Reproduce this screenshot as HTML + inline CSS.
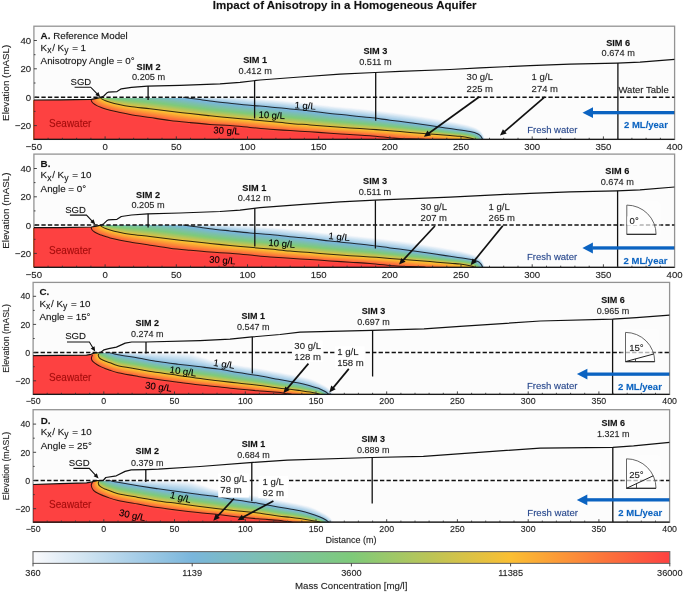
<!DOCTYPE html>
<html><head><meta charset="utf-8"><style>
html,body{margin:0;padding:0;background:#fff;}
svg{display:block;font-family:"Liberation Sans", sans-serif;will-change:transform;} text{stroke-opacity:0.4;stroke-width:0.3px;}
</style></head><body>
<svg width="685" height="592" viewBox="0 0 685 592">
<rect width="685" height="592" fill="#fff"/>
<text x="344.7" y="8.8" font-size="11.5" font-weight="bold" text-anchor="middle" fill="#111" stroke="#111">Impact of Anisotropy in a Homogeneous Aquifer</text>
<clipPath id="axA"><rect x="33.9" y="26.2" width="640.7" height="113.2"/></clipPath>
<clipPath id="satA"><polygon points="28.9,100.5 33.9,100.5 60.0,100.4 91.4,99.8 96.5,98.9 100.9,98.0 102.4,97.9 679.6,97.9 679.6,144.4 28.9,144.4"/></clipPath>
<rect x="33.9" y="26.2" width="640.7" height="113.2" fill="#fcfcfc"/>
<g clip-path="url(#axA)"><g clip-path="url(#satA)">
<polygon points="28.9,100.0 100.0,96.0 103.6,96.0 107.3,96.0 110.9,96.0 114.6,96.0 118.2,96.0 121.8,96.0 125.5,96.0 129.1,96.0 132.7,96.0 136.4,96.0 140.0,96.0 143.7,96.0 147.3,96.0 150.9,96.0 154.6,96.0 158.2,96.0 161.9,96.0 165.5,96.0 169.1,96.0 172.8,96.0 176.4,96.0 180.0,96.0 183.7,96.0 187.3,96.0 191.0,96.0 194.6,96.0 198.2,96.1 201.9,96.1 205.5,96.1 209.2,96.1 212.8,96.2 216.4,96.2 220.1,96.3 223.7,96.3 227.3,96.4 231.0,96.5 234.6,96.7 238.2,96.9 241.9,97.1 245.5,97.3 249.1,97.6 252.8,97.9 256.4,98.2 260.0,98.5 263.6,98.8 267.3,99.0 270.9,99.3 274.5,99.6 278.2,99.9 281.8,100.2 285.4,100.6 289.0,100.9 292.6,101.3 296.3,101.7 299.9,102.1 303.5,102.5 307.1,102.9 310.7,103.3 314.3,103.7 317.9,104.2 321.6,104.6 325.2,105.0 328.8,105.4 332.4,105.7 336.0,106.1 339.7,106.5 343.3,106.8 346.9,107.2 350.5,107.5 354.1,107.9 357.8,108.2 361.4,108.6 365.0,109.0 368.6,109.3 372.2,109.8 375.8,110.2 379.5,110.6 383.1,111.0 386.7,111.4 390.3,111.9 393.9,112.3 397.5,112.8 401.1,113.3 404.7,113.8 408.3,114.3 411.9,114.8 415.5,115.3 419.1,115.9 422.7,116.4 426.3,117.0 429.9,117.6 433.5,118.2 437.1,118.7 440.7,119.4 444.3,120.0 447.8,120.6 451.4,121.3 455.0,121.9 458.6,122.6 462.1,123.4 465.7,124.2 469.2,125.2 472.6,126.4 476.0,127.7 479.2,129.4 481.8,132.0 483.5,135.2 484.8,138.6 486.0,142.0 486.0,149.4 28.9,149.4" fill="#fafafc"/>
<polygon points="28.9,100.0 100.1,96.1 103.7,96.0 107.3,95.9 110.9,95.8 114.5,95.8 118.2,95.7 121.8,95.7 125.4,95.7 129.1,95.7 132.7,95.7 136.3,95.7 140.0,95.7 143.6,95.7 147.2,95.7 150.9,95.8 154.5,95.8 158.1,95.8 161.8,95.8 165.4,95.9 169.0,95.9 172.7,96.0 176.3,96.0 179.9,96.1 183.6,96.1 187.2,96.2 190.8,96.2 194.5,96.3 198.1,96.3 201.7,96.4 205.3,96.4 209.0,96.5 212.6,96.6 216.2,96.6 219.9,96.7 223.5,96.8 227.1,96.9 230.8,97.1 234.4,97.2 238.0,97.4 241.6,97.7 245.3,97.9 248.9,98.2 252.5,98.5 256.1,98.8 259.8,99.1 263.4,99.4 267.0,99.7 270.6,99.9 274.3,100.2 277.9,100.5 281.5,100.8 285.1,101.2 288.7,101.5 292.3,101.9 296.0,102.3 299.6,102.7 303.2,103.1 306.8,103.5 310.4,103.9 314.0,104.3 317.6,104.8 321.2,105.2 324.8,105.6 328.5,106.0 332.1,106.4 335.7,106.7 339.3,107.1 342.9,107.5 346.5,107.8 350.1,108.1 353.8,108.5 357.4,108.8 361.0,109.2 364.6,109.6 368.2,110.0 371.8,110.4 375.4,110.8 379.1,111.2 382.7,111.6 386.3,112.1 389.9,112.5 393.5,113.0 397.1,113.4 400.7,113.9 404.3,114.4 407.9,114.9 411.5,115.4 415.1,115.9 418.7,116.5 422.3,117.0 425.9,117.6 429.4,118.2 433.0,118.7 436.6,119.3 440.2,119.9 443.8,120.5 447.4,121.2 450.9,121.8 454.5,122.5 458.1,123.2 461.6,123.9 465.2,124.7 468.7,125.7 472.1,126.8 475.6,128.0 478.7,129.7 481.4,132.1 483.2,135.2 484.6,138.6 485.8,142.0 485.8,149.4 28.9,149.4" fill="#f1f5fa"/>
<polygon points="28.9,100.0 100.1,96.2 103.7,96.0 107.3,95.7 110.9,95.6 114.5,95.5 118.1,95.5 121.8,95.5 125.4,95.5 129.0,95.5 132.7,95.5 136.3,95.5 139.9,95.5 143.5,95.5 147.2,95.5 150.8,95.6 154.4,95.6 158.1,95.7 161.7,95.7 165.3,95.8 168.9,95.9 172.6,95.9 176.2,96.0 179.8,96.1 183.4,96.2 187.1,96.3 190.7,96.4 194.3,96.5 197.9,96.6 201.6,96.7 205.2,96.8 208.8,96.9 212.4,97.0 216.0,97.1 219.7,97.2 223.3,97.3 226.9,97.5 230.5,97.6 234.2,97.8 237.8,98.0 241.4,98.3 245.0,98.5 248.7,98.8 252.3,99.1 255.9,99.4 259.5,99.7 263.1,100.0 266.7,100.3 270.4,100.5 274.0,100.8 277.6,101.2 281.2,101.5 284.8,101.8 288.4,102.2 292.0,102.5 295.7,102.9 299.3,103.3 302.9,103.7 306.5,104.1 310.1,104.5 313.7,104.9 317.3,105.4 320.9,105.8 324.5,106.2 328.1,106.6 331.7,107.0 335.3,107.4 338.9,107.7 342.5,108.1 346.2,108.4 349.8,108.8 353.4,109.1 357.0,109.5 360.6,109.8 364.2,110.2 367.8,110.6 371.4,111.0 375.0,111.4 378.6,111.8 382.2,112.3 385.9,112.7 389.5,113.2 393.1,113.6 396.7,114.1 400.3,114.5 403.9,115.0 407.4,115.5 411.0,116.0 414.6,116.5 418.2,117.1 421.8,117.6 425.4,118.2 429.0,118.8 432.6,119.3 436.1,119.9 439.7,120.5 443.3,121.1 446.9,121.7 450.5,122.4 454.0,123.0 457.6,123.7 461.1,124.4 464.7,125.2 468.2,126.1 471.7,127.2 475.1,128.3 478.3,129.9 481.0,132.2 483.0,135.2 484.4,138.6 485.5,142.0 485.5,149.4 28.9,149.4" fill="#e7f0f7"/>
<polygon points="28.9,100.0 100.2,96.3 103.7,95.9 107.3,95.6 110.9,95.4 114.5,95.3 118.1,95.3 121.7,95.2 125.4,95.2 129.0,95.2 132.6,95.2 136.2,95.2 139.9,95.2 143.5,95.3 147.1,95.3 150.7,95.4 154.4,95.4 158.0,95.5 161.6,95.6 165.2,95.7 168.8,95.8 172.5,95.9 176.1,96.0 179.7,96.2 183.3,96.3 186.9,96.4 190.5,96.6 194.2,96.7 197.8,96.8 201.4,97.0 205.0,97.1 208.6,97.2 212.2,97.4 215.9,97.5 219.5,97.7 223.1,97.8 226.7,98.0 230.3,98.2 234.0,98.4 237.6,98.6 241.2,98.9 244.8,99.1 248.4,99.4 252.0,99.8 255.6,100.1 259.2,100.3 262.9,100.6 266.5,100.9 270.1,101.2 273.7,101.5 277.3,101.8 280.9,102.1 284.5,102.5 288.1,102.8 291.7,103.2 295.3,103.6 299.0,103.9 302.6,104.3 306.2,104.7 309.8,105.1 313.4,105.5 317.0,106.0 320.6,106.4 324.2,106.8 327.8,107.2 331.4,107.6 335.0,108.0 338.6,108.3 342.2,108.7 345.8,109.0 349.4,109.4 353.0,109.7 356.6,110.1 360.2,110.5 363.8,110.8 367.4,111.2 371.0,111.6 374.6,112.1 378.2,112.5 381.8,112.9 385.4,113.4 389.0,113.8 392.6,114.3 396.2,114.7 399.8,115.2 403.4,115.7 407.0,116.2 410.6,116.7 414.2,117.2 417.8,117.7 421.4,118.2 424.9,118.8 428.5,119.3 432.1,119.9 435.7,120.5 439.2,121.1 442.8,121.7 446.4,122.3 450.0,122.9 453.5,123.6 457.1,124.2 460.7,124.9 464.2,125.7 467.7,126.6 471.2,127.5 474.6,128.7 477.9,130.2 480.7,132.4 482.7,135.3 484.1,138.6 485.2,142.0 485.2,149.4 28.9,149.4" fill="#deebf5"/>
<polygon points="28.9,100.0 100.2,96.4 103.7,95.9 107.3,95.5 110.9,95.2 114.5,95.1 118.1,95.0 121.7,95.0 125.3,94.9 129.0,94.9 132.6,94.9 136.2,95.0 139.8,95.0 143.4,95.0 147.1,95.1 150.7,95.2 154.3,95.3 157.9,95.4 161.5,95.5 165.1,95.6 168.7,95.8 172.4,95.9 176.0,96.1 179.6,96.2 183.2,96.4 186.8,96.6 190.4,96.7 194.0,96.9 197.6,97.1 201.2,97.2 204.8,97.4 208.4,97.6 212.1,97.8 215.7,98.0 219.3,98.1 222.9,98.3 226.5,98.5 230.1,98.7 233.7,98.9 237.3,99.2 241.0,99.5 244.6,99.7 248.2,100.1 251.8,100.4 255.4,100.7 259.0,101.0 262.6,101.2 266.2,101.5 269.8,101.8 273.4,102.1 277.0,102.4 280.6,102.7 284.2,103.1 287.8,103.4 291.4,103.8 295.0,104.2 298.6,104.6 302.2,105.0 305.8,105.3 309.4,105.7 313.0,106.1 316.6,106.6 320.2,107.0 323.8,107.4 327.4,107.8 331.0,108.2 334.6,108.6 338.2,109.0 341.8,109.3 345.4,109.7 349.0,110.0 352.6,110.4 356.2,110.7 359.8,111.1 363.4,111.5 367.0,111.9 370.6,112.3 374.2,112.7 377.8,113.1 381.4,113.5 385.0,114.0 388.6,114.4 392.2,114.9 395.8,115.4 399.4,115.8 403.0,116.3 406.6,116.8 410.1,117.3 413.7,117.8 417.3,118.3 420.9,118.8 424.5,119.4 428.0,119.9 431.6,120.5 435.2,121.1 438.8,121.7 442.3,122.3 445.9,122.9 449.5,123.5 453.0,124.1 456.6,124.8 460.2,125.4 463.7,126.2 467.2,127.0 470.7,127.9 474.1,129.0 477.4,130.4 480.3,132.5 482.4,135.3 483.9,138.6 485.0,142.0 485.0,149.4 28.9,149.4" fill="#d4e6f3"/>
<polygon points="28.9,100.0 100.3,96.5 103.8,95.9 107.3,95.4 110.9,95.0 114.5,94.9 118.1,94.8 121.7,94.7 125.3,94.7 128.9,94.7 132.5,94.7 136.1,94.7 139.8,94.7 143.4,94.8 147.0,94.9 150.6,95.0 154.2,95.1 157.8,95.2 161.4,95.4 165.0,95.5 168.6,95.7 172.3,95.9 175.9,96.1 179.5,96.3 183.1,96.5 186.7,96.7 190.3,96.9 193.9,97.1 197.5,97.3 201.1,97.5 204.7,97.8 208.3,98.0 211.9,98.2 215.5,98.4 219.1,98.6 222.7,98.8 226.3,99.0 229.9,99.2 233.5,99.5 237.1,99.8 240.7,100.0 244.3,100.3 247.9,100.7 251.5,101.0 255.1,101.3 258.7,101.6 262.3,101.8 265.9,102.1 269.6,102.4 273.2,102.7 276.8,103.0 280.4,103.4 284.0,103.7 287.5,104.1 291.1,104.5 294.7,104.8 298.3,105.2 301.9,105.6 305.5,105.9 309.1,106.3 312.7,106.7 316.3,107.2 319.9,107.6 323.5,108.0 327.1,108.4 330.7,108.9 334.3,109.2 337.9,109.6 341.5,109.9 345.1,110.3 348.7,110.6 352.3,111.0 355.9,111.4 359.5,111.7 363.1,112.1 366.6,112.5 370.2,112.9 373.8,113.3 377.4,113.7 381.0,114.2 384.6,114.6 388.2,115.1 391.8,115.5 395.4,116.0 398.9,116.5 402.5,116.9 406.1,117.4 409.7,117.9 413.3,118.4 416.9,118.9 420.4,119.4 424.0,120.0 427.6,120.5 431.2,121.1 434.7,121.7 438.3,122.2 441.9,122.8 445.4,123.4 449.0,124.0 452.6,124.7 456.1,125.3 459.7,125.9 463.2,126.6 466.7,127.4 470.2,128.3 473.7,129.3 477.0,130.7 479.9,132.6 482.1,135.3 483.7,138.5 484.8,142.0 484.8,149.4 28.9,149.4" fill="#cbe1f0"/>
<polygon points="28.9,100.0 100.3,96.7 103.8,95.9 107.3,95.2 110.8,94.8 114.4,94.6 118.0,94.5 121.7,94.5 125.3,94.4 128.9,94.4 132.5,94.4 136.1,94.4 139.7,94.5 143.3,94.5 146.9,94.6 150.5,94.8 154.1,94.9 157.7,95.1 161.3,95.3 165.0,95.5 168.6,95.6 172.2,95.9 175.7,96.1 179.3,96.3 182.9,96.6 186.5,96.8 190.1,97.1 193.7,97.3 197.3,97.6 200.9,97.8 204.5,98.1 208.1,98.4 211.7,98.6 215.3,98.8 218.9,99.1 222.5,99.3 226.1,99.5 229.7,99.8 233.3,100.0 236.9,100.3 240.5,100.6 244.1,101.0 247.7,101.3 251.3,101.6 254.9,101.9 258.5,102.2 262.1,102.5 265.7,102.7 269.3,103.0 272.9,103.3 276.5,103.6 280.1,104.0 283.7,104.3 287.3,104.7 290.8,105.1 294.4,105.5 298.0,105.8 301.6,106.2 305.2,106.6 308.8,106.9 312.4,107.3 316.0,107.8 319.6,108.2 323.2,108.6 326.7,109.1 330.3,109.5 333.9,109.9 337.5,110.2 341.1,110.6 344.7,110.9 348.3,111.3 351.9,111.6 355.5,112.0 359.1,112.3 362.7,112.7 366.3,113.1 369.8,113.5 373.4,113.9 377.0,114.4 380.6,114.8 384.2,115.3 387.8,115.7 391.3,116.2 394.9,116.6 398.5,117.1 402.1,117.6 405.7,118.0 409.3,118.5 412.8,119.0 416.4,119.5 420.0,120.0 423.5,120.6 427.1,121.1 430.7,121.7 434.3,122.2 437.8,122.8 441.4,123.4 444.9,124.0 448.5,124.6 452.1,125.2 455.6,125.8 459.2,126.4 462.7,127.1 466.2,127.9 469.7,128.7 473.2,129.7 476.5,130.9 479.5,132.8 481.9,135.4 483.5,138.5 484.5,142.0 484.5,149.4 28.9,149.4" fill="#c2dcee"/>
<polygon points="28.9,100.0 100.4,96.8 103.8,95.9 107.3,95.1 110.8,94.6 114.4,94.4 118.0,94.3 121.6,94.2 125.2,94.2 128.8,94.2 132.4,94.2 136.1,94.2 139.7,94.2 143.3,94.3 146.9,94.4 150.5,94.6 154.1,94.7 157.7,94.9 161.3,95.2 164.9,95.4 168.5,95.6 172.0,95.8 175.6,96.1 179.2,96.4 182.8,96.7 186.4,97.0 190.0,97.3 193.6,97.5 197.2,97.8 200.8,98.1 204.3,98.4 207.9,98.7 211.5,99.0 215.1,99.3 218.7,99.5 222.3,99.8 225.9,100.1 229.5,100.3 233.1,100.6 236.7,100.9 240.3,101.2 243.8,101.6 247.4,101.9 251.0,102.2 254.6,102.5 258.2,102.8 261.8,103.1 265.4,103.3 269.0,103.6 272.6,103.9 276.2,104.3 279.8,104.6 283.4,105.0 287.0,105.4 290.5,105.7 294.1,106.1 297.7,106.4 301.3,106.8 304.9,107.2 308.5,107.5 312.1,107.9 315.7,108.4 319.2,108.8 322.8,109.2 326.4,109.7 330.0,110.1 333.6,110.5 337.2,110.8 340.7,111.2 344.3,111.5 347.9,111.9 351.5,112.2 355.1,112.6 358.7,113.0 362.3,113.4 365.9,113.7 369.4,114.2 373.0,114.6 376.6,115.0 380.2,115.5 383.8,115.9 387.3,116.4 390.9,116.8 394.5,117.3 398.1,117.7 401.7,118.2 405.2,118.7 408.8,119.1 412.4,119.6 415.9,120.1 419.5,120.7 423.1,121.2 426.7,121.7 430.2,122.3 433.8,122.8 437.3,123.4 440.9,124.0 444.5,124.5 448.0,125.1 451.6,125.7 455.1,126.3 458.7,127.0 462.2,127.6 465.8,128.3 469.3,129.1 472.7,130.0 476.1,131.2 479.2,132.9 481.6,135.4 483.3,138.5 484.2,142.0 484.2,149.4 28.9,149.4" fill="#b8d7ec"/>
<polygon points="28.9,100.0 100.5,96.9 103.8,95.8 107.3,95.0 110.8,94.5 114.4,94.2 118.0,94.1 121.6,94.0 125.2,93.9 128.8,93.9 132.4,93.9 136.0,93.9 139.6,94.0 143.2,94.1 146.8,94.2 150.4,94.4 154.0,94.6 157.6,94.8 161.2,95.0 164.8,95.3 168.4,95.5 171.9,95.8 175.5,96.1 179.1,96.5 182.7,96.8 186.3,97.1 189.9,97.4 193.4,97.7 197.0,98.1 200.6,98.4 204.2,98.8 207.7,99.1 211.3,99.4 214.9,99.7 218.5,100.0 222.1,100.3 225.7,100.6 229.3,100.9 232.9,101.2 236.4,101.5 240.0,101.8 243.6,102.2 247.2,102.5 250.8,102.8 254.4,103.1 258.0,103.4 261.6,103.7 265.2,104.0 268.7,104.2 272.3,104.5 275.9,104.9 279.5,105.2 283.1,105.6 286.7,106.0 290.3,106.4 293.8,106.7 297.4,107.1 301.0,107.4 304.6,107.8 308.2,108.2 311.8,108.5 315.3,109.0 318.9,109.4 322.5,109.9 326.1,110.3 329.6,110.7 333.2,111.1 336.8,111.5 340.4,111.8 344.0,112.2 347.6,112.5 351.1,112.9 354.7,113.2 358.3,113.6 361.9,114.0 365.5,114.4 369.0,114.8 372.6,115.2 376.2,115.6 379.8,116.1 383.3,116.6 386.9,117.0 390.5,117.5 394.1,117.9 397.6,118.4 401.2,118.8 404.8,119.3 408.4,119.8 411.9,120.2 415.5,120.7 419.1,121.3 422.6,121.8 426.2,122.3 429.7,122.8 433.3,123.4 436.9,124.0 440.4,124.5 444.0,125.1 447.5,125.7 451.1,126.3 454.6,126.9 458.2,127.5 461.7,128.1 465.3,128.8 468.8,129.5 472.3,130.3 475.7,131.4 478.8,133.1 481.3,135.4 483.1,138.5 484.0,142.0 484.0,149.4 28.9,149.4" fill="#afd2e9"/>
<polygon points="28.9,100.0 100.5,97.0 103.9,95.8 107.3,94.8 110.8,94.3 114.4,94.0 118.0,93.8 121.6,93.7 125.2,93.7 128.8,93.6 132.4,93.6 136.0,93.7 139.6,93.7 143.2,93.8 146.7,94.0 150.3,94.2 153.9,94.4 157.5,94.7 161.1,94.9 164.7,95.2 168.3,95.5 171.8,95.8 175.4,96.2 179.0,96.5 182.6,96.9 186.1,97.2 189.7,97.6 193.3,98.0 196.9,98.3 200.4,98.7 204.0,99.1 207.6,99.5 211.1,99.8 214.7,100.2 218.3,100.5 221.9,100.8 225.5,101.1 229.1,101.4 232.6,101.7 236.2,102.1 239.8,102.4 243.4,102.8 247.0,103.1 250.5,103.4 254.1,103.7 257.7,104.0 261.3,104.3 264.9,104.6 268.5,104.9 272.1,105.2 275.6,105.5 279.2,105.9 282.8,106.2 286.4,106.6 290.0,107.0 293.5,107.4 297.1,107.7 300.7,108.0 304.3,108.4 307.9,108.8 311.4,109.1 315.0,109.6 318.6,110.0 322.1,110.5 325.7,110.9 329.3,111.3 332.9,111.7 336.4,112.1 340.0,112.4 343.6,112.8 347.2,113.1 350.8,113.5 354.3,113.9 357.9,114.2 361.5,114.6 365.1,115.0 368.6,115.4 372.2,115.8 375.8,116.3 379.4,116.7 382.9,117.2 386.5,117.7 390.1,118.1 393.6,118.6 397.2,119.0 400.8,119.5 404.3,119.9 407.9,120.4 411.5,120.9 415.0,121.4 418.6,121.9 422.2,122.4 425.7,122.9 429.3,123.4 432.8,124.0 436.4,124.5 439.9,125.1 443.5,125.7 447.0,126.3 450.6,126.8 454.1,127.4 457.7,128.0 461.2,128.6 464.8,129.2 468.3,129.9 471.8,130.7 475.2,131.7 478.4,133.2 481.1,135.4 482.8,138.5 483.8,142.0 483.8,149.4 28.9,149.4" fill="#a6cde7"/>
<polygon points="28.9,100.0 100.6,97.1 103.9,95.8 107.3,94.7 110.8,94.1 114.4,93.7 118.0,93.6 121.5,93.5 125.1,93.4 128.7,93.4 132.3,93.4 135.9,93.4 139.5,93.5 143.1,93.6 146.7,93.8 150.3,94.0 153.9,94.2 157.4,94.5 161.0,94.8 164.6,95.1 168.2,95.4 171.7,95.8 175.3,96.2 178.9,96.6 182.4,97.0 186.0,97.4 189.6,97.8 193.1,98.2 196.7,98.6 200.3,99.0 203.8,99.4 207.4,99.9 211.0,100.3 214.5,100.6 218.1,100.9 221.7,101.3 225.3,101.6 228.8,101.9 232.4,102.3 236.0,102.6 239.6,103.0 243.1,103.4 246.7,103.7 250.3,104.1 253.9,104.4 257.5,104.6 261.0,104.9 264.6,105.2 268.2,105.5 271.8,105.8 275.4,106.1 278.9,106.5 282.5,106.9 286.1,107.3 289.7,107.6 293.2,108.0 296.8,108.3 300.4,108.7 304.0,109.0 307.5,109.4 311.1,109.8 314.7,110.2 318.2,110.6 321.8,111.1 325.4,111.5 328.9,112.0 332.5,112.4 336.1,112.7 339.7,113.1 343.2,113.4 346.8,113.8 350.4,114.1 354.0,114.5 357.5,114.9 361.1,115.2 364.7,115.6 368.3,116.0 371.8,116.5 375.4,116.9 378.9,117.4 382.5,117.8 386.1,118.3 389.6,118.8 393.2,119.2 396.8,119.7 400.3,120.1 403.9,120.6 407.5,121.0 411.0,121.5 414.6,122.0 418.1,122.5 421.7,123.0 425.3,123.5 428.8,124.0 432.4,124.6 435.9,125.1 439.5,125.7 443.0,126.2 446.6,126.8 450.1,127.4 453.7,127.9 457.2,128.5 460.8,129.0 464.3,129.6 467.8,130.3 471.3,131.0 474.8,131.9 478.0,133.3 480.8,135.5 482.6,138.5 483.5,142.0 483.5,149.4 28.9,149.4" fill="#9cc8e5"/>
<polygon points="28.9,100.0 100.6,97.2 103.9,95.8 107.3,94.6 110.8,93.9 114.3,93.5 117.9,93.3 121.5,93.2 125.1,93.1 128.7,93.1 132.3,93.1 135.9,93.2 139.5,93.2 143.0,93.4 146.6,93.5 150.2,93.8 153.8,94.1 157.4,94.4 160.9,94.7 164.5,95.0 168.1,95.4 171.6,95.8 175.2,96.2 178.8,96.6 182.3,97.1 185.9,97.5 189.4,98.0 193.0,98.4 196.6,98.8 200.1,99.3 203.7,99.8 207.2,100.2 210.8,100.7 214.3,101.0 217.9,101.4 221.5,101.8 225.1,102.1 228.6,102.5 232.2,102.9 235.8,103.2 239.3,103.6 242.9,104.0 246.5,104.3 250.0,104.7 253.6,105.0 257.2,105.3 260.8,105.5 264.4,105.8 267.9,106.1 271.5,106.4 275.1,106.8 278.6,107.1 282.2,107.5 285.8,107.9 289.4,108.3 292.9,108.6 296.5,109.0 300.1,109.3 303.6,109.6 307.2,110.0 310.8,110.4 314.3,110.8 317.9,111.2 321.5,111.7 325.0,112.1 328.6,112.6 332.2,113.0 335.7,113.3 339.3,113.7 342.9,114.0 346.4,114.4 350.0,114.7 353.6,115.1 357.2,115.5 360.7,115.9 364.3,116.3 367.9,116.7 371.4,117.1 375.0,117.5 378.5,118.0 382.1,118.5 385.7,118.9 389.2,119.4 392.8,119.9 396.3,120.3 399.9,120.7 403.5,121.2 407.0,121.6 410.6,122.1 414.1,122.6 417.7,123.1 421.2,123.6 424.8,124.1 428.3,124.6 431.9,125.1 435.4,125.7 439.0,126.2 442.5,126.8 446.1,127.4 449.6,127.9 453.2,128.5 456.7,129.0 460.3,129.5 463.8,130.1 467.3,130.7 470.9,131.3 474.3,132.2 477.7,133.5 480.5,135.5 482.4,138.5 483.2,142.0 483.2,149.4 28.9,149.4" fill="#93c3e2"/>
<polygon points="28.9,100.0 100.7,97.3 103.9,95.7 107.3,94.5 110.8,93.7 114.3,93.3 117.9,93.1 121.5,93.0 125.1,92.9 128.7,92.9 132.2,92.9 135.8,92.9 139.4,93.0 143.0,93.1 146.6,93.3 150.1,93.6 153.7,93.9 157.3,94.2 160.8,94.6 164.4,94.9 168.0,95.3 171.5,95.7 175.1,96.2 178.6,96.7 182.2,97.2 185.7,97.7 189.3,98.1 192.8,98.6 196.4,99.1 200.0,99.6 203.5,100.1 207.0,100.6 210.6,101.1 214.2,101.5 217.7,101.9 221.3,102.3 224.8,102.6 228.4,103.0 232.0,103.4 235.5,103.8 239.1,104.2 242.7,104.6 246.2,104.9 249.8,105.3 253.4,105.6 256.9,105.9 260.5,106.1 264.1,106.4 267.7,106.7 271.2,107.0 274.8,107.4 278.4,107.8 281.9,108.1 285.5,108.5 289.1,108.9 292.6,109.3 296.2,109.6 299.8,109.9 303.3,110.2 306.9,110.6 310.5,111.0 314.0,111.4 317.6,111.8 321.1,112.3 324.7,112.8 328.2,113.2 331.8,113.6 335.4,114.0 338.9,114.3 342.5,114.7 346.1,115.0 349.6,115.4 353.2,115.7 356.8,116.1 360.3,116.5 363.9,116.9 367.5,117.3 371.0,117.7 374.6,118.2 378.1,118.6 381.7,119.1 385.2,119.6 388.8,120.0 392.3,120.5 395.9,120.9 399.5,121.4 403.0,121.8 406.6,122.3 410.1,122.7 413.7,123.2 417.2,123.7 420.8,124.2 424.3,124.7 427.9,125.2 431.4,125.7 435.0,126.3 438.5,126.8 442.0,127.4 445.6,127.9 449.1,128.5 452.7,129.0 456.2,129.5 459.8,130.0 463.3,130.5 466.9,131.1 470.4,131.7 473.9,132.4 477.3,133.6 480.2,135.5 482.2,138.5 483.0,142.0 483.0,149.4 28.9,149.4" fill="#89bee0"/>
<polygon points="28.9,100.0 100.7,97.3 103.9,95.9 107.3,94.7 110.7,94.0 114.3,93.7 117.9,93.5 121.4,93.4 125.0,93.4 128.6,93.4 132.2,93.4 135.8,93.5 139.3,93.5 142.9,93.7 146.5,93.9 150.1,94.2 153.6,94.5 157.2,94.8 160.8,95.2 164.3,95.5 167.9,95.9 171.4,96.3 175.0,96.8 178.5,97.3 182.1,97.8 185.6,98.2 189.2,98.7 192.7,99.2 196.3,99.7 199.8,100.1 203.4,100.7 206.9,101.2 210.5,101.6 214.0,102.0 217.6,102.4 221.1,102.8 224.7,103.2 228.3,103.6 231.8,104.0 235.4,104.3 239.0,104.7 242.5,105.1 246.1,105.5 249.6,105.8 253.2,106.1 256.8,106.4 260.3,106.7 263.9,106.9 267.5,107.2 271.1,107.6 274.6,107.9 278.2,108.3 281.7,108.7 285.3,109.1 288.9,109.4 292.4,109.8 296.0,110.1 299.6,110.4 303.1,110.8 306.7,111.1 310.2,111.5 313.8,111.9 317.4,112.3 320.9,112.8 324.5,113.2 328.0,113.7 331.6,114.1 335.1,114.4 338.7,114.8 342.3,115.1 345.8,115.5 349.4,115.8 353.0,116.2 356.5,116.6 360.1,117.0 363.6,117.3 367.2,117.7 370.7,118.2 374.3,118.6 377.9,119.0 381.4,119.5 385.0,120.0 388.5,120.4 392.1,120.9 395.6,121.3 399.2,121.7 402.7,122.2 406.3,122.6 409.8,123.1 413.4,123.5 416.9,124.0 420.5,124.5 424.0,125.0 427.6,125.5 431.1,126.0 434.7,126.5 438.2,127.1 441.7,127.6 445.3,128.2 448.8,128.7 452.3,129.2 455.9,129.7 459.4,130.2 463.0,130.7 466.5,131.3 470.1,131.9 473.6,132.6 476.9,133.7 479.9,135.7 481.9,138.6 482.8,142.0 482.8,149.4 28.9,149.4" fill="#80b9dd"/>
<polygon points="28.9,100.0 100.7,97.4 103.9,96.1 107.2,95.0 110.7,94.4 114.3,94.1 117.8,93.9 121.4,93.9 125.0,93.9 128.6,93.9 132.1,93.9 135.7,94.0 139.3,94.1 142.9,94.2 146.4,94.5 150.0,94.7 153.6,95.0 157.1,95.4 160.7,95.8 164.2,96.1 167.8,96.5 171.3,96.9 174.9,97.4 178.4,97.9 182.0,98.4 185.5,98.8 189.1,99.3 192.6,99.8 196.2,100.2 199.7,100.7 203.3,101.2 206.8,101.7 210.3,102.2 213.9,102.6 217.5,103.0 221.0,103.4 224.6,103.7 228.1,104.1 231.7,104.5 235.2,104.9 238.8,105.3 242.4,105.6 245.9,106.0 249.5,106.4 253.0,106.7 256.6,106.9 260.2,107.2 263.7,107.5 267.3,107.8 270.9,108.1 274.4,108.5 278.0,108.8 281.5,109.2 285.1,109.6 288.7,110.0 292.2,110.3 295.8,110.7 299.3,111.0 302.9,111.3 306.5,111.6 310.0,112.0 313.6,112.4 317.1,112.8 320.7,113.3 324.2,113.7 327.8,114.2 331.3,114.6 334.9,114.9 338.5,115.3 342.0,115.6 345.6,115.9 349.1,116.3 352.7,116.7 356.3,117.0 359.8,117.4 363.4,117.8 366.9,118.2 370.5,118.6 374.0,119.0 377.6,119.5 381.1,119.9 384.7,120.4 388.2,120.8 391.8,121.2 395.3,121.7 398.9,122.1 402.4,122.5 406.0,123.0 409.5,123.4 413.1,123.9 416.6,124.3 420.2,124.8 423.7,125.3 427.3,125.8 430.8,126.3 434.3,126.8 437.9,127.4 441.4,127.9 444.9,128.4 448.5,129.0 452.0,129.5 455.6,130.0 459.1,130.4 462.7,130.9 466.2,131.5 469.7,132.1 473.2,132.8 476.6,133.9 479.6,135.8 481.7,138.6 482.6,142.0 482.6,149.4 28.9,149.4" fill="#7ab7d9"/>
<polygon points="28.9,100.0 100.7,97.4 103.9,96.2 107.2,95.3 110.7,94.7 114.3,94.5 117.8,94.4 121.4,94.3 124.9,94.3 128.5,94.4 132.1,94.5 135.7,94.5 139.2,94.7 142.8,94.8 146.4,95.0 149.9,95.3 153.5,95.6 157.0,96.0 160.6,96.3 164.2,96.7 167.7,97.1 171.3,97.5 174.8,98.0 178.3,98.5 181.9,98.9 185.4,99.4 189.0,99.9 192.5,100.3 196.1,100.8 199.6,101.3 203.1,101.8 206.7,102.3 210.2,102.7 213.8,103.1 217.3,103.5 220.9,103.9 224.4,104.3 228.0,104.7 231.5,105.0 235.1,105.4 238.6,105.8 242.2,106.2 245.8,106.5 249.3,106.9 252.9,107.2 256.4,107.5 260.0,107.8 263.6,108.0 267.1,108.3 270.7,108.6 274.2,109.0 277.8,109.4 281.4,109.8 284.9,110.1 288.5,110.5 292.0,110.9 295.6,111.2 299.1,111.5 302.7,111.8 306.3,112.2 309.8,112.5 313.4,112.9 316.9,113.4 320.5,113.8 324.0,114.2 327.6,114.7 331.1,115.0 334.7,115.4 338.2,115.7 341.8,116.1 345.3,116.4 348.9,116.8 352.4,117.1 356.0,117.5 359.6,117.9 363.1,118.2 366.7,118.6 370.2,119.0 373.8,119.4 377.3,119.9 380.9,120.3 384.4,120.8 387.9,121.2 391.5,121.6 395.0,122.0 398.6,122.5 402.1,122.9 405.7,123.3 409.2,123.8 412.8,124.2 416.3,124.7 419.9,125.1 423.4,125.6 427.0,126.1 430.5,126.6 434.0,127.1 437.6,127.6 441.1,128.2 444.6,128.7 448.2,129.2 451.7,129.7 455.2,130.2 458.8,130.7 462.3,131.1 465.9,131.6 469.4,132.2 472.9,133.0 476.3,134.1 479.3,135.9 481.4,138.7 482.4,142.0 482.4,149.4 28.9,149.4" fill="#7ab8d1"/>
<polygon points="28.9,100.0 100.7,97.5 103.9,96.4 107.2,95.5 110.7,95.0 114.2,94.8 117.8,94.8 121.3,94.8 124.9,94.8 128.5,94.9 132.0,95.0 135.6,95.1 139.2,95.2 142.7,95.4 146.3,95.6 149.9,95.9 153.4,96.2 157.0,96.6 160.5,96.9 164.1,97.3 167.6,97.7 171.2,98.1 174.7,98.6 178.2,99.1 181.8,99.5 185.3,100.0 188.9,100.4 192.4,100.9 195.9,101.4 199.5,101.9 203.0,102.4 206.5,102.9 210.1,103.3 213.6,103.7 217.2,104.1 220.7,104.5 224.3,104.8 227.8,105.2 231.4,105.6 234.9,106.0 238.5,106.3 242.0,106.7 245.6,107.1 249.2,107.4 252.7,107.7 256.3,108.0 259.8,108.3 263.4,108.6 266.9,108.9 270.5,109.2 274.1,109.5 277.6,109.9 281.2,110.3 284.7,110.7 288.3,111.0 291.8,111.4 295.4,111.7 298.9,112.0 302.5,112.4 306.0,112.7 309.6,113.0 313.1,113.4 316.7,113.9 320.2,114.3 323.8,114.7 327.3,115.1 330.9,115.5 334.4,115.9 338.0,116.2 341.5,116.6 345.1,116.9 348.6,117.2 352.2,117.6 355.7,117.9 359.3,118.3 362.9,118.7 366.4,119.0 369.9,119.4 373.5,119.8 377.0,120.3 380.6,120.7 384.1,121.1 387.7,121.6 391.2,122.0 394.8,122.4 398.3,122.8 401.9,123.2 405.4,123.7 408.9,124.1 412.5,124.6 416.0,125.0 419.6,125.5 423.1,125.9 426.6,126.4 430.2,126.9 433.7,127.4 437.2,127.9 440.8,128.4 444.3,128.9 447.8,129.4 451.4,129.9 454.9,130.4 458.5,130.9 462.0,131.3 465.5,131.8 469.1,132.4 472.5,133.2 475.9,134.2 479.0,136.0 481.1,138.7 482.2,142.0 482.2,149.4 28.9,149.4" fill="#7bbaca"/>
<polygon points="28.9,100.0 100.7,97.5 103.9,96.6 107.2,95.8 110.7,95.4 114.2,95.2 117.8,95.2 121.3,95.2 124.9,95.3 128.4,95.4 132.0,95.5 135.5,95.6 139.1,95.8 142.7,95.9 146.2,96.2 149.8,96.5 153.3,96.8 156.9,97.1 160.4,97.5 164.0,97.9 167.5,98.3 171.1,98.7 174.6,99.2 178.1,99.6 181.7,100.1 185.2,100.6 188.8,101.0 192.3,101.5 195.8,101.9 199.4,102.4 202.9,102.9 206.4,103.4 210.0,103.8 213.5,104.3 217.1,104.6 220.6,105.0 224.2,105.4 227.7,105.8 231.2,106.1 234.8,106.5 238.3,106.9 241.9,107.3 245.4,107.6 249.0,108.0 252.5,108.3 256.1,108.6 259.7,108.8 263.2,109.1 266.8,109.4 270.3,109.7 273.9,110.1 277.4,110.4 281.0,110.8 284.5,111.2 288.1,111.6 291.6,111.9 295.2,112.3 298.7,112.6 302.3,112.9 305.8,113.2 309.4,113.6 312.9,114.0 316.5,114.4 320.0,114.8 323.5,115.2 327.1,115.6 330.6,116.0 334.2,116.4 337.7,116.7 341.3,117.0 344.8,117.4 348.4,117.7 351.9,118.1 355.5,118.4 359.0,118.8 362.6,119.1 366.1,119.5 369.7,119.9 373.2,120.3 376.8,120.7 380.3,121.1 383.9,121.5 387.4,122.0 390.9,122.4 394.5,122.8 398.0,123.2 401.6,123.6 405.1,124.0 408.6,124.5 412.2,124.9 415.7,125.3 419.3,125.8 422.8,126.3 426.3,126.7 429.9,127.2 433.4,127.7 436.9,128.2 440.5,128.7 444.0,129.2 447.5,129.7 451.1,130.2 454.6,130.6 458.1,131.1 461.7,131.6 465.2,132.0 468.7,132.6 472.2,133.3 475.6,134.4 478.7,136.1 480.8,138.8 482.0,142.0 482.0,149.4 28.9,149.4" fill="#7bbbc2"/>
<polygon points="28.9,100.0 100.7,97.6 103.9,96.7 107.2,96.1 110.7,95.7 114.2,95.6 117.7,95.6 121.3,95.7 124.8,95.8 128.4,95.9 131.9,96.0 135.5,96.2 139.0,96.3 142.6,96.5 146.2,96.8 149.7,97.0 153.3,97.4 156.8,97.7 160.3,98.1 163.9,98.5 167.4,98.9 171.0,99.3 174.5,99.8 178.0,100.2 181.6,100.7 185.1,101.2 188.6,101.6 192.2,102.1 195.7,102.5 199.2,103.0 202.8,103.5 206.3,104.0 209.8,104.4 213.4,104.8 216.9,105.2 220.5,105.6 224.0,105.9 227.6,106.3 231.1,106.7 234.6,107.0 238.2,107.4 241.7,107.8 245.3,108.1 248.8,108.5 252.4,108.8 255.9,109.1 259.5,109.4 263.0,109.6 266.6,109.9 270.1,110.3 273.7,110.6 277.2,111.0 280.8,111.4 284.3,111.7 287.9,112.1 291.4,112.5 295.0,112.8 298.5,113.1 302.1,113.4 305.6,113.7 309.2,114.1 312.7,114.5 316.2,114.9 319.8,115.3 323.3,115.7 326.9,116.1 330.4,116.5 333.9,116.8 337.5,117.2 341.0,117.5 344.6,117.8 348.1,118.2 351.7,118.5 355.2,118.9 358.8,119.2 362.3,119.6 365.9,119.9 369.4,120.3 373.0,120.7 376.5,121.1 380.0,121.5 383.6,121.9 387.1,122.3 390.7,122.8 394.2,123.2 397.7,123.6 401.3,124.0 404.8,124.4 408.4,124.8 411.9,125.2 415.4,125.7 419.0,126.1 422.5,126.6 426.0,127.0 429.6,127.5 433.1,128.0 436.6,128.4 440.1,128.9 443.7,129.4 447.2,129.9 450.7,130.4 454.3,130.9 457.8,131.3 461.3,131.8 464.9,132.2 468.4,132.8 471.9,133.5 475.3,134.5 478.3,136.2 480.6,138.9 481.8,142.0 481.8,149.4 28.9,149.4" fill="#7bbdbb"/>
<polygon points="28.9,100.0 100.7,97.6 103.9,96.9 107.2,96.3 110.7,96.0 114.2,96.0 117.7,96.1 121.2,96.2 124.8,96.3 128.3,96.4 131.9,96.6 135.4,96.7 139.0,96.9 142.5,97.1 146.1,97.3 149.6,97.6 153.2,98.0 156.7,98.3 160.3,98.7 163.8,99.1 167.3,99.5 170.9,99.9 174.4,100.4 177.9,100.8 181.5,101.3 185.0,101.7 188.5,102.2 192.1,102.6 195.6,103.1 199.1,103.6 202.7,104.1 206.2,104.5 209.7,105.0 213.3,105.4 216.8,105.7 220.3,106.1 223.9,106.5 227.4,106.8 231.0,107.2 234.5,107.6 238.0,108.0 241.6,108.3 245.1,108.7 248.7,109.0 252.2,109.3 255.8,109.6 259.3,109.9 262.9,110.2 266.4,110.5 270.0,110.8 273.5,111.1 277.0,111.5 280.6,111.9 284.1,112.3 287.7,112.6 291.2,113.0 294.8,113.3 298.3,113.6 301.9,113.9 305.4,114.3 308.9,114.6 312.5,115.0 316.0,115.4 319.6,115.8 323.1,116.2 326.6,116.6 330.2,117.0 333.7,117.3 337.3,117.7 340.8,118.0 344.3,118.3 347.9,118.6 351.4,119.0 355.0,119.3 358.5,119.7 362.1,120.0 365.6,120.4 369.2,120.7 372.7,121.1 376.2,121.5 379.8,121.9 383.3,122.3 386.8,122.7 390.4,123.1 393.9,123.5 397.4,123.9 401.0,124.3 404.5,124.7 408.1,125.2 411.6,125.6 415.1,126.0 418.7,126.4 422.2,126.9 425.7,127.3 429.3,127.8 432.8,128.2 436.3,128.7 439.8,129.2 443.4,129.7 446.9,130.2 450.4,130.6 453.9,131.1 457.5,131.5 461.0,132.0 464.5,132.4 468.1,133.0 471.5,133.7 474.9,134.7 478.0,136.3 480.3,138.9 481.7,142.0 481.7,149.4 28.9,149.4" fill="#7cbeb3"/>
<polygon points="28.9,100.0 100.7,97.6 103.9,97.0 107.2,96.6 110.6,96.4 114.1,96.4 117.7,96.5 121.2,96.6 124.7,96.8 128.3,96.9 131.8,97.1 135.4,97.3 138.9,97.4 142.5,97.6 146.0,97.9 149.6,98.2 153.1,98.5 156.6,98.9 160.2,99.3 163.7,99.7 167.3,100.1 170.8,100.5 174.3,100.9 177.8,101.4 181.4,101.9 184.9,102.3 188.4,102.8 192.0,103.2 195.5,103.7 199.0,104.1 202.5,104.6 206.1,105.1 209.6,105.5 213.1,105.9 216.7,106.3 220.2,106.7 223.7,107.0 227.3,107.4 230.8,107.8 234.4,108.1 237.9,108.5 241.4,108.9 245.0,109.2 248.5,109.6 252.1,109.9 255.6,110.2 259.1,110.4 262.7,110.7 266.2,111.0 269.8,111.3 273.3,111.7 276.9,112.1 280.4,112.4 283.9,112.8 287.5,113.2 291.0,113.5 294.6,113.9 298.1,114.2 301.6,114.5 305.2,114.8 308.7,115.1 312.3,115.5 315.8,115.9 319.3,116.3 322.9,116.7 326.4,117.1 329.9,117.5 333.5,117.8 337.0,118.1 340.6,118.4 344.1,118.8 347.6,119.1 351.2,119.4 354.7,119.8 358.3,120.1 361.8,120.4 365.3,120.8 368.9,121.1 372.4,121.5 376.0,121.9 379.5,122.3 383.0,122.7 386.6,123.1 390.1,123.5 393.6,123.9 397.2,124.3 400.7,124.7 404.2,125.1 407.8,125.5 411.3,125.9 414.8,126.3 418.4,126.8 421.9,127.2 425.4,127.6 428.9,128.1 432.5,128.5 436.0,129.0 439.5,129.5 443.0,129.9 446.6,130.4 450.1,130.9 453.6,131.3 457.1,131.8 460.7,132.2 464.2,132.6 467.7,133.2 471.2,133.9 474.6,134.9 477.7,136.4 480.0,139.0 481.5,142.0 481.5,149.4 28.9,149.4" fill="#7cc0ab"/>
<polygon points="28.9,100.0 100.7,97.7 103.9,97.2 107.2,96.8 110.6,96.7 114.1,96.8 117.6,96.9 121.2,97.1 124.7,97.3 128.2,97.4 131.8,97.6 135.3,97.8 138.9,98.0 142.4,98.2 146.0,98.5 149.5,98.8 153.0,99.1 156.6,99.5 160.1,99.9 163.6,100.3 167.2,100.7 170.7,101.1 174.2,101.5 177.7,102.0 181.3,102.5 184.8,102.9 188.3,103.3 191.8,103.8 195.4,104.2 198.9,104.7 202.4,105.2 205.9,105.6 209.5,106.1 213.0,106.5 216.5,106.8 220.1,107.2 223.6,107.6 227.1,107.9 230.7,108.3 234.2,108.7 237.7,109.0 241.3,109.4 244.8,109.8 248.3,110.1 251.9,110.4 255.4,110.7 259.0,111.0 262.5,111.3 266.1,111.6 269.6,111.9 273.1,112.2 276.7,112.6 280.2,113.0 283.7,113.4 287.3,113.7 290.8,114.1 294.3,114.4 297.9,114.7 301.4,115.0 305.0,115.3 308.5,115.6 312.0,116.0 315.6,116.4 319.1,116.8 322.6,117.2 326.2,117.6 329.7,117.9 333.2,118.3 336.8,118.6 340.3,118.9 343.9,119.2 347.4,119.6 350.9,119.9 354.5,120.2 358.0,120.6 361.5,120.9 365.1,121.2 368.6,121.6 372.2,121.9 375.7,122.3 379.2,122.7 382.7,123.1 386.3,123.5 389.8,123.9 393.3,124.3 396.9,124.7 400.4,125.0 403.9,125.4 407.5,125.8 411.0,126.3 414.5,126.7 418.1,127.1 421.6,127.5 425.1,127.9 428.6,128.4 432.2,128.8 435.7,129.3 439.2,129.7 442.7,130.2 446.2,130.7 449.8,131.1 453.3,131.6 456.8,132.0 460.3,132.4 463.9,132.8 467.4,133.4 470.9,134.0 474.3,135.0 477.4,136.6 479.8,139.0 481.3,142.0 481.3,149.4 28.9,149.4" fill="#7cc1a4"/>
<polygon points="28.9,100.0 100.7,97.7 103.9,97.4 107.2,97.1 110.6,97.0 114.1,97.1 117.6,97.3 121.1,97.5 124.7,97.7 128.2,98.0 131.7,98.2 135.3,98.4 138.8,98.5 142.3,98.8 145.9,99.0 149.4,99.4 153.0,99.7 156.5,100.1 160.0,100.5 163.5,100.9 167.1,101.3 170.6,101.7 174.1,102.1 177.6,102.6 181.2,103.0 184.7,103.5 188.2,103.9 191.7,104.4 195.3,104.8 198.8,105.3 202.3,105.7 205.8,106.2 209.3,106.6 212.9,107.0 216.4,107.4 219.9,107.8 223.5,108.1 227.0,108.5 230.5,108.8 234.1,109.2 237.6,109.6 241.1,109.9 244.7,110.3 248.2,110.6 251.7,110.9 255.3,111.2 258.8,111.5 262.3,111.8 265.9,112.1 269.4,112.4 272.9,112.8 276.5,113.1 280.0,113.5 283.5,113.9 287.1,114.3 290.6,114.6 294.1,114.9 297.7,115.2 301.2,115.5 304.8,115.8 308.3,116.2 311.8,116.5 315.3,116.9 318.9,117.3 322.4,117.7 325.9,118.1 329.5,118.4 333.0,118.8 336.5,119.1 340.1,119.4 343.6,119.7 347.1,120.0 350.7,120.4 354.2,120.7 357.8,121.0 361.3,121.3 364.8,121.7 368.4,122.0 371.9,122.4 375.4,122.7 378.9,123.1 382.5,123.5 386.0,123.9 389.5,124.3 393.1,124.6 396.6,125.0 400.1,125.4 403.6,125.8 407.2,126.2 410.7,126.6 414.2,127.0 417.7,127.4 421.3,127.8 424.8,128.2 428.3,128.7 431.8,129.1 435.4,129.5 438.9,130.0 442.4,130.5 445.9,130.9 449.4,131.4 453.0,131.8 456.5,132.2 460.0,132.6 463.5,133.0 467.0,133.5 470.5,134.2 473.9,135.2 477.1,136.7 479.5,139.1 481.1,142.0 481.1,149.4 28.9,149.4" fill="#7dc39c"/>
<polygon points="28.9,100.0 100.7,97.8 103.9,97.5 107.2,97.4 110.6,97.4 114.1,97.5 117.6,97.8 121.1,98.0 124.6,98.2 128.1,98.5 131.7,98.7 135.2,98.9 138.7,99.1 142.3,99.3 145.8,99.6 149.4,99.9 152.9,100.3 156.4,100.7 159.9,101.1 163.5,101.4 167.0,101.9 170.5,102.3 174.0,102.7 177.5,103.2 181.1,103.6 184.6,104.1 188.1,104.5 191.6,104.9 195.1,105.4 198.7,105.8 202.2,106.3 205.7,106.8 209.2,107.2 212.7,107.6 216.3,107.9 219.8,108.3 223.3,108.7 226.8,109.0 230.4,109.4 233.9,109.8 237.4,110.1 241.0,110.5 244.5,110.8 248.0,111.2 251.6,111.5 255.1,111.8 258.6,112.1 262.2,112.3 265.7,112.6 269.2,113.0 272.8,113.3 276.3,113.7 279.8,114.0 283.3,114.4 286.9,114.8 290.4,115.1 293.9,115.5 297.5,115.8 301.0,116.1 304.5,116.4 308.1,116.7 311.6,117.0 315.1,117.4 318.7,117.8 322.2,118.2 325.7,118.6 329.2,118.9 332.8,119.2 336.3,119.6 339.8,119.9 343.4,120.2 346.9,120.5 350.4,120.8 354.0,121.1 357.5,121.5 361.0,121.8 364.6,122.1 368.1,122.4 371.6,122.8 375.1,123.1 378.7,123.5 382.2,123.9 385.7,124.3 389.2,124.6 392.8,125.0 396.3,125.4 399.8,125.8 403.4,126.1 406.9,126.5 410.4,126.9 413.9,127.3 417.4,127.7 421.0,128.1 424.5,128.6 428.0,129.0 431.5,129.4 435.1,129.8 438.6,130.3 442.1,130.7 445.6,131.2 449.1,131.6 452.6,132.0 456.2,132.4 459.7,132.8 463.2,133.2 466.7,133.7 470.2,134.4 473.6,135.3 476.8,136.8 479.2,139.1 480.9,142.0 480.9,149.4 28.9,149.4" fill="#7dc595"/>
<polygon points="28.9,100.0 100.7,97.8 103.9,97.7 107.2,97.6 110.6,97.7 114.1,97.9 117.6,98.2 121.1,98.4 124.6,98.7 128.1,99.0 131.6,99.2 135.2,99.4 138.7,99.7 142.2,99.9 145.8,100.2 149.3,100.5 152.8,100.9 156.3,101.2 159.8,101.6 163.4,102.0 166.9,102.4 170.4,102.9 173.9,103.3 177.4,103.8 181.0,104.2 184.5,104.7 188.0,105.1 191.5,105.5 195.0,106.0 198.5,106.4 202.0,106.9 205.6,107.3 209.1,107.7 212.6,108.1 216.1,108.5 219.7,108.9 223.2,109.2 226.7,109.6 230.2,109.9 233.8,110.3 237.3,110.7 240.8,111.0 244.3,111.4 247.9,111.7 251.4,112.0 254.9,112.3 258.5,112.6 262.0,112.9 265.5,113.2 269.0,113.5 272.6,113.8 276.1,114.2 279.6,114.6 283.2,115.0 286.7,115.3 290.2,115.7 293.7,116.0 297.3,116.3 300.8,116.6 304.3,116.9 307.9,117.2 311.4,117.6 314.9,117.9 318.4,118.3 321.9,118.7 325.5,119.1 329.0,119.4 332.5,119.7 336.1,120.0 339.6,120.3 343.1,120.7 346.6,121.0 350.2,121.3 353.7,121.6 357.2,121.9 360.8,122.2 364.3,122.5 367.8,122.9 371.3,123.2 374.9,123.5 378.4,123.9 381.9,124.3 385.4,124.7 389.0,125.0 392.5,125.4 396.0,125.8 399.5,126.1 403.1,126.5 406.6,126.9 410.1,127.3 413.6,127.7 417.1,128.1 420.7,128.5 424.2,128.9 427.7,129.3 431.2,129.7 434.7,130.1 438.3,130.5 441.8,131.0 445.3,131.4 448.8,131.8 452.3,132.2 455.8,132.6 459.4,133.0 462.9,133.4 466.4,133.9 469.9,134.6 473.3,135.5 476.4,136.9 478.9,139.2 480.7,142.0 480.7,149.4 28.9,149.4" fill="#7dc68d"/>
<polygon points="28.9,100.0 100.7,97.8 103.9,97.9 107.1,97.9 110.6,98.0 114.0,98.3 117.5,98.6 121.0,98.9 124.5,99.2 128.0,99.5 131.6,99.7 135.1,100.0 138.6,100.2 142.2,100.5 145.7,100.8 149.2,101.1 152.7,101.4 156.2,101.8 159.8,102.2 163.3,102.6 166.8,103.0 170.3,103.5 173.8,103.9 177.3,104.4 180.9,104.8 184.4,105.2 187.9,105.7 191.4,106.1 194.9,106.5 198.4,107.0 201.9,107.4 205.4,107.9 209.0,108.3 212.5,108.7 216.0,109.1 219.5,109.4 223.0,109.8 226.6,110.1 230.1,110.5 233.6,110.8 237.1,111.2 240.7,111.5 244.2,111.9 247.7,112.2 251.2,112.6 254.8,112.9 258.3,113.1 261.8,113.4 265.3,113.7 268.9,114.0 272.4,114.4 275.9,114.7 279.4,115.1 283.0,115.5 286.5,115.9 290.0,116.2 293.5,116.5 297.1,116.8 300.6,117.1 304.1,117.4 307.6,117.7 311.2,118.1 314.7,118.4 318.2,118.8 321.7,119.2 325.2,119.5 328.8,119.9 332.3,120.2 335.8,120.5 339.3,120.8 342.9,121.1 346.4,121.4 349.9,121.8 353.5,122.1 357.0,122.4 360.5,122.7 364.0,123.0 367.6,123.3 371.1,123.6 374.6,124.0 378.1,124.3 381.6,124.7 385.2,125.0 388.7,125.4 392.2,125.8 395.7,126.1 399.2,126.5 402.8,126.9 406.3,127.2 409.8,127.6 413.3,128.0 416.8,128.4 420.4,128.8 423.9,129.2 427.4,129.6 430.9,130.0 434.4,130.4 437.9,130.8 441.4,131.2 445.0,131.6 448.5,132.1 452.0,132.5 455.5,132.9 459.0,133.2 462.5,133.6 466.0,134.1 469.5,134.8 472.9,135.6 476.1,137.0 478.7,139.3 480.5,142.0 480.5,149.4 28.9,149.4" fill="#7ec886"/>
<polygon points="28.9,100.0 100.7,97.9 103.9,98.0 107.1,98.2 110.5,98.4 114.0,98.7 117.5,99.0 121.0,99.4 124.5,99.7 128.0,100.0 131.5,100.3 135.0,100.5 138.6,100.8 142.1,101.0 145.6,101.3 149.1,101.7 152.7,102.0 156.2,102.4 159.7,102.8 163.2,103.2 166.7,103.6 170.2,104.1 173.7,104.5 177.2,104.9 180.7,105.4 184.3,105.8 187.8,106.2 191.3,106.7 194.8,107.1 198.3,107.5 201.8,108.0 205.3,108.4 208.8,108.9 212.3,109.2 215.9,109.6 219.4,110.0 222.9,110.3 226.4,110.7 229.9,111.0 233.5,111.4 237.0,111.7 240.5,112.1 244.0,112.4 247.5,112.8 251.1,113.1 254.6,113.4 258.1,113.7 261.6,114.0 265.2,114.3 268.7,114.6 272.2,114.9 275.7,115.3 279.2,115.7 282.8,116.0 286.3,116.4 289.8,116.7 293.3,117.1 296.8,117.4 300.4,117.7 303.9,117.9 307.4,118.3 310.9,118.6 314.5,118.9 318.0,119.3 321.5,119.7 325.0,120.0 328.5,120.4 332.1,120.7 335.6,121.0 339.1,121.3 342.6,121.6 346.1,121.9 349.7,122.2 353.2,122.5 356.7,122.8 360.2,123.1 363.8,123.4 367.3,123.7 370.8,124.0 374.3,124.4 377.8,124.7 381.4,125.1 384.9,125.4 388.4,125.8 391.9,126.1 395.4,126.5 399.0,126.8 402.5,127.2 406.0,127.6 409.5,128.0 413.0,128.3 416.5,128.7 420.1,129.1 423.6,129.5 427.1,129.8 430.6,130.2 434.1,130.6 437.6,131.1 441.1,131.5 444.6,131.9 448.2,132.3 451.7,132.7 455.2,133.1 458.7,133.4 462.2,133.8 465.7,134.3 469.2,134.9 472.6,135.8 475.8,137.1 478.4,139.3 480.3,142.0 480.3,149.4 28.9,149.4" fill="#7ec97e"/>
<polygon points="28.9,100.0 100.7,97.9 103.9,98.2 107.1,98.4 110.5,98.7 114.0,99.1 117.5,99.4 121.0,99.8 124.5,100.2 128.0,100.5 131.5,100.8 135.0,101.1 138.5,101.3 142.0,101.6 145.5,101.9 149.1,102.2 152.6,102.6 156.1,103.0 159.6,103.4 163.1,103.8 166.6,104.2 170.1,104.7 173.6,105.1 177.1,105.5 180.6,106.0 184.2,106.4 187.7,106.8 191.2,107.3 194.7,107.7 198.2,108.1 201.7,108.6 205.2,109.0 208.7,109.4 212.2,109.8 215.7,110.2 219.2,110.5 222.8,110.9 226.3,111.2 229.8,111.6 233.3,111.9 236.8,112.3 240.3,112.6 243.9,113.0 247.4,113.3 250.9,113.6 254.4,113.9 257.9,114.2 261.5,114.5 265.0,114.8 268.5,115.1 272.0,115.5 275.5,115.8 279.1,116.2 282.6,116.6 286.1,116.9 289.6,117.3 293.1,117.6 296.6,117.9 300.2,118.2 303.7,118.5 307.2,118.8 310.7,119.1 314.2,119.4 317.8,119.8 321.3,120.2 324.8,120.5 328.3,120.8 331.8,121.2 335.3,121.5 338.9,121.8 342.4,122.1 345.9,122.4 349.4,122.7 352.9,123.0 356.5,123.3 360.0,123.6 363.5,123.8 367.0,124.1 370.5,124.4 374.1,124.8 377.6,125.1 381.1,125.5 384.6,125.8 388.1,126.2 391.6,126.5 395.2,126.8 398.7,127.2 402.2,127.6 405.7,127.9 409.2,128.3 412.7,128.7 416.2,129.0 419.7,129.4 423.3,129.8 426.8,130.1 430.3,130.5 433.8,130.9 437.3,131.3 440.8,131.7 444.3,132.1 447.8,132.5 451.3,132.9 454.9,133.3 458.4,133.6 461.9,134.0 465.4,134.5 468.8,135.1 472.3,136.0 475.5,137.2 478.1,139.4 480.1,142.0 480.1,149.4 28.9,149.4" fill="#82ca78"/>
<polygon points="28.9,100.0 100.7,98.0 103.9,98.3 107.1,98.7 110.5,99.1 114.0,99.5 117.4,99.9 120.9,100.3 124.4,100.7 127.9,101.0 131.4,101.3 134.9,101.6 138.4,101.9 142.0,102.2 145.5,102.5 149.0,102.8 152.5,103.2 156.0,103.6 159.5,104.0 163.0,104.4 166.5,104.8 170.0,105.2 173.5,105.7 177.0,106.1 180.5,106.6 184.0,107.0 187.6,107.4 191.1,107.8 194.6,108.3 198.1,108.7 201.6,109.1 205.1,109.6 208.6,110.0 212.1,110.3 215.6,110.7 219.1,111.1 222.6,111.4 226.1,111.8 229.7,112.1 233.2,112.5 236.7,112.8 240.2,113.2 243.7,113.5 247.2,113.8 250.7,114.2 254.3,114.5 257.8,114.8 261.3,115.1 264.8,115.4 268.3,115.7 271.8,116.0 275.3,116.4 278.9,116.7 282.4,117.1 285.9,117.5 289.4,117.8 292.9,118.1 296.4,118.4 299.9,118.7 303.5,119.0 307.0,119.3 310.5,119.6 314.0,120.0 317.5,120.3 321.0,120.7 324.5,121.0 328.1,121.3 331.6,121.6 335.1,121.9 338.6,122.2 342.1,122.5 345.7,122.8 349.2,123.1 352.7,123.4 356.2,123.7 359.7,124.0 363.2,124.3 366.8,124.6 370.3,124.9 373.8,125.2 377.3,125.5 380.8,125.9 384.3,126.2 387.8,126.5 391.4,126.9 394.9,127.2 398.4,127.6 401.9,127.9 405.4,128.3 408.9,128.7 412.4,129.0 415.9,129.4 419.4,129.7 423.0,130.1 426.5,130.4 430.0,130.8 433.5,131.2 437.0,131.6 440.5,132.0 444.0,132.4 447.5,132.8 451.0,133.1 454.5,133.5 458.0,133.8 461.5,134.2 465.0,134.7 468.5,135.3 471.9,136.1 475.2,137.3 477.9,139.4 479.9,142.0 479.9,149.4 28.9,149.4" fill="#8cc972"/>
<polygon points="28.9,100.0 100.7,98.0 103.9,98.5 107.1,99.0 110.5,99.4 113.9,99.8 117.4,100.3 120.9,100.7 124.4,101.1 127.9,101.5 131.4,101.9 134.9,102.2 138.4,102.4 141.9,102.7 145.4,103.1 148.9,103.4 152.4,103.8 155.9,104.2 159.4,104.6 162.9,105.0 166.4,105.4 169.9,105.8 173.4,106.3 176.9,106.7 180.4,107.1 183.9,107.6 187.4,108.0 190.9,108.4 194.4,108.8 197.9,109.3 201.4,109.7 204.9,110.1 208.5,110.5 212.0,110.9 215.5,111.3 219.0,111.6 222.5,112.0 226.0,112.3 229.5,112.6 233.0,113.0 236.5,113.3 240.0,113.7 243.5,114.0 247.1,114.4 250.6,114.7 254.1,115.0 257.6,115.3 261.1,115.6 264.6,115.9 268.1,116.2 271.7,116.5 275.2,116.9 278.7,117.3 282.2,117.6 285.7,118.0 289.2,118.3 292.7,118.7 296.2,119.0 299.7,119.2 303.3,119.5 306.8,119.8 310.3,120.1 313.8,120.5 317.3,120.8 320.8,121.2 324.3,121.5 327.8,121.8 331.3,122.1 334.9,122.4 338.4,122.7 341.9,123.0 345.4,123.3 348.9,123.6 352.4,123.9 355.9,124.2 359.5,124.4 363.0,124.7 366.5,125.0 370.0,125.3 373.5,125.6 377.0,125.9 380.5,126.2 384.0,126.6 387.6,126.9 391.1,127.2 394.6,127.6 398.1,127.9 401.6,128.3 405.1,128.6 408.6,129.0 412.1,129.3 415.6,129.7 419.1,130.0 422.6,130.4 426.2,130.7 429.7,131.1 433.2,131.5 436.7,131.8 440.2,132.2 443.7,132.6 447.2,133.0 450.7,133.4 454.2,133.7 457.7,134.0 461.2,134.4 464.7,134.8 468.2,135.5 471.6,136.3 474.9,137.5 477.6,139.5 479.7,142.0 479.7,149.4 28.9,149.4" fill="#95c86d"/>
<polygon points="28.9,100.0 100.7,98.1 103.9,98.7 107.1,99.2 110.5,99.7 113.9,100.2 117.4,100.7 120.8,101.2 124.3,101.6 127.8,102.0 131.3,102.4 134.8,102.7 138.3,103.0 141.8,103.3 145.3,103.6 148.8,104.0 152.4,104.4 155.9,104.8 159.4,105.2 162.8,105.6 166.3,106.0 169.8,106.4 173.3,106.9 176.8,107.3 180.3,107.7 183.8,108.1 187.3,108.6 190.8,109.0 194.3,109.4 197.8,109.8 201.3,110.3 204.8,110.7 208.3,111.1 211.8,111.5 215.3,111.8 218.8,112.2 222.3,112.5 225.9,112.8 229.4,113.2 232.9,113.5 236.4,113.9 239.9,114.2 243.4,114.6 246.9,114.9 250.4,115.2 253.9,115.5 257.4,115.8 260.9,116.1 264.4,116.4 268.0,116.8 271.5,117.1 275.0,117.4 278.5,117.8 282.0,118.2 285.5,118.5 289.0,118.9 292.5,119.2 296.0,119.5 299.5,119.8 303.0,120.1 306.5,120.3 310.1,120.6 313.6,121.0 317.1,121.3 320.6,121.6 324.1,122.0 327.6,122.3 331.1,122.6 334.6,122.9 338.1,123.2 341.6,123.5 345.2,123.8 348.7,124.1 352.2,124.3 355.7,124.6 359.2,124.9 362.7,125.1 366.2,125.4 369.7,125.7 373.2,126.0 376.8,126.3 380.3,126.6 383.8,127.0 387.3,127.3 390.8,127.6 394.3,127.9 397.8,128.3 401.3,128.6 404.8,129.0 408.3,129.3 411.8,129.7 415.3,130.0 418.8,130.4 422.3,130.7 425.8,131.0 429.3,131.4 432.9,131.7 436.4,132.1 439.9,132.5 443.4,132.9 446.9,133.2 450.4,133.6 453.9,133.9 457.4,134.2 460.9,134.6 464.4,135.0 467.8,135.7 471.3,136.4 474.5,137.6 477.3,139.5 479.5,142.0 479.5,149.4 28.9,149.4" fill="#9fc767"/>
<polygon points="28.9,100.0 100.7,98.1 103.9,98.8 107.1,99.5 110.5,100.1 113.9,100.6 117.3,101.1 120.8,101.6 124.3,102.1 127.8,102.5 131.3,102.9 134.8,103.2 138.3,103.6 141.8,103.9 145.3,104.2 148.8,104.6 152.3,104.9 155.8,105.3 159.3,105.8 162.8,106.2 166.3,106.6 169.8,107.0 173.2,107.5 176.7,107.9 180.2,108.3 183.7,108.7 187.2,109.1 190.7,109.6 194.2,110.0 197.7,110.4 201.2,110.8 204.7,111.2 208.2,111.6 211.7,112.0 215.2,112.4 218.7,112.7 222.2,113.1 225.7,113.4 229.2,113.7 232.7,114.1 236.2,114.4 239.7,114.8 243.2,115.1 246.7,115.4 250.2,115.8 253.7,116.1 257.3,116.4 260.8,116.7 264.3,117.0 267.8,117.3 271.3,117.6 274.8,118.0 278.3,118.3 281.8,118.7 285.3,119.1 288.8,119.4 292.3,119.7 295.8,120.0 299.3,120.3 302.8,120.6 306.3,120.9 309.8,121.2 313.3,121.5 316.8,121.8 320.4,122.1 323.9,122.5 327.4,122.8 330.9,123.1 334.4,123.4 337.9,123.7 341.4,124.0 344.9,124.2 348.4,124.5 351.9,124.8 355.4,125.1 358.9,125.3 362.5,125.6 366.0,125.8 369.5,126.1 373.0,126.4 376.5,126.7 380.0,127.0 383.5,127.3 387.0,127.7 390.5,128.0 394.0,128.3 397.5,128.6 401.0,129.0 404.5,129.3 408.0,129.7 411.5,130.0 415.0,130.4 418.5,130.7 422.0,131.0 425.5,131.3 429.0,131.7 432.5,132.0 436.0,132.4 439.5,132.7 443.0,133.1 446.5,133.5 450.0,133.8 453.5,134.2 457.0,134.5 460.6,134.8 464.0,135.2 467.5,135.8 470.9,136.6 474.2,137.7 477.0,139.6 479.3,142.0 479.3,149.4 28.9,149.4" fill="#a9c662"/>
<polygon points="28.9,100.0 100.7,98.1 103.8,99.0 107.1,99.8 110.5,100.4 113.9,101.0 117.3,101.6 120.8,102.1 124.2,102.6 127.7,103.1 131.2,103.4 134.7,103.8 138.2,104.1 141.7,104.4 145.2,104.8 148.7,105.1 152.2,105.5 155.7,105.9 159.2,106.4 162.7,106.8 166.2,107.2 169.7,107.6 173.1,108.1 176.6,108.5 180.1,108.9 183.6,109.3 187.1,109.7 190.6,110.1 194.1,110.5 197.6,111.0 201.1,111.4 204.6,111.8 208.1,112.2 211.6,112.6 215.1,112.9 218.6,113.3 222.1,113.6 225.6,113.9 229.1,114.3 232.6,114.6 236.1,115.0 239.6,115.3 243.1,115.6 246.6,116.0 250.1,116.3 253.6,116.6 257.1,116.9 260.6,117.2 264.1,117.5 267.6,117.8 271.1,118.2 274.6,118.5 278.1,118.9 281.6,119.2 285.1,119.6 288.6,120.0 292.1,120.3 295.6,120.6 299.1,120.8 302.6,121.1 306.1,121.4 309.6,121.7 313.1,122.0 316.6,122.3 320.1,122.6 323.6,123.0 327.1,123.3 330.6,123.6 334.1,123.8 337.6,124.1 341.1,124.4 344.7,124.7 348.2,125.0 351.7,125.3 355.2,125.5 358.7,125.8 362.2,126.0 365.7,126.3 369.2,126.5 372.7,126.8 376.2,127.1 379.7,127.4 383.2,127.7 386.7,128.0 390.2,128.4 393.7,128.7 397.2,129.0 400.7,129.3 404.2,129.7 407.7,130.0 411.2,130.4 414.7,130.7 418.2,131.0 421.7,131.3 425.2,131.6 428.7,131.9 432.2,132.3 435.7,132.6 439.2,133.0 442.7,133.3 446.2,133.7 449.7,134.1 453.2,134.4 456.7,134.7 460.2,135.0 463.7,135.4 467.2,136.0 470.6,136.8 473.9,137.8 476.8,139.6 479.2,142.0 479.2,149.4 28.9,149.4" fill="#b2c55c"/>
<polygon points="28.9,100.0 100.7,98.2 103.8,99.2 107.1,100.0 110.4,100.7 113.9,101.4 117.3,102.0 120.7,102.6 124.2,103.1 127.7,103.6 131.2,104.0 134.7,104.3 138.1,104.7 141.6,105.0 145.1,105.3 148.6,105.7 152.1,106.1 155.6,106.5 159.1,106.9 162.6,107.4 166.1,107.8 169.6,108.2 173.1,108.6 176.5,109.1 180.0,109.5 183.5,109.9 187.0,110.3 190.5,110.7 194.0,111.1 197.5,111.5 201.0,111.9 204.5,112.4 207.9,112.7 211.4,113.1 214.9,113.5 218.4,113.8 221.9,114.1 225.4,114.5 228.9,114.8 232.4,115.2 235.9,115.5 239.4,115.8 242.9,116.2 246.4,116.5 249.9,116.8 253.4,117.1 256.9,117.5 260.4,117.8 263.9,118.1 267.4,118.4 270.9,118.7 274.4,119.1 277.9,119.4 281.4,119.8 284.9,120.1 288.4,120.5 291.9,120.8 295.4,121.1 298.9,121.4 302.4,121.6 305.9,121.9 309.4,122.2 312.9,122.5 316.4,122.8 319.9,123.1 323.4,123.4 326.9,123.7 330.4,124.0 333.9,124.3 337.4,124.6 340.9,124.9 344.4,125.2 347.9,125.5 351.4,125.7 354.9,126.0 358.4,126.2 361.9,126.5 365.4,126.7 368.9,127.0 372.4,127.2 375.9,127.5 379.4,127.8 382.9,128.1 386.4,128.4 389.9,128.7 393.4,129.0 396.9,129.4 400.4,129.7 403.9,130.0 407.4,130.4 410.9,130.7 414.4,131.0 417.9,131.3 421.4,131.6 424.9,131.9 428.4,132.2 431.9,132.6 435.4,132.9 438.9,133.2 442.4,133.6 445.9,133.9 449.4,134.3 452.9,134.6 456.4,134.9 459.9,135.1 463.4,135.6 466.8,136.2 470.3,136.9 473.6,137.9 476.5,139.7 479.0,142.0 479.0,149.4 28.9,149.4" fill="#bcc557"/>
<polygon points="28.9,100.0 100.7,98.2 103.8,99.3 107.1,100.3 110.4,101.1 113.8,101.8 117.3,102.4 120.7,103.0 124.2,103.6 127.6,104.1 131.1,104.5 134.6,104.9 138.1,105.2 141.6,105.6 145.1,105.9 148.6,106.3 152.0,106.7 155.5,107.1 159.0,107.5 162.5,108.0 166.0,108.4 169.5,108.8 173.0,109.2 176.4,109.7 179.9,110.1 183.4,110.5 186.9,110.9 190.4,111.3 193.9,111.7 197.4,112.1 200.8,112.5 204.3,112.9 207.8,113.3 211.3,113.7 214.8,114.0 218.3,114.4 221.8,114.7 225.3,115.0 228.8,115.4 232.3,115.7 235.8,116.0 239.3,116.4 242.8,116.7 246.3,117.0 249.7,117.4 253.2,117.7 256.7,118.0 260.2,118.3 263.7,118.6 267.2,118.9 270.7,119.2 274.2,119.6 277.7,120.0 281.2,120.3 284.7,120.7 288.2,121.0 291.7,121.3 295.2,121.6 298.7,121.9 302.2,122.2 305.7,122.4 309.2,122.7 312.7,123.0 316.2,123.3 319.7,123.6 323.2,123.9 326.7,124.2 330.2,124.5 333.7,124.8 337.2,125.1 340.7,125.4 344.2,125.6 347.7,125.9 351.2,126.2 354.7,126.4 358.2,126.7 361.7,126.9 365.2,127.1 368.7,127.4 372.2,127.6 375.7,127.9 379.2,128.2 382.7,128.5 386.2,128.8 389.6,129.1 393.1,129.4 396.6,129.7 400.1,130.0 403.6,130.4 407.1,130.7 410.6,131.0 414.1,131.3 417.6,131.6 421.1,131.9 424.6,132.2 428.1,132.5 431.6,132.8 435.1,133.2 438.6,133.5 442.1,133.8 445.6,134.2 449.1,134.5 452.6,134.8 456.1,135.1 459.6,135.3 463.0,135.8 466.5,136.4 469.9,137.1 473.3,138.0 476.2,139.8 478.8,142.0 478.8,149.4 28.9,149.4" fill="#c6c451"/>
<polygon points="28.9,100.0 100.7,98.3 103.8,99.5 107.1,100.6 110.4,101.4 113.8,102.2 117.2,102.8 120.7,103.5 124.1,104.1 127.6,104.6 131.1,105.0 134.5,105.4 138.0,105.8 141.5,106.1 145.0,106.5 148.5,106.9 152.0,107.3 155.5,107.7 158.9,108.1 162.4,108.5 165.9,109.0 169.4,109.4 172.9,109.8 176.3,110.2 179.8,110.7 183.3,111.1 186.8,111.5 190.3,111.9 193.8,112.3 197.2,112.7 200.7,113.1 204.2,113.5 207.7,113.9 211.2,114.2 214.7,114.6 218.2,114.9 221.7,115.2 225.1,115.6 228.6,115.9 232.1,116.2 235.6,116.6 239.1,116.9 242.6,117.3 246.1,117.6 249.6,117.9 253.1,118.2 256.6,118.5 260.1,118.8 263.6,119.1 267.0,119.5 270.5,119.8 274.0,120.1 277.5,120.5 281.0,120.9 284.5,121.2 288.0,121.6 291.5,121.9 295.0,122.2 298.5,122.4 302.0,122.7 305.5,123.0 309.0,123.2 312.5,123.5 315.9,123.8 319.4,124.1 322.9,124.4 326.4,124.7 329.9,125.0 333.4,125.3 336.9,125.6 340.4,125.8 343.9,126.1 347.4,126.4 350.9,126.6 354.4,126.9 357.9,127.1 361.4,127.3 364.9,127.6 368.4,127.8 371.9,128.0 375.4,128.3 378.9,128.6 382.4,128.9 385.9,129.2 389.4,129.5 392.9,129.8 396.4,130.1 399.8,130.4 403.3,130.7 406.8,131.0 410.3,131.4 413.8,131.7 417.3,131.9 420.8,132.2 424.3,132.5 427.8,132.8 431.3,133.1 434.8,133.4 438.3,133.8 441.8,134.1 445.2,134.4 448.7,134.7 452.2,135.0 455.7,135.3 459.2,135.5 462.7,136.0 466.2,136.5 469.6,137.2 473.0,138.1 476.0,139.8 478.6,142.0 478.6,149.4 28.9,149.4" fill="#cfc34c"/>
<polygon points="28.9,100.0 100.7,98.3 103.8,99.7 107.0,100.8 110.4,101.7 113.8,102.5 117.2,103.3 120.6,103.9 124.1,104.5 127.5,105.1 131.0,105.6 134.5,106.0 138.0,106.3 141.5,106.7 144.9,107.1 148.4,107.4 151.9,107.8 155.4,108.3 158.9,108.7 162.3,109.1 165.8,109.6 169.3,110.0 172.8,110.4 176.2,110.8 179.7,111.2 183.2,111.6 186.7,112.0 190.2,112.4 193.6,112.8 197.1,113.2 200.6,113.6 204.1,114.0 207.6,114.4 211.1,114.8 214.5,115.1 218.0,115.5 221.5,115.8 225.0,116.1 228.5,116.4 232.0,116.8 235.5,117.1 239.0,117.5 242.4,117.8 245.9,118.1 249.4,118.4 252.9,118.8 256.4,119.1 259.9,119.4 263.4,119.7 266.9,120.0 270.4,120.3 273.8,120.7 277.3,121.0 280.8,121.4 284.3,121.7 287.8,122.1 291.3,122.4 294.8,122.7 298.3,123.0 301.8,123.2 305.2,123.5 308.7,123.7 312.2,124.0 315.7,124.3 319.2,124.6 322.7,124.9 326.2,125.2 329.7,125.5 333.2,125.8 336.7,126.0 340.2,126.3 343.7,126.6 347.2,126.8 350.6,127.1 354.1,127.3 357.6,127.5 361.1,127.8 364.6,128.0 368.1,128.2 371.6,128.5 375.1,128.7 378.6,129.0 382.1,129.3 385.6,129.6 389.1,129.8 392.6,130.1 396.1,130.4 399.6,130.8 403.0,131.1 406.5,131.4 410.0,131.7 413.5,132.0 417.0,132.3 420.5,132.5 424.0,132.8 427.5,133.1 431.0,133.4 434.5,133.7 437.9,134.0 441.4,134.3 444.9,134.6 448.4,135.0 451.9,135.3 455.4,135.5 458.9,135.7 462.4,136.2 465.8,136.7 469.3,137.4 472.6,138.2 475.7,139.9 478.4,142.0 478.4,149.4 28.9,149.4" fill="#d9c246"/>
<polygon points="28.9,100.0 100.7,98.4 103.8,99.8 107.0,101.1 110.4,102.1 113.8,102.9 117.2,103.7 120.6,104.4 124.0,105.0 127.5,105.6 131.0,106.1 134.4,106.5 137.9,106.9 141.4,107.3 144.9,107.6 148.3,108.0 151.8,108.4 155.3,108.9 158.8,109.3 162.2,109.7 165.7,110.2 169.2,110.6 172.7,111.0 176.1,111.4 179.6,111.8 183.1,112.2 186.6,112.6 190.1,113.0 193.5,113.4 197.0,113.8 200.5,114.2 204.0,114.6 207.4,115.0 210.9,115.3 214.4,115.7 217.9,116.0 221.4,116.3 224.9,116.7 228.3,117.0 231.8,117.3 235.3,117.7 238.8,118.0 242.3,118.3 245.8,118.7 249.3,119.0 252.7,119.3 256.2,119.6 259.7,119.9 263.2,120.2 266.7,120.5 270.2,120.9 273.7,121.2 277.1,121.6 280.6,121.9 284.1,122.3 287.6,122.6 291.1,122.9 294.6,123.2 298.0,123.5 301.5,123.7 305.0,124.0 308.5,124.3 312.0,124.5 315.5,124.8 319.0,125.1 322.5,125.4 326.0,125.7 329.4,126.0 332.9,126.2 336.4,126.5 339.9,126.8 343.4,127.0 346.9,127.3 350.4,127.6 353.9,127.8 357.4,128.0 360.9,128.2 364.4,128.4 367.9,128.6 371.3,128.9 374.8,129.1 378.3,129.4 381.8,129.7 385.3,129.9 388.8,130.2 392.3,130.5 395.8,130.8 399.3,131.1 402.7,131.4 406.2,131.7 409.7,132.0 413.2,132.3 416.7,132.6 420.2,132.8 423.7,133.1 427.2,133.4 430.7,133.7 434.1,134.0 437.6,134.3 441.1,134.6 444.6,134.9 448.1,135.2 451.6,135.5 455.1,135.7 458.6,135.9 462.0,136.3 465.5,136.9 468.9,137.6 472.3,138.4 475.4,139.9 478.2,142.0 478.2,149.4 28.9,149.4" fill="#e2c141"/>
<polygon points="28.9,100.0 100.7,98.4 103.8,100.0 107.0,101.4 110.4,102.4 113.7,103.3 117.1,104.1 120.6,104.8 124.0,105.5 127.4,106.1 130.9,106.6 134.4,107.1 137.8,107.4 141.3,107.8 144.8,108.2 148.3,108.6 151.7,109.0 155.2,109.4 158.7,109.9 162.2,110.3 165.6,110.8 169.1,111.2 172.6,111.6 176.0,112.0 179.5,112.4 183.0,112.8 186.5,113.2 189.9,113.6 193.4,114.0 196.9,114.4 200.4,114.8 203.8,115.1 207.3,115.5 210.8,115.9 214.3,116.2 217.8,116.6 221.2,116.9 224.7,117.2 228.2,117.5 231.7,117.9 235.2,118.2 238.6,118.5 242.1,118.9 245.6,119.2 249.1,119.5 252.6,119.8 256.1,120.1 259.5,120.5 263.0,120.8 266.5,121.1 270.0,121.4 273.5,121.7 276.9,122.1 280.4,122.5 283.9,122.8 287.4,123.2 290.9,123.5 294.3,123.8 297.8,124.0 301.3,124.3 304.8,124.5 308.3,124.8 311.8,125.0 315.3,125.3 318.8,125.6 322.2,125.9 325.7,126.2 329.2,126.4 332.7,126.7 336.2,127.0 339.7,127.2 343.2,127.5 346.6,127.8 350.1,128.0 353.6,128.2 357.1,128.4 360.6,128.6 364.1,128.8 367.6,129.0 371.1,129.3 374.6,129.5 378.1,129.8 381.5,130.0 385.0,130.3 388.5,130.6 392.0,130.9 395.5,131.2 399.0,131.5 402.5,131.8 405.9,132.1 409.4,132.4 412.9,132.6 416.4,132.9 419.9,133.1 423.4,133.4 426.9,133.7 430.3,133.9 433.8,134.2 437.3,134.5 440.8,134.8 444.3,135.1 447.8,135.4 451.2,135.7 454.7,135.9 458.2,136.1 461.7,136.5 465.2,137.1 468.6,137.7 472.0,138.5 475.1,140.0 478.0,142.0 478.0,149.4 28.9,149.4" fill="#ecc03c"/>
<polygon points="28.9,100.0 100.1,98.5 103.1,100.1 106.2,101.6 109.5,102.6 112.9,103.5 116.3,104.4 119.7,105.1 123.1,105.8 126.5,106.4 129.9,106.9 133.4,107.4 136.8,107.8 140.3,108.2 143.7,108.6 147.2,109.0 150.6,109.4 154.1,109.8 157.5,110.3 161.0,110.7 164.4,111.1 167.9,111.6 171.3,112.0 174.8,112.4 178.2,112.8 181.7,113.2 185.1,113.6 188.6,114.0 192.0,114.4 195.5,114.8 198.9,115.2 202.4,115.6 205.9,115.9 209.3,116.3 212.8,116.6 216.2,117.0 219.7,117.3 223.1,117.6 226.6,117.9 230.1,118.2 233.5,118.6 237.0,118.9 240.4,119.2 243.9,119.5 247.4,119.9 250.8,120.2 254.3,120.5 257.8,120.8 261.2,121.1 264.7,121.4 268.1,121.7 271.6,122.1 275.1,122.4 278.5,122.8 282.0,123.1 285.4,123.5 288.9,123.8 292.4,124.1 295.8,124.3 299.3,124.6 302.8,124.8 306.2,125.1 309.7,125.3 313.2,125.6 316.6,125.9 320.1,126.2 323.5,126.4 327.0,126.7 330.5,127.0 333.9,127.2 337.4,127.5 340.9,127.8 344.3,128.0 347.8,128.3 351.3,128.5 354.7,128.7 358.2,128.9 361.7,129.1 365.2,129.3 368.6,129.5 372.1,129.8 375.6,130.0 379.0,130.3 382.5,130.5 385.9,130.8 389.4,131.1 392.9,131.4 396.3,131.7 399.8,132.0 403.3,132.3 406.7,132.5 410.2,132.8 413.7,133.1 417.1,133.3 420.6,133.6 424.1,133.9 427.5,134.1 431.0,134.4 434.4,134.7 437.9,135.0 441.4,135.3 444.8,135.6 448.3,135.9 451.8,136.1 455.2,136.3 458.7,136.7 462.1,137.2 465.5,137.8 468.9,138.5 472.1,140.0 474.9,142.0 474.9,149.4 28.9,149.4" fill="#f4c037"/>
<polygon points="28.9,100.0 99.5,98.5 102.4,100.3 105.5,101.7 108.7,102.8 112.1,103.8 115.4,104.6 118.8,105.4 122.1,106.1 125.5,106.7 129.0,107.2 132.4,107.7 135.8,108.1 139.2,108.5 142.7,108.9 146.1,109.3 149.5,109.8 152.9,110.2 156.4,110.6 159.8,111.1 163.2,111.5 166.6,112.0 170.1,112.4 173.5,112.8 176.9,113.2 180.4,113.6 183.8,114.0 187.2,114.4 190.7,114.8 194.1,115.2 197.5,115.6 201.0,116.0 204.4,116.3 207.8,116.7 211.3,117.0 214.7,117.4 218.1,117.7 221.6,118.0 225.0,118.3 228.5,118.6 231.9,119.0 235.3,119.3 238.8,119.6 242.2,119.9 245.7,120.2 249.1,120.5 252.5,120.8 256.0,121.1 259.4,121.4 262.9,121.7 266.3,122.0 269.7,122.4 273.2,122.7 276.6,123.1 280.0,123.4 283.5,123.8 286.9,124.1 290.4,124.4 293.8,124.6 297.3,124.9 300.7,125.1 304.1,125.4 307.6,125.6 311.0,125.9 314.5,126.2 317.9,126.5 321.4,126.7 324.8,127.0 328.2,127.3 331.7,127.5 335.1,127.8 338.6,128.0 342.0,128.3 345.5,128.5 348.9,128.7 352.4,128.9 355.8,129.1 359.3,129.3 362.7,129.6 366.2,129.8 369.6,130.0 373.0,130.3 376.5,130.5 379.9,130.8 383.4,131.1 386.8,131.3 390.3,131.6 393.7,131.9 397.2,132.2 400.6,132.5 404.0,132.7 407.5,133.0 410.9,133.3 414.4,133.5 417.8,133.8 421.3,134.1 424.7,134.3 428.1,134.6 431.6,134.9 435.0,135.2 438.5,135.5 441.9,135.8 445.3,136.1 448.8,136.3 452.2,136.5 455.7,136.8 459.1,137.3 462.5,137.9 465.9,138.6 469.0,139.9 471.8,142.0 471.8,149.4 28.9,149.4" fill="#fbbf33"/>
<polygon points="28.9,100.0 98.9,98.6 101.6,100.4 104.7,101.9 107.9,103.0 111.2,104.0 114.5,104.9 117.9,105.6 121.2,106.4 124.6,107.0 128.0,107.5 131.4,108.0 134.8,108.4 138.2,108.9 141.6,109.3 145.0,109.7 148.4,110.1 151.8,110.6 155.2,111.0 158.6,111.5 162.0,111.9 165.4,112.4 168.8,112.8 172.2,113.2 175.6,113.6 179.0,114.0 182.5,114.4 185.9,114.8 189.3,115.2 192.7,115.6 196.1,116.0 199.5,116.4 202.9,116.7 206.3,117.1 209.8,117.4 213.2,117.8 216.6,118.1 220.0,118.4 223.4,118.7 226.8,119.0 230.3,119.3 233.7,119.7 237.1,120.0 240.5,120.3 243.9,120.6 247.4,120.9 250.8,121.1 254.2,121.4 257.6,121.7 261.0,122.0 264.5,122.4 267.9,122.7 271.3,123.0 274.7,123.4 278.1,123.7 281.5,124.1 285.0,124.4 288.4,124.7 291.8,124.9 295.2,125.2 298.6,125.4 302.1,125.7 305.5,125.9 308.9,126.2 312.3,126.5 315.8,126.7 319.2,127.0 322.6,127.3 326.0,127.5 329.4,127.8 332.9,128.0 336.3,128.3 339.7,128.5 343.1,128.8 346.6,129.0 350.0,129.2 353.4,129.4 356.8,129.6 360.3,129.8 363.7,130.0 367.1,130.3 370.5,130.5 374.0,130.8 377.4,131.0 380.8,131.3 384.2,131.6 387.7,131.8 391.1,132.1 394.5,132.4 397.9,132.7 401.3,132.9 404.8,133.2 408.2,133.5 411.6,133.7 415.0,134.0 418.5,134.3 421.9,134.5 425.3,134.8 428.7,135.1 432.1,135.5 435.6,135.7 439.0,136.0 442.4,136.3 445.8,136.4 449.3,136.6 452.7,137.0 456.1,137.4 459.5,138.0 462.8,138.6 465.9,139.9 468.6,142.0 468.6,149.4 28.9,149.4" fill="#fbb734"/>
<polygon points="28.9,100.0 98.3,98.6 100.9,100.5 103.9,102.1 107.1,103.3 110.4,104.2 113.7,105.1 117.0,105.9 120.3,106.6 123.6,107.3 127.0,107.8 130.4,108.3 133.8,108.8 137.1,109.2 140.5,109.7 143.9,110.1 147.3,110.5 150.7,111.0 154.0,111.4 157.4,111.9 160.8,112.3 164.2,112.7 167.6,113.2 171.0,113.6 174.3,114.0 177.7,114.4 181.1,114.9 184.5,115.3 187.9,115.7 191.3,116.0 194.7,116.4 198.1,116.8 201.5,117.1 204.9,117.5 208.2,117.8 211.6,118.1 215.0,118.5 218.4,118.8 221.8,119.1 225.2,119.4 228.6,119.7 232.0,120.0 235.4,120.3 238.8,120.6 242.2,120.9 245.6,121.2 249.0,121.5 252.4,121.8 255.8,122.1 259.2,122.4 262.6,122.7 266.0,123.0 269.4,123.4 272.8,123.7 276.2,124.0 279.6,124.4 283.0,124.7 286.4,125.0 289.8,125.2 293.2,125.5 296.6,125.7 300.0,126.0 303.4,126.2 306.8,126.5 310.2,126.8 313.6,127.0 317.0,127.3 320.4,127.5 323.8,127.8 327.2,128.0 330.6,128.3 334.0,128.5 337.4,128.8 340.8,129.0 344.2,129.2 347.6,129.4 351.0,129.6 354.4,129.8 357.8,130.1 361.2,130.3 364.6,130.5 368.0,130.8 371.4,131.0 374.8,131.3 378.3,131.5 381.7,131.8 385.1,132.0 388.5,132.3 391.9,132.6 395.3,132.9 398.7,133.1 402.1,133.4 405.5,133.6 408.9,133.9 412.3,134.2 415.7,134.5 419.1,134.7 422.5,135.0 425.9,135.3 429.2,135.7 432.6,136.0 436.0,136.2 439.5,136.4 442.9,136.6 446.3,136.8 449.7,137.1 453.0,137.5 456.4,138.0 459.7,138.7 462.9,139.9 465.5,142.0 465.5,149.4 28.9,149.4" fill="#fbb035"/>
<polygon points="28.9,100.0 97.7,98.7 100.2,100.7 103.1,102.3 106.3,103.5 109.5,104.5 112.8,105.4 116.1,106.2 119.4,106.9 122.7,107.6 126.0,108.1 129.4,108.6 132.7,109.1 136.1,109.6 139.5,110.0 142.8,110.5 146.2,110.9 149.5,111.3 152.9,111.8 156.3,112.2 159.6,112.7 163.0,113.1 166.3,113.6 169.7,114.0 173.1,114.4 176.4,114.9 179.8,115.3 183.1,115.7 186.5,116.1 189.9,116.5 193.3,116.8 196.6,117.2 200.0,117.5 203.4,117.9 206.7,118.2 210.1,118.5 213.5,118.9 216.9,119.2 220.2,119.5 223.6,119.8 227.0,120.1 230.4,120.4 233.7,120.7 237.1,121.0 240.5,121.3 243.9,121.5 247.3,121.8 250.6,122.1 254.0,122.4 257.4,122.7 260.8,123.0 264.1,123.3 267.5,123.7 270.9,124.0 274.3,124.3 277.6,124.7 281.0,125.0 284.4,125.3 287.8,125.5 291.1,125.8 294.5,126.0 297.9,126.3 301.3,126.5 304.7,126.8 308.1,127.0 311.4,127.3 314.8,127.6 318.2,127.8 321.6,128.1 325.0,128.3 328.3,128.5 331.7,128.8 335.1,129.0 338.5,129.3 341.9,129.5 345.2,129.7 348.6,129.9 352.0,130.1 355.4,130.3 358.8,130.5 362.2,130.8 365.5,131.0 368.9,131.3 372.3,131.5 375.7,131.8 379.1,132.0 382.4,132.3 385.8,132.5 389.2,132.8 392.6,133.1 396.0,133.3 399.3,133.6 402.7,133.8 406.1,134.1 409.5,134.4 412.9,134.7 416.2,135.0 419.6,135.3 423.0,135.6 426.4,135.9 429.7,136.2 433.1,136.4 436.5,136.6 439.9,136.8 443.3,137.0 446.6,137.3 450.0,137.7 453.4,138.1 456.7,138.7 459.8,139.9 462.4,142.0 462.4,149.4 28.9,149.4" fill="#fba836"/>
<polygon points="28.9,100.0 97.1,98.7 99.4,100.8 102.3,102.5 105.5,103.7 108.7,104.7 111.9,105.6 115.2,106.4 118.4,107.2 121.7,107.8 125.1,108.4 128.4,108.9 131.7,109.4 135.0,109.9 138.4,110.4 141.7,110.8 145.1,111.3 148.4,111.7 151.7,112.2 155.1,112.6 158.4,113.1 161.7,113.5 165.1,114.0 168.4,114.4 171.8,114.8 175.1,115.3 178.4,115.7 181.8,116.1 185.1,116.5 188.5,116.9 191.8,117.2 195.2,117.6 198.5,118.0 201.9,118.3 205.2,118.6 208.6,118.9 211.9,119.3 215.3,119.6 218.7,119.9 222.0,120.2 225.4,120.5 228.7,120.8 232.1,121.1 235.4,121.3 238.8,121.6 242.1,121.9 245.5,122.1 248.9,122.4 252.2,122.7 255.6,123.0 258.9,123.3 262.3,123.6 265.6,124.0 269.0,124.3 272.3,124.6 275.7,125.0 279.0,125.3 282.4,125.6 285.8,125.8 289.1,126.1 292.5,126.3 295.8,126.6 299.2,126.8 302.6,127.1 305.9,127.3 309.3,127.6 312.6,127.8 316.0,128.1 319.3,128.3 322.7,128.6 326.1,128.8 329.4,129.0 332.8,129.3 336.1,129.5 339.5,129.7 342.9,129.9 346.2,130.1 349.6,130.4 353.0,130.6 356.3,130.8 359.7,131.0 363.0,131.3 366.4,131.5 369.8,131.7 373.1,132.0 376.5,132.2 379.8,132.5 383.2,132.7 386.6,133.0 389.9,133.3 393.3,133.5 396.6,133.8 400.0,134.0 403.3,134.3 406.7,134.6 410.1,134.9 413.4,135.2 416.8,135.5 420.1,135.8 423.5,136.1 426.8,136.4 430.2,136.6 433.6,136.8 436.9,137.0 440.3,137.1 443.6,137.4 447.0,137.8 450.3,138.2 453.6,138.8 456.7,139.9 459.2,142.0 459.2,149.4 28.9,149.4" fill="#fba136"/>
<polygon points="28.9,100.0 96.5,98.8 98.7,101.0 101.6,102.6 104.6,103.9 107.8,104.9 111.0,105.9 114.3,106.7 117.5,107.5 120.8,108.1 124.1,108.7 127.4,109.3 130.7,109.8 134.0,110.3 137.3,110.7 140.6,111.2 143.9,111.7 147.3,112.1 150.6,112.6 153.9,113.0 157.2,113.5 160.5,113.9 163.8,114.4 167.2,114.8 170.5,115.2 173.8,115.7 177.1,116.1 180.4,116.5 183.8,116.9 187.1,117.3 190.4,117.7 193.7,118.0 197.1,118.4 200.4,118.7 203.7,119.0 207.1,119.3 210.4,119.7 213.7,120.0 217.1,120.3 220.4,120.6 223.7,120.9 227.1,121.2 230.4,121.4 233.7,121.7 237.1,122.0 240.4,122.2 243.7,122.5 247.1,122.7 250.4,123.0 253.7,123.3 257.1,123.6 260.4,124.0 263.7,124.3 267.1,124.6 270.4,124.9 273.7,125.3 277.1,125.6 280.4,125.9 283.7,126.1 287.1,126.4 290.4,126.6 293.8,126.9 297.1,127.1 300.4,127.4 303.8,127.6 307.1,127.9 310.4,128.1 313.8,128.4 317.1,128.6 320.5,128.8 323.8,129.1 327.1,129.3 330.5,129.5 333.8,129.8 337.2,130.0 340.5,130.2 343.8,130.4 347.2,130.6 350.5,130.8 353.9,131.0 357.2,131.3 360.5,131.5 363.9,131.7 367.2,132.0 370.6,132.2 373.9,132.5 377.2,132.7 380.6,133.0 383.9,133.2 387.2,133.5 390.6,133.7 393.9,134.0 397.3,134.2 400.6,134.5 403.9,134.8 407.3,135.1 410.6,135.4 413.9,135.7 417.3,136.0 420.6,136.3 423.9,136.6 427.3,136.8 430.6,137.0 433.9,137.2 437.3,137.3 440.6,137.5 443.9,137.9 447.3,138.3 450.6,138.8 453.7,139.9 456.1,142.0 456.1,149.4 28.9,149.4" fill="#fc9937"/>
<polygon points="28.9,100.0 95.9,98.8 98.0,101.1 100.8,102.8 103.8,104.1 107.0,105.2 110.2,106.1 113.4,107.0 116.6,107.8 119.8,108.4 123.1,109.0 126.4,109.6 129.7,110.1 133.0,110.6 136.2,111.1 139.5,111.6 142.8,112.0 146.1,112.5 149.4,112.9 152.7,113.4 156.0,113.9 159.3,114.3 162.6,114.8 165.9,115.2 169.2,115.6 172.5,116.1 175.8,116.5 179.1,116.9 182.4,117.3 185.7,117.7 189.0,118.1 192.3,118.4 195.6,118.8 198.9,119.1 202.2,119.4 205.5,119.7 208.8,120.1 212.2,120.4 215.5,120.7 218.8,121.0 222.1,121.3 225.4,121.5 228.7,121.8 232.0,122.1 235.4,122.3 238.7,122.5 242.0,122.8 245.3,123.1 248.6,123.4 251.9,123.6 255.2,124.0 258.5,124.3 261.9,124.6 265.2,124.9 268.5,125.2 271.8,125.6 275.1,125.9 278.4,126.2 281.7,126.4 285.0,126.7 288.4,126.9 291.7,127.2 295.0,127.4 298.3,127.7 301.6,127.9 304.9,128.2 308.3,128.4 311.6,128.6 314.9,128.9 318.2,129.1 321.5,129.3 324.9,129.5 328.2,129.8 331.5,130.0 334.8,130.2 338.1,130.4 341.4,130.6 344.8,130.9 348.1,131.1 351.4,131.3 354.7,131.5 358.0,131.8 361.4,132.0 364.7,132.2 368.0,132.5 371.3,132.7 374.6,132.9 377.9,133.2 381.3,133.4 384.6,133.7 387.9,133.9 391.2,134.1 394.5,134.4 397.8,134.7 401.1,135.0 404.5,135.3 407.8,135.6 411.1,135.9 414.4,136.2 417.7,136.5 421.0,136.8 424.3,137.0 427.7,137.2 431.0,137.3 434.3,137.5 437.6,137.7 440.9,138.0 444.2,138.4 447.5,138.8 450.6,139.9 453.0,142.0 453.0,149.4 28.9,149.4" fill="#fc9238"/>
<polygon points="28.9,100.0 95.3,98.9 97.3,101.2 100.0,103.0 103.0,104.3 106.1,105.4 109.3,106.4 112.5,107.2 115.7,108.0 118.9,108.7 122.1,109.3 125.4,109.9 128.7,110.4 131.9,111.0 135.2,111.5 138.4,111.9 141.7,112.4 145.0,112.9 148.3,113.3 151.5,113.8 154.8,114.2 158.1,114.7 161.3,115.1 164.6,115.6 167.9,116.1 171.2,116.5 174.4,116.9 177.7,117.3 181.0,117.7 184.3,118.1 187.6,118.5 190.9,118.8 194.1,119.2 197.4,119.5 200.7,119.8 204.0,120.1 207.3,120.4 210.6,120.8 213.9,121.1 217.2,121.4 220.5,121.6 223.8,121.9 227.0,122.2 230.3,122.4 233.6,122.6 236.9,122.9 240.2,123.1 243.5,123.4 246.8,123.7 250.1,124.0 253.4,124.3 256.7,124.6 260.0,124.9 263.3,125.2 266.5,125.6 269.8,125.9 273.1,126.2 276.4,126.5 279.7,126.7 283.0,127.0 286.3,127.2 289.6,127.5 292.9,127.7 296.2,128.0 299.5,128.2 302.8,128.4 306.1,128.7 309.4,128.9 312.7,129.1 316.0,129.4 319.3,129.6 322.6,129.8 325.9,130.0 329.2,130.2 332.5,130.5 335.8,130.7 339.0,130.9 342.3,131.1 345.6,131.3 348.9,131.5 352.2,131.8 355.5,132.0 358.8,132.2 362.1,132.5 365.4,132.7 368.7,132.9 372.0,133.2 375.3,133.4 378.6,133.6 381.9,133.8 385.2,134.1 388.5,134.3 391.8,134.6 395.1,134.9 398.4,135.2 401.7,135.5 405.0,135.8 408.2,136.1 411.5,136.4 414.8,136.7 418.1,137.0 421.4,137.2 424.7,137.4 428.0,137.5 431.3,137.6 434.6,137.8 437.9,138.1 441.2,138.5 444.4,138.9 447.5,139.9 449.9,142.0 449.9,149.4 28.9,149.4" fill="#fc8a39"/>
<polygon points="28.9,100.0 94.7,99.0 96.5,101.4 99.2,103.2 102.2,104.5 105.3,105.6 108.4,106.6 111.6,107.5 114.7,108.3 117.9,109.0 121.2,109.6 124.4,110.2 127.6,110.8 130.9,111.3 134.1,111.8 137.3,112.3 140.6,112.8 143.8,113.2 147.1,113.7 150.3,114.2 153.6,114.6 156.8,115.1 160.1,115.5 163.3,116.0 166.6,116.5 169.9,116.9 173.1,117.3 176.4,117.8 179.6,118.2 182.9,118.5 186.1,118.9 189.4,119.2 192.7,119.6 195.9,119.9 199.2,120.2 202.5,120.5 205.7,120.8 209.0,121.2 212.3,121.5 215.6,121.7 218.8,122.0 222.1,122.3 225.4,122.5 228.6,122.8 231.9,123.0 235.2,123.2 238.5,123.5 241.7,123.7 245.0,124.0 248.3,124.3 251.6,124.6 254.8,124.9 258.1,125.2 261.4,125.5 264.6,125.9 267.9,126.2 271.2,126.5 274.4,126.8 277.7,127.0 281.0,127.3 284.2,127.5 287.5,127.8 290.8,128.0 294.1,128.3 297.3,128.5 300.6,128.7 303.9,129.0 307.2,129.2 310.4,129.4 313.7,129.6 317.0,129.8 320.3,130.1 323.5,130.3 326.8,130.5 330.1,130.7 333.4,130.9 336.7,131.1 339.9,131.4 343.2,131.6 346.5,131.8 349.8,132.0 353.0,132.2 356.3,132.5 359.6,132.7 362.9,132.9 366.1,133.2 369.4,133.4 372.7,133.6 376.0,133.8 379.2,134.0 382.5,134.3 385.8,134.5 389.1,134.8 392.3,135.1 395.6,135.4 398.9,135.7 402.1,136.0 405.4,136.3 408.7,136.6 411.9,136.9 415.2,137.2 418.5,137.4 421.8,137.6 425.0,137.7 428.3,137.8 431.6,138.0 434.9,138.2 438.1,138.5 441.4,138.9 444.5,139.8 446.8,142.0 446.8,149.4 28.9,149.4" fill="#fc833a"/>
<polygon points="28.9,100.0 94.1,99.0 95.8,101.5 98.4,103.4 101.4,104.8 104.4,105.9 107.5,106.9 110.7,107.8 113.8,108.6 117.0,109.3 120.2,109.9 123.4,110.5 126.6,111.1 129.8,111.7 133.0,112.2 136.3,112.7 139.5,113.2 142.7,113.6 145.9,114.1 149.2,114.6 152.4,115.0 155.6,115.5 158.9,115.9 162.1,116.4 165.3,116.9 168.5,117.3 171.8,117.8 175.0,118.2 178.2,118.6 181.5,119.0 184.7,119.3 188.0,119.7 191.2,120.0 194.5,120.3 197.7,120.6 200.9,120.9 204.2,121.2 207.4,121.5 210.7,121.8 213.9,122.1 217.2,122.4 220.4,122.7 223.7,122.9 226.9,123.1 230.2,123.3 233.5,123.6 236.7,123.8 240.0,124.0 243.2,124.3 246.5,124.6 249.7,124.9 253.0,125.2 256.2,125.5 259.4,125.9 262.7,126.2 265.9,126.5 269.2,126.8 272.4,127.1 275.7,127.3 278.9,127.6 282.2,127.8 285.4,128.1 288.7,128.3 292.0,128.6 295.2,128.8 298.5,129.0 301.7,129.2 305.0,129.5 308.2,129.7 311.5,129.9 314.7,130.1 318.0,130.3 321.2,130.5 324.5,130.7 327.7,131.0 331.0,131.2 334.3,131.4 337.5,131.6 340.8,131.8 344.0,132.1 347.3,132.3 350.5,132.5 353.8,132.7 357.0,132.9 360.3,133.2 363.5,133.4 366.8,133.6 370.1,133.8 373.3,134.0 376.6,134.2 379.8,134.5 383.1,134.7 386.3,135.0 389.6,135.3 392.8,135.6 396.1,135.9 399.3,136.2 402.6,136.5 405.8,136.8 409.0,137.2 412.3,137.4 415.6,137.6 418.8,137.8 422.1,137.9 425.3,138.0 428.6,138.1 431.8,138.3 435.1,138.6 438.3,139.0 441.4,139.8 443.6,142.0 443.6,149.4 28.9,149.4" fill="#fc7b3b"/>
<polygon points="28.9,100.0 93.5,99.1 95.1,101.7 97.7,103.6 100.6,105.0 103.6,106.1 106.7,107.1 109.8,108.0 112.9,108.9 116.0,109.6 119.2,110.2 122.4,110.8 125.6,111.4 128.8,112.0 132.0,112.5 135.2,113.0 138.4,113.5 141.6,114.0 144.8,114.5 148.0,114.9 151.2,115.4 154.4,115.9 157.6,116.3 160.8,116.8 164.0,117.3 167.2,117.7 170.4,118.2 173.6,118.6 176.9,119.0 180.1,119.4 183.3,119.7 186.5,120.1 189.7,120.4 193.0,120.7 196.2,121.0 199.4,121.3 202.6,121.6 205.9,121.9 209.1,122.2 212.3,122.5 215.6,122.8 218.8,123.0 222.0,123.3 225.3,123.5 228.5,123.7 231.7,123.9 235.0,124.1 238.2,124.4 241.4,124.6 244.6,124.9 247.9,125.2 251.1,125.5 254.3,125.9 257.5,126.2 260.8,126.5 264.0,126.8 267.2,127.1 270.4,127.4 273.7,127.6 276.9,127.9 280.1,128.1 283.4,128.4 286.6,128.6 289.8,128.9 293.1,129.1 296.3,129.3 299.5,129.5 302.8,129.7 306.0,130.0 309.2,130.2 312.5,130.4 315.7,130.6 318.9,130.8 322.2,131.0 325.4,131.2 328.6,131.4 331.9,131.7 335.1,131.9 338.3,132.1 341.6,132.3 344.8,132.5 348.0,132.7 351.3,133.0 354.5,133.2 357.7,133.4 361.0,133.6 364.2,133.8 367.4,134.0 370.7,134.2 373.9,134.4 377.1,134.7 380.4,134.9 383.6,135.2 386.8,135.5 390.0,135.8 393.3,136.1 396.5,136.4 399.7,136.7 402.9,137.0 406.2,137.4 409.4,137.6 412.6,137.8 415.9,138.0 419.1,138.1 422.3,138.1 425.6,138.3 428.8,138.5 432.0,138.7 435.2,139.0 438.3,139.8 440.5,142.0 440.5,149.4 28.9,149.4" fill="#fc733b"/>
<polygon points="28.9,100.0 92.9,99.1 94.3,101.8 96.9,103.7 99.7,105.2 102.7,106.3 105.8,107.4 108.9,108.3 112.0,109.2 115.1,109.9 118.2,110.5 121.4,111.1 124.6,111.8 127.7,112.3 130.9,112.9 134.1,113.4 137.3,113.9 140.4,114.4 143.6,114.9 146.8,115.3 150.0,115.8 153.2,116.3 156.4,116.7 159.5,117.2 162.7,117.7 165.9,118.1 169.1,118.6 172.3,119.0 175.5,119.4 178.7,119.8 181.9,120.1 185.1,120.5 188.3,120.8 191.5,121.1 194.7,121.4 197.9,121.7 201.1,122.0 204.3,122.3 207.5,122.6 210.7,122.9 213.9,123.2 217.1,123.4 220.3,123.6 223.6,123.8 226.8,124.0 230.0,124.2 233.2,124.5 236.4,124.7 239.6,125.0 242.8,125.3 246.0,125.6 249.2,125.9 252.4,126.2 255.6,126.5 258.8,126.8 262.0,127.1 265.2,127.4 268.5,127.7 271.7,127.9 274.9,128.2 278.1,128.4 281.3,128.7 284.5,128.9 287.7,129.1 290.9,129.4 294.1,129.6 297.3,129.8 300.6,130.0 303.8,130.2 307.0,130.4 310.2,130.6 313.4,130.8 316.6,131.0 319.8,131.2 323.0,131.5 326.3,131.7 329.5,131.9 332.7,132.1 335.9,132.3 339.1,132.6 342.3,132.8 345.5,133.0 348.7,133.2 351.9,133.4 355.2,133.6 358.4,133.8 361.6,134.1 364.8,134.2 368.0,134.4 371.2,134.6 374.4,134.9 377.6,135.1 380.9,135.4 384.1,135.6 387.3,136.0 390.5,136.3 393.7,136.6 396.9,136.9 400.1,137.2 403.3,137.6 406.5,137.8 409.7,138.0 412.9,138.1 416.1,138.2 419.3,138.3 422.6,138.4 425.8,138.6 429.0,138.8 432.2,139.1 435.3,139.8 437.4,142.0 437.4,149.4 28.9,149.4" fill="#fc6c3c"/>
<polygon points="28.9,100.0 92.3,99.2 93.6,102.0 96.1,103.9 98.9,105.4 101.9,106.6 104.9,107.6 108.0,108.6 111.0,109.4 114.1,110.2 117.3,110.8 120.4,111.5 123.5,112.1 126.7,112.7 129.8,113.3 133.0,113.8 136.1,114.3 139.3,114.8 142.5,115.2 145.6,115.7 148.8,116.2 151.9,116.6 155.1,117.1 158.3,117.6 161.4,118.1 164.6,118.5 167.8,119.0 170.9,119.4 174.1,119.8 177.3,120.2 180.5,120.6 183.6,120.9 186.8,121.2 190.0,121.5 193.2,121.8 196.4,122.1 199.5,122.4 202.7,122.7 205.9,123.0 209.1,123.3 212.3,123.6 215.5,123.8 218.7,124.0 221.9,124.2 225.1,124.4 228.2,124.6 231.4,124.8 234.6,125.0 237.8,125.3 241.0,125.6 244.2,125.9 247.4,126.2 250.5,126.5 253.7,126.8 256.9,127.1 260.1,127.4 263.3,127.7 266.5,128.0 269.6,128.2 272.8,128.5 276.0,128.7 279.2,129.0 282.4,129.2 285.6,129.4 288.8,129.7 292.0,129.9 295.2,130.1 298.4,130.3 301.5,130.5 304.7,130.7 307.9,130.9 311.1,131.1 314.3,131.3 317.5,131.5 320.7,131.7 323.9,131.9 327.1,132.2 330.3,132.4 333.5,132.6 336.6,132.8 339.8,133.0 343.0,133.2 346.2,133.5 349.4,133.7 352.6,133.9 355.8,134.1 359.0,134.3 362.2,134.5 365.4,134.6 368.6,134.8 371.7,135.1 374.9,135.3 378.1,135.5 381.3,135.8 384.5,136.1 387.7,136.5 390.8,136.8 394.0,137.1 397.2,137.4 400.4,137.8 403.6,138.1 406.8,138.2 410.0,138.3 413.2,138.4 416.4,138.5 419.5,138.6 422.7,138.7 425.9,138.9 429.1,139.1 432.2,139.8 434.2,142.0 434.2,149.4 28.9,149.4" fill="#fc643d"/>
<polygon points="28.9,100.0 91.7,99.2 92.9,102.1 95.3,104.1 98.1,105.6 101.0,106.8 104.0,107.9 107.1,108.8 110.1,109.7 113.2,110.5 116.3,111.1 119.4,111.8 122.5,112.4 125.6,113.0 128.8,113.6 131.9,114.2 135.0,114.7 138.2,115.2 141.3,115.6 144.4,116.1 147.6,116.6 150.7,117.0 153.9,117.5 157.0,118.0 160.1,118.5 163.3,119.0 166.4,119.4 169.6,119.8 172.7,120.2 175.9,120.6 179.0,121.0 182.2,121.3 185.4,121.6 188.5,121.9 191.7,122.2 194.8,122.5 198.0,122.8 201.2,123.1 204.3,123.4 207.5,123.7 210.7,123.9 213.8,124.2 217.0,124.4 220.2,124.6 223.3,124.7 226.5,124.9 229.7,125.1 232.8,125.4 236.0,125.6 239.2,125.9 242.3,126.2 245.5,126.5 248.7,126.8 251.8,127.1 255.0,127.4 258.1,127.7 261.3,128.0 264.5,128.3 267.6,128.5 270.8,128.8 274.0,129.0 277.1,129.3 280.3,129.5 283.5,129.7 286.6,130.0 289.8,130.2 293.0,130.4 296.1,130.6 299.3,130.8 302.5,130.9 305.7,131.1 308.8,131.3 312.0,131.5 315.2,131.7 318.3,132.0 321.5,132.2 324.7,132.4 327.8,132.6 331.0,132.8 334.2,133.1 337.4,133.3 340.5,133.5 343.7,133.7 346.9,133.9 350.0,134.1 353.2,134.3 356.4,134.5 359.5,134.7 362.7,134.9 365.9,135.0 369.1,135.2 372.2,135.5 375.4,135.7 378.5,136.0 381.7,136.3 384.9,136.7 388.0,137.0 391.2,137.3 394.3,137.6 397.5,138.0 400.7,138.3 403.8,138.4 407.0,138.5 410.2,138.6 413.4,138.6 416.5,138.7 419.7,138.8 422.9,138.9 426.0,139.2 429.1,139.8 431.1,142.0 431.1,149.4 28.9,149.4" fill="#fd5d3e"/>
<polygon points="28.9,100.0 91.1,99.3 92.2,102.2 94.5,104.3 97.3,105.8 100.2,107.0 103.2,108.1 106.2,109.1 109.2,110.0 112.2,110.7 115.3,111.4 118.4,112.1 121.5,112.7 124.6,113.4 127.7,114.0 130.8,114.5 133.9,115.0 137.0,115.5 140.1,116.0 143.3,116.5 146.4,117.0 149.5,117.4 152.6,117.9 155.7,118.4 158.8,118.9 162.0,119.4 165.1,119.8 168.2,120.3 171.3,120.7 174.5,121.0 177.6,121.4 180.7,121.7 183.9,122.0 187.0,122.3 190.2,122.6 193.3,122.9 196.4,123.2 199.6,123.5 202.7,123.8 205.9,124.1 209.0,124.3 212.2,124.6 215.3,124.7 218.5,124.9 221.6,125.1 224.8,125.3 227.9,125.5 231.1,125.7 234.2,125.9 237.3,126.2 240.5,126.5 243.6,126.8 246.8,127.1 249.9,127.4 253.1,127.7 256.2,128.0 259.3,128.3 262.5,128.6 265.6,128.8 268.8,129.1 271.9,129.3 275.1,129.6 278.2,129.8 281.4,130.0 284.5,130.2 287.6,130.4 290.8,130.7 293.9,130.8 297.1,131.0 300.2,131.2 303.4,131.4 306.5,131.6 309.7,131.8 312.8,132.0 316.0,132.2 319.1,132.4 322.3,132.7 325.4,132.9 328.6,133.1 331.7,133.3 334.9,133.5 338.0,133.7 341.2,133.9 344.3,134.1 347.5,134.3 350.6,134.5 353.8,134.7 356.9,134.9 360.1,135.1 363.2,135.2 366.4,135.4 369.5,135.7 372.6,135.9 375.8,136.2 378.9,136.5 382.1,136.9 385.2,137.2 388.3,137.5 391.5,137.9 394.6,138.2 397.8,138.5 400.9,138.6 404.1,138.7 407.2,138.8 410.4,138.8 413.5,138.9 416.7,138.9 419.8,139.0 423.0,139.2 426.1,139.8 428.0,142.0 428.0,149.4 28.9,149.4" fill="#fd553f"/>
<polygon points="28.9,100.0 91.1,100.0 92.2,102.9 94.5,105.0 97.3,106.5 100.2,107.7 103.2,108.8 106.2,109.7 109.2,110.7 112.2,111.4 115.3,112.1 118.4,112.8 121.5,113.4 124.6,114.1 127.7,114.7 130.8,115.2 133.9,115.7 137.0,116.2 140.1,116.7 143.3,117.1 146.4,117.6 149.5,118.1 152.6,118.6 155.7,119.1 158.8,119.5 162.0,120.0 165.1,120.5 168.2,120.9 171.3,121.3 174.5,121.7 177.6,122.0 180.7,122.4 183.9,122.7 187.0,123.0 190.2,123.3 193.3,123.6 196.4,123.9 199.6,124.2 202.7,124.5 205.9,124.7 209.0,125.0 212.2,125.2 215.3,125.4 218.5,125.6 221.6,125.8 224.8,125.9 227.9,126.1 231.1,126.4 234.2,126.6 237.3,126.9 240.5,127.2 243.6,127.5 246.8,127.8 249.9,128.1 253.1,128.3 256.2,128.6 259.3,128.9 262.5,129.2 265.6,129.5 268.8,129.8 271.9,130.0 275.1,130.3 278.2,130.5 281.4,130.7 284.5,130.9 287.6,131.1 290.8,131.3 293.9,131.5 297.1,131.7 300.2,131.9 303.4,132.1 306.5,132.3 309.7,132.4 312.8,132.7 316.0,132.9 319.1,133.1 322.3,133.3 325.4,133.5 328.6,133.8 331.7,134.0 334.9,134.2 338.0,134.4 341.2,134.6 344.3,134.8 347.5,135.0 350.6,135.2 353.8,135.4 356.9,135.6 360.1,135.7 363.2,135.9 366.4,136.1 369.5,136.3 372.6,136.6 375.8,136.9 378.9,137.2 382.1,137.5 385.2,137.9 388.3,138.2 391.5,138.5 394.6,138.9 397.8,139.1 400.9,139.3 404.1,139.4 407.2,139.4 410.4,139.5 413.5,139.5 416.7,139.6 419.8,139.7 423.0,139.9 426.1,140.4 428.0,142.7 428.0,149.4 28.9,149.4" fill="#fd4e40"/>
<polygon points="28.9,100.0 91.1,100.6 92.2,103.6 94.5,105.6 97.3,107.2 100.2,108.4 103.2,109.4 106.2,110.4 109.2,111.3 112.2,112.1 115.3,112.8 118.4,113.4 121.5,114.1 124.6,114.7 127.7,115.3 130.8,115.9 133.9,116.4 137.0,116.9 140.1,117.3 143.3,117.8 146.4,118.3 149.5,118.8 152.6,119.2 155.7,119.7 158.8,120.2 162.0,120.7 165.1,121.2 168.2,121.6 171.3,122.0 174.5,122.4 177.6,122.7 180.7,123.0 183.9,123.3 187.0,123.6 190.2,123.9 193.3,124.3 196.4,124.6 199.6,124.9 202.7,125.1 205.9,125.4 209.0,125.7 212.2,125.9 215.3,126.1 218.5,126.3 221.6,126.4 224.8,126.6 227.9,126.8 231.1,127.0 234.2,127.3 237.3,127.6 240.5,127.8 243.6,128.1 246.8,128.4 249.9,128.7 253.1,129.0 256.2,129.3 259.3,129.6 262.5,129.9 265.6,130.2 268.8,130.4 271.9,130.7 275.1,130.9 278.2,131.1 281.4,131.4 284.5,131.6 287.6,131.8 290.8,132.0 293.9,132.2 297.1,132.4 300.2,132.5 303.4,132.7 306.5,132.9 309.7,133.1 312.8,133.3 316.0,133.5 319.1,133.8 322.3,134.0 325.4,134.2 328.6,134.4 331.7,134.6 334.9,134.9 338.0,135.1 341.2,135.3 344.3,135.5 347.5,135.7 350.6,135.9 353.8,136.1 356.9,136.2 360.1,136.4 363.2,136.6 366.4,136.8 369.5,137.0 372.6,137.3 375.8,137.6 378.9,137.9 382.1,138.2 385.2,138.5 388.3,138.9 391.5,139.2 394.6,139.5 397.8,139.8 400.9,140.0 404.1,140.0 407.2,140.1 410.4,140.1 413.5,140.2 416.7,140.3 419.8,140.4 423.0,140.5 426.1,141.1 428.0,143.3 428.0,149.4 28.9,149.4" fill="#fd4840"/>
<polygon points="28.9,100.0 91.1,101.3 92.2,104.2 94.5,106.3 97.3,107.8 100.2,109.0 103.2,110.1 106.2,111.1 109.2,112.0 112.2,112.7 115.3,113.4 118.4,114.1 121.5,114.7 124.6,115.4 127.7,116.0 130.8,116.5 133.9,117.0 137.0,117.5 140.1,118.0 143.3,118.5 146.4,119.0 149.5,119.4 152.6,119.9 155.7,120.4 158.8,120.9 162.0,121.4 165.1,121.8 168.2,122.3 171.3,122.7 174.5,123.0 177.6,123.4 180.7,123.7 183.9,124.0 187.0,124.3 190.2,124.6 193.3,124.9 196.4,125.2 199.6,125.5 202.7,125.8 205.9,126.1 209.0,126.3 212.2,126.6 215.3,126.7 218.5,126.9 221.6,127.1 224.8,127.3 227.9,127.5 231.1,127.7 234.2,127.9 237.3,128.2 240.5,128.5 243.6,128.8 246.8,129.1 249.9,129.4 253.1,129.7 256.2,130.0 259.3,130.3 262.5,130.6 265.6,130.8 268.8,131.1 271.9,131.3 275.1,131.6 278.2,131.8 281.4,132.0 284.5,132.2 287.6,132.4 290.8,132.7 293.9,132.8 297.1,133.0 300.2,133.2 303.4,133.4 306.5,133.6 309.7,133.8 312.8,134.0 316.0,134.2 319.1,134.4 322.3,134.7 325.4,134.9 328.6,135.1 331.7,135.3 334.9,135.5 338.0,135.7 341.2,135.9 344.3,136.1 347.5,136.3 350.6,136.5 353.8,136.7 356.9,136.9 360.1,137.1 363.2,137.2 366.4,137.4 369.5,137.7 372.6,137.9 375.8,138.2 378.9,138.5 382.1,138.9 385.2,139.2 388.3,139.5 391.5,139.9 394.6,140.2 397.8,140.5 400.9,140.6 404.1,140.7 407.2,140.8 410.4,140.8 413.5,140.9 416.7,140.9 419.8,141.0 423.0,141.2 426.1,141.8 428.0,144.0 428.0,149.4 28.9,149.4" fill="#fd4141"/>
</g>
<path d="M91.10,99.30 C91.20,99.67 91.33,100.82 91.70,101.50 C92.07,102.18 92.45,102.72 93.30,103.40 C94.15,104.08 95.48,104.93 96.80,105.60 C98.12,106.27 99.73,106.85 101.20,107.40 C102.67,107.95 104.13,108.43 105.60,108.90 C107.07,109.37 107.93,109.68 110.00,110.20 C112.07,110.72 114.67,111.30 118.00,112.00 C121.33,112.70 124.67,113.48 130.00,114.40 C135.33,115.32 143.33,116.48 150.00,117.50 C156.67,118.52 163.33,119.65 170.00,120.50 C176.67,121.35 183.33,121.95 190.00,122.60 C196.67,123.25 203.33,123.90 210.00,124.40 C216.67,124.90 223.33,125.10 230.00,125.60 C236.67,126.10 243.33,126.80 250.00,127.40 C256.67,128.00 263.33,128.67 270.00,129.20 C276.67,129.73 283.33,130.17 290.00,130.60 C296.67,131.03 303.33,131.37 310.00,131.80 C316.67,132.23 323.33,132.75 330.00,133.20 C336.67,133.65 343.33,134.08 350.00,134.50 C356.67,134.92 363.33,135.17 370.00,135.70 C376.67,136.23 385.00,137.22 390.00,137.70 C395.00,138.18 394.33,138.33 400.00,138.60 C405.67,138.87 419.33,138.73 424.00,139.30 C428.67,139.87 427.33,141.55 428.00,142.00" fill="none" stroke="#000" stroke-opacity="0.78" stroke-width="1.05"/>
<path d="M100.70,98.40 C101.52,98.80 104.05,100.15 105.60,100.80 C107.15,101.45 107.93,101.72 110.00,102.30 C112.07,102.88 114.67,103.60 118.00,104.30 C121.33,105.00 124.67,105.75 130.00,106.50 C135.33,107.25 143.33,108.00 150.00,108.80 C156.67,109.60 163.33,110.50 170.00,111.30 C176.67,112.10 183.33,112.85 190.00,113.60 C196.67,114.35 203.33,115.12 210.00,115.80 C216.67,116.48 223.33,117.07 230.00,117.70 C236.67,118.33 243.33,118.98 250.00,119.60 C256.67,120.22 263.33,120.77 270.00,121.40 C276.67,122.03 283.33,122.82 290.00,123.40 C296.67,123.98 303.33,124.38 310.00,124.90 C316.67,125.42 323.33,125.98 330.00,126.50 C336.67,127.02 343.33,127.55 350.00,128.00 C356.67,128.45 363.33,128.75 370.00,129.20 C376.67,129.65 383.33,130.17 390.00,130.70 C396.67,131.23 403.33,131.87 410.00,132.40 C416.67,132.93 423.33,133.37 430.00,133.90 C436.67,134.43 445.00,135.20 450.00,135.60 C455.00,136.00 456.67,135.90 460.00,136.30 C463.33,136.70 467.67,137.50 470.00,138.00 C472.33,138.50 472.67,138.63 474.00,139.30 C475.33,139.97 477.33,141.55 478.00,142.00" fill="none" stroke="#000" stroke-opacity="0.78" stroke-width="1.05"/>
<path d="M183.00,97.30 C185.50,97.63 193.50,98.68 198.00,99.30 C202.50,99.92 204.67,100.35 210.00,101.00 C215.33,101.65 223.33,102.48 230.00,103.20 C236.67,103.92 243.33,104.68 250.00,105.30 C256.67,105.92 263.33,106.28 270.00,106.90 C276.67,107.52 283.33,108.33 290.00,109.00 C296.67,109.67 303.33,110.17 310.00,110.90 C316.67,111.63 323.33,112.65 330.00,113.40 C336.67,114.15 343.33,114.70 350.00,115.40 C356.67,116.10 363.33,116.80 370.00,117.60 C376.67,118.40 383.33,119.35 390.00,120.20 C396.67,121.05 403.33,121.82 410.00,122.70 C416.67,123.58 423.33,124.52 430.00,125.50 C436.67,126.48 443.33,127.58 450.00,128.60 C456.67,129.62 465.33,130.72 470.00,131.60 C474.67,132.48 476.17,133.08 478.00,133.90 C479.83,134.72 480.25,135.60 481.00,136.50 C481.75,137.40 482.17,138.38 482.50,139.30 C482.83,140.22 482.92,141.55 483.00,142.00" fill="none" stroke="#000" stroke-opacity="0.78" stroke-width="1.05"/>
<text x="305.0" y="108.9" font-size="9.5" text-anchor="middle" fill="#000" transform="rotate(4.0 305.0 108.9)" stroke="#000">1 g/L</text>
<text x="271.6" y="118.4" font-size="9.5" text-anchor="middle" fill="#000" transform="rotate(3.0 271.6 118.4)" stroke="#000">10 g/L</text>
<text x="226.4" y="133.9" font-size="9.5" text-anchor="middle" fill="#000" transform="rotate(3.0 226.4 133.9)" stroke="#000">30 g/L</text>
<text x="49.1" y="126.7" font-size="10" fill="#a50d0d" stroke="#a50d0d">Seawater</text>
<line x1="33.9" y1="97.2" x2="674.6" y2="97.2" stroke="#111" stroke-width="1.5" stroke-dasharray="4.3 2.2" stroke-dashoffset="-1.0"/>
<polyline points="33.9,100.0 60.0,99.9 91.4,99.3 96.5,98.4 100.9,97.5 103.8,96.0 106.7,93.1 108.2,92.2 117.0,91.6 121.3,88.8 131.5,87.3 147.6,86.1 180.0,85.3 220.0,83.8 240.0,82.4 260.0,80.0 300.0,77.0 340.0,74.2 375.0,72.5 400.0,71.4 450.0,69.5 480.0,67.9 530.0,65.6 570.0,64.1 617.0,63.1 640.0,62.2 674.6,59.3" fill="none" stroke="#111" stroke-width="1.2" stroke-linejoin="round"/>
<line x1="148.1" y1="86.1" x2="148.1" y2="99.9" stroke="#111" stroke-width="1.3"/>
<text x="148.6" y="69.8" font-size="9.2" text-anchor="middle" font-weight="bold" fill="#111"  stroke="#111">SIM 2</text>
<text x="148.6" y="80.4" font-size="9.2" text-anchor="middle" font-weight="normal" fill="#222"  stroke="#222">0.205 m</text>
<line x1="254.6" y1="80.6" x2="254.6" y2="118.5" stroke="#111" stroke-width="1.3"/>
<text x="255.2" y="63.1" font-size="9.2" text-anchor="middle" font-weight="bold" fill="#111"  stroke="#111">SIM 1</text>
<text x="255.2" y="73.7" font-size="9.2" text-anchor="middle" font-weight="normal" fill="#222"  stroke="#222">0.412 m</text>
<line x1="375.7" y1="72.5" x2="375.7" y2="120.8" stroke="#111" stroke-width="1.3"/>
<text x="375.4" y="53.9" font-size="9.2" text-anchor="middle" font-weight="bold" fill="#111"  stroke="#111">SIM 3</text>
<text x="375.4" y="64.5" font-size="9.2" text-anchor="middle" font-weight="normal" fill="#222"  stroke="#222">0.511 m</text>
<line x1="617.9" y1="63.1" x2="617.9" y2="139.4" stroke="#111" stroke-width="1.3"/>
<text x="618.2" y="45.6" font-size="9.2" text-anchor="middle" font-weight="bold" fill="#111"  stroke="#111">SIM 6</text>
<text x="618.2" y="56.2" font-size="9.2" text-anchor="middle" font-weight="normal" fill="#222"  stroke="#222">0.674 m</text>
<text x="466.6" y="80.4" font-size="9.5" text-anchor="start" font-weight="normal" fill="#222"  stroke="#222">30 g/L</text>
<text x="466.6" y="92.1" font-size="9.5" text-anchor="start" font-weight="normal" fill="#222"  stroke="#222">225 m</text>
<polygon points="423.9,136.8 427.5,130.6 430.9,135.4" fill="#111"/>
<line x1="479.4" y1="96.8" x2="428.5" y2="133.5" stroke="#111" stroke-width="1.7"/>
<text x="531.6" y="80.4" font-size="9.5" text-anchor="start" font-weight="normal" fill="#222"  stroke="#222">1 g/L</text>
<text x="531.6" y="92.1" font-size="9.5" text-anchor="start" font-weight="normal" fill="#222"  stroke="#222">274 m</text>
<polygon points="499.9,135.6 502.9,129.2 506.7,133.5" fill="#111"/>
<line x1="544.8" y1="96.8" x2="504.2" y2="131.9" stroke="#111" stroke-width="1.7"/>
<text x="70.6" y="84.6" font-size="9.5" text-anchor="start" font-weight="normal" fill="#111"  stroke="#111">SGD</text>
<polygon points="100.3,97.2 95.3,95.1 98.4,92.1" fill="#111"/>
<polyline points="74.6,87.2 90.7,87.2 97.4,94.2" fill="none" stroke="#111" stroke-width="1.1"/>
<polygon points="582.5,112.7 593.0,107.3 593.0,118.1" fill="#0b63c1"/>
<rect x="592.5" y="111.0" width="82.1" height="3.3" fill="#0b63c1"/>
<text x="624.0" y="128.0" font-size="9.5" text-anchor="start" font-weight="bold" fill="#0b63c1"  stroke="#0b63c1">2 ML/year</text>
<text x="527.2" y="133.2" font-size="9.5" text-anchor="start" font-weight="normal" fill="#26468c"  stroke="#26468c">Fresh water</text>
<text x="618.5" y="92.7" font-size="9.5" text-anchor="start" font-weight="normal" fill="#1a1a1a"  stroke="#1a1a1a">Water Table</text>
</g>
<text x="40.6" y="38.8" font-size="9.8" fill="#111" stroke="#111"><tspan font-weight="bold">A.</tspan> Reference Model</text>
<text x="40.6" y="50.8" font-size="9.8" fill="#111" stroke="#111">K<tspan font-size="8.6" dy="2.2">x</tspan><tspan dy="-2.2" dx="0.7">/ K</tspan><tspan font-size="8.6" dy="2.2">y</tspan><tspan dy="-2.2" dx="1.0"> = 1</tspan></text>
<text x="40.6" y="63.7" font-size="9.8" fill="#111" stroke="#111">Anisotropy Angle = 0°</text>
<rect x="33.9" y="26.2" width="640.7" height="113.2" fill="none" stroke="#000" stroke-opacity="0.42" stroke-width="1.3"/>
<line x1="33.9" y1="139.4" x2="674.6" y2="139.4" stroke="#1a1a1a" stroke-width="1.3"/>
<path d="M33.9,125.6h3.0 M33.9,111.4h1.6 M33.9,97.2h3.0 M33.9,83.0h1.6 M33.9,68.8h3.0 M33.9,54.7h1.6 M33.9,40.5h3.0 M48.1,139.4v-1.6 M62.4,139.4v-1.6 M76.6,139.4v-1.6 M90.9,139.4v-1.6 M105.1,139.4v-3.0 M119.3,139.4v-1.6 M133.6,139.4v-1.6 M147.8,139.4v-1.6 M162.0,139.4v-1.6 M176.3,139.4v-3.0 M190.5,139.4v-1.6 M204.8,139.4v-1.6 M219.0,139.4v-1.6 M233.2,139.4v-1.6 M247.5,139.4v-3.0 M261.7,139.4v-1.6 M275.9,139.4v-1.6 M290.2,139.4v-1.6 M304.4,139.4v-1.6 M318.7,139.4v-3.0 M332.9,139.4v-1.6 M347.1,139.4v-1.6 M361.4,139.4v-1.6 M375.6,139.4v-1.6 M389.8,139.4v-3.0 M404.1,139.4v-1.6 M418.3,139.4v-1.6 M432.6,139.4v-1.6 M446.8,139.4v-1.6 M461.0,139.4v-3.0 M475.3,139.4v-1.6 M489.5,139.4v-1.6 M503.7,139.4v-1.6 M518.0,139.4v-1.6 M532.2,139.4v-3.0 M546.5,139.4v-1.6 M560.7,139.4v-1.6 M574.9,139.4v-1.6 M589.2,139.4v-1.6 M603.4,139.4v-3.0 M617.6,139.4v-1.6 M631.9,139.4v-1.6 M646.1,139.4v-1.6 M660.4,139.4v-1.6" stroke="#333" stroke-width="0.9" fill="none"/>
<text x="31.2" y="43.9" font-size="9.6" text-anchor="end" font-weight="normal" fill="#222"  stroke="#222">40</text>
<text x="31.2" y="72.3" font-size="9.6" text-anchor="end" font-weight="normal" fill="#222"  stroke="#222">20</text>
<text x="31.2" y="100.7" font-size="9.6" text-anchor="end" font-weight="normal" fill="#222"  stroke="#222">0</text>
<text x="31.2" y="129.0" font-size="9.6" text-anchor="end" font-weight="normal" fill="#222"  stroke="#222">−20</text>
<text x="33.9" y="149.7" font-size="9.6" text-anchor="middle" font-weight="normal" fill="#222"  stroke="#222">−50</text>
<text x="105.1" y="149.7" font-size="9.6" text-anchor="middle" font-weight="normal" fill="#222"  stroke="#222">0</text>
<text x="176.3" y="149.7" font-size="9.6" text-anchor="middle" font-weight="normal" fill="#222"  stroke="#222">50</text>
<text x="247.5" y="149.7" font-size="9.6" text-anchor="middle" font-weight="normal" fill="#222"  stroke="#222">100</text>
<text x="318.7" y="149.7" font-size="9.6" text-anchor="middle" font-weight="normal" fill="#222"  stroke="#222">150</text>
<text x="389.8" y="149.7" font-size="9.6" text-anchor="middle" font-weight="normal" fill="#222"  stroke="#222">200</text>
<text x="461.0" y="149.7" font-size="9.6" text-anchor="middle" font-weight="normal" fill="#222"  stroke="#222">250</text>
<text x="532.2" y="149.7" font-size="9.6" text-anchor="middle" font-weight="normal" fill="#222"  stroke="#222">300</text>
<text x="603.4" y="149.7" font-size="9.6" text-anchor="middle" font-weight="normal" fill="#222"  stroke="#222">350</text>
<text x="674.6" y="149.7" font-size="9.6" text-anchor="middle" font-weight="normal" fill="#222"  stroke="#222">400</text>
<text x="9.4" y="82.8" font-size="9.8" text-anchor="middle" fill="#222" transform="rotate(-90 9.4 82.8)" stroke="#222">Elevation (mASL)</text>
<clipPath id="axB"><rect x="33.9" y="154.1" width="640.7" height="113.2"/></clipPath>
<clipPath id="satB"><polygon points="28.9,228.2 33.9,228.2 60.0,228.1 91.4,227.5 96.5,226.6 100.9,225.7 102.4,225.8 679.6,225.8 679.6,272.3 28.9,272.3"/></clipPath>
<rect x="33.9" y="154.1" width="640.7" height="113.2" fill="#fcfcfc"/>
<g clip-path="url(#axB)"><g clip-path="url(#satB)">
<polygon points="28.9,227.7 100.0,223.7 103.6,223.7 107.3,223.7 110.9,223.7 114.6,223.7 118.2,223.7 121.8,223.7 125.5,223.7 129.1,223.7 132.7,223.7 136.4,223.7 140.0,223.7 143.7,223.7 147.3,223.7 150.9,223.7 154.6,223.7 158.2,223.7 161.9,223.7 165.5,223.7 169.1,223.7 172.8,223.7 176.4,223.7 180.0,223.7 183.7,223.7 187.3,223.7 191.0,223.7 194.6,223.7 198.2,223.8 201.9,223.8 205.5,223.8 209.2,223.8 212.8,223.9 216.4,223.9 220.1,224.0 223.7,224.0 227.3,224.1 231.0,224.2 234.6,224.4 238.2,224.6 241.9,224.8 245.5,225.0 249.1,225.3 252.8,225.6 256.4,225.9 260.0,226.2 263.6,226.5 267.3,226.7 270.9,227.0 274.5,227.3 278.2,227.6 281.8,227.9 285.4,228.3 289.0,228.6 292.6,229.0 296.3,229.4 299.9,229.8 303.5,230.2 307.1,230.6 310.7,231.0 314.3,231.4 317.9,231.9 321.6,232.3 325.2,232.7 328.8,233.1 332.4,233.4 336.0,233.8 339.7,234.2 343.3,234.5 346.9,234.9 350.5,235.2 354.1,235.6 357.8,235.9 361.4,236.3 365.0,236.7 368.6,237.0 372.2,237.5 375.8,237.9 379.5,238.3 383.1,238.7 386.7,239.1 390.3,239.6 393.9,240.0 397.5,240.5 401.1,241.0 404.7,241.5 408.3,242.0 411.9,242.5 415.5,243.0 419.1,243.6 422.7,244.1 426.3,244.7 429.9,245.3 433.5,245.9 437.1,246.4 440.7,247.1 444.3,247.7 447.8,248.3 451.4,249.0 455.0,249.6 458.6,250.3 462.1,251.1 465.7,251.9 469.2,252.9 472.6,254.1 476.0,255.4 479.2,257.1 481.8,259.7 483.5,262.9 484.8,266.3 486.0,269.7 486.0,277.3 28.9,277.3" fill="#fafafc"/>
<polygon points="28.9,227.7 100.1,223.8 103.7,223.7 107.3,223.6 110.9,223.5 114.5,223.5 118.2,223.4 121.8,223.4 125.4,223.4 129.1,223.4 132.7,223.4 136.3,223.4 140.0,223.4 143.6,223.4 147.2,223.4 150.9,223.5 154.5,223.5 158.1,223.5 161.8,223.5 165.4,223.6 169.0,223.6 172.7,223.7 176.3,223.7 179.9,223.8 183.6,223.8 187.2,223.9 190.8,223.9 194.5,224.0 198.1,224.0 201.7,224.1 205.3,224.1 209.0,224.2 212.6,224.3 216.2,224.3 219.9,224.4 223.5,224.5 227.1,224.6 230.8,224.8 234.4,224.9 238.0,225.1 241.6,225.4 245.3,225.6 248.9,225.9 252.5,226.2 256.1,226.5 259.8,226.8 263.4,227.1 267.0,227.4 270.6,227.6 274.3,227.9 277.9,228.2 281.5,228.5 285.1,228.9 288.7,229.2 292.3,229.6 296.0,230.0 299.6,230.4 303.2,230.8 306.8,231.2 310.4,231.6 314.0,232.0 317.6,232.5 321.2,232.9 324.8,233.3 328.5,233.7 332.1,234.1 335.7,234.4 339.3,234.8 342.9,235.2 346.5,235.5 350.1,235.8 353.8,236.2 357.4,236.5 361.0,236.9 364.6,237.3 368.2,237.7 371.8,238.1 375.4,238.5 379.1,238.9 382.7,239.3 386.3,239.8 389.9,240.2 393.5,240.7 397.1,241.1 400.7,241.6 404.3,242.1 407.9,242.6 411.5,243.1 415.1,243.6 418.7,244.2 422.3,244.7 425.9,245.3 429.4,245.9 433.0,246.4 436.6,247.0 440.2,247.6 443.8,248.2 447.4,248.9 450.9,249.5 454.5,250.2 458.1,250.9 461.6,251.6 465.2,252.4 468.7,253.4 472.1,254.5 475.6,255.7 478.7,257.4 481.4,259.8 483.2,262.9 484.6,266.3 485.8,269.7 485.8,277.3 28.9,277.3" fill="#f1f5fa"/>
<polygon points="28.9,227.7 100.1,223.9 103.7,223.7 107.3,223.4 110.9,223.3 114.5,223.2 118.1,223.2 121.8,223.2 125.4,223.2 129.0,223.2 132.7,223.2 136.3,223.2 139.9,223.2 143.5,223.2 147.2,223.2 150.8,223.3 154.4,223.3 158.1,223.4 161.7,223.4 165.3,223.5 168.9,223.6 172.6,223.6 176.2,223.7 179.8,223.8 183.4,223.9 187.1,224.0 190.7,224.1 194.3,224.2 197.9,224.3 201.6,224.4 205.2,224.5 208.8,224.6 212.4,224.7 216.0,224.8 219.7,224.9 223.3,225.0 226.9,225.2 230.5,225.3 234.2,225.5 237.8,225.7 241.4,226.0 245.0,226.2 248.7,226.5 252.3,226.8 255.9,227.1 259.5,227.4 263.1,227.7 266.7,228.0 270.4,228.2 274.0,228.5 277.6,228.9 281.2,229.2 284.8,229.5 288.4,229.9 292.0,230.2 295.7,230.6 299.3,231.0 302.9,231.4 306.5,231.8 310.1,232.2 313.7,232.6 317.3,233.1 320.9,233.5 324.5,233.9 328.1,234.3 331.7,234.7 335.3,235.1 338.9,235.4 342.5,235.8 346.2,236.1 349.8,236.5 353.4,236.8 357.0,237.2 360.6,237.5 364.2,237.9 367.8,238.3 371.4,238.7 375.0,239.1 378.6,239.5 382.2,240.0 385.9,240.4 389.5,240.9 393.1,241.3 396.7,241.8 400.3,242.2 403.9,242.7 407.4,243.2 411.0,243.7 414.6,244.2 418.2,244.8 421.8,245.3 425.4,245.9 429.0,246.5 432.6,247.0 436.1,247.6 439.7,248.2 443.3,248.8 446.9,249.4 450.5,250.1 454.0,250.7 457.6,251.4 461.1,252.1 464.7,252.9 468.2,253.8 471.7,254.9 475.1,256.0 478.3,257.6 481.0,259.9 483.0,262.9 484.4,266.3 485.5,269.7 485.5,277.3 28.9,277.3" fill="#e7f0f7"/>
<polygon points="28.9,227.7 100.2,224.0 103.7,223.6 107.3,223.3 110.9,223.1 114.5,223.0 118.1,223.0 121.7,222.9 125.4,222.9 129.0,222.9 132.6,222.9 136.2,222.9 139.9,222.9 143.5,223.0 147.1,223.0 150.7,223.1 154.4,223.1 158.0,223.2 161.6,223.3 165.2,223.4 168.8,223.5 172.5,223.6 176.1,223.7 179.7,223.9 183.3,224.0 186.9,224.1 190.5,224.3 194.2,224.4 197.8,224.5 201.4,224.7 205.0,224.8 208.6,224.9 212.2,225.1 215.9,225.2 219.5,225.4 223.1,225.5 226.7,225.7 230.3,225.9 234.0,226.1 237.6,226.3 241.2,226.6 244.8,226.8 248.4,227.1 252.0,227.5 255.6,227.8 259.2,228.0 262.9,228.3 266.5,228.6 270.1,228.9 273.7,229.2 277.3,229.5 280.9,229.8 284.5,230.2 288.1,230.5 291.7,230.9 295.3,231.3 299.0,231.6 302.6,232.0 306.2,232.4 309.8,232.8 313.4,233.2 317.0,233.7 320.6,234.1 324.2,234.5 327.8,234.9 331.4,235.3 335.0,235.7 338.6,236.0 342.2,236.4 345.8,236.7 349.4,237.1 353.0,237.4 356.6,237.8 360.2,238.2 363.8,238.5 367.4,238.9 371.0,239.3 374.6,239.8 378.2,240.2 381.8,240.6 385.4,241.1 389.0,241.5 392.6,242.0 396.2,242.4 399.8,242.9 403.4,243.4 407.0,243.9 410.6,244.4 414.2,244.9 417.8,245.4 421.4,245.9 424.9,246.5 428.5,247.0 432.1,247.6 435.7,248.2 439.2,248.8 442.8,249.4 446.4,250.0 450.0,250.6 453.5,251.3 457.1,251.9 460.7,252.6 464.2,253.4 467.7,254.3 471.2,255.2 474.6,256.4 477.9,257.9 480.7,260.1 482.7,263.0 484.1,266.3 485.2,269.7 485.2,277.3 28.9,277.3" fill="#deebf5"/>
<polygon points="28.9,227.7 100.2,224.1 103.7,223.6 107.3,223.2 110.9,222.9 114.5,222.8 118.1,222.7 121.7,222.7 125.3,222.6 129.0,222.6 132.6,222.6 136.2,222.7 139.8,222.7 143.4,222.7 147.1,222.8 150.7,222.9 154.3,223.0 157.9,223.1 161.5,223.2 165.1,223.3 168.7,223.5 172.4,223.6 176.0,223.8 179.6,223.9 183.2,224.1 186.8,224.3 190.4,224.4 194.0,224.6 197.6,224.8 201.2,224.9 204.8,225.1 208.4,225.3 212.1,225.5 215.7,225.7 219.3,225.8 222.9,226.0 226.5,226.2 230.1,226.4 233.7,226.6 237.3,226.9 241.0,227.2 244.6,227.4 248.2,227.8 251.8,228.1 255.4,228.4 259.0,228.7 262.6,228.9 266.2,229.2 269.8,229.5 273.4,229.8 277.0,230.1 280.6,230.4 284.2,230.8 287.8,231.1 291.4,231.5 295.0,231.9 298.6,232.3 302.2,232.7 305.8,233.0 309.4,233.4 313.0,233.8 316.6,234.3 320.2,234.7 323.8,235.1 327.4,235.5 331.0,235.9 334.6,236.3 338.2,236.7 341.8,237.0 345.4,237.4 349.0,237.7 352.6,238.1 356.2,238.4 359.8,238.8 363.4,239.2 367.0,239.6 370.6,240.0 374.2,240.4 377.8,240.8 381.4,241.2 385.0,241.7 388.6,242.1 392.2,242.6 395.8,243.1 399.4,243.5 403.0,244.0 406.6,244.5 410.1,245.0 413.7,245.5 417.3,246.0 420.9,246.5 424.5,247.1 428.0,247.6 431.6,248.2 435.2,248.8 438.8,249.4 442.3,250.0 445.9,250.6 449.5,251.2 453.0,251.8 456.6,252.5 460.2,253.1 463.7,253.9 467.2,254.7 470.7,255.6 474.1,256.7 477.4,258.1 480.3,260.2 482.4,263.0 483.9,266.3 485.0,269.7 485.0,277.3 28.9,277.3" fill="#d4e6f3"/>
<polygon points="28.9,227.7 100.3,224.2 103.8,223.6 107.3,223.1 110.9,222.7 114.5,222.6 118.1,222.5 121.7,222.4 125.3,222.4 128.9,222.4 132.5,222.4 136.1,222.4 139.8,222.4 143.4,222.5 147.0,222.6 150.6,222.7 154.2,222.8 157.8,222.9 161.4,223.1 165.0,223.2 168.6,223.4 172.3,223.6 175.9,223.8 179.5,224.0 183.1,224.2 186.7,224.4 190.3,224.6 193.9,224.8 197.5,225.0 201.1,225.2 204.7,225.5 208.3,225.7 211.9,225.9 215.5,226.1 219.1,226.3 222.7,226.5 226.3,226.7 229.9,226.9 233.5,227.2 237.1,227.5 240.7,227.7 244.3,228.0 247.9,228.4 251.5,228.7 255.1,229.0 258.7,229.3 262.3,229.5 265.9,229.8 269.6,230.1 273.2,230.4 276.8,230.7 280.4,231.1 284.0,231.4 287.5,231.8 291.1,232.2 294.7,232.5 298.3,232.9 301.9,233.3 305.5,233.6 309.1,234.0 312.7,234.4 316.3,234.9 319.9,235.3 323.5,235.7 327.1,236.1 330.7,236.6 334.3,236.9 337.9,237.3 341.5,237.6 345.1,238.0 348.7,238.3 352.3,238.7 355.9,239.1 359.5,239.4 363.1,239.8 366.6,240.2 370.2,240.6 373.8,241.0 377.4,241.4 381.0,241.9 384.6,242.3 388.2,242.8 391.8,243.2 395.4,243.7 398.9,244.2 402.5,244.6 406.1,245.1 409.7,245.6 413.3,246.1 416.9,246.6 420.4,247.1 424.0,247.7 427.6,248.2 431.2,248.8 434.7,249.4 438.3,249.9 441.9,250.5 445.4,251.1 449.0,251.7 452.6,252.4 456.1,253.0 459.7,253.6 463.2,254.3 466.7,255.1 470.2,256.0 473.7,257.0 477.0,258.4 479.9,260.3 482.1,263.0 483.7,266.2 484.8,269.7 484.8,277.3 28.9,277.3" fill="#cbe1f0"/>
<polygon points="28.9,227.7 100.3,224.3 103.8,223.6 107.3,222.9 110.8,222.5 114.4,222.3 118.0,222.2 121.7,222.2 125.3,222.1 128.9,222.1 132.5,222.1 136.1,222.1 139.7,222.2 143.3,222.2 146.9,222.3 150.5,222.5 154.1,222.6 157.7,222.8 161.3,223.0 165.0,223.2 168.6,223.3 172.2,223.6 175.7,223.8 179.3,224.0 182.9,224.3 186.5,224.5 190.1,224.8 193.7,225.0 197.3,225.3 200.9,225.5 204.5,225.8 208.1,226.1 211.7,226.3 215.3,226.5 218.9,226.8 222.5,227.0 226.1,227.2 229.7,227.5 233.3,227.7 236.9,228.0 240.5,228.3 244.1,228.7 247.7,229.0 251.3,229.3 254.9,229.6 258.5,229.9 262.1,230.2 265.7,230.4 269.3,230.7 272.9,231.0 276.5,231.3 280.1,231.7 283.7,232.0 287.3,232.4 290.8,232.8 294.4,233.2 298.0,233.5 301.6,233.9 305.2,234.3 308.8,234.6 312.4,235.0 316.0,235.5 319.6,235.9 323.2,236.3 326.7,236.8 330.3,237.2 333.9,237.6 337.5,237.9 341.1,238.3 344.7,238.6 348.3,239.0 351.9,239.3 355.5,239.7 359.1,240.0 362.7,240.4 366.3,240.8 369.8,241.2 373.4,241.6 377.0,242.1 380.6,242.5 384.2,243.0 387.8,243.4 391.3,243.9 394.9,244.3 398.5,244.8 402.1,245.3 405.7,245.7 409.3,246.2 412.8,246.7 416.4,247.2 420.0,247.7 423.5,248.3 427.1,248.8 430.7,249.4 434.3,249.9 437.8,250.5 441.4,251.1 444.9,251.7 448.5,252.3 452.1,252.9 455.6,253.5 459.2,254.1 462.7,254.8 466.2,255.6 469.7,256.4 473.2,257.4 476.5,258.6 479.5,260.5 481.9,263.1 483.5,266.2 484.5,269.7 484.5,277.3 28.9,277.3" fill="#c2dcee"/>
<polygon points="28.9,227.7 100.4,224.5 103.8,223.6 107.3,222.8 110.8,222.3 114.4,222.1 118.0,222.0 121.6,221.9 125.2,221.9 128.8,221.9 132.4,221.9 136.1,221.9 139.7,221.9 143.3,222.0 146.9,222.1 150.5,222.3 154.1,222.4 157.7,222.6 161.3,222.9 164.9,223.1 168.5,223.3 172.0,223.5 175.6,223.8 179.2,224.1 182.8,224.4 186.4,224.7 190.0,225.0 193.6,225.2 197.2,225.5 200.8,225.8 204.3,226.1 207.9,226.4 211.5,226.7 215.1,227.0 218.7,227.2 222.3,227.5 225.9,227.8 229.5,228.0 233.1,228.3 236.7,228.6 240.3,228.9 243.8,229.3 247.4,229.6 251.0,229.9 254.6,230.2 258.2,230.5 261.8,230.8 265.4,231.0 269.0,231.3 272.6,231.6 276.2,232.0 279.8,232.3 283.4,232.7 287.0,233.1 290.5,233.4 294.1,233.8 297.7,234.1 301.3,234.5 304.9,234.9 308.5,235.2 312.1,235.6 315.7,236.1 319.2,236.5 322.8,236.9 326.4,237.4 330.0,237.8 333.6,238.2 337.2,238.5 340.7,238.9 344.3,239.2 347.9,239.6 351.5,239.9 355.1,240.3 358.7,240.7 362.3,241.1 365.9,241.4 369.4,241.9 373.0,242.3 376.6,242.7 380.2,243.2 383.8,243.6 387.3,244.1 390.9,244.5 394.5,245.0 398.1,245.4 401.7,245.9 405.2,246.4 408.8,246.8 412.4,247.3 415.9,247.8 419.5,248.4 423.1,248.9 426.7,249.4 430.2,250.0 433.8,250.5 437.3,251.1 440.9,251.7 444.5,252.2 448.0,252.8 451.6,253.4 455.1,254.0 458.7,254.7 462.2,255.3 465.8,256.0 469.3,256.8 472.7,257.7 476.1,258.9 479.2,260.6 481.6,263.1 483.3,266.2 484.2,269.7 484.2,277.3 28.9,277.3" fill="#b8d7ec"/>
<polygon points="28.9,227.7 100.5,224.6 103.8,223.5 107.3,222.7 110.8,222.2 114.4,221.9 118.0,221.8 121.6,221.7 125.2,221.6 128.8,221.6 132.4,221.6 136.0,221.6 139.6,221.7 143.2,221.8 146.8,221.9 150.4,222.1 154.0,222.3 157.6,222.5 161.2,222.7 164.8,223.0 168.4,223.2 171.9,223.5 175.5,223.8 179.1,224.2 182.7,224.5 186.3,224.8 189.9,225.1 193.4,225.4 197.0,225.8 200.6,226.1 204.2,226.5 207.7,226.8 211.3,227.1 214.9,227.4 218.5,227.7 222.1,228.0 225.7,228.3 229.3,228.6 232.9,228.9 236.4,229.2 240.0,229.5 243.6,229.9 247.2,230.2 250.8,230.5 254.4,230.8 258.0,231.1 261.6,231.4 265.2,231.7 268.7,231.9 272.3,232.2 275.9,232.6 279.5,232.9 283.1,233.3 286.7,233.7 290.3,234.1 293.8,234.4 297.4,234.8 301.0,235.1 304.6,235.5 308.2,235.9 311.8,236.2 315.3,236.7 318.9,237.1 322.5,237.6 326.1,238.0 329.6,238.4 333.2,238.8 336.8,239.2 340.4,239.5 344.0,239.9 347.6,240.2 351.1,240.6 354.7,240.9 358.3,241.3 361.9,241.7 365.5,242.1 369.0,242.5 372.6,242.9 376.2,243.3 379.8,243.8 383.3,244.3 386.9,244.7 390.5,245.2 394.1,245.6 397.6,246.1 401.2,246.5 404.8,247.0 408.4,247.5 411.9,247.9 415.5,248.4 419.1,249.0 422.6,249.5 426.2,250.0 429.7,250.5 433.3,251.1 436.9,251.7 440.4,252.2 444.0,252.8 447.5,253.4 451.1,254.0 454.6,254.6 458.2,255.2 461.7,255.8 465.3,256.5 468.8,257.2 472.3,258.0 475.7,259.1 478.8,260.8 481.3,263.1 483.1,266.2 484.0,269.7 484.0,277.3 28.9,277.3" fill="#afd2e9"/>
<polygon points="28.9,227.7 100.5,224.7 103.9,223.5 107.3,222.5 110.8,222.0 114.4,221.7 118.0,221.5 121.6,221.4 125.2,221.4 128.8,221.3 132.4,221.3 136.0,221.4 139.6,221.4 143.2,221.5 146.7,221.7 150.3,221.9 153.9,222.1 157.5,222.4 161.1,222.6 164.7,222.9 168.3,223.2 171.8,223.5 175.4,223.9 179.0,224.2 182.6,224.6 186.1,224.9 189.7,225.3 193.3,225.7 196.9,226.0 200.4,226.4 204.0,226.8 207.6,227.2 211.1,227.5 214.7,227.9 218.3,228.2 221.9,228.5 225.5,228.8 229.1,229.1 232.6,229.4 236.2,229.8 239.8,230.1 243.4,230.5 247.0,230.8 250.5,231.1 254.1,231.4 257.7,231.7 261.3,232.0 264.9,232.3 268.5,232.6 272.1,232.9 275.6,233.2 279.2,233.6 282.8,233.9 286.4,234.3 290.0,234.7 293.5,235.1 297.1,235.4 300.7,235.7 304.3,236.1 307.9,236.5 311.4,236.8 315.0,237.3 318.6,237.7 322.1,238.2 325.7,238.6 329.3,239.0 332.9,239.4 336.4,239.8 340.0,240.1 343.6,240.5 347.2,240.8 350.8,241.2 354.3,241.6 357.9,241.9 361.5,242.3 365.1,242.7 368.6,243.1 372.2,243.5 375.8,244.0 379.4,244.4 382.9,244.9 386.5,245.4 390.1,245.8 393.6,246.3 397.2,246.7 400.8,247.2 404.3,247.6 407.9,248.1 411.5,248.6 415.0,249.1 418.6,249.6 422.2,250.1 425.7,250.6 429.3,251.1 432.8,251.7 436.4,252.2 439.9,252.8 443.5,253.4 447.0,254.0 450.6,254.5 454.1,255.1 457.7,255.7 461.2,256.3 464.8,256.9 468.3,257.6 471.8,258.4 475.2,259.4 478.4,260.9 481.1,263.1 482.8,266.2 483.8,269.7 483.8,277.3 28.9,277.3" fill="#a6cde7"/>
<polygon points="28.9,227.7 100.6,224.8 103.9,223.5 107.3,222.4 110.8,221.8 114.4,221.4 118.0,221.3 121.5,221.2 125.1,221.1 128.7,221.1 132.3,221.1 135.9,221.1 139.5,221.2 143.1,221.3 146.7,221.5 150.3,221.7 153.9,221.9 157.4,222.2 161.0,222.5 164.6,222.8 168.2,223.1 171.7,223.5 175.3,223.9 178.9,224.3 182.4,224.7 186.0,225.1 189.6,225.5 193.1,225.9 196.7,226.3 200.3,226.7 203.8,227.1 207.4,227.6 211.0,228.0 214.5,228.3 218.1,228.6 221.7,229.0 225.3,229.3 228.8,229.6 232.4,230.0 236.0,230.3 239.6,230.7 243.1,231.1 246.7,231.4 250.3,231.8 253.9,232.1 257.5,232.3 261.0,232.6 264.6,232.9 268.2,233.2 271.8,233.5 275.4,233.8 278.9,234.2 282.5,234.6 286.1,235.0 289.7,235.3 293.2,235.7 296.8,236.0 300.4,236.4 304.0,236.7 307.5,237.1 311.1,237.5 314.7,237.9 318.2,238.3 321.8,238.8 325.4,239.2 328.9,239.7 332.5,240.1 336.1,240.4 339.7,240.8 343.2,241.1 346.8,241.5 350.4,241.8 354.0,242.2 357.5,242.6 361.1,242.9 364.7,243.3 368.3,243.7 371.8,244.2 375.4,244.6 378.9,245.1 382.5,245.5 386.1,246.0 389.6,246.5 393.2,246.9 396.8,247.4 400.3,247.8 403.9,248.3 407.5,248.7 411.0,249.2 414.6,249.7 418.1,250.2 421.7,250.7 425.3,251.2 428.8,251.7 432.4,252.3 435.9,252.8 439.5,253.4 443.0,253.9 446.6,254.5 450.1,255.1 453.7,255.6 457.2,256.2 460.8,256.7 464.3,257.3 467.8,258.0 471.3,258.7 474.8,259.6 478.0,261.0 480.8,263.2 482.6,266.2 483.5,269.7 483.5,277.3 28.9,277.3" fill="#9cc8e5"/>
<polygon points="28.9,227.7 100.6,224.9 103.9,223.5 107.3,222.3 110.8,221.6 114.3,221.2 117.9,221.0 121.5,220.9 125.1,220.8 128.7,220.8 132.3,220.8 135.9,220.9 139.5,220.9 143.0,221.1 146.6,221.2 150.2,221.5 153.8,221.8 157.4,222.1 160.9,222.4 164.5,222.7 168.1,223.1 171.6,223.5 175.2,223.9 178.8,224.3 182.3,224.8 185.9,225.2 189.4,225.7 193.0,226.1 196.6,226.5 200.1,227.0 203.7,227.5 207.2,227.9 210.8,228.4 214.3,228.7 217.9,229.1 221.5,229.5 225.1,229.8 228.6,230.2 232.2,230.6 235.8,230.9 239.3,231.3 242.9,231.7 246.5,232.0 250.0,232.4 253.6,232.7 257.2,233.0 260.8,233.2 264.4,233.5 267.9,233.8 271.5,234.1 275.1,234.5 278.6,234.8 282.2,235.2 285.8,235.6 289.4,236.0 292.9,236.3 296.5,236.7 300.1,237.0 303.6,237.3 307.2,237.7 310.8,238.1 314.3,238.5 317.9,238.9 321.5,239.4 325.0,239.8 328.6,240.3 332.2,240.7 335.7,241.0 339.3,241.4 342.9,241.7 346.4,242.1 350.0,242.4 353.6,242.8 357.2,243.2 360.7,243.6 364.3,244.0 367.9,244.4 371.4,244.8 375.0,245.2 378.5,245.7 382.1,246.2 385.7,246.6 389.2,247.1 392.8,247.6 396.3,248.0 399.9,248.4 403.5,248.9 407.0,249.3 410.6,249.8 414.1,250.3 417.7,250.8 421.2,251.3 424.8,251.8 428.3,252.3 431.9,252.8 435.4,253.4 439.0,253.9 442.5,254.5 446.1,255.1 449.6,255.6 453.2,256.2 456.7,256.7 460.3,257.2 463.8,257.8 467.3,258.4 470.9,259.0 474.3,259.9 477.7,261.2 480.5,263.2 482.4,266.2 483.2,269.7 483.2,277.3 28.9,277.3" fill="#93c3e2"/>
<polygon points="28.9,227.7 100.7,225.0 103.9,223.4 107.3,222.2 110.8,221.4 114.3,221.0 117.9,220.8 121.5,220.7 125.1,220.6 128.7,220.6 132.2,220.6 135.8,220.6 139.4,220.7 143.0,220.8 146.6,221.0 150.1,221.3 153.7,221.6 157.3,221.9 160.8,222.3 164.4,222.6 168.0,223.0 171.5,223.4 175.1,223.9 178.6,224.4 182.2,224.9 185.7,225.4 189.3,225.8 192.8,226.3 196.4,226.8 200.0,227.3 203.5,227.8 207.0,228.3 210.6,228.8 214.2,229.2 217.7,229.6 221.3,230.0 224.8,230.3 228.4,230.7 232.0,231.1 235.5,231.5 239.1,231.9 242.7,232.3 246.2,232.6 249.8,233.0 253.4,233.3 256.9,233.6 260.5,233.8 264.1,234.1 267.7,234.4 271.2,234.7 274.8,235.1 278.4,235.5 281.9,235.8 285.5,236.2 289.1,236.6 292.6,237.0 296.2,237.3 299.8,237.6 303.3,237.9 306.9,238.3 310.5,238.7 314.0,239.1 317.6,239.5 321.1,240.0 324.7,240.5 328.2,240.9 331.8,241.3 335.4,241.7 338.9,242.0 342.5,242.4 346.1,242.7 349.6,243.1 353.2,243.4 356.8,243.8 360.3,244.2 363.9,244.6 367.5,245.0 371.0,245.4 374.6,245.9 378.1,246.3 381.7,246.8 385.2,247.3 388.8,247.7 392.3,248.2 395.9,248.6 399.5,249.1 403.0,249.5 406.6,250.0 410.1,250.4 413.7,250.9 417.2,251.4 420.8,251.9 424.3,252.4 427.9,252.9 431.4,253.4 435.0,254.0 438.5,254.5 442.0,255.1 445.6,255.6 449.1,256.2 452.7,256.7 456.2,257.2 459.8,257.7 463.3,258.2 466.9,258.8 470.4,259.4 473.9,260.1 477.3,261.3 480.2,263.2 482.2,266.2 483.0,269.7 483.0,277.3 28.9,277.3" fill="#89bee0"/>
<polygon points="28.9,227.7 100.7,225.0 103.9,223.6 107.3,222.4 110.7,221.7 114.3,221.4 117.9,221.2 121.4,221.1 125.0,221.1 128.6,221.1 132.2,221.1 135.8,221.2 139.3,221.2 142.9,221.4 146.5,221.6 150.1,221.9 153.6,222.2 157.2,222.5 160.8,222.9 164.3,223.2 167.9,223.6 171.4,224.0 175.0,224.5 178.5,225.0 182.1,225.5 185.6,225.9 189.2,226.4 192.7,226.9 196.3,227.4 199.8,227.8 203.4,228.4 206.9,228.9 210.5,229.3 214.0,229.7 217.6,230.1 221.1,230.5 224.7,230.9 228.3,231.3 231.8,231.7 235.4,232.0 239.0,232.4 242.5,232.8 246.1,233.2 249.6,233.5 253.2,233.8 256.8,234.1 260.3,234.4 263.9,234.6 267.5,234.9 271.1,235.3 274.6,235.6 278.2,236.0 281.7,236.4 285.3,236.8 288.9,237.1 292.4,237.5 296.0,237.8 299.6,238.1 303.1,238.5 306.7,238.8 310.2,239.2 313.8,239.6 317.4,240.0 320.9,240.5 324.5,240.9 328.0,241.4 331.6,241.8 335.1,242.1 338.7,242.5 342.3,242.8 345.8,243.2 349.4,243.5 353.0,243.9 356.5,244.3 360.1,244.7 363.6,245.0 367.2,245.4 370.7,245.9 374.3,246.3 377.9,246.7 381.4,247.2 385.0,247.7 388.5,248.1 392.1,248.6 395.6,249.0 399.2,249.4 402.7,249.9 406.3,250.3 409.8,250.8 413.4,251.2 416.9,251.7 420.5,252.2 424.0,252.7 427.6,253.2 431.1,253.7 434.7,254.2 438.2,254.8 441.7,255.3 445.3,255.9 448.8,256.4 452.3,256.9 455.9,257.4 459.4,257.9 463.0,258.4 466.5,259.0 470.1,259.6 473.6,260.3 476.9,261.4 479.9,263.4 481.9,266.3 482.8,269.7 482.8,277.3 28.9,277.3" fill="#80b9dd"/>
<polygon points="28.9,227.7 100.7,225.1 103.9,223.8 107.2,222.7 110.7,222.1 114.3,221.8 117.8,221.6 121.4,221.6 125.0,221.6 128.6,221.6 132.1,221.6 135.7,221.7 139.3,221.8 142.9,221.9 146.4,222.2 150.0,222.4 153.6,222.7 157.1,223.1 160.7,223.5 164.2,223.8 167.8,224.2 171.3,224.6 174.9,225.1 178.4,225.6 182.0,226.1 185.5,226.5 189.1,227.0 192.6,227.5 196.2,227.9 199.7,228.4 203.3,228.9 206.8,229.4 210.3,229.9 213.9,230.3 217.5,230.7 221.0,231.1 224.6,231.4 228.1,231.8 231.7,232.2 235.2,232.6 238.8,233.0 242.4,233.3 245.9,233.7 249.5,234.1 253.0,234.4 256.6,234.6 260.2,234.9 263.7,235.2 267.3,235.5 270.9,235.8 274.4,236.2 278.0,236.5 281.5,236.9 285.1,237.3 288.7,237.7 292.2,238.0 295.8,238.4 299.3,238.7 302.9,239.0 306.5,239.3 310.0,239.7 313.6,240.1 317.1,240.5 320.7,241.0 324.2,241.4 327.8,241.9 331.3,242.3 334.9,242.6 338.5,243.0 342.0,243.3 345.6,243.6 349.1,244.0 352.7,244.4 356.3,244.7 359.8,245.1 363.4,245.5 366.9,245.9 370.5,246.3 374.0,246.7 377.6,247.2 381.1,247.6 384.7,248.1 388.2,248.5 391.8,248.9 395.3,249.4 398.9,249.8 402.4,250.2 406.0,250.7 409.5,251.1 413.1,251.6 416.6,252.0 420.2,252.5 423.7,253.0 427.3,253.5 430.8,254.0 434.3,254.5 437.9,255.1 441.4,255.6 444.9,256.1 448.5,256.7 452.0,257.2 455.6,257.7 459.1,258.1 462.7,258.6 466.2,259.2 469.7,259.8 473.2,260.5 476.6,261.6 479.6,263.5 481.7,266.3 482.6,269.7 482.6,277.3 28.9,277.3" fill="#7ab7d9"/>
<polygon points="28.9,227.7 100.7,225.1 103.9,223.9 107.2,223.0 110.7,222.4 114.3,222.2 117.8,222.1 121.4,222.0 124.9,222.0 128.5,222.1 132.1,222.2 135.7,222.2 139.2,222.4 142.8,222.5 146.4,222.7 149.9,223.0 153.5,223.3 157.0,223.7 160.6,224.0 164.2,224.4 167.7,224.8 171.3,225.2 174.8,225.7 178.3,226.2 181.9,226.6 185.4,227.1 189.0,227.6 192.5,228.0 196.1,228.5 199.6,229.0 203.1,229.5 206.7,230.0 210.2,230.4 213.8,230.8 217.3,231.2 220.9,231.6 224.4,232.0 228.0,232.4 231.5,232.7 235.1,233.1 238.6,233.5 242.2,233.9 245.8,234.2 249.3,234.6 252.9,234.9 256.4,235.2 260.0,235.5 263.6,235.7 267.1,236.0 270.7,236.3 274.2,236.7 277.8,237.1 281.4,237.5 284.9,237.8 288.5,238.2 292.0,238.6 295.6,238.9 299.1,239.2 302.7,239.5 306.3,239.9 309.8,240.2 313.4,240.6 316.9,241.1 320.5,241.5 324.0,241.9 327.6,242.4 331.1,242.7 334.7,243.1 338.2,243.4 341.8,243.8 345.3,244.1 348.9,244.5 352.4,244.8 356.0,245.2 359.6,245.6 363.1,245.9 366.7,246.3 370.2,246.7 373.8,247.1 377.3,247.6 380.9,248.0 384.4,248.5 387.9,248.9 391.5,249.3 395.0,249.7 398.6,250.2 402.1,250.6 405.7,251.0 409.2,251.5 412.8,251.9 416.3,252.4 419.9,252.8 423.4,253.3 427.0,253.8 430.5,254.3 434.0,254.8 437.6,255.3 441.1,255.9 444.6,256.4 448.2,256.9 451.7,257.4 455.2,257.9 458.8,258.4 462.3,258.8 465.9,259.3 469.4,259.9 472.9,260.7 476.3,261.8 479.3,263.6 481.4,266.4 482.4,269.7 482.4,277.3 28.9,277.3" fill="#7ab8d1"/>
<polygon points="28.9,227.7 100.7,225.2 103.9,224.1 107.2,223.2 110.7,222.7 114.2,222.5 117.8,222.5 121.3,222.5 124.9,222.5 128.5,222.6 132.0,222.7 135.6,222.8 139.2,222.9 142.7,223.1 146.3,223.3 149.9,223.6 153.4,223.9 157.0,224.3 160.5,224.6 164.1,225.0 167.6,225.4 171.2,225.8 174.7,226.3 178.2,226.8 181.8,227.2 185.3,227.7 188.9,228.1 192.4,228.6 195.9,229.1 199.5,229.6 203.0,230.1 206.5,230.6 210.1,231.0 213.6,231.4 217.2,231.8 220.7,232.2 224.3,232.5 227.8,232.9 231.4,233.3 234.9,233.7 238.5,234.0 242.0,234.4 245.6,234.8 249.2,235.1 252.7,235.4 256.3,235.7 259.8,236.0 263.4,236.3 266.9,236.6 270.5,236.9 274.1,237.2 277.6,237.6 281.2,238.0 284.7,238.4 288.3,238.7 291.8,239.1 295.4,239.4 298.9,239.7 302.5,240.1 306.0,240.4 309.6,240.7 313.1,241.1 316.7,241.6 320.2,242.0 323.8,242.4 327.3,242.8 330.9,243.2 334.4,243.6 338.0,243.9 341.5,244.3 345.1,244.6 348.6,244.9 352.2,245.3 355.7,245.6 359.3,246.0 362.9,246.4 366.4,246.7 369.9,247.1 373.5,247.5 377.0,248.0 380.6,248.4 384.1,248.8 387.7,249.3 391.2,249.7 394.8,250.1 398.3,250.5 401.9,250.9 405.4,251.4 408.9,251.8 412.5,252.3 416.0,252.7 419.6,253.2 423.1,253.6 426.6,254.1 430.2,254.6 433.7,255.1 437.2,255.6 440.8,256.1 444.3,256.6 447.8,257.1 451.4,257.6 454.9,258.1 458.5,258.6 462.0,259.0 465.5,259.5 469.1,260.1 472.5,260.9 475.9,261.9 479.0,263.7 481.1,266.4 482.2,269.7 482.2,277.3 28.9,277.3" fill="#7bbaca"/>
<polygon points="28.9,227.7 100.7,225.2 103.9,224.3 107.2,223.5 110.7,223.1 114.2,222.9 117.8,222.9 121.3,222.9 124.9,223.0 128.4,223.1 132.0,223.2 135.5,223.3 139.1,223.5 142.7,223.6 146.2,223.9 149.8,224.2 153.3,224.5 156.9,224.8 160.4,225.2 164.0,225.6 167.5,226.0 171.1,226.4 174.6,226.9 178.1,227.3 181.7,227.8 185.2,228.3 188.8,228.7 192.3,229.2 195.8,229.6 199.4,230.1 202.9,230.6 206.4,231.1 210.0,231.5 213.5,232.0 217.1,232.3 220.6,232.7 224.2,233.1 227.7,233.5 231.2,233.8 234.8,234.2 238.3,234.6 241.9,235.0 245.4,235.3 249.0,235.7 252.5,236.0 256.1,236.3 259.7,236.5 263.2,236.8 266.8,237.1 270.3,237.4 273.9,237.8 277.4,238.1 281.0,238.5 284.5,238.9 288.1,239.3 291.6,239.6 295.2,240.0 298.7,240.3 302.3,240.6 305.8,240.9 309.4,241.3 312.9,241.7 316.5,242.1 320.0,242.5 323.5,242.9 327.1,243.3 330.6,243.7 334.2,244.1 337.7,244.4 341.3,244.7 344.8,245.1 348.4,245.4 351.9,245.8 355.5,246.1 359.0,246.5 362.6,246.8 366.1,247.2 369.7,247.6 373.2,248.0 376.8,248.4 380.3,248.8 383.9,249.2 387.4,249.7 390.9,250.1 394.5,250.5 398.0,250.9 401.6,251.3 405.1,251.7 408.6,252.2 412.2,252.6 415.7,253.0 419.3,253.5 422.8,254.0 426.3,254.4 429.9,254.9 433.4,255.4 436.9,255.9 440.5,256.4 444.0,256.9 447.5,257.4 451.1,257.9 454.6,258.3 458.1,258.8 461.7,259.3 465.2,259.7 468.7,260.3 472.2,261.0 475.6,262.1 478.7,263.8 480.8,266.5 482.0,269.7 482.0,277.3 28.9,277.3" fill="#7bbbc2"/>
<polygon points="28.9,227.7 100.7,225.3 103.9,224.4 107.2,223.8 110.7,223.4 114.2,223.3 117.7,223.3 121.3,223.4 124.8,223.5 128.4,223.6 131.9,223.7 135.5,223.9 139.0,224.0 142.6,224.2 146.2,224.5 149.7,224.7 153.3,225.1 156.8,225.4 160.3,225.8 163.9,226.2 167.4,226.6 171.0,227.0 174.5,227.5 178.0,227.9 181.6,228.4 185.1,228.9 188.6,229.3 192.2,229.8 195.7,230.2 199.2,230.7 202.8,231.2 206.3,231.7 209.8,232.1 213.4,232.5 216.9,232.9 220.5,233.3 224.0,233.6 227.6,234.0 231.1,234.4 234.6,234.7 238.2,235.1 241.7,235.5 245.3,235.8 248.8,236.2 252.4,236.5 255.9,236.8 259.5,237.1 263.0,237.3 266.6,237.6 270.1,238.0 273.7,238.3 277.2,238.7 280.8,239.1 284.3,239.4 287.9,239.8 291.4,240.2 295.0,240.5 298.5,240.8 302.1,241.1 305.6,241.4 309.2,241.8 312.7,242.2 316.2,242.6 319.8,243.0 323.3,243.4 326.9,243.8 330.4,244.2 333.9,244.5 337.5,244.9 341.0,245.2 344.6,245.5 348.1,245.9 351.7,246.2 355.2,246.6 358.8,246.9 362.3,247.3 365.9,247.6 369.4,248.0 373.0,248.4 376.5,248.8 380.0,249.2 383.6,249.6 387.1,250.0 390.7,250.5 394.2,250.9 397.7,251.3 401.3,251.7 404.8,252.1 408.4,252.5 411.9,252.9 415.4,253.4 419.0,253.8 422.5,254.3 426.0,254.7 429.6,255.2 433.1,255.7 436.6,256.1 440.1,256.6 443.7,257.1 447.2,257.6 450.7,258.1 454.3,258.6 457.8,259.0 461.3,259.5 464.9,259.9 468.4,260.5 471.9,261.2 475.3,262.2 478.3,263.9 480.6,266.6 481.8,269.7 481.8,277.3 28.9,277.3" fill="#7bbdbb"/>
<polygon points="28.9,227.7 100.7,225.3 103.9,224.6 107.2,224.0 110.7,223.7 114.2,223.7 117.7,223.8 121.2,223.9 124.8,224.0 128.3,224.1 131.9,224.3 135.4,224.4 139.0,224.6 142.5,224.8 146.1,225.0 149.6,225.3 153.2,225.7 156.7,226.0 160.3,226.4 163.8,226.8 167.3,227.2 170.9,227.6 174.4,228.1 177.9,228.5 181.5,229.0 185.0,229.4 188.5,229.9 192.1,230.3 195.6,230.8 199.1,231.3 202.7,231.8 206.2,232.2 209.7,232.7 213.3,233.1 216.8,233.4 220.3,233.8 223.9,234.2 227.4,234.5 231.0,234.9 234.5,235.3 238.0,235.7 241.6,236.0 245.1,236.4 248.7,236.7 252.2,237.0 255.8,237.3 259.3,237.6 262.9,237.9 266.4,238.2 270.0,238.5 273.5,238.8 277.0,239.2 280.6,239.6 284.1,240.0 287.7,240.3 291.2,240.7 294.8,241.0 298.3,241.3 301.9,241.6 305.4,242.0 308.9,242.3 312.5,242.7 316.0,243.1 319.6,243.5 323.1,243.9 326.6,244.3 330.2,244.7 333.7,245.0 337.3,245.4 340.8,245.7 344.3,246.0 347.9,246.3 351.4,246.7 355.0,247.0 358.5,247.4 362.1,247.7 365.6,248.1 369.2,248.4 372.7,248.8 376.2,249.2 379.8,249.6 383.3,250.0 386.8,250.4 390.4,250.8 393.9,251.2 397.4,251.6 401.0,252.0 404.5,252.4 408.1,252.9 411.6,253.3 415.1,253.7 418.7,254.1 422.2,254.6 425.7,255.0 429.3,255.5 432.8,255.9 436.3,256.4 439.8,256.9 443.4,257.4 446.9,257.9 450.4,258.3 453.9,258.8 457.5,259.2 461.0,259.7 464.5,260.1 468.1,260.7 471.5,261.4 474.9,262.4 478.0,264.0 480.3,266.6 481.7,269.7 481.7,277.3 28.9,277.3" fill="#7cbeb3"/>
<polygon points="28.9,227.7 100.7,225.3 103.9,224.7 107.2,224.3 110.6,224.1 114.1,224.1 117.7,224.2 121.2,224.3 124.7,224.5 128.3,224.6 131.8,224.8 135.4,225.0 138.9,225.1 142.5,225.3 146.0,225.6 149.6,225.9 153.1,226.2 156.6,226.6 160.2,227.0 163.7,227.4 167.3,227.8 170.8,228.2 174.3,228.6 177.8,229.1 181.4,229.6 184.9,230.0 188.4,230.5 192.0,230.9 195.5,231.4 199.0,231.8 202.5,232.3 206.1,232.8 209.6,233.2 213.1,233.6 216.7,234.0 220.2,234.4 223.7,234.7 227.3,235.1 230.8,235.5 234.4,235.8 237.9,236.2 241.4,236.6 245.0,236.9 248.5,237.3 252.1,237.6 255.6,237.9 259.1,238.1 262.7,238.4 266.2,238.7 269.8,239.0 273.3,239.4 276.9,239.8 280.4,240.1 283.9,240.5 287.5,240.9 291.0,241.2 294.6,241.6 298.1,241.9 301.6,242.2 305.2,242.5 308.7,242.8 312.3,243.2 315.8,243.6 319.3,244.0 322.9,244.4 326.4,244.8 329.9,245.2 333.5,245.5 337.0,245.8 340.6,246.1 344.1,246.5 347.6,246.8 351.2,247.1 354.7,247.5 358.3,247.8 361.8,248.1 365.3,248.5 368.9,248.8 372.4,249.2 376.0,249.6 379.5,250.0 383.0,250.4 386.6,250.8 390.1,251.2 393.6,251.6 397.2,252.0 400.7,252.4 404.2,252.8 407.8,253.2 411.3,253.6 414.8,254.0 418.4,254.5 421.9,254.9 425.4,255.3 428.9,255.8 432.5,256.2 436.0,256.7 439.5,257.2 443.0,257.6 446.6,258.1 450.1,258.6 453.6,259.0 457.1,259.5 460.7,259.9 464.2,260.3 467.7,260.9 471.2,261.6 474.6,262.6 477.7,264.1 480.0,266.7 481.5,269.7 481.5,277.3 28.9,277.3" fill="#7cc0ab"/>
<polygon points="28.9,227.7 100.7,225.4 103.9,224.9 107.2,224.5 110.6,224.4 114.1,224.5 117.6,224.6 121.2,224.8 124.7,225.0 128.2,225.1 131.8,225.3 135.3,225.5 138.9,225.7 142.4,225.9 146.0,226.2 149.5,226.5 153.0,226.8 156.6,227.2 160.1,227.6 163.6,228.0 167.2,228.4 170.7,228.8 174.2,229.2 177.7,229.7 181.3,230.2 184.8,230.6 188.3,231.0 191.8,231.5 195.4,231.9 198.9,232.4 202.4,232.9 205.9,233.3 209.5,233.8 213.0,234.2 216.5,234.5 220.1,234.9 223.6,235.3 227.1,235.6 230.7,236.0 234.2,236.4 237.7,236.7 241.3,237.1 244.8,237.5 248.3,237.8 251.9,238.1 255.4,238.4 259.0,238.7 262.5,239.0 266.1,239.3 269.6,239.6 273.1,239.9 276.7,240.3 280.2,240.7 283.7,241.1 287.3,241.4 290.8,241.8 294.3,242.1 297.9,242.4 301.4,242.7 305.0,243.0 308.5,243.3 312.0,243.7 315.6,244.1 319.1,244.5 322.6,244.9 326.2,245.3 329.7,245.6 333.2,246.0 336.8,246.3 340.3,246.6 343.9,246.9 347.4,247.3 350.9,247.6 354.5,247.9 358.0,248.3 361.5,248.6 365.1,248.9 368.6,249.3 372.2,249.6 375.7,250.0 379.2,250.4 382.7,250.8 386.3,251.2 389.8,251.6 393.3,252.0 396.9,252.4 400.4,252.7 403.9,253.1 407.5,253.5 411.0,254.0 414.5,254.4 418.1,254.8 421.6,255.2 425.1,255.6 428.6,256.1 432.2,256.5 435.7,257.0 439.2,257.4 442.7,257.9 446.2,258.4 449.8,258.8 453.3,259.3 456.8,259.7 460.3,260.1 463.9,260.5 467.4,261.1 470.9,261.7 474.3,262.7 477.4,264.3 479.8,266.7 481.3,269.7 481.3,277.3 28.9,277.3" fill="#7cc1a4"/>
<polygon points="28.9,227.7 100.7,225.4 103.9,225.1 107.2,224.8 110.6,224.7 114.1,224.8 117.6,225.0 121.1,225.2 124.7,225.4 128.2,225.7 131.7,225.9 135.3,226.1 138.8,226.2 142.3,226.5 145.9,226.7 149.4,227.1 153.0,227.4 156.5,227.8 160.0,228.2 163.5,228.6 167.1,229.0 170.6,229.4 174.1,229.8 177.6,230.3 181.2,230.7 184.7,231.2 188.2,231.6 191.7,232.1 195.3,232.5 198.8,233.0 202.3,233.4 205.8,233.9 209.3,234.3 212.9,234.7 216.4,235.1 219.9,235.5 223.5,235.8 227.0,236.2 230.5,236.5 234.1,236.9 237.6,237.3 241.1,237.6 244.7,238.0 248.2,238.3 251.7,238.6 255.3,238.9 258.8,239.2 262.3,239.5 265.9,239.8 269.4,240.1 272.9,240.5 276.5,240.8 280.0,241.2 283.5,241.6 287.1,242.0 290.6,242.3 294.1,242.6 297.7,242.9 301.2,243.2 304.8,243.5 308.3,243.9 311.8,244.2 315.3,244.6 318.9,245.0 322.4,245.4 325.9,245.8 329.5,246.1 333.0,246.5 336.5,246.8 340.1,247.1 343.6,247.4 347.1,247.7 350.7,248.1 354.2,248.4 357.8,248.7 361.3,249.0 364.8,249.4 368.4,249.7 371.9,250.1 375.4,250.4 378.9,250.8 382.5,251.2 386.0,251.6 389.5,252.0 393.1,252.3 396.6,252.7 400.1,253.1 403.6,253.5 407.2,253.9 410.7,254.3 414.2,254.7 417.7,255.1 421.3,255.5 424.8,255.9 428.3,256.4 431.8,256.8 435.4,257.2 438.9,257.7 442.4,258.2 445.9,258.6 449.4,259.1 453.0,259.5 456.5,259.9 460.0,260.3 463.5,260.7 467.0,261.2 470.5,261.9 473.9,262.9 477.1,264.4 479.5,266.8 481.1,269.7 481.1,277.3 28.9,277.3" fill="#7dc39c"/>
<polygon points="28.9,227.7 100.7,225.5 103.9,225.2 107.2,225.1 110.6,225.1 114.1,225.2 117.6,225.5 121.1,225.7 124.6,225.9 128.1,226.2 131.7,226.4 135.2,226.6 138.7,226.8 142.3,227.0 145.8,227.3 149.4,227.6 152.9,228.0 156.4,228.4 159.9,228.8 163.5,229.1 167.0,229.6 170.5,230.0 174.0,230.4 177.5,230.9 181.1,231.3 184.6,231.8 188.1,232.2 191.6,232.6 195.1,233.1 198.7,233.5 202.2,234.0 205.7,234.5 209.2,234.9 212.7,235.3 216.3,235.6 219.8,236.0 223.3,236.4 226.8,236.7 230.4,237.1 233.9,237.5 237.4,237.8 241.0,238.2 244.5,238.5 248.0,238.9 251.6,239.2 255.1,239.5 258.6,239.8 262.2,240.0 265.7,240.3 269.2,240.7 272.8,241.0 276.3,241.4 279.8,241.7 283.3,242.1 286.9,242.5 290.4,242.8 293.9,243.2 297.5,243.5 301.0,243.8 304.5,244.1 308.1,244.4 311.6,244.7 315.1,245.1 318.7,245.5 322.2,245.9 325.7,246.3 329.2,246.6 332.8,246.9 336.3,247.3 339.8,247.6 343.4,247.9 346.9,248.2 350.4,248.5 354.0,248.8 357.5,249.2 361.0,249.5 364.6,249.8 368.1,250.1 371.6,250.5 375.1,250.8 378.7,251.2 382.2,251.6 385.7,252.0 389.2,252.3 392.8,252.7 396.3,253.1 399.8,253.5 403.4,253.8 406.9,254.2 410.4,254.6 413.9,255.0 417.4,255.4 421.0,255.8 424.5,256.3 428.0,256.7 431.5,257.1 435.1,257.5 438.6,258.0 442.1,258.4 445.6,258.9 449.1,259.3 452.6,259.7 456.2,260.1 459.7,260.5 463.2,260.9 466.7,261.4 470.2,262.1 473.6,263.0 476.8,264.5 479.2,266.8 480.9,269.7 480.9,277.3 28.9,277.3" fill="#7dc595"/>
<polygon points="28.9,227.7 100.7,225.5 103.9,225.4 107.2,225.3 110.6,225.4 114.1,225.6 117.6,225.9 121.1,226.1 124.6,226.4 128.1,226.7 131.6,226.9 135.2,227.1 138.7,227.4 142.2,227.6 145.8,227.9 149.3,228.2 152.8,228.6 156.3,228.9 159.8,229.3 163.4,229.7 166.9,230.1 170.4,230.6 173.9,231.0 177.4,231.5 181.0,231.9 184.5,232.4 188.0,232.8 191.5,233.2 195.0,233.7 198.5,234.1 202.0,234.6 205.6,235.0 209.1,235.4 212.6,235.8 216.1,236.2 219.7,236.6 223.2,236.9 226.7,237.3 230.2,237.6 233.8,238.0 237.3,238.4 240.8,238.7 244.3,239.1 247.9,239.4 251.4,239.7 254.9,240.0 258.5,240.3 262.0,240.6 265.5,240.9 269.0,241.2 272.6,241.5 276.1,241.9 279.6,242.3 283.2,242.7 286.7,243.0 290.2,243.4 293.7,243.7 297.3,244.0 300.8,244.3 304.3,244.6 307.9,244.9 311.4,245.3 314.9,245.6 318.4,246.0 321.9,246.4 325.5,246.8 329.0,247.1 332.5,247.4 336.1,247.7 339.6,248.0 343.1,248.4 346.6,248.7 350.2,249.0 353.7,249.3 357.2,249.6 360.8,249.9 364.3,250.2 367.8,250.6 371.3,250.9 374.9,251.2 378.4,251.6 381.9,252.0 385.4,252.4 389.0,252.7 392.5,253.1 396.0,253.5 399.5,253.8 403.1,254.2 406.6,254.6 410.1,255.0 413.6,255.4 417.1,255.8 420.7,256.2 424.2,256.6 427.7,257.0 431.2,257.4 434.7,257.8 438.3,258.2 441.8,258.7 445.3,259.1 448.8,259.5 452.3,259.9 455.8,260.3 459.4,260.7 462.9,261.1 466.4,261.6 469.9,262.3 473.3,263.2 476.4,264.6 478.9,266.9 480.7,269.7 480.7,277.3 28.9,277.3" fill="#7dc68d"/>
<polygon points="28.9,227.7 100.7,225.6 103.9,225.6 107.1,225.6 110.6,225.7 114.0,226.0 117.5,226.3 121.0,226.6 124.5,226.9 128.0,227.2 131.6,227.4 135.1,227.7 138.6,227.9 142.2,228.2 145.7,228.5 149.2,228.8 152.7,229.1 156.2,229.5 159.8,229.9 163.3,230.3 166.8,230.7 170.3,231.2 173.8,231.6 177.3,232.1 180.9,232.5 184.4,232.9 187.9,233.4 191.4,233.8 194.9,234.2 198.4,234.7 201.9,235.1 205.4,235.6 209.0,236.0 212.5,236.4 216.0,236.8 219.5,237.1 223.0,237.5 226.6,237.8 230.1,238.2 233.6,238.5 237.1,238.9 240.7,239.2 244.2,239.6 247.7,239.9 251.2,240.3 254.8,240.6 258.3,240.8 261.8,241.1 265.3,241.4 268.9,241.7 272.4,242.1 275.9,242.4 279.4,242.8 283.0,243.2 286.5,243.6 290.0,243.9 293.5,244.2 297.1,244.5 300.6,244.8 304.1,245.1 307.6,245.4 311.2,245.8 314.7,246.1 318.2,246.5 321.7,246.9 325.2,247.2 328.8,247.6 332.3,247.9 335.8,248.2 339.3,248.5 342.9,248.8 346.4,249.1 349.9,249.5 353.5,249.8 357.0,250.1 360.5,250.4 364.0,250.7 367.6,251.0 371.1,251.3 374.6,251.7 378.1,252.0 381.6,252.4 385.2,252.7 388.7,253.1 392.2,253.5 395.7,253.8 399.2,254.2 402.8,254.6 406.3,254.9 409.8,255.3 413.3,255.7 416.8,256.1 420.4,256.5 423.9,256.9 427.4,257.3 430.9,257.7 434.4,258.1 437.9,258.5 441.4,258.9 445.0,259.3 448.5,259.8 452.0,260.2 455.5,260.6 459.0,260.9 462.5,261.3 466.0,261.8 469.5,262.5 472.9,263.3 476.1,264.7 478.7,267.0 480.5,269.7 480.5,277.3 28.9,277.3" fill="#7ec886"/>
<polygon points="28.9,227.7 100.7,225.6 103.9,225.7 107.1,225.9 110.5,226.1 114.0,226.4 117.5,226.7 121.0,227.1 124.5,227.4 128.0,227.7 131.5,228.0 135.0,228.2 138.6,228.5 142.1,228.7 145.6,229.0 149.1,229.4 152.7,229.7 156.2,230.1 159.7,230.5 163.2,230.9 166.7,231.3 170.2,231.8 173.7,232.2 177.2,232.6 180.7,233.1 184.3,233.5 187.8,233.9 191.3,234.4 194.8,234.8 198.3,235.2 201.8,235.7 205.3,236.1 208.8,236.6 212.3,236.9 215.9,237.3 219.4,237.7 222.9,238.0 226.4,238.4 229.9,238.7 233.5,239.1 237.0,239.4 240.5,239.8 244.0,240.1 247.5,240.5 251.1,240.8 254.6,241.1 258.1,241.4 261.6,241.7 265.2,242.0 268.7,242.3 272.2,242.6 275.7,243.0 279.2,243.4 282.8,243.7 286.3,244.1 289.8,244.4 293.3,244.8 296.8,245.1 300.4,245.4 303.9,245.6 307.4,246.0 310.9,246.3 314.5,246.6 318.0,247.0 321.5,247.4 325.0,247.7 328.5,248.1 332.1,248.4 335.6,248.7 339.1,249.0 342.6,249.3 346.1,249.6 349.7,249.9 353.2,250.2 356.7,250.5 360.2,250.8 363.8,251.1 367.3,251.4 370.8,251.7 374.3,252.1 377.8,252.4 381.4,252.8 384.9,253.1 388.4,253.5 391.9,253.8 395.4,254.2 399.0,254.5 402.5,254.9 406.0,255.3 409.5,255.7 413.0,256.0 416.5,256.4 420.1,256.8 423.6,257.2 427.1,257.5 430.6,257.9 434.1,258.3 437.6,258.8 441.1,259.2 444.6,259.6 448.2,260.0 451.7,260.4 455.2,260.8 458.7,261.1 462.2,261.5 465.7,262.0 469.2,262.6 472.6,263.5 475.8,264.8 478.4,267.0 480.3,269.7 480.3,277.3 28.9,277.3" fill="#7ec97e"/>
<polygon points="28.9,227.7 100.7,225.6 103.9,225.9 107.1,226.1 110.5,226.4 114.0,226.8 117.5,227.1 121.0,227.5 124.5,227.9 128.0,228.2 131.5,228.5 135.0,228.8 138.5,229.0 142.0,229.3 145.5,229.6 149.1,229.9 152.6,230.3 156.1,230.7 159.6,231.1 163.1,231.5 166.6,231.9 170.1,232.4 173.6,232.8 177.1,233.2 180.6,233.7 184.2,234.1 187.7,234.5 191.2,235.0 194.7,235.4 198.2,235.8 201.7,236.3 205.2,236.7 208.7,237.1 212.2,237.5 215.7,237.9 219.2,238.2 222.8,238.6 226.3,238.9 229.8,239.3 233.3,239.6 236.8,240.0 240.3,240.3 243.9,240.7 247.4,241.0 250.9,241.3 254.4,241.6 257.9,241.9 261.5,242.2 265.0,242.5 268.5,242.8 272.0,243.2 275.5,243.5 279.1,243.9 282.6,244.3 286.1,244.6 289.6,245.0 293.1,245.3 296.6,245.6 300.2,245.9 303.7,246.2 307.2,246.5 310.7,246.8 314.2,247.1 317.8,247.5 321.3,247.9 324.8,248.2 328.3,248.5 331.8,248.9 335.3,249.2 338.9,249.5 342.4,249.8 345.9,250.1 349.4,250.4 352.9,250.7 356.5,251.0 360.0,251.3 363.5,251.5 367.0,251.8 370.5,252.1 374.1,252.5 377.6,252.8 381.1,253.2 384.6,253.5 388.1,253.9 391.6,254.2 395.2,254.5 398.7,254.9 402.2,255.3 405.7,255.6 409.2,256.0 412.7,256.4 416.2,256.7 419.7,257.1 423.3,257.5 426.8,257.8 430.3,258.2 433.8,258.6 437.3,259.0 440.8,259.4 444.3,259.8 447.8,260.2 451.3,260.6 454.9,261.0 458.4,261.3 461.9,261.7 465.4,262.2 468.8,262.8 472.3,263.7 475.5,264.9 478.1,267.1 480.1,269.7 480.1,277.3 28.9,277.3" fill="#82ca78"/>
<polygon points="28.9,227.7 100.7,225.7 103.9,226.0 107.1,226.4 110.5,226.8 114.0,227.2 117.4,227.6 120.9,228.0 124.4,228.4 127.9,228.7 131.4,229.0 134.9,229.3 138.4,229.6 142.0,229.9 145.5,230.2 149.0,230.5 152.5,230.9 156.0,231.3 159.5,231.7 163.0,232.1 166.5,232.5 170.0,232.9 173.5,233.4 177.0,233.8 180.5,234.3 184.0,234.7 187.6,235.1 191.1,235.5 194.6,236.0 198.1,236.4 201.6,236.8 205.1,237.3 208.6,237.7 212.1,238.0 215.6,238.4 219.1,238.8 222.6,239.1 226.1,239.5 229.7,239.8 233.2,240.2 236.7,240.5 240.2,240.9 243.7,241.2 247.2,241.5 250.7,241.9 254.3,242.2 257.8,242.5 261.3,242.8 264.8,243.1 268.3,243.4 271.8,243.7 275.3,244.1 278.9,244.4 282.4,244.8 285.9,245.2 289.4,245.5 292.9,245.8 296.4,246.1 299.9,246.4 303.5,246.7 307.0,247.0 310.5,247.3 314.0,247.7 317.5,248.0 321.0,248.4 324.5,248.7 328.1,249.0 331.6,249.3 335.1,249.6 338.6,249.9 342.1,250.2 345.7,250.5 349.2,250.8 352.7,251.1 356.2,251.4 359.7,251.7 363.2,252.0 366.8,252.3 370.3,252.6 373.8,252.9 377.3,253.2 380.8,253.6 384.3,253.9 387.8,254.2 391.4,254.6 394.9,254.9 398.4,255.3 401.9,255.6 405.4,256.0 408.9,256.4 412.4,256.7 415.9,257.1 419.4,257.4 423.0,257.8 426.5,258.1 430.0,258.5 433.5,258.9 437.0,259.3 440.5,259.7 444.0,260.1 447.5,260.5 451.0,260.8 454.5,261.2 458.0,261.5 461.5,261.9 465.0,262.4 468.5,263.0 471.9,263.8 475.2,265.0 477.9,267.1 479.9,269.7 479.9,277.3 28.9,277.3" fill="#8cc972"/>
<polygon points="28.9,227.7 100.7,225.7 103.9,226.2 107.1,226.7 110.5,227.1 113.9,227.5 117.4,228.0 120.9,228.4 124.4,228.8 127.9,229.2 131.4,229.6 134.9,229.9 138.4,230.1 141.9,230.4 145.4,230.8 148.9,231.1 152.4,231.5 155.9,231.9 159.4,232.3 162.9,232.7 166.4,233.1 169.9,233.5 173.4,234.0 176.9,234.4 180.4,234.8 183.9,235.3 187.4,235.7 190.9,236.1 194.4,236.5 197.9,237.0 201.4,237.4 204.9,237.8 208.5,238.2 212.0,238.6 215.5,239.0 219.0,239.3 222.5,239.7 226.0,240.0 229.5,240.3 233.0,240.7 236.5,241.0 240.0,241.4 243.5,241.7 247.1,242.1 250.6,242.4 254.1,242.7 257.6,243.0 261.1,243.3 264.6,243.6 268.1,243.9 271.7,244.2 275.2,244.6 278.7,245.0 282.2,245.3 285.7,245.7 289.2,246.0 292.7,246.4 296.2,246.7 299.7,246.9 303.3,247.2 306.8,247.5 310.3,247.8 313.8,248.2 317.3,248.5 320.8,248.9 324.3,249.2 327.8,249.5 331.3,249.8 334.9,250.1 338.4,250.4 341.9,250.7 345.4,251.0 348.9,251.3 352.4,251.6 355.9,251.9 359.5,252.1 363.0,252.4 366.5,252.7 370.0,253.0 373.5,253.3 377.0,253.6 380.5,253.9 384.0,254.3 387.6,254.6 391.1,254.9 394.6,255.3 398.1,255.6 401.6,256.0 405.1,256.3 408.6,256.7 412.1,257.0 415.6,257.4 419.1,257.7 422.6,258.1 426.2,258.4 429.7,258.8 433.2,259.2 436.7,259.5 440.2,259.9 443.7,260.3 447.2,260.7 450.7,261.1 454.2,261.4 457.7,261.7 461.2,262.1 464.7,262.5 468.2,263.2 471.6,264.0 474.9,265.2 477.6,267.2 479.7,269.7 479.7,277.3 28.9,277.3" fill="#95c86d"/>
<polygon points="28.9,227.7 100.7,225.8 103.9,226.4 107.1,226.9 110.5,227.4 113.9,227.9 117.4,228.4 120.8,228.9 124.3,229.3 127.8,229.7 131.3,230.1 134.8,230.4 138.3,230.7 141.8,231.0 145.3,231.3 148.8,231.7 152.4,232.1 155.9,232.5 159.4,232.9 162.8,233.3 166.3,233.7 169.8,234.1 173.3,234.6 176.8,235.0 180.3,235.4 183.8,235.8 187.3,236.3 190.8,236.7 194.3,237.1 197.8,237.5 201.3,238.0 204.8,238.4 208.3,238.8 211.8,239.2 215.3,239.5 218.8,239.9 222.3,240.2 225.9,240.5 229.4,240.9 232.9,241.2 236.4,241.6 239.9,241.9 243.4,242.3 246.9,242.6 250.4,242.9 253.9,243.2 257.4,243.5 260.9,243.8 264.4,244.1 268.0,244.5 271.5,244.8 275.0,245.1 278.5,245.5 282.0,245.9 285.5,246.2 289.0,246.6 292.5,246.9 296.0,247.2 299.5,247.5 303.0,247.8 306.5,248.0 310.1,248.3 313.6,248.7 317.1,249.0 320.6,249.3 324.1,249.7 327.6,250.0 331.1,250.3 334.6,250.6 338.1,250.9 341.6,251.2 345.2,251.5 348.7,251.8 352.2,252.0 355.7,252.3 359.2,252.6 362.7,252.8 366.2,253.1 369.7,253.4 373.2,253.7 376.8,254.0 380.3,254.3 383.8,254.7 387.3,255.0 390.8,255.3 394.3,255.6 397.8,256.0 401.3,256.3 404.8,256.7 408.3,257.0 411.8,257.4 415.3,257.7 418.8,258.1 422.3,258.4 425.8,258.7 429.3,259.1 432.9,259.4 436.4,259.8 439.9,260.2 443.4,260.6 446.9,260.9 450.4,261.3 453.9,261.6 457.4,261.9 460.9,262.3 464.4,262.7 467.8,263.4 471.3,264.1 474.5,265.3 477.3,267.2 479.5,269.7 479.5,277.3 28.9,277.3" fill="#9fc767"/>
<polygon points="28.9,227.7 100.7,225.8 103.9,226.5 107.1,227.2 110.5,227.8 113.9,228.3 117.3,228.8 120.8,229.3 124.3,229.8 127.8,230.2 131.3,230.6 134.8,230.9 138.3,231.3 141.8,231.6 145.3,231.9 148.8,232.3 152.3,232.6 155.8,233.0 159.3,233.5 162.8,233.9 166.3,234.3 169.8,234.7 173.2,235.2 176.7,235.6 180.2,236.0 183.7,236.4 187.2,236.8 190.7,237.3 194.2,237.7 197.7,238.1 201.2,238.5 204.7,238.9 208.2,239.3 211.7,239.7 215.2,240.1 218.7,240.4 222.2,240.8 225.7,241.1 229.2,241.4 232.7,241.8 236.2,242.1 239.7,242.5 243.2,242.8 246.7,243.1 250.2,243.5 253.7,243.8 257.3,244.1 260.8,244.4 264.3,244.7 267.8,245.0 271.3,245.3 274.8,245.7 278.3,246.0 281.8,246.4 285.3,246.8 288.8,247.1 292.3,247.4 295.8,247.7 299.3,248.0 302.8,248.3 306.3,248.6 309.8,248.9 313.3,249.2 316.8,249.5 320.4,249.8 323.9,250.2 327.4,250.5 330.9,250.8 334.4,251.1 337.9,251.4 341.4,251.7 344.9,251.9 348.4,252.2 351.9,252.5 355.4,252.8 358.9,253.0 362.5,253.3 366.0,253.5 369.5,253.8 373.0,254.1 376.5,254.4 380.0,254.7 383.5,255.0 387.0,255.4 390.5,255.7 394.0,256.0 397.5,256.3 401.0,256.7 404.5,257.0 408.0,257.4 411.5,257.7 415.0,258.1 418.5,258.4 422.0,258.7 425.5,259.0 429.0,259.4 432.5,259.7 436.0,260.1 439.5,260.4 443.0,260.8 446.5,261.2 450.0,261.5 453.5,261.9 457.0,262.2 460.6,262.5 464.0,262.9 467.5,263.5 470.9,264.3 474.2,265.4 477.0,267.3 479.3,269.7 479.3,277.3 28.9,277.3" fill="#a9c662"/>
<polygon points="28.9,227.7 100.7,225.8 103.8,226.7 107.1,227.5 110.5,228.1 113.9,228.7 117.3,229.3 120.8,229.8 124.2,230.3 127.7,230.8 131.2,231.1 134.7,231.5 138.2,231.8 141.7,232.1 145.2,232.5 148.7,232.8 152.2,233.2 155.7,233.6 159.2,234.1 162.7,234.5 166.2,234.9 169.7,235.3 173.1,235.8 176.6,236.2 180.1,236.6 183.6,237.0 187.1,237.4 190.6,237.8 194.1,238.2 197.6,238.7 201.1,239.1 204.6,239.5 208.1,239.9 211.6,240.3 215.1,240.6 218.6,241.0 222.1,241.3 225.6,241.6 229.1,242.0 232.6,242.3 236.1,242.7 239.6,243.0 243.1,243.3 246.6,243.7 250.1,244.0 253.6,244.3 257.1,244.6 260.6,244.9 264.1,245.2 267.6,245.5 271.1,245.9 274.6,246.2 278.1,246.6 281.6,246.9 285.1,247.3 288.6,247.7 292.1,248.0 295.6,248.3 299.1,248.5 302.6,248.8 306.1,249.1 309.6,249.4 313.1,249.7 316.6,250.0 320.1,250.3 323.6,250.7 327.1,251.0 330.6,251.3 334.1,251.5 337.6,251.8 341.1,252.1 344.7,252.4 348.2,252.7 351.7,253.0 355.2,253.2 358.7,253.5 362.2,253.7 365.7,254.0 369.2,254.2 372.7,254.5 376.2,254.8 379.7,255.1 383.2,255.4 386.7,255.7 390.2,256.1 393.7,256.4 397.2,256.7 400.7,257.0 404.2,257.4 407.7,257.7 411.2,258.1 414.7,258.4 418.2,258.7 421.7,259.0 425.2,259.3 428.7,259.6 432.2,260.0 435.7,260.3 439.2,260.7 442.7,261.0 446.2,261.4 449.7,261.8 453.2,262.1 456.7,262.4 460.2,262.7 463.7,263.1 467.2,263.7 470.6,264.5 473.9,265.5 476.8,267.3 479.2,269.7 479.2,277.3 28.9,277.3" fill="#b2c55c"/>
<polygon points="28.9,227.7 100.7,225.9 103.8,226.9 107.1,227.7 110.4,228.4 113.9,229.1 117.3,229.7 120.7,230.3 124.2,230.8 127.7,231.3 131.2,231.7 134.7,232.0 138.1,232.4 141.6,232.7 145.1,233.0 148.6,233.4 152.1,233.8 155.6,234.2 159.1,234.6 162.6,235.1 166.1,235.5 169.6,235.9 173.1,236.3 176.5,236.8 180.0,237.2 183.5,237.6 187.0,238.0 190.5,238.4 194.0,238.8 197.5,239.2 201.0,239.6 204.5,240.1 207.9,240.4 211.4,240.8 214.9,241.2 218.4,241.5 221.9,241.8 225.4,242.2 228.9,242.5 232.4,242.9 235.9,243.2 239.4,243.5 242.9,243.9 246.4,244.2 249.9,244.5 253.4,244.8 256.9,245.2 260.4,245.5 263.9,245.8 267.4,246.1 270.9,246.4 274.4,246.8 277.9,247.1 281.4,247.5 284.9,247.8 288.4,248.2 291.9,248.5 295.4,248.8 298.9,249.1 302.4,249.3 305.9,249.6 309.4,249.9 312.9,250.2 316.4,250.5 319.9,250.8 323.4,251.1 326.9,251.4 330.4,251.7 333.9,252.0 337.4,252.3 340.9,252.6 344.4,252.9 347.9,253.2 351.4,253.4 354.9,253.7 358.4,253.9 361.9,254.2 365.4,254.4 368.9,254.7 372.4,254.9 375.9,255.2 379.4,255.5 382.9,255.8 386.4,256.1 389.9,256.4 393.4,256.7 396.9,257.1 400.4,257.4 403.9,257.7 407.4,258.1 410.9,258.4 414.4,258.7 417.9,259.0 421.4,259.3 424.9,259.6 428.4,259.9 431.9,260.3 435.4,260.6 438.9,260.9 442.4,261.3 445.9,261.6 449.4,262.0 452.9,262.3 456.4,262.6 459.9,262.8 463.4,263.3 466.8,263.9 470.3,264.6 473.6,265.6 476.5,267.4 479.0,269.7 479.0,277.3 28.9,277.3" fill="#bcc557"/>
<polygon points="28.9,227.7 100.7,225.9 103.8,227.0 107.1,228.0 110.4,228.8 113.8,229.5 117.3,230.1 120.7,230.7 124.2,231.3 127.6,231.8 131.1,232.2 134.6,232.6 138.1,232.9 141.6,233.3 145.1,233.6 148.6,234.0 152.0,234.4 155.5,234.8 159.0,235.2 162.5,235.7 166.0,236.1 169.5,236.5 173.0,236.9 176.4,237.4 179.9,237.8 183.4,238.2 186.9,238.6 190.4,239.0 193.9,239.4 197.4,239.8 200.8,240.2 204.3,240.6 207.8,241.0 211.3,241.4 214.8,241.7 218.3,242.1 221.8,242.4 225.3,242.7 228.8,243.1 232.3,243.4 235.8,243.7 239.3,244.1 242.8,244.4 246.3,244.7 249.7,245.1 253.2,245.4 256.7,245.7 260.2,246.0 263.7,246.3 267.2,246.6 270.7,246.9 274.2,247.3 277.7,247.7 281.2,248.0 284.7,248.4 288.2,248.7 291.7,249.0 295.2,249.3 298.7,249.6 302.2,249.9 305.7,250.1 309.2,250.4 312.7,250.7 316.2,251.0 319.7,251.3 323.2,251.6 326.7,251.9 330.2,252.2 333.7,252.5 337.2,252.8 340.7,253.1 344.2,253.3 347.7,253.6 351.2,253.9 354.7,254.1 358.2,254.4 361.7,254.6 365.2,254.8 368.7,255.1 372.2,255.3 375.7,255.6 379.2,255.9 382.7,256.2 386.2,256.5 389.6,256.8 393.1,257.1 396.6,257.4 400.1,257.7 403.6,258.1 407.1,258.4 410.6,258.7 414.1,259.0 417.6,259.3 421.1,259.6 424.6,259.9 428.1,260.2 431.6,260.5 435.1,260.9 438.6,261.2 442.1,261.5 445.6,261.9 449.1,262.2 452.6,262.5 456.1,262.8 459.6,263.0 463.0,263.5 466.5,264.1 469.9,264.8 473.3,265.7 476.2,267.5 478.8,269.7 478.8,277.3 28.9,277.3" fill="#c6c451"/>
<polygon points="28.9,227.7 100.7,226.0 103.8,227.2 107.1,228.3 110.4,229.1 113.8,229.9 117.2,230.5 120.7,231.2 124.1,231.8 127.6,232.3 131.1,232.7 134.5,233.1 138.0,233.5 141.5,233.8 145.0,234.2 148.5,234.6 152.0,235.0 155.5,235.4 158.9,235.8 162.4,236.2 165.9,236.7 169.4,237.1 172.9,237.5 176.3,237.9 179.8,238.4 183.3,238.8 186.8,239.2 190.3,239.6 193.8,240.0 197.2,240.4 200.7,240.8 204.2,241.2 207.7,241.6 211.2,241.9 214.7,242.3 218.2,242.6 221.7,242.9 225.1,243.3 228.6,243.6 232.1,243.9 235.6,244.3 239.1,244.6 242.6,245.0 246.1,245.3 249.6,245.6 253.1,245.9 256.6,246.2 260.1,246.5 263.6,246.8 267.0,247.2 270.5,247.5 274.0,247.8 277.5,248.2 281.0,248.6 284.5,248.9 288.0,249.3 291.5,249.6 295.0,249.9 298.5,250.1 302.0,250.4 305.5,250.7 309.0,250.9 312.5,251.2 315.9,251.5 319.4,251.8 322.9,252.1 326.4,252.4 329.9,252.7 333.4,253.0 336.9,253.3 340.4,253.5 343.9,253.8 347.4,254.1 350.9,254.3 354.4,254.6 357.9,254.8 361.4,255.0 364.9,255.3 368.4,255.5 371.9,255.7 375.4,256.0 378.9,256.3 382.4,256.6 385.9,256.9 389.4,257.2 392.9,257.5 396.4,257.8 399.8,258.1 403.3,258.4 406.8,258.7 410.3,259.1 413.8,259.4 417.3,259.6 420.8,259.9 424.3,260.2 427.8,260.5 431.3,260.8 434.8,261.1 438.3,261.5 441.8,261.8 445.2,262.1 448.7,262.4 452.2,262.7 455.7,263.0 459.2,263.2 462.7,263.7 466.2,264.2 469.6,264.9 473.0,265.8 476.0,267.5 478.6,269.7 478.6,277.3 28.9,277.3" fill="#cfc34c"/>
<polygon points="28.9,227.7 100.7,226.0 103.8,227.4 107.0,228.5 110.4,229.4 113.8,230.2 117.2,231.0 120.6,231.6 124.1,232.2 127.5,232.8 131.0,233.3 134.5,233.7 138.0,234.0 141.5,234.4 144.9,234.8 148.4,235.1 151.9,235.5 155.4,236.0 158.9,236.4 162.3,236.8 165.8,237.3 169.3,237.7 172.8,238.1 176.2,238.5 179.7,238.9 183.2,239.3 186.7,239.7 190.2,240.1 193.6,240.5 197.1,240.9 200.6,241.3 204.1,241.7 207.6,242.1 211.1,242.5 214.5,242.8 218.0,243.2 221.5,243.5 225.0,243.8 228.5,244.1 232.0,244.5 235.5,244.8 239.0,245.2 242.4,245.5 245.9,245.8 249.4,246.1 252.9,246.5 256.4,246.8 259.9,247.1 263.4,247.4 266.9,247.7 270.4,248.0 273.8,248.4 277.3,248.7 280.8,249.1 284.3,249.4 287.8,249.8 291.3,250.1 294.8,250.4 298.3,250.7 301.8,250.9 305.2,251.2 308.7,251.4 312.2,251.7 315.7,252.0 319.2,252.3 322.7,252.6 326.2,252.9 329.7,253.2 333.2,253.5 336.7,253.7 340.2,254.0 343.7,254.3 347.2,254.5 350.6,254.8 354.1,255.0 357.6,255.2 361.1,255.5 364.6,255.7 368.1,255.9 371.6,256.2 375.1,256.4 378.6,256.7 382.1,257.0 385.6,257.3 389.1,257.5 392.6,257.8 396.1,258.1 399.6,258.5 403.0,258.8 406.5,259.1 410.0,259.4 413.5,259.7 417.0,260.0 420.5,260.2 424.0,260.5 427.5,260.8 431.0,261.1 434.5,261.4 437.9,261.7 441.4,262.0 444.9,262.3 448.4,262.7 451.9,263.0 455.4,263.2 458.9,263.4 462.4,263.9 465.8,264.4 469.3,265.1 472.6,265.9 475.7,267.6 478.4,269.7 478.4,277.3 28.9,277.3" fill="#d9c246"/>
<polygon points="28.9,227.7 100.7,226.1 103.8,227.5 107.0,228.8 110.4,229.8 113.8,230.6 117.2,231.4 120.6,232.1 124.0,232.7 127.5,233.3 131.0,233.8 134.4,234.2 137.9,234.6 141.4,235.0 144.9,235.3 148.3,235.7 151.8,236.1 155.3,236.6 158.8,237.0 162.2,237.4 165.7,237.9 169.2,238.3 172.7,238.7 176.1,239.1 179.6,239.5 183.1,239.9 186.6,240.3 190.1,240.7 193.5,241.1 197.0,241.5 200.5,241.9 204.0,242.3 207.4,242.7 210.9,243.0 214.4,243.4 217.9,243.7 221.4,244.0 224.9,244.4 228.3,244.7 231.8,245.0 235.3,245.4 238.8,245.7 242.3,246.0 245.8,246.4 249.3,246.7 252.7,247.0 256.2,247.3 259.7,247.6 263.2,247.9 266.7,248.2 270.2,248.6 273.7,248.9 277.1,249.3 280.6,249.6 284.1,250.0 287.6,250.3 291.1,250.6 294.6,250.9 298.0,251.2 301.5,251.4 305.0,251.7 308.5,252.0 312.0,252.2 315.5,252.5 319.0,252.8 322.5,253.1 326.0,253.4 329.4,253.7 332.9,253.9 336.4,254.2 339.9,254.5 343.4,254.7 346.9,255.0 350.4,255.3 353.9,255.5 357.4,255.7 360.9,255.9 364.4,256.1 367.9,256.3 371.3,256.6 374.8,256.8 378.3,257.1 381.8,257.4 385.3,257.6 388.8,257.9 392.3,258.2 395.8,258.5 399.3,258.8 402.7,259.1 406.2,259.4 409.7,259.7 413.2,260.0 416.7,260.3 420.2,260.5 423.7,260.8 427.2,261.1 430.7,261.4 434.1,261.7 437.6,262.0 441.1,262.3 444.6,262.6 448.1,262.9 451.6,263.2 455.1,263.4 458.6,263.6 462.0,264.0 465.5,264.6 468.9,265.3 472.3,266.1 475.4,267.6 478.2,269.7 478.2,277.3 28.9,277.3" fill="#e2c141"/>
<polygon points="28.9,227.7 100.7,226.1 103.8,227.7 107.0,229.1 110.4,230.1 113.7,231.0 117.1,231.8 120.6,232.5 124.0,233.2 127.4,233.8 130.9,234.3 134.4,234.8 137.8,235.1 141.3,235.5 144.8,235.9 148.3,236.3 151.7,236.7 155.2,237.1 158.7,237.6 162.2,238.0 165.6,238.5 169.1,238.9 172.6,239.3 176.0,239.7 179.5,240.1 183.0,240.5 186.5,240.9 189.9,241.3 193.4,241.7 196.9,242.1 200.4,242.5 203.8,242.8 207.3,243.2 210.8,243.6 214.3,243.9 217.8,244.3 221.2,244.6 224.7,244.9 228.2,245.2 231.7,245.6 235.2,245.9 238.6,246.2 242.1,246.6 245.6,246.9 249.1,247.2 252.6,247.5 256.1,247.8 259.5,248.2 263.0,248.5 266.5,248.8 270.0,249.1 273.5,249.4 276.9,249.8 280.4,250.2 283.9,250.5 287.4,250.9 290.9,251.2 294.3,251.5 297.8,251.7 301.3,252.0 304.8,252.2 308.3,252.5 311.8,252.7 315.3,253.0 318.8,253.3 322.2,253.6 325.7,253.9 329.2,254.1 332.7,254.4 336.2,254.7 339.7,254.9 343.2,255.2 346.6,255.5 350.1,255.7 353.6,255.9 357.1,256.1 360.6,256.3 364.1,256.5 367.6,256.7 371.1,257.0 374.6,257.2 378.1,257.5 381.5,257.7 385.0,258.0 388.5,258.3 392.0,258.6 395.5,258.9 399.0,259.2 402.5,259.5 405.9,259.8 409.4,260.1 412.9,260.3 416.4,260.6 419.9,260.8 423.4,261.1 426.9,261.4 430.3,261.6 433.8,261.9 437.3,262.2 440.8,262.5 444.3,262.8 447.8,263.1 451.2,263.4 454.7,263.6 458.2,263.8 461.7,264.2 465.2,264.8 468.6,265.4 472.0,266.2 475.1,267.7 478.0,269.7 478.0,277.3 28.9,277.3" fill="#ecc03c"/>
<polygon points="28.9,227.7 100.1,226.2 103.1,227.8 106.2,229.3 109.5,230.3 112.9,231.2 116.3,232.1 119.7,232.8 123.1,233.5 126.5,234.1 129.9,234.6 133.4,235.1 136.8,235.5 140.3,235.9 143.7,236.3 147.2,236.7 150.6,237.1 154.1,237.5 157.5,238.0 161.0,238.4 164.4,238.8 167.9,239.3 171.3,239.7 174.8,240.1 178.2,240.5 181.7,240.9 185.1,241.3 188.6,241.7 192.0,242.1 195.5,242.5 198.9,242.9 202.4,243.3 205.9,243.6 209.3,244.0 212.8,244.3 216.2,244.7 219.7,245.0 223.1,245.3 226.6,245.6 230.1,245.9 233.5,246.3 237.0,246.6 240.4,246.9 243.9,247.2 247.4,247.6 250.8,247.9 254.3,248.2 257.8,248.5 261.2,248.8 264.7,249.1 268.1,249.4 271.6,249.8 275.1,250.1 278.5,250.5 282.0,250.8 285.4,251.2 288.9,251.5 292.4,251.8 295.8,252.0 299.3,252.3 302.8,252.5 306.2,252.8 309.7,253.0 313.2,253.3 316.6,253.6 320.1,253.9 323.5,254.1 327.0,254.4 330.5,254.7 333.9,254.9 337.4,255.2 340.9,255.5 344.3,255.7 347.8,256.0 351.3,256.2 354.7,256.4 358.2,256.6 361.7,256.8 365.2,257.0 368.6,257.2 372.1,257.5 375.6,257.7 379.0,258.0 382.5,258.2 385.9,258.5 389.4,258.8 392.9,259.1 396.3,259.4 399.8,259.7 403.3,260.0 406.7,260.2 410.2,260.5 413.7,260.8 417.1,261.0 420.6,261.3 424.1,261.6 427.5,261.8 431.0,262.1 434.4,262.4 437.9,262.7 441.4,263.0 444.8,263.3 448.3,263.6 451.8,263.8 455.2,264.0 458.7,264.4 462.1,264.9 465.5,265.5 468.9,266.2 472.1,267.7 474.9,269.7 474.9,277.3 28.9,277.3" fill="#f4c037"/>
<polygon points="28.9,227.7 99.5,226.2 102.4,228.0 105.5,229.4 108.7,230.5 112.1,231.5 115.4,232.3 118.8,233.1 122.1,233.8 125.5,234.4 129.0,234.9 132.4,235.4 135.8,235.8 139.2,236.2 142.7,236.6 146.1,237.0 149.5,237.5 152.9,237.9 156.4,238.3 159.8,238.8 163.2,239.2 166.6,239.7 170.1,240.1 173.5,240.5 176.9,240.9 180.4,241.3 183.8,241.7 187.2,242.1 190.7,242.5 194.1,242.9 197.5,243.3 201.0,243.7 204.4,244.0 207.8,244.4 211.3,244.7 214.7,245.1 218.1,245.4 221.6,245.7 225.0,246.0 228.5,246.3 231.9,246.7 235.3,247.0 238.8,247.3 242.2,247.6 245.7,247.9 249.1,248.2 252.5,248.5 256.0,248.8 259.4,249.1 262.9,249.4 266.3,249.7 269.7,250.1 273.2,250.4 276.6,250.8 280.0,251.1 283.5,251.5 286.9,251.8 290.4,252.1 293.8,252.3 297.3,252.6 300.7,252.8 304.1,253.1 307.6,253.3 311.0,253.6 314.5,253.9 317.9,254.2 321.4,254.4 324.8,254.7 328.2,255.0 331.7,255.2 335.1,255.5 338.6,255.7 342.0,256.0 345.5,256.2 348.9,256.4 352.4,256.6 355.8,256.8 359.3,257.0 362.7,257.3 366.2,257.5 369.6,257.7 373.0,258.0 376.5,258.2 379.9,258.5 383.4,258.8 386.8,259.0 390.3,259.3 393.7,259.6 397.2,259.9 400.6,260.2 404.0,260.4 407.5,260.7 410.9,261.0 414.4,261.2 417.8,261.5 421.3,261.8 424.7,262.0 428.1,262.3 431.6,262.6 435.0,262.9 438.5,263.2 441.9,263.5 445.3,263.8 448.8,264.0 452.2,264.2 455.7,264.5 459.1,265.0 462.5,265.6 465.9,266.3 469.0,267.6 471.8,269.7 471.8,277.3 28.9,277.3" fill="#fbbf33"/>
<polygon points="28.9,227.7 98.9,226.3 101.6,228.1 104.7,229.6 107.9,230.7 111.2,231.7 114.5,232.6 117.9,233.3 121.2,234.1 124.6,234.7 128.0,235.2 131.4,235.7 134.8,236.1 138.2,236.6 141.6,237.0 145.0,237.4 148.4,237.8 151.8,238.3 155.2,238.7 158.6,239.2 162.0,239.6 165.4,240.1 168.8,240.5 172.2,240.9 175.6,241.3 179.0,241.7 182.5,242.1 185.9,242.5 189.3,242.9 192.7,243.3 196.1,243.7 199.5,244.1 202.9,244.4 206.3,244.8 209.8,245.1 213.2,245.5 216.6,245.8 220.0,246.1 223.4,246.4 226.8,246.7 230.3,247.0 233.7,247.4 237.1,247.7 240.5,248.0 243.9,248.3 247.4,248.6 250.8,248.8 254.2,249.1 257.6,249.4 261.0,249.7 264.5,250.1 267.9,250.4 271.3,250.7 274.7,251.1 278.1,251.4 281.5,251.8 285.0,252.1 288.4,252.4 291.8,252.6 295.2,252.9 298.6,253.1 302.1,253.4 305.5,253.6 308.9,253.9 312.3,254.2 315.8,254.4 319.2,254.7 322.6,255.0 326.0,255.2 329.4,255.5 332.9,255.7 336.3,256.0 339.7,256.2 343.1,256.5 346.6,256.7 350.0,256.9 353.4,257.1 356.8,257.3 360.3,257.5 363.7,257.7 367.1,258.0 370.5,258.2 374.0,258.5 377.4,258.7 380.8,259.0 384.2,259.3 387.7,259.5 391.1,259.8 394.5,260.1 397.9,260.4 401.3,260.6 404.8,260.9 408.2,261.2 411.6,261.4 415.0,261.7 418.5,262.0 421.9,262.2 425.3,262.5 428.7,262.8 432.1,263.2 435.6,263.4 439.0,263.7 442.4,264.0 445.8,264.1 449.3,264.3 452.7,264.7 456.1,265.1 459.5,265.7 462.8,266.3 465.9,267.6 468.6,269.7 468.6,277.3 28.9,277.3" fill="#fbb734"/>
<polygon points="28.9,227.7 98.3,226.3 100.9,228.2 103.9,229.8 107.1,231.0 110.4,231.9 113.7,232.8 117.0,233.6 120.3,234.3 123.6,235.0 127.0,235.5 130.4,236.0 133.8,236.5 137.1,236.9 140.5,237.4 143.9,237.8 147.3,238.2 150.7,238.7 154.0,239.1 157.4,239.6 160.8,240.0 164.2,240.4 167.6,240.9 171.0,241.3 174.3,241.7 177.7,242.1 181.1,242.6 184.5,243.0 187.9,243.4 191.3,243.7 194.7,244.1 198.1,244.5 201.5,244.8 204.9,245.2 208.2,245.5 211.6,245.8 215.0,246.2 218.4,246.5 221.8,246.8 225.2,247.1 228.6,247.4 232.0,247.7 235.4,248.0 238.8,248.3 242.2,248.6 245.6,248.9 249.0,249.2 252.4,249.5 255.8,249.8 259.2,250.1 262.6,250.4 266.0,250.7 269.4,251.1 272.8,251.4 276.2,251.7 279.6,252.1 283.0,252.4 286.4,252.7 289.8,252.9 293.2,253.2 296.6,253.4 300.0,253.7 303.4,253.9 306.8,254.2 310.2,254.5 313.6,254.7 317.0,255.0 320.4,255.2 323.8,255.5 327.2,255.7 330.6,256.0 334.0,256.2 337.4,256.5 340.8,256.7 344.2,256.9 347.6,257.1 351.0,257.3 354.4,257.5 357.8,257.8 361.2,258.0 364.6,258.2 368.0,258.5 371.4,258.7 374.8,259.0 378.3,259.2 381.7,259.5 385.1,259.7 388.5,260.0 391.9,260.3 395.3,260.6 398.7,260.8 402.1,261.1 405.5,261.3 408.9,261.6 412.3,261.9 415.7,262.2 419.1,262.4 422.5,262.7 425.9,263.0 429.2,263.4 432.6,263.7 436.0,263.9 439.5,264.1 442.9,264.3 446.3,264.5 449.7,264.8 453.0,265.2 456.4,265.7 459.7,266.4 462.9,267.6 465.5,269.7 465.5,277.3 28.9,277.3" fill="#fbb035"/>
<polygon points="28.9,227.7 97.7,226.4 100.2,228.4 103.1,230.0 106.3,231.2 109.5,232.2 112.8,233.1 116.1,233.9 119.4,234.6 122.7,235.3 126.0,235.8 129.4,236.3 132.7,236.8 136.1,237.3 139.5,237.7 142.8,238.2 146.2,238.6 149.5,239.0 152.9,239.5 156.3,239.9 159.6,240.4 163.0,240.8 166.3,241.3 169.7,241.7 173.1,242.1 176.4,242.6 179.8,243.0 183.1,243.4 186.5,243.8 189.9,244.2 193.3,244.5 196.6,244.9 200.0,245.2 203.4,245.6 206.7,245.9 210.1,246.2 213.5,246.6 216.9,246.9 220.2,247.2 223.6,247.5 227.0,247.8 230.4,248.1 233.7,248.4 237.1,248.7 240.5,249.0 243.9,249.2 247.3,249.5 250.6,249.8 254.0,250.1 257.4,250.4 260.8,250.7 264.1,251.0 267.5,251.4 270.9,251.7 274.3,252.0 277.6,252.4 281.0,252.7 284.4,253.0 287.8,253.2 291.1,253.5 294.5,253.7 297.9,254.0 301.3,254.2 304.7,254.5 308.1,254.7 311.4,255.0 314.8,255.3 318.2,255.5 321.6,255.8 325.0,256.0 328.3,256.2 331.7,256.5 335.1,256.7 338.5,257.0 341.9,257.2 345.2,257.4 348.6,257.6 352.0,257.8 355.4,258.0 358.8,258.2 362.2,258.5 365.5,258.7 368.9,259.0 372.3,259.2 375.7,259.5 379.1,259.7 382.4,260.0 385.8,260.2 389.2,260.5 392.6,260.8 396.0,261.0 399.3,261.3 402.7,261.5 406.1,261.8 409.5,262.1 412.9,262.4 416.2,262.7 419.6,263.0 423.0,263.3 426.4,263.6 429.7,263.9 433.1,264.1 436.5,264.3 439.9,264.5 443.3,264.7 446.6,265.0 450.0,265.4 453.4,265.8 456.7,266.4 459.8,267.6 462.4,269.7 462.4,277.3 28.9,277.3" fill="#fba836"/>
<polygon points="28.9,227.7 97.1,226.4 99.4,228.5 102.3,230.2 105.5,231.4 108.7,232.4 111.9,233.3 115.2,234.1 118.4,234.9 121.7,235.5 125.1,236.1 128.4,236.6 131.7,237.1 135.0,237.6 138.4,238.1 141.7,238.5 145.1,239.0 148.4,239.4 151.7,239.9 155.1,240.3 158.4,240.8 161.7,241.2 165.1,241.7 168.4,242.1 171.8,242.5 175.1,243.0 178.4,243.4 181.8,243.8 185.1,244.2 188.5,244.6 191.8,244.9 195.2,245.3 198.5,245.7 201.9,246.0 205.2,246.3 208.6,246.6 211.9,247.0 215.3,247.3 218.7,247.6 222.0,247.9 225.4,248.2 228.7,248.5 232.1,248.8 235.4,249.0 238.8,249.3 242.1,249.6 245.5,249.8 248.9,250.1 252.2,250.4 255.6,250.7 258.9,251.0 262.3,251.3 265.6,251.7 269.0,252.0 272.3,252.3 275.7,252.7 279.0,253.0 282.4,253.3 285.8,253.5 289.1,253.8 292.5,254.0 295.8,254.3 299.2,254.5 302.6,254.8 305.9,255.0 309.3,255.3 312.6,255.5 316.0,255.8 319.3,256.0 322.7,256.3 326.1,256.5 329.4,256.7 332.8,257.0 336.1,257.2 339.5,257.4 342.9,257.6 346.2,257.8 349.6,258.1 353.0,258.3 356.3,258.5 359.7,258.7 363.0,259.0 366.4,259.2 369.8,259.4 373.1,259.7 376.5,259.9 379.8,260.2 383.2,260.4 386.6,260.7 389.9,261.0 393.3,261.2 396.6,261.5 400.0,261.7 403.3,262.0 406.7,262.3 410.1,262.6 413.4,262.9 416.8,263.2 420.1,263.5 423.5,263.8 426.8,264.1 430.2,264.3 433.6,264.5 436.9,264.7 440.3,264.8 443.6,265.1 447.0,265.5 450.3,265.9 453.6,266.5 456.7,267.6 459.2,269.7 459.2,277.3 28.9,277.3" fill="#fba136"/>
<polygon points="28.9,227.7 96.5,226.5 98.7,228.7 101.6,230.3 104.6,231.6 107.8,232.6 111.0,233.6 114.3,234.4 117.5,235.2 120.8,235.8 124.1,236.4 127.4,237.0 130.7,237.5 134.0,238.0 137.3,238.4 140.6,238.9 143.9,239.4 147.3,239.8 150.6,240.3 153.9,240.7 157.2,241.2 160.5,241.6 163.8,242.1 167.2,242.5 170.5,242.9 173.8,243.4 177.1,243.8 180.4,244.2 183.8,244.6 187.1,245.0 190.4,245.4 193.7,245.7 197.1,246.1 200.4,246.4 203.7,246.7 207.1,247.0 210.4,247.4 213.7,247.7 217.1,248.0 220.4,248.3 223.7,248.6 227.1,248.9 230.4,249.1 233.7,249.4 237.1,249.7 240.4,249.9 243.7,250.2 247.1,250.4 250.4,250.7 253.7,251.0 257.1,251.3 260.4,251.7 263.7,252.0 267.1,252.3 270.4,252.6 273.7,253.0 277.1,253.3 280.4,253.6 283.7,253.8 287.1,254.1 290.4,254.3 293.8,254.6 297.1,254.8 300.4,255.1 303.8,255.3 307.1,255.6 310.4,255.8 313.8,256.1 317.1,256.3 320.5,256.5 323.8,256.8 327.1,257.0 330.5,257.2 333.8,257.5 337.2,257.7 340.5,257.9 343.8,258.1 347.2,258.3 350.5,258.5 353.9,258.7 357.2,259.0 360.5,259.2 363.9,259.4 367.2,259.7 370.6,259.9 373.9,260.2 377.2,260.4 380.6,260.7 383.9,260.9 387.2,261.2 390.6,261.4 393.9,261.7 397.3,261.9 400.6,262.2 403.9,262.5 407.3,262.8 410.6,263.1 413.9,263.4 417.3,263.7 420.6,264.0 423.9,264.3 427.3,264.5 430.6,264.7 433.9,264.9 437.3,265.0 440.6,265.2 443.9,265.6 447.3,266.0 450.6,266.5 453.7,267.6 456.1,269.7 456.1,277.3 28.9,277.3" fill="#fc9937"/>
<polygon points="28.9,227.7 95.9,226.6 98.0,228.8 100.8,230.5 103.8,231.8 107.0,232.9 110.2,233.8 113.4,234.7 116.6,235.5 119.8,236.1 123.1,236.7 126.4,237.3 129.7,237.8 133.0,238.3 136.2,238.8 139.5,239.3 142.8,239.7 146.1,240.2 149.4,240.6 152.7,241.1 156.0,241.6 159.3,242.0 162.6,242.5 165.9,242.9 169.2,243.3 172.5,243.8 175.8,244.2 179.1,244.6 182.4,245.0 185.7,245.4 189.0,245.8 192.3,246.1 195.6,246.5 198.9,246.8 202.2,247.1 205.5,247.4 208.8,247.8 212.2,248.1 215.5,248.4 218.8,248.7 222.1,249.0 225.4,249.2 228.7,249.5 232.0,249.8 235.4,250.0 238.7,250.2 242.0,250.5 245.3,250.8 248.6,251.1 251.9,251.3 255.2,251.7 258.5,252.0 261.9,252.3 265.2,252.6 268.5,252.9 271.8,253.3 275.1,253.6 278.4,253.9 281.7,254.1 285.0,254.4 288.4,254.6 291.7,254.9 295.0,255.1 298.3,255.4 301.6,255.6 304.9,255.9 308.3,256.1 311.6,256.3 314.9,256.6 318.2,256.8 321.5,257.0 324.9,257.2 328.2,257.5 331.5,257.7 334.8,257.9 338.1,258.1 341.4,258.3 344.8,258.6 348.1,258.8 351.4,259.0 354.7,259.2 358.0,259.5 361.4,259.7 364.7,259.9 368.0,260.2 371.3,260.4 374.6,260.6 377.9,260.9 381.3,261.1 384.6,261.4 387.9,261.6 391.2,261.8 394.5,262.1 397.8,262.4 401.1,262.7 404.5,263.0 407.8,263.3 411.1,263.6 414.4,263.9 417.7,264.2 421.0,264.5 424.3,264.7 427.7,264.9 431.0,265.0 434.3,265.2 437.6,265.4 440.9,265.7 444.2,266.1 447.5,266.5 450.6,267.6 453.0,269.7 453.0,277.3 28.9,277.3" fill="#fc9238"/>
<polygon points="28.9,227.7 95.3,226.6 97.3,228.9 100.0,230.7 103.0,232.0 106.1,233.1 109.3,234.1 112.5,234.9 115.7,235.7 118.9,236.4 122.1,237.0 125.4,237.6 128.7,238.1 131.9,238.7 135.2,239.2 138.4,239.6 141.7,240.1 145.0,240.6 148.3,241.0 151.5,241.5 154.8,241.9 158.1,242.4 161.3,242.8 164.6,243.3 167.9,243.8 171.2,244.2 174.4,244.6 177.7,245.0 181.0,245.4 184.3,245.8 187.6,246.2 190.9,246.5 194.1,246.9 197.4,247.2 200.7,247.5 204.0,247.8 207.3,248.1 210.6,248.5 213.9,248.8 217.2,249.1 220.5,249.3 223.8,249.6 227.0,249.9 230.3,250.1 233.6,250.3 236.9,250.6 240.2,250.8 243.5,251.1 246.8,251.4 250.1,251.7 253.4,252.0 256.7,252.3 260.0,252.6 263.3,252.9 266.5,253.3 269.8,253.6 273.1,253.9 276.4,254.2 279.7,254.4 283.0,254.7 286.3,254.9 289.6,255.2 292.9,255.4 296.2,255.7 299.5,255.9 302.8,256.1 306.1,256.4 309.4,256.6 312.7,256.8 316.0,257.1 319.3,257.3 322.6,257.5 325.9,257.7 329.2,257.9 332.5,258.2 335.8,258.4 339.0,258.6 342.3,258.8 345.6,259.0 348.9,259.2 352.2,259.5 355.5,259.7 358.8,259.9 362.1,260.2 365.4,260.4 368.7,260.6 372.0,260.9 375.3,261.1 378.6,261.3 381.9,261.5 385.2,261.8 388.5,262.0 391.8,262.3 395.1,262.6 398.4,262.9 401.7,263.2 405.0,263.5 408.2,263.8 411.5,264.1 414.8,264.4 418.1,264.7 421.4,264.9 424.7,265.1 428.0,265.2 431.3,265.3 434.6,265.5 437.9,265.8 441.2,266.2 444.4,266.6 447.5,267.6 449.9,269.7 449.9,277.3 28.9,277.3" fill="#fc8a39"/>
<polygon points="28.9,227.7 94.7,226.7 96.5,229.1 99.2,230.9 102.2,232.2 105.3,233.3 108.4,234.3 111.6,235.2 114.7,236.0 117.9,236.7 121.2,237.3 124.4,237.9 127.6,238.5 130.9,239.0 134.1,239.5 137.3,240.0 140.6,240.5 143.8,240.9 147.1,241.4 150.3,241.9 153.6,242.3 156.8,242.8 160.1,243.2 163.3,243.7 166.6,244.2 169.9,244.6 173.1,245.0 176.4,245.5 179.6,245.9 182.9,246.2 186.1,246.6 189.4,246.9 192.7,247.3 195.9,247.6 199.2,247.9 202.5,248.2 205.7,248.5 209.0,248.9 212.3,249.2 215.6,249.4 218.8,249.7 222.1,250.0 225.4,250.2 228.6,250.5 231.9,250.7 235.2,250.9 238.5,251.2 241.7,251.4 245.0,251.7 248.3,252.0 251.6,252.3 254.8,252.6 258.1,252.9 261.4,253.2 264.6,253.6 267.9,253.9 271.2,254.2 274.4,254.5 277.7,254.7 281.0,255.0 284.2,255.2 287.5,255.5 290.8,255.7 294.1,256.0 297.3,256.2 300.6,256.4 303.9,256.7 307.2,256.9 310.4,257.1 313.7,257.3 317.0,257.5 320.3,257.8 323.5,258.0 326.8,258.2 330.1,258.4 333.4,258.6 336.7,258.8 339.9,259.1 343.2,259.3 346.5,259.5 349.8,259.7 353.0,259.9 356.3,260.2 359.6,260.4 362.9,260.6 366.1,260.9 369.4,261.1 372.7,261.3 376.0,261.5 379.2,261.7 382.5,262.0 385.8,262.2 389.1,262.5 392.3,262.8 395.6,263.1 398.9,263.4 402.1,263.7 405.4,264.0 408.7,264.3 411.9,264.6 415.2,264.9 418.5,265.1 421.8,265.3 425.0,265.4 428.3,265.5 431.6,265.7 434.9,265.9 438.1,266.2 441.4,266.6 444.5,267.5 446.8,269.7 446.8,277.3 28.9,277.3" fill="#fc833a"/>
<polygon points="28.9,227.7 94.1,226.7 95.8,229.2 98.4,231.1 101.4,232.5 104.4,233.6 107.5,234.6 110.7,235.5 113.8,236.3 117.0,237.0 120.2,237.6 123.4,238.2 126.6,238.8 129.8,239.4 133.0,239.9 136.3,240.4 139.5,240.9 142.7,241.3 145.9,241.8 149.2,242.3 152.4,242.7 155.6,243.2 158.9,243.6 162.1,244.1 165.3,244.6 168.5,245.0 171.8,245.5 175.0,245.9 178.2,246.3 181.5,246.7 184.7,247.0 188.0,247.4 191.2,247.7 194.5,248.0 197.7,248.3 200.9,248.6 204.2,248.9 207.4,249.2 210.7,249.5 213.9,249.8 217.2,250.1 220.4,250.4 223.7,250.6 226.9,250.8 230.2,251.0 233.5,251.3 236.7,251.5 240.0,251.7 243.2,252.0 246.5,252.3 249.7,252.6 253.0,252.9 256.2,253.2 259.4,253.6 262.7,253.9 265.9,254.2 269.2,254.5 272.4,254.8 275.7,255.0 278.9,255.3 282.2,255.5 285.4,255.8 288.7,256.0 292.0,256.3 295.2,256.5 298.5,256.7 301.7,256.9 305.0,257.2 308.2,257.4 311.5,257.6 314.7,257.8 318.0,258.0 321.2,258.2 324.5,258.4 327.7,258.7 331.0,258.9 334.3,259.1 337.5,259.3 340.8,259.5 344.0,259.8 347.3,260.0 350.5,260.2 353.8,260.4 357.0,260.6 360.3,260.9 363.5,261.1 366.8,261.3 370.1,261.5 373.3,261.7 376.6,261.9 379.8,262.2 383.1,262.4 386.3,262.7 389.6,263.0 392.8,263.3 396.1,263.6 399.3,263.9 402.6,264.2 405.8,264.5 409.0,264.9 412.3,265.1 415.6,265.3 418.8,265.5 422.1,265.6 425.3,265.7 428.6,265.8 431.8,266.0 435.1,266.3 438.3,266.7 441.4,267.5 443.6,269.7 443.6,277.3 28.9,277.3" fill="#fc7b3b"/>
<polygon points="28.9,227.7 93.5,226.8 95.1,229.4 97.7,231.3 100.6,232.7 103.6,233.8 106.7,234.8 109.8,235.7 112.9,236.6 116.0,237.3 119.2,237.9 122.4,238.5 125.6,239.1 128.8,239.7 132.0,240.2 135.2,240.7 138.4,241.2 141.6,241.7 144.8,242.2 148.0,242.6 151.2,243.1 154.4,243.6 157.6,244.0 160.8,244.5 164.0,245.0 167.2,245.4 170.4,245.9 173.6,246.3 176.9,246.7 180.1,247.1 183.3,247.4 186.5,247.8 189.7,248.1 193.0,248.4 196.2,248.7 199.4,249.0 202.6,249.3 205.9,249.6 209.1,249.9 212.3,250.2 215.6,250.5 218.8,250.7 222.0,251.0 225.3,251.2 228.5,251.4 231.7,251.6 235.0,251.8 238.2,252.1 241.4,252.3 244.6,252.6 247.9,252.9 251.1,253.2 254.3,253.6 257.5,253.9 260.8,254.2 264.0,254.5 267.2,254.8 270.4,255.1 273.7,255.3 276.9,255.6 280.1,255.8 283.4,256.1 286.6,256.3 289.8,256.6 293.1,256.8 296.3,257.0 299.5,257.2 302.8,257.4 306.0,257.7 309.2,257.9 312.5,258.1 315.7,258.3 318.9,258.5 322.2,258.7 325.4,258.9 328.6,259.1 331.9,259.4 335.1,259.6 338.3,259.8 341.6,260.0 344.8,260.2 348.0,260.4 351.3,260.7 354.5,260.9 357.7,261.1 361.0,261.3 364.2,261.5 367.4,261.7 370.7,261.9 373.9,262.1 377.1,262.4 380.4,262.6 383.6,262.9 386.8,263.2 390.0,263.5 393.3,263.8 396.5,264.1 399.7,264.4 402.9,264.7 406.2,265.1 409.4,265.3 412.6,265.5 415.9,265.7 419.1,265.8 422.3,265.8 425.6,266.0 428.8,266.2 432.0,266.4 435.2,266.7 438.3,267.5 440.5,269.7 440.5,277.3 28.9,277.3" fill="#fc733b"/>
<polygon points="28.9,227.7 92.9,226.8 94.3,229.5 96.9,231.4 99.7,232.9 102.7,234.0 105.8,235.1 108.9,236.0 112.0,236.9 115.1,237.6 118.2,238.2 121.4,238.8 124.6,239.5 127.7,240.0 130.9,240.6 134.1,241.1 137.3,241.6 140.4,242.1 143.6,242.6 146.8,243.0 150.0,243.5 153.2,244.0 156.4,244.4 159.5,244.9 162.7,245.4 165.9,245.8 169.1,246.3 172.3,246.7 175.5,247.1 178.7,247.5 181.9,247.8 185.1,248.2 188.3,248.5 191.5,248.8 194.7,249.1 197.9,249.4 201.1,249.7 204.3,250.0 207.5,250.3 210.7,250.6 213.9,250.9 217.1,251.1 220.3,251.3 223.6,251.5 226.8,251.7 230.0,251.9 233.2,252.2 236.4,252.4 239.6,252.7 242.8,253.0 246.0,253.3 249.2,253.6 252.4,253.9 255.6,254.2 258.8,254.5 262.0,254.8 265.2,255.1 268.5,255.4 271.7,255.6 274.9,255.9 278.1,256.1 281.3,256.4 284.5,256.6 287.7,256.8 290.9,257.1 294.1,257.3 297.3,257.5 300.6,257.7 303.8,257.9 307.0,258.1 310.2,258.3 313.4,258.5 316.6,258.7 319.8,258.9 323.0,259.2 326.3,259.4 329.5,259.6 332.7,259.8 335.9,260.0 339.1,260.3 342.3,260.5 345.5,260.7 348.7,260.9 351.9,261.1 355.2,261.3 358.4,261.5 361.6,261.8 364.8,261.9 368.0,262.1 371.2,262.3 374.4,262.6 377.6,262.8 380.9,263.1 384.1,263.3 387.3,263.7 390.5,264.0 393.7,264.3 396.9,264.6 400.1,264.9 403.3,265.3 406.5,265.5 409.7,265.7 412.9,265.8 416.1,265.9 419.3,266.0 422.6,266.1 425.8,266.3 429.0,266.5 432.2,266.8 435.3,267.5 437.4,269.7 437.4,277.3 28.9,277.3" fill="#fc6c3c"/>
<polygon points="28.9,227.7 92.3,226.9 93.6,229.7 96.1,231.6 98.9,233.1 101.9,234.3 104.9,235.3 108.0,236.3 111.0,237.1 114.1,237.9 117.3,238.5 120.4,239.2 123.5,239.8 126.7,240.4 129.8,241.0 133.0,241.5 136.1,242.0 139.3,242.5 142.5,242.9 145.6,243.4 148.8,243.9 151.9,244.3 155.1,244.8 158.3,245.3 161.4,245.8 164.6,246.2 167.8,246.7 170.9,247.1 174.1,247.5 177.3,247.9 180.5,248.3 183.6,248.6 186.8,248.9 190.0,249.2 193.2,249.5 196.4,249.8 199.5,250.1 202.7,250.4 205.9,250.7 209.1,251.0 212.3,251.3 215.5,251.5 218.7,251.7 221.9,251.9 225.1,252.1 228.2,252.3 231.4,252.5 234.6,252.7 237.8,253.0 241.0,253.3 244.2,253.6 247.4,253.9 250.5,254.2 253.7,254.5 256.9,254.8 260.1,255.1 263.3,255.4 266.5,255.7 269.6,255.9 272.8,256.2 276.0,256.4 279.2,256.7 282.4,256.9 285.6,257.1 288.8,257.4 292.0,257.6 295.2,257.8 298.4,258.0 301.5,258.2 304.7,258.4 307.9,258.6 311.1,258.8 314.3,259.0 317.5,259.2 320.7,259.4 323.9,259.6 327.1,259.9 330.3,260.1 333.5,260.3 336.6,260.5 339.8,260.7 343.0,260.9 346.2,261.2 349.4,261.4 352.6,261.6 355.8,261.8 359.0,262.0 362.2,262.2 365.4,262.3 368.6,262.5 371.7,262.8 374.9,263.0 378.1,263.2 381.3,263.5 384.5,263.8 387.7,264.2 390.8,264.5 394.0,264.8 397.2,265.1 400.4,265.5 403.6,265.8 406.8,265.9 410.0,266.0 413.2,266.1 416.4,266.2 419.5,266.3 422.7,266.4 425.9,266.6 429.1,266.8 432.2,267.5 434.2,269.7 434.2,277.3 28.9,277.3" fill="#fc643d"/>
<polygon points="28.9,227.7 91.7,226.9 92.9,229.8 95.3,231.8 98.1,233.3 101.0,234.5 104.0,235.6 107.1,236.5 110.1,237.4 113.2,238.2 116.3,238.8 119.4,239.5 122.5,240.1 125.6,240.7 128.8,241.3 131.9,241.9 135.0,242.4 138.2,242.9 141.3,243.3 144.4,243.8 147.6,244.3 150.7,244.7 153.9,245.2 157.0,245.7 160.1,246.2 163.3,246.7 166.4,247.1 169.6,247.5 172.7,247.9 175.9,248.3 179.0,248.7 182.2,249.0 185.4,249.3 188.5,249.6 191.7,249.9 194.8,250.2 198.0,250.5 201.2,250.8 204.3,251.1 207.5,251.4 210.7,251.6 213.8,251.9 217.0,252.1 220.2,252.3 223.3,252.4 226.5,252.6 229.7,252.8 232.8,253.1 236.0,253.3 239.2,253.6 242.3,253.9 245.5,254.2 248.7,254.5 251.8,254.8 255.0,255.1 258.1,255.4 261.3,255.7 264.5,256.0 267.6,256.2 270.8,256.5 274.0,256.7 277.1,257.0 280.3,257.2 283.5,257.4 286.6,257.7 289.8,257.9 293.0,258.1 296.1,258.3 299.3,258.5 302.5,258.6 305.7,258.8 308.8,259.0 312.0,259.2 315.2,259.4 318.3,259.7 321.5,259.9 324.7,260.1 327.8,260.3 331.0,260.5 334.2,260.8 337.4,261.0 340.5,261.2 343.7,261.4 346.9,261.6 350.0,261.8 353.2,262.0 356.4,262.2 359.5,262.4 362.7,262.6 365.9,262.7 369.1,262.9 372.2,263.2 375.4,263.4 378.5,263.7 381.7,264.0 384.9,264.4 388.0,264.7 391.2,265.0 394.3,265.3 397.5,265.7 400.7,266.0 403.8,266.1 407.0,266.2 410.2,266.3 413.4,266.3 416.5,266.4 419.7,266.5 422.9,266.6 426.0,266.9 429.1,267.5 431.1,269.7 431.1,277.3 28.9,277.3" fill="#fd5d3e"/>
<polygon points="28.9,227.7 91.1,227.0 92.2,229.9 94.5,232.0 97.3,233.5 100.2,234.7 103.2,235.8 106.2,236.8 109.2,237.7 112.2,238.4 115.3,239.1 118.4,239.8 121.5,240.4 124.6,241.1 127.7,241.7 130.8,242.2 133.9,242.7 137.0,243.2 140.1,243.7 143.3,244.2 146.4,244.7 149.5,245.1 152.6,245.6 155.7,246.1 158.8,246.6 162.0,247.1 165.1,247.5 168.2,248.0 171.3,248.4 174.5,248.7 177.6,249.1 180.7,249.4 183.9,249.7 187.0,250.0 190.2,250.3 193.3,250.6 196.4,250.9 199.6,251.2 202.7,251.5 205.9,251.8 209.0,252.0 212.2,252.3 215.3,252.4 218.5,252.6 221.6,252.8 224.8,253.0 227.9,253.2 231.1,253.4 234.2,253.6 237.3,253.9 240.5,254.2 243.6,254.5 246.8,254.8 249.9,255.1 253.1,255.4 256.2,255.7 259.3,256.0 262.5,256.3 265.6,256.5 268.8,256.8 271.9,257.0 275.1,257.3 278.2,257.5 281.4,257.7 284.5,257.9 287.6,258.1 290.8,258.4 293.9,258.5 297.1,258.7 300.2,258.9 303.4,259.1 306.5,259.3 309.7,259.5 312.8,259.7 316.0,259.9 319.1,260.1 322.3,260.4 325.4,260.6 328.6,260.8 331.7,261.0 334.9,261.2 338.0,261.4 341.2,261.6 344.3,261.8 347.5,262.0 350.6,262.2 353.8,262.4 356.9,262.6 360.1,262.8 363.2,262.9 366.4,263.1 369.5,263.4 372.6,263.6 375.8,263.9 378.9,264.2 382.1,264.6 385.2,264.9 388.3,265.2 391.5,265.6 394.6,265.9 397.8,266.2 400.9,266.3 404.1,266.4 407.2,266.5 410.4,266.5 413.5,266.6 416.7,266.6 419.8,266.7 423.0,266.9 426.1,267.5 428.0,269.7 428.0,277.3 28.9,277.3" fill="#fd553f"/>
<polygon points="28.9,227.7 91.1,227.7 92.2,230.6 94.5,232.7 97.3,234.2 100.2,235.4 103.2,236.5 106.2,237.4 109.2,238.4 112.2,239.1 115.3,239.8 118.4,240.5 121.5,241.1 124.6,241.8 127.7,242.4 130.8,242.9 133.9,243.4 137.0,243.9 140.1,244.4 143.3,244.8 146.4,245.3 149.5,245.8 152.6,246.3 155.7,246.8 158.8,247.2 162.0,247.7 165.1,248.2 168.2,248.6 171.3,249.0 174.5,249.4 177.6,249.7 180.7,250.1 183.9,250.4 187.0,250.7 190.2,251.0 193.3,251.3 196.4,251.6 199.6,251.9 202.7,252.2 205.9,252.4 209.0,252.7 212.2,252.9 215.3,253.1 218.5,253.3 221.6,253.5 224.8,253.6 227.9,253.8 231.1,254.1 234.2,254.3 237.3,254.6 240.5,254.9 243.6,255.2 246.8,255.5 249.9,255.8 253.1,256.0 256.2,256.3 259.3,256.6 262.5,256.9 265.6,257.2 268.8,257.5 271.9,257.7 275.1,258.0 278.2,258.2 281.4,258.4 284.5,258.6 287.6,258.8 290.8,259.0 293.9,259.2 297.1,259.4 300.2,259.6 303.4,259.8 306.5,260.0 309.7,260.1 312.8,260.4 316.0,260.6 319.1,260.8 322.3,261.0 325.4,261.2 328.6,261.5 331.7,261.7 334.9,261.9 338.0,262.1 341.2,262.3 344.3,262.5 347.5,262.7 350.6,262.9 353.8,263.1 356.9,263.3 360.1,263.4 363.2,263.6 366.4,263.8 369.5,264.0 372.6,264.3 375.8,264.6 378.9,264.9 382.1,265.2 385.2,265.6 388.3,265.9 391.5,266.2 394.6,266.6 397.8,266.8 400.9,267.0 404.1,267.1 407.2,267.1 410.4,267.2 413.5,267.2 416.7,267.3 419.8,267.4 423.0,267.6 426.1,268.1 428.0,270.4 428.0,277.3 28.9,277.3" fill="#fd4e40"/>
<polygon points="28.9,227.7 91.1,228.3 92.2,231.3 94.5,233.3 97.3,234.9 100.2,236.1 103.2,237.1 106.2,238.1 109.2,239.0 112.2,239.8 115.3,240.5 118.4,241.1 121.5,241.8 124.6,242.4 127.7,243.0 130.8,243.6 133.9,244.1 137.0,244.6 140.1,245.0 143.3,245.5 146.4,246.0 149.5,246.5 152.6,246.9 155.7,247.4 158.8,247.9 162.0,248.4 165.1,248.9 168.2,249.3 171.3,249.7 174.5,250.1 177.6,250.4 180.7,250.7 183.9,251.0 187.0,251.3 190.2,251.6 193.3,252.0 196.4,252.3 199.6,252.6 202.7,252.8 205.9,253.1 209.0,253.4 212.2,253.6 215.3,253.8 218.5,254.0 221.6,254.1 224.8,254.3 227.9,254.5 231.1,254.7 234.2,255.0 237.3,255.3 240.5,255.5 243.6,255.8 246.8,256.1 249.9,256.4 253.1,256.7 256.2,257.0 259.3,257.3 262.5,257.6 265.6,257.9 268.8,258.1 271.9,258.4 275.1,258.6 278.2,258.8 281.4,259.1 284.5,259.3 287.6,259.5 290.8,259.7 293.9,259.9 297.1,260.1 300.2,260.2 303.4,260.4 306.5,260.6 309.7,260.8 312.8,261.0 316.0,261.2 319.1,261.5 322.3,261.7 325.4,261.9 328.6,262.1 331.7,262.3 334.9,262.6 338.0,262.8 341.2,263.0 344.3,263.2 347.5,263.4 350.6,263.6 353.8,263.8 356.9,263.9 360.1,264.1 363.2,264.3 366.4,264.5 369.5,264.7 372.6,265.0 375.8,265.3 378.9,265.6 382.1,265.9 385.2,266.2 388.3,266.6 391.5,266.9 394.6,267.2 397.8,267.5 400.9,267.7 404.1,267.7 407.2,267.8 410.4,267.8 413.5,267.9 416.7,268.0 419.8,268.1 423.0,268.2 426.1,268.8 428.0,271.0 428.0,277.3 28.9,277.3" fill="#fd4840"/>
<polygon points="28.9,227.7 91.1,229.0 92.2,231.9 94.5,234.0 97.3,235.5 100.2,236.7 103.2,237.8 106.2,238.8 109.2,239.7 112.2,240.4 115.3,241.1 118.4,241.8 121.5,242.4 124.6,243.1 127.7,243.7 130.8,244.2 133.9,244.7 137.0,245.2 140.1,245.7 143.3,246.2 146.4,246.7 149.5,247.1 152.6,247.6 155.7,248.1 158.8,248.6 162.0,249.1 165.1,249.5 168.2,250.0 171.3,250.4 174.5,250.7 177.6,251.1 180.7,251.4 183.9,251.7 187.0,252.0 190.2,252.3 193.3,252.6 196.4,252.9 199.6,253.2 202.7,253.5 205.9,253.8 209.0,254.0 212.2,254.3 215.3,254.4 218.5,254.6 221.6,254.8 224.8,255.0 227.9,255.2 231.1,255.4 234.2,255.6 237.3,255.9 240.5,256.2 243.6,256.5 246.8,256.8 249.9,257.1 253.1,257.4 256.2,257.7 259.3,258.0 262.5,258.3 265.6,258.5 268.8,258.8 271.9,259.0 275.1,259.3 278.2,259.5 281.4,259.7 284.5,259.9 287.6,260.1 290.8,260.4 293.9,260.5 297.1,260.7 300.2,260.9 303.4,261.1 306.5,261.3 309.7,261.5 312.8,261.7 316.0,261.9 319.1,262.1 322.3,262.4 325.4,262.6 328.6,262.8 331.7,263.0 334.9,263.2 338.0,263.4 341.2,263.6 344.3,263.8 347.5,264.0 350.6,264.2 353.8,264.4 356.9,264.6 360.1,264.8 363.2,264.9 366.4,265.1 369.5,265.4 372.6,265.6 375.8,265.9 378.9,266.2 382.1,266.6 385.2,266.9 388.3,267.2 391.5,267.6 394.6,267.9 397.8,268.2 400.9,268.3 404.1,268.4 407.2,268.5 410.4,268.5 413.5,268.6 416.7,268.6 419.8,268.7 423.0,268.9 426.1,269.5 428.0,271.7 428.0,277.3 28.9,277.3" fill="#fd4141"/>
</g>
<path d="M91.10,227.00 C91.20,227.37 91.33,228.52 91.70,229.20 C92.07,229.88 92.45,230.42 93.30,231.10 C94.15,231.78 95.48,232.63 96.80,233.30 C98.12,233.97 99.73,234.55 101.20,235.10 C102.67,235.65 104.13,236.13 105.60,236.60 C107.07,237.07 107.93,237.38 110.00,237.90 C112.07,238.42 114.67,239.00 118.00,239.70 C121.33,240.40 124.67,241.18 130.00,242.10 C135.33,243.02 143.33,244.18 150.00,245.20 C156.67,246.22 163.33,247.35 170.00,248.20 C176.67,249.05 183.33,249.65 190.00,250.30 C196.67,250.95 203.33,251.60 210.00,252.10 C216.67,252.60 223.33,252.80 230.00,253.30 C236.67,253.80 243.33,254.50 250.00,255.10 C256.67,255.70 263.33,256.37 270.00,256.90 C276.67,257.43 283.33,257.87 290.00,258.30 C296.67,258.73 303.33,259.07 310.00,259.50 C316.67,259.93 323.33,260.45 330.00,260.90 C336.67,261.35 343.33,261.78 350.00,262.20 C356.67,262.62 363.33,262.87 370.00,263.40 C376.67,263.93 385.00,264.92 390.00,265.40 C395.00,265.88 394.33,266.03 400.00,266.30 C405.67,266.57 419.33,266.43 424.00,267.00 C428.67,267.57 427.33,269.25 428.00,269.70" fill="none" stroke="#000" stroke-opacity="0.78" stroke-width="1.05"/>
<path d="M100.70,226.10 C101.52,226.50 104.05,227.85 105.60,228.50 C107.15,229.15 107.93,229.42 110.00,230.00 C112.07,230.58 114.67,231.30 118.00,232.00 C121.33,232.70 124.67,233.45 130.00,234.20 C135.33,234.95 143.33,235.70 150.00,236.50 C156.67,237.30 163.33,238.20 170.00,239.00 C176.67,239.80 183.33,240.55 190.00,241.30 C196.67,242.05 203.33,242.82 210.00,243.50 C216.67,244.18 223.33,244.77 230.00,245.40 C236.67,246.03 243.33,246.68 250.00,247.30 C256.67,247.92 263.33,248.47 270.00,249.10 C276.67,249.73 283.33,250.52 290.00,251.10 C296.67,251.68 303.33,252.08 310.00,252.60 C316.67,253.12 323.33,253.68 330.00,254.20 C336.67,254.72 343.33,255.25 350.00,255.70 C356.67,256.15 363.33,256.45 370.00,256.90 C376.67,257.35 383.33,257.87 390.00,258.40 C396.67,258.93 403.33,259.57 410.00,260.10 C416.67,260.63 423.33,261.07 430.00,261.60 C436.67,262.13 445.00,262.90 450.00,263.30 C455.00,263.70 456.67,263.60 460.00,264.00 C463.33,264.40 467.67,265.20 470.00,265.70 C472.33,266.20 472.67,266.33 474.00,267.00 C475.33,267.67 477.33,269.25 478.00,269.70" fill="none" stroke="#000" stroke-opacity="0.78" stroke-width="1.05"/>
<path d="M183.00,225.00 C185.50,225.33 193.50,226.38 198.00,227.00 C202.50,227.62 204.67,228.05 210.00,228.70 C215.33,229.35 223.33,230.18 230.00,230.90 C236.67,231.62 243.33,232.38 250.00,233.00 C256.67,233.62 263.33,233.98 270.00,234.60 C276.67,235.22 283.33,236.03 290.00,236.70 C296.67,237.37 303.33,237.87 310.00,238.60 C316.67,239.33 323.33,240.35 330.00,241.10 C336.67,241.85 343.33,242.40 350.00,243.10 C356.67,243.80 363.33,244.50 370.00,245.30 C376.67,246.10 383.33,247.05 390.00,247.90 C396.67,248.75 403.33,249.52 410.00,250.40 C416.67,251.28 423.33,252.22 430.00,253.20 C436.67,254.18 443.33,255.28 450.00,256.30 C456.67,257.32 465.33,258.42 470.00,259.30 C474.67,260.18 476.17,260.78 478.00,261.60 C479.83,262.42 480.25,263.30 481.00,264.20 C481.75,265.10 482.17,266.08 482.50,267.00 C482.83,267.92 482.92,269.25 483.00,269.70" fill="none" stroke="#000" stroke-opacity="0.78" stroke-width="1.05"/>
<text x="338.9" y="240.0" font-size="9.5" text-anchor="middle" fill="#000" transform="rotate(5.0 338.9 240.0)" stroke="#000">1 g/L</text>
<text x="281.5" y="246.8" font-size="9.5" text-anchor="middle" fill="#000" transform="rotate(4.5 281.5 246.8)" stroke="#000">10 g/L</text>
<text x="222.2" y="263.4" font-size="9.5" text-anchor="middle" fill="#000" transform="rotate(4.0 222.2 263.4)" stroke="#000">30 g/L</text>
<text x="49.1" y="254.2" font-size="10" fill="#a50d0d" stroke="#a50d0d">Seawater</text>
<line x1="33.9" y1="225.1" x2="674.6" y2="225.1" stroke="#111" stroke-width="1.5" stroke-dasharray="4.3 2.2" stroke-dashoffset="-1.0"/>
<polyline points="33.9,227.7 60.0,227.6 91.4,227.0 96.5,226.1 100.9,225.2 103.8,223.7 106.7,220.8 108.2,219.9 117.0,219.3 121.3,216.5 131.5,215.0 147.6,213.8 180.0,213.0 220.0,211.5 240.0,210.1 260.0,207.7 300.0,204.7 340.0,201.9 375.0,200.2 400.0,199.1 450.0,197.2 480.0,195.6 530.0,193.3 570.0,191.8 617.0,190.8 640.0,189.9 674.6,187.0" fill="none" stroke="#111" stroke-width="1.2" stroke-linejoin="round"/>
<line x1="148.1" y1="213.8" x2="148.1" y2="227.6" stroke="#111" stroke-width="1.3"/>
<text x="148.0" y="197.8" font-size="9.2" text-anchor="middle" font-weight="bold" fill="#111"  stroke="#111">SIM 2</text>
<text x="148.0" y="208.2" font-size="9.2" text-anchor="middle" font-weight="normal" fill="#222"  stroke="#222">0.205 m</text>
<line x1="254.8" y1="208.3" x2="254.8" y2="246.4" stroke="#111" stroke-width="1.3"/>
<text x="254.3" y="191.0" font-size="9.2" text-anchor="middle" font-weight="bold" fill="#111"  stroke="#111">SIM 1</text>
<text x="254.3" y="201.4" font-size="9.2" text-anchor="middle" font-weight="normal" fill="#222"  stroke="#222">0.412 m</text>
<line x1="375.4" y1="200.2" x2="375.4" y2="248.6" stroke="#111" stroke-width="1.3"/>
<text x="375.0" y="184.3" font-size="9.2" text-anchor="middle" font-weight="bold" fill="#111"  stroke="#111">SIM 3</text>
<text x="375.0" y="194.7" font-size="9.2" text-anchor="middle" font-weight="normal" fill="#222"  stroke="#222">0.511 m</text>
<line x1="617.6" y1="190.8" x2="617.6" y2="267.3" stroke="#111" stroke-width="1.3"/>
<text x="617.3" y="174.4" font-size="9.2" text-anchor="middle" font-weight="bold" fill="#111"  stroke="#111">SIM 6</text>
<text x="617.3" y="184.8" font-size="9.2" text-anchor="middle" font-weight="normal" fill="#222"  stroke="#222">0.674 m</text>
<text x="420.6" y="210.2" font-size="9.5" text-anchor="start" font-weight="normal" fill="#222"  stroke="#222">30 g/L</text>
<text x="420.6" y="221.3" font-size="9.5" text-anchor="start" font-weight="normal" fill="#222"  stroke="#222">207 m</text>
<polygon points="399.0,264.6 401.3,257.9 405.6,261.8" fill="#111"/>
<line x1="434.9" y1="226.0" x2="402.9" y2="260.4" stroke="#111" stroke-width="1.7"/>
<text x="488.6" y="210.2" font-size="9.5" text-anchor="start" font-weight="normal" fill="#222"  stroke="#222">1 g/L</text>
<text x="488.6" y="221.3" font-size="9.5" text-anchor="start" font-weight="normal" fill="#222"  stroke="#222">265 m</text>
<polygon points="470.6,265.3 472.5,258.4 477.0,262.1" fill="#111"/>
<line x1="502.8" y1="225.7" x2="474.2" y2="260.9" stroke="#111" stroke-width="1.7"/>
<text x="65.2" y="212.5" font-size="9.5" text-anchor="start" font-weight="normal" fill="#111"  stroke="#111">SGD</text>
<polygon points="95.3,224.4 90.3,222.3 93.5,219.3" fill="#111"/>
<polyline points="69.9,215.1 86.5,215.1 92.4,221.3" fill="none" stroke="#111" stroke-width="1.1"/>
<polygon points="582.4,248.0 592.9,242.6 592.9,253.4" fill="#0b63c1"/>
<rect x="592.4" y="246.3" width="82.2" height="3.3" fill="#0b63c1"/>
<text x="623.6" y="263.9" font-size="9.5" text-anchor="start" font-weight="bold" fill="#0b63c1"  stroke="#0b63c1">2 ML/year</text>
<text x="527.0" y="260.1" font-size="9.5" text-anchor="start" font-weight="normal" fill="#26468c"  stroke="#26468c">Fresh water</text>
<rect x="621.8" y="201.1" width="39.3" height="37.3" rx="5" fill="#fff" fill-opacity="0.35"/>
<path d="M626.8,234.4 L626.8,205.1 A29.3,29.3 0 0 1 656.0999999999999,234.4 Z" fill="#fff" fill-opacity="0.5" stroke="#555" stroke-width="0.9"/>
<rect x="627.3" y="216.4" width="12.3" height="9" fill="#fff"/>
<line x1="626.8" y1="234.4" x2="656.0999999999999" y2="234.4" stroke="#333" stroke-width="1.2"/>
<text x="629.6" y="223.9" font-size="9.5" text-anchor="start" font-weight="normal" fill="#1a1a1a"  stroke="#1a1a1a">0°</text>
</g>
<text x="40.6" y="166.8" font-size="9.8" fill="#111" stroke="#111"><tspan font-weight="bold">B.</tspan></text>
<text x="40.6" y="178.3" font-size="9.8" fill="#111" stroke="#111">K<tspan font-size="8.6" dy="2.2">x</tspan><tspan dy="-2.2" dx="0.7">/ K</tspan><tspan font-size="8.6" dy="2.2">y</tspan><tspan dy="-2.2" dx="1.0"> = 10</tspan></text>
<text x="40.6" y="191.5" font-size="9.8" fill="#111" stroke="#111">Angle = 0°</text>
<rect x="33.9" y="154.1" width="640.7" height="113.2" fill="none" stroke="#000" stroke-opacity="0.42" stroke-width="1.3"/>
<line x1="33.9" y1="267.3" x2="674.6" y2="267.3" stroke="#1a1a1a" stroke-width="1.3"/>
<path d="M33.9,253.4h3.0 M33.9,239.3h1.6 M33.9,225.1h3.0 M33.9,210.9h1.6 M33.9,196.8h3.0 M33.9,182.6h1.6 M33.9,168.5h3.0 M48.1,267.3v-1.6 M62.4,267.3v-1.6 M76.6,267.3v-1.6 M90.9,267.3v-1.6 M105.1,267.3v-3.0 M119.3,267.3v-1.6 M133.6,267.3v-1.6 M147.8,267.3v-1.6 M162.0,267.3v-1.6 M176.3,267.3v-3.0 M190.5,267.3v-1.6 M204.8,267.3v-1.6 M219.0,267.3v-1.6 M233.2,267.3v-1.6 M247.5,267.3v-3.0 M261.7,267.3v-1.6 M275.9,267.3v-1.6 M290.2,267.3v-1.6 M304.4,267.3v-1.6 M318.7,267.3v-3.0 M332.9,267.3v-1.6 M347.1,267.3v-1.6 M361.4,267.3v-1.6 M375.6,267.3v-1.6 M389.8,267.3v-3.0 M404.1,267.3v-1.6 M418.3,267.3v-1.6 M432.6,267.3v-1.6 M446.8,267.3v-1.6 M461.0,267.3v-3.0 M475.3,267.3v-1.6 M489.5,267.3v-1.6 M503.7,267.3v-1.6 M518.0,267.3v-1.6 M532.2,267.3v-3.0 M546.5,267.3v-1.6 M560.7,267.3v-1.6 M574.9,267.3v-1.6 M589.2,267.3v-1.6 M603.4,267.3v-3.0 M617.6,267.3v-1.6 M631.9,267.3v-1.6 M646.1,267.3v-1.6 M660.4,267.3v-1.6" stroke="#333" stroke-width="0.9" fill="none"/>
<text x="31.2" y="171.9" font-size="9.6" text-anchor="end" font-weight="normal" fill="#222"  stroke="#222">40</text>
<text x="31.2" y="200.2" font-size="9.6" text-anchor="end" font-weight="normal" fill="#222"  stroke="#222">20</text>
<text x="31.2" y="228.6" font-size="9.6" text-anchor="end" font-weight="normal" fill="#222"  stroke="#222">0</text>
<text x="31.2" y="256.9" font-size="9.6" text-anchor="end" font-weight="normal" fill="#222"  stroke="#222">−20</text>
<text x="33.9" y="277.6" font-size="9.6" text-anchor="middle" font-weight="normal" fill="#222"  stroke="#222">−50</text>
<text x="105.1" y="277.6" font-size="9.6" text-anchor="middle" font-weight="normal" fill="#222"  stroke="#222">0</text>
<text x="176.3" y="277.6" font-size="9.6" text-anchor="middle" font-weight="normal" fill="#222"  stroke="#222">50</text>
<text x="247.5" y="277.6" font-size="9.6" text-anchor="middle" font-weight="normal" fill="#222"  stroke="#222">100</text>
<text x="318.7" y="277.6" font-size="9.6" text-anchor="middle" font-weight="normal" fill="#222"  stroke="#222">150</text>
<text x="389.8" y="277.6" font-size="9.6" text-anchor="middle" font-weight="normal" fill="#222"  stroke="#222">200</text>
<text x="461.0" y="277.6" font-size="9.6" text-anchor="middle" font-weight="normal" fill="#222"  stroke="#222">250</text>
<text x="532.2" y="277.6" font-size="9.6" text-anchor="middle" font-weight="normal" fill="#222"  stroke="#222">300</text>
<text x="603.4" y="277.6" font-size="9.6" text-anchor="middle" font-weight="normal" fill="#222"  stroke="#222">350</text>
<text x="674.6" y="277.6" font-size="9.6" text-anchor="middle" font-weight="normal" fill="#222"  stroke="#222">400</text>
<text x="9.4" y="210.7" font-size="9.8" text-anchor="middle" fill="#222" transform="rotate(-90 9.4 210.7)" stroke="#222">Elevation (mASL)</text>
<clipPath id="axC"><rect x="33.1" y="282.4" width="636.5" height="112.0"/></clipPath>
<clipPath id="satC"><polygon points="28.1,356.2 33.1,356.2 60.0,355.9 86.6,355.6 91.0,354.8 94.7,353.4 96.2,353.3 674.6,353.3 674.6,399.4 28.1,399.4"/></clipPath>
<rect x="33.1" y="282.4" width="636.5" height="112.0" fill="#fcfcfc"/>
<g clip-path="url(#axC)"><g clip-path="url(#satC)">
<polygon points="28.1,355.7 98.0,352.0 100.3,352.0 102.6,352.0 104.8,352.0 107.1,352.0 109.4,352.0 111.7,352.0 113.9,352.0 116.2,352.0 118.5,352.0 120.8,352.0 123.0,352.0 125.3,352.0 127.6,352.0 129.9,352.0 132.1,352.0 134.4,352.0 136.7,352.0 139.0,352.0 141.2,352.0 143.5,352.0 145.8,352.0 148.1,352.0 150.3,352.0 152.6,352.0 154.9,352.0 157.2,352.0 159.4,352.1 161.7,352.1 164.0,352.1 166.3,352.1 168.5,352.1 170.8,352.2 173.1,352.2 175.4,352.3 177.6,352.3 179.9,352.4 182.2,352.5 184.4,352.6 186.7,352.8 189.0,353.0 191.2,353.3 193.5,353.8 195.6,354.5 197.7,355.3 199.9,356.0 202.1,356.6 204.3,357.3 206.4,358.1 208.5,358.9 210.7,359.6 212.9,360.2 215.1,360.8 217.3,361.3 219.5,361.8 221.7,362.2 224.0,362.6 226.2,363.0 228.5,363.4 230.7,363.7 233.0,364.1 235.2,364.4 237.5,364.8 239.7,365.1 242.0,365.5 244.2,365.8 246.5,366.1 248.7,366.5 251.0,366.8 253.2,367.2 255.5,367.6 257.7,367.9 259.9,368.3 262.2,368.7 264.4,369.1 266.7,369.5 268.9,369.9 271.1,370.4 273.4,370.8 275.6,371.2 277.8,371.6 280.1,372.0 282.3,372.5 284.5,372.9 286.8,373.4 289.0,373.8 291.2,374.2 293.5,374.7 295.7,375.1 297.9,375.6 300.2,376.1 302.4,376.5 304.6,377.0 306.8,377.6 309.0,378.2 311.2,378.9 313.3,379.7 315.4,380.6 317.4,381.5 319.5,382.6 321.5,383.7 323.5,384.8 325.4,385.9 327.4,387.1 329.2,388.4 330.9,389.9 332.3,391.8 333.3,393.8 334.2,395.9 335.0,398.0 335.0,404.4 28.1,404.4" fill="#fafafc"/>
<polygon points="28.1,355.7 98.0,352.0 100.3,351.9 102.5,351.9 104.8,351.9 107.1,351.9 109.3,352.0 111.6,352.1 113.8,352.1 116.1,352.2 118.4,352.2 120.6,352.2 122.9,352.3 125.2,352.3 127.4,352.3 129.7,352.3 132.0,352.4 134.2,352.4 136.5,352.4 138.8,352.5 141.0,352.5 143.3,352.5 145.6,352.6 147.8,352.6 150.1,352.6 152.4,352.7 154.6,352.7 156.9,352.8 159.2,352.8 161.4,352.9 163.7,352.9 166.0,353.0 168.2,353.0 170.5,353.1 172.8,353.1 175.0,353.2 177.3,353.3 179.6,353.4 181.8,353.5 184.1,353.6 186.4,353.8 188.6,354.0 190.9,354.3 193.1,354.7 195.2,355.4 197.4,356.2 199.5,356.8 201.7,357.4 203.9,358.1 206.0,358.8 208.2,359.6 210.3,360.3 212.5,360.9 214.7,361.4 216.9,361.9 219.2,362.4 221.4,362.8 223.6,363.2 225.9,363.5 228.1,363.9 230.3,364.3 232.6,364.6 234.8,365.0 237.1,365.3 239.3,365.7 241.5,366.0 243.8,366.4 246.0,366.7 248.3,367.1 250.5,367.4 252.8,367.8 255.0,368.1 257.2,368.5 259.5,368.9 261.7,369.3 263.9,369.7 266.2,370.1 268.4,370.5 270.6,370.9 272.9,371.3 275.1,371.7 277.3,372.2 279.6,372.6 281.8,373.0 284.0,373.4 286.2,373.9 288.5,374.3 290.7,374.8 292.9,375.2 295.1,375.7 297.4,376.1 299.6,376.6 301.8,377.0 304.0,377.5 306.2,378.1 308.4,378.7 310.6,379.3 312.7,380.1 314.8,380.9 316.9,381.9 318.9,382.9 320.9,384.0 322.9,385.0 324.9,386.1 326.8,387.3 328.7,388.6 330.4,390.0 331.8,391.8 332.9,393.8 333.7,395.9 334.5,398.0 334.5,404.4 28.1,404.4" fill="#f1f5fa"/>
<polygon points="28.1,355.7 98.1,352.0 100.3,351.9 102.5,351.7 104.8,351.8 107.0,351.9 109.3,352.0 111.5,352.2 113.8,352.3 116.0,352.3 118.3,352.4 120.5,352.5 122.8,352.5 125.0,352.6 127.3,352.7 129.6,352.7 131.8,352.8 134.1,352.8 136.3,352.9 138.6,352.9 140.8,353.0 143.1,353.1 145.4,353.1 147.6,353.2 149.9,353.3 152.1,353.4 154.4,353.4 156.6,353.5 158.9,353.6 161.2,353.6 163.4,353.7 165.7,353.8 167.9,353.9 170.2,353.9 172.5,354.0 174.7,354.1 177.0,354.2 179.2,354.3 181.5,354.5 183.7,354.6 186.0,354.8 188.3,355.0 190.5,355.3 192.7,355.7 194.9,356.4 197.0,357.1 199.2,357.7 201.4,358.2 203.5,358.9 205.7,359.6 207.8,360.3 210.0,360.9 212.2,361.5 214.4,362.0 216.6,362.5 218.8,362.9 221.0,363.3 223.3,363.7 225.5,364.1 227.7,364.5 229.9,364.8 232.2,365.2 234.4,365.5 236.7,365.9 238.9,366.3 241.1,366.6 243.4,366.9 245.6,367.3 247.8,367.6 250.1,368.0 252.3,368.3 254.5,368.7 256.8,369.1 259.0,369.4 261.2,369.8 263.5,370.2 265.7,370.6 267.9,371.0 270.1,371.4 272.4,371.9 274.6,372.3 276.8,372.7 279.0,373.1 281.2,373.6 283.5,374.0 285.7,374.4 287.9,374.9 290.1,375.3 292.4,375.7 294.6,376.2 296.8,376.6 299.0,377.0 301.2,377.5 303.4,378.0 305.6,378.5 307.8,379.1 310.0,379.8 312.1,380.5 314.2,381.3 316.3,382.3 318.3,383.3 320.3,384.3 322.3,385.3 324.3,386.3 326.3,387.5 328.2,388.7 329.9,390.1 331.3,391.9 332.5,393.8 333.3,395.9 334.0,398.0 334.0,404.4 28.1,404.4" fill="#e7f0f7"/>
<polygon points="28.1,355.7 98.1,352.1 100.3,351.8 102.5,351.6 104.8,351.7 107.0,351.8 109.2,352.1 111.4,352.2 113.7,352.4 115.9,352.5 118.2,352.6 120.4,352.7 122.7,352.8 124.9,352.9 127.2,353.0 129.4,353.1 131.7,353.2 133.9,353.3 136.2,353.3 138.4,353.4 140.7,353.5 142.9,353.6 145.2,353.7 147.4,353.8 149.6,353.9 151.9,354.0 154.1,354.1 156.4,354.2 158.6,354.3 160.9,354.4 163.1,354.5 165.4,354.6 167.6,354.7 169.9,354.8 172.1,354.9 174.4,355.1 176.6,355.2 178.9,355.3 181.2,355.4 183.4,355.6 185.6,355.8 187.9,356.0 190.1,356.3 192.3,356.7 194.5,357.3 196.6,358.0 198.8,358.6 201.0,359.1 203.2,359.7 205.3,360.3 207.5,361.0 209.6,361.6 211.8,362.1 214.0,362.6 216.2,363.1 218.4,363.5 220.7,363.9 222.9,364.3 225.1,364.6 227.3,365.0 229.6,365.4 231.8,365.7 234.0,366.1 236.2,366.5 238.5,366.8 240.7,367.2 242.9,367.5 245.2,367.9 247.4,368.2 249.6,368.6 251.8,368.9 254.1,369.3 256.3,369.6 258.5,370.0 260.7,370.4 263.0,370.8 265.2,371.2 267.4,371.6 269.6,372.0 271.9,372.4 274.1,372.8 276.3,373.2 278.5,373.7 280.7,374.1 282.9,374.5 285.1,374.9 287.4,375.4 289.6,375.8 291.8,376.3 294.0,376.7 296.2,377.1 298.4,377.5 300.6,378.0 302.9,378.5 305.0,379.0 307.2,379.6 309.4,380.2 311.5,380.9 313.6,381.7 315.7,382.6 317.7,383.6 319.8,384.6 321.8,385.5 323.8,386.5 325.8,387.6 327.6,388.9 329.4,390.3 330.9,391.9 332.0,393.8 332.9,395.9 333.5,398.0 333.5,404.4 28.1,404.4" fill="#deebf5"/>
<polygon points="28.1,355.7 98.2,352.1 100.3,351.7 102.5,351.5 104.8,351.6 107.0,351.8 109.2,352.1 111.4,352.3 113.6,352.5 115.8,352.7 118.1,352.8 120.3,353.0 122.5,353.1 124.8,353.2 127.0,353.3 129.3,353.4 131.5,353.6 133.7,353.7 136.0,353.8 138.2,353.9 140.5,354.0 142.7,354.2 144.9,354.3 147.2,354.4 149.4,354.6 151.7,354.7 153.9,354.8 156.1,355.0 158.4,355.1 160.6,355.2 162.9,355.4 165.1,355.5 167.3,355.6 169.6,355.7 171.8,355.8 174.1,356.0 176.3,356.1 178.6,356.2 180.8,356.4 183.1,356.6 185.3,356.8 187.5,357.0 189.8,357.3 192.0,357.7 194.1,358.2 196.3,358.9 198.5,359.4 200.6,359.9 202.8,360.5 205.0,361.1 207.1,361.7 209.3,362.2 211.5,362.8 213.7,363.2 215.9,363.7 218.1,364.1 220.3,364.5 222.5,364.8 224.7,365.2 227.0,365.6 229.2,365.9 231.4,366.3 233.6,366.7 235.8,367.0 238.1,367.4 240.3,367.7 242.5,368.1 244.7,368.4 246.9,368.8 249.2,369.1 251.4,369.5 253.6,369.8 255.8,370.2 258.1,370.6 260.3,370.9 262.5,371.3 264.7,371.7 266.9,372.1 269.1,372.5 271.3,372.9 273.6,373.4 275.8,373.8 278.0,374.2 280.2,374.6 282.4,375.0 284.6,375.5 286.8,375.9 289.0,376.3 291.2,376.8 293.4,377.2 295.6,377.6 297.9,378.0 300.1,378.5 302.3,378.9 304.5,379.4 306.6,380.0 308.8,380.6 310.9,381.4 313.0,382.1 315.1,383.0 317.2,383.9 319.2,384.8 321.2,385.8 323.2,386.8 325.2,387.8 327.1,389.0 328.9,390.4 330.4,392.0 331.6,393.8 332.4,395.9 333.0,398.0 333.0,404.4 28.1,404.4" fill="#d4e6f3"/>
<polygon points="28.1,355.7 98.2,352.1 100.3,351.6 102.5,351.4 104.8,351.5 107.0,351.7 109.1,352.1 111.3,352.4 113.5,352.7 115.7,352.9 118.0,353.1 120.2,353.2 122.4,353.4 124.7,353.5 126.9,353.7 129.1,353.8 131.3,354.0 133.6,354.1 135.8,354.3 138.0,354.4 140.3,354.6 142.5,354.7 144.7,354.9 147.0,355.0 149.2,355.2 151.4,355.4 153.7,355.6 155.9,355.7 158.1,355.9 160.3,356.0 162.6,356.2 164.8,356.3 167.1,356.5 169.3,356.6 171.5,356.7 173.8,356.9 176.0,357.1 178.2,357.2 180.5,357.4 182.7,357.6 184.9,357.8 187.2,358.0 189.4,358.3 191.6,358.7 193.8,359.2 195.9,359.8 198.1,360.3 200.3,360.7 202.5,361.3 204.6,361.8 206.8,362.4 208.9,362.9 211.1,363.4 213.3,363.8 215.5,364.2 217.7,364.6 219.9,365.0 222.1,365.4 224.4,365.7 226.6,366.1 228.8,366.5 231.0,366.9 233.2,367.2 235.4,367.6 237.6,368.0 239.9,368.3 242.1,368.7 244.3,369.0 246.5,369.3 248.7,369.7 250.9,370.0 253.2,370.4 255.4,370.7 257.6,371.1 259.8,371.5 262.0,371.9 264.2,372.3 266.4,372.7 268.6,373.1 270.8,373.5 273.0,373.9 275.2,374.3 277.5,374.7 279.7,375.2 281.9,375.6 284.1,376.0 286.3,376.4 288.5,376.9 290.7,377.3 292.9,377.7 295.1,378.1 297.3,378.5 299.5,379.0 301.7,379.4 303.9,379.9 306.0,380.5 308.2,381.1 310.3,381.8 312.4,382.5 314.5,383.4 316.6,384.2 318.6,385.1 320.7,386.0 322.7,387.0 324.7,388.0 326.6,389.2 328.4,390.5 329.9,392.0 331.2,393.8 332.0,395.9 332.5,398.0 332.5,404.4 28.1,404.4" fill="#cbe1f0"/>
<polygon points="28.1,355.7 98.2,352.1 100.3,351.6 102.5,351.2 104.7,351.3 106.9,351.6 109.1,352.1 111.2,352.5 113.4,352.8 115.6,353.0 117.9,353.3 120.1,353.5 122.3,353.7 124.5,353.8 126.7,354.0 129.0,354.2 131.2,354.4 133.4,354.5 135.6,354.7 137.9,354.9 140.1,355.1 142.3,355.3 144.5,355.5 146.7,355.7 149.0,355.9 151.2,356.1 153.4,356.3 155.6,356.5 157.9,356.6 160.1,356.8 162.3,357.0 164.5,357.2 166.8,357.3 169.0,357.5 171.2,357.7 173.4,357.8 175.7,358.0 177.9,358.2 180.1,358.4 182.4,358.6 184.6,358.8 186.8,359.0 189.0,359.3 191.2,359.6 193.4,360.1 195.5,360.7 197.7,361.1 199.9,361.6 202.1,362.0 204.3,362.6 206.4,363.1 208.6,363.6 210.8,364.0 213.0,364.4 215.2,364.8 217.4,365.2 219.6,365.6 221.8,365.9 224.0,366.3 226.2,366.7 228.4,367.0 230.6,367.4 232.8,367.8 235.0,368.2 237.2,368.5 239.4,368.9 241.6,369.2 243.9,369.6 246.1,369.9 248.3,370.3 250.5,370.6 252.7,371.0 254.9,371.3 257.1,371.7 259.3,372.0 261.5,372.4 263.7,372.8 265.9,373.2 268.1,373.6 270.3,374.0 272.5,374.4 274.7,374.9 276.9,375.3 279.1,375.7 281.3,376.1 283.5,376.5 285.7,377.0 287.9,377.4 290.1,377.8 292.3,378.2 294.5,378.6 296.7,379.0 298.9,379.5 301.1,379.9 303.3,380.4 305.5,380.9 307.6,381.5 309.7,382.2 311.8,382.9 313.9,383.7 316.0,384.6 318.0,385.4 320.1,386.3 322.1,387.2 324.1,388.2 326.1,389.3 327.9,390.6 329.5,392.1 330.8,393.8 331.5,395.8 332.0,398.0 332.0,404.4 28.1,404.4" fill="#c2dcee"/>
<polygon points="28.1,355.7 98.3,352.1 100.4,351.5 102.5,351.1 104.7,351.2 106.9,351.6 109.0,352.1 111.2,352.6 113.4,352.9 115.5,353.2 117.8,353.5 120.0,353.7 122.2,353.9 124.4,354.1 126.6,354.3 128.8,354.6 131.0,354.8 133.3,355.0 135.5,355.2 137.7,355.4 139.9,355.6 142.1,355.8 144.3,356.0 146.5,356.3 148.7,356.5 150.9,356.7 153.2,357.0 155.4,357.2 157.6,357.4 159.8,357.6 162.0,357.8 164.2,358.0 166.5,358.2 168.7,358.4 170.9,358.6 173.1,358.8 175.3,358.9 177.6,359.1 179.8,359.3 182.0,359.5 184.2,359.8 186.4,360.0 188.7,360.3 190.9,360.6 193.0,361.1 195.2,361.6 197.4,362.0 199.6,362.4 201.7,362.8 203.9,363.3 206.1,363.8 208.2,364.2 210.4,364.7 212.6,365.0 214.8,365.4 217.0,365.8 219.2,366.1 221.4,366.5 223.6,366.8 225.8,367.2 228.0,367.6 230.2,368.0 232.4,368.3 234.6,368.7 236.8,369.1 239.0,369.5 241.2,369.8 243.4,370.2 245.6,370.5 247.8,370.8 250.0,371.2 252.2,371.5 254.4,371.9 256.6,372.2 258.8,372.6 261.0,373.0 263.2,373.4 265.4,373.8 267.6,374.2 269.8,374.6 272.0,375.0 274.2,375.4 276.4,375.8 278.6,376.2 280.8,376.7 283.0,377.1 285.2,377.5 287.4,377.9 289.6,378.3 291.7,378.7 293.9,379.1 296.1,379.5 298.3,379.9 300.5,380.4 302.7,380.8 304.9,381.4 307.0,382.0 309.1,382.6 311.3,383.3 313.3,384.1 315.4,384.9 317.5,385.7 319.5,386.5 321.6,387.4 323.6,388.4 325.5,389.5 327.3,390.7 329.0,392.2 330.4,393.8 331.1,395.8 331.5,398.0 331.5,404.4 28.1,404.4" fill="#b8d7ec"/>
<polygon points="28.1,355.7 98.3,352.1 100.4,351.4 102.5,351.0 104.7,351.1 106.9,351.5 109.0,352.2 111.1,352.6 113.3,353.1 115.5,353.4 117.7,353.7 119.9,354.0 122.1,354.2 124.3,354.5 126.5,354.7 128.7,354.9 130.9,355.1 133.1,355.4 135.3,355.6 137.5,355.9 139.7,356.1 141.9,356.4 144.1,356.6 146.3,356.9 148.5,357.1 150.7,357.4 152.9,357.7 155.1,357.9 157.3,358.2 159.5,358.4 161.7,358.6 164.0,358.8 166.2,359.1 168.4,359.3 170.6,359.5 172.8,359.7 175.0,359.9 177.2,360.1 179.4,360.3 181.7,360.5 183.9,360.8 186.1,361.0 188.3,361.3 190.5,361.6 192.7,362.0 194.8,362.5 197.0,362.9 199.2,363.2 201.4,363.6 203.5,364.1 205.7,364.5 207.9,364.9 210.1,365.3 212.3,365.7 214.4,366.0 216.6,366.3 218.8,366.7 221.0,367.0 223.2,367.4 225.4,367.8 227.6,368.1 229.8,368.5 232.0,368.9 234.2,369.3 236.4,369.7 238.6,370.0 240.8,370.4 243.0,370.7 245.2,371.1 247.4,371.4 249.6,371.7 251.8,372.1 254.0,372.4 256.2,372.8 258.4,373.1 260.6,373.5 262.8,373.9 264.9,374.3 267.1,374.7 269.3,375.1 271.5,375.5 273.7,375.9 275.9,376.4 278.1,376.8 280.2,377.2 282.4,377.6 284.6,378.0 286.8,378.4 289.0,378.8 291.2,379.3 293.4,379.7 295.6,380.0 297.8,380.4 299.9,380.8 302.1,381.3 304.3,381.8 306.4,382.4 308.6,383.0 310.7,383.7 312.8,384.5 314.8,385.2 316.9,386.0 319.0,386.8 321.0,387.6 323.0,388.5 325.0,389.6 326.8,390.8 328.5,392.2 330.0,393.8 330.7,395.8 331.0,398.0 331.0,404.4 28.1,404.4" fill="#afd2e9"/>
<polygon points="28.1,355.7 98.4,352.1 100.4,351.3 102.5,350.8 104.7,351.0 106.9,351.5 108.9,352.2 111.0,352.7 113.2,353.2 115.4,353.6 117.5,353.9 119.7,354.2 121.9,354.5 124.1,354.8 126.3,355.0 128.5,355.3 130.7,355.5 132.9,355.8 135.1,356.1 137.3,356.3 139.5,356.6 141.7,356.9 143.9,357.2 146.1,357.5 148.3,357.8 150.5,358.1 152.7,358.4 154.9,358.7 157.1,358.9 159.3,359.2 161.5,359.4 163.7,359.7 165.9,359.9 168.1,360.1 170.3,360.4 172.5,360.6 174.7,360.8 176.9,361.0 179.1,361.3 181.3,361.5 183.5,361.8 185.7,362.0 187.9,362.3 190.1,362.6 192.3,363.0 194.5,363.4 196.6,363.7 198.8,364.1 201.0,364.4 203.2,364.8 205.3,365.2 207.5,365.6 209.7,365.9 211.9,366.3 214.1,366.6 216.3,366.9 218.5,367.2 220.7,367.6 222.9,367.9 225.0,368.3 227.2,368.7 229.4,369.1 231.6,369.5 233.8,369.9 236.0,370.2 238.2,370.6 240.4,371.0 242.5,371.3 244.7,371.6 246.9,372.0 249.1,372.3 251.3,372.6 253.5,373.0 255.7,373.3 257.9,373.7 260.1,374.1 262.3,374.5 264.4,374.8 266.6,375.2 268.8,375.7 271.0,376.1 273.2,376.5 275.4,376.9 277.5,377.3 279.7,377.7 281.9,378.1 284.1,378.5 286.3,379.0 288.4,379.4 290.6,379.8 292.8,380.2 295.0,380.5 297.2,380.9 299.4,381.3 301.5,381.8 303.7,382.3 305.8,382.8 308.0,383.5 310.1,384.1 312.2,384.8 314.3,385.5 316.3,386.3 318.4,387.0 320.5,387.8 322.5,388.7 324.5,389.8 326.3,390.9 328.1,392.3 329.6,393.9 330.2,395.8 330.5,398.0 330.5,404.4 28.1,404.4" fill="#a6cde7"/>
<polygon points="28.1,355.7 98.4,352.2 100.4,351.3 102.5,350.7 104.7,350.9 106.8,351.4 108.9,352.2 111.0,352.8 113.1,353.3 115.3,353.8 117.4,354.1 119.6,354.5 121.8,354.8 124.0,355.1 126.2,355.4 128.4,355.7 130.6,355.9 132.8,356.2 134.9,356.5 137.1,356.8 139.3,357.1 141.5,357.4 143.7,357.8 145.9,358.1 148.1,358.4 150.2,358.8 152.4,359.1 154.6,359.4 156.8,359.7 159.0,360.0 161.2,360.3 163.4,360.5 165.6,360.8 167.8,361.0 170.0,361.3 172.2,361.5 174.4,361.8 176.6,362.0 178.8,362.3 181.0,362.5 183.1,362.8 185.3,363.0 187.5,363.3 189.7,363.6 191.9,363.9 194.1,364.3 196.3,364.6 198.5,364.9 200.6,365.2 202.8,365.6 205.0,365.9 207.2,366.2 209.4,366.5 211.5,366.9 213.7,367.2 215.9,367.5 218.1,367.8 220.3,368.1 222.5,368.5 224.7,368.9 226.8,369.2 229.0,369.6 231.2,370.0 233.4,370.4 235.6,370.8 237.7,371.2 239.9,371.5 242.1,371.9 244.3,372.2 246.5,372.5 248.7,372.9 250.9,373.2 253.0,373.5 255.2,373.9 257.4,374.2 259.6,374.6 261.8,375.0 264.0,375.4 266.1,375.8 268.3,376.2 270.5,376.6 272.7,377.0 274.8,377.4 277.0,377.8 279.2,378.3 281.4,378.7 283.5,379.1 285.7,379.5 287.9,379.9 290.1,380.3 292.2,380.7 294.4,381.0 296.6,381.4 298.8,381.8 300.9,382.2 303.1,382.7 305.2,383.3 307.4,383.9 309.5,384.5 311.6,385.2 313.7,385.9 315.8,386.6 317.9,387.3 319.9,388.0 322.0,388.9 323.9,389.9 325.8,391.1 327.6,392.3 329.1,393.9 329.8,395.8 330.0,398.0 330.0,404.4 28.1,404.4" fill="#9cc8e5"/>
<polygon points="28.1,355.7 98.5,352.2 100.4,351.2 102.5,350.6 104.7,350.8 106.8,351.3 108.8,352.2 110.9,352.9 113.0,353.5 115.2,353.9 117.3,354.3 119.5,354.7 121.7,355.0 123.9,355.4 126.0,355.7 128.2,356.0 130.4,356.3 132.6,356.7 134.8,357.0 137.0,357.3 139.1,357.6 141.3,358.0 143.5,358.4 145.7,358.7 147.8,359.1 150.0,359.4 152.2,359.8 154.4,360.1 156.5,360.5 158.7,360.8 160.9,361.1 163.1,361.4 165.3,361.6 167.5,361.9 169.7,362.2 171.8,362.5 174.0,362.7 176.2,363.0 178.4,363.2 180.6,363.5 182.8,363.8 185.0,364.0 187.2,364.3 189.4,364.6 191.5,364.8 193.7,365.2 195.9,365.4 198.1,365.7 200.3,366.0 202.5,366.3 204.6,366.6 206.8,366.9 209.0,367.2 211.2,367.5 213.4,367.7 215.6,368.0 217.8,368.4 219.9,368.7 222.1,369.0 224.3,369.4 226.5,369.8 228.6,370.2 230.8,370.6 233.0,371.0 235.1,371.4 237.3,371.7 239.5,372.1 241.7,372.4 243.9,372.8 246.0,373.1 248.2,373.4 250.4,373.8 252.6,374.1 254.8,374.4 256.9,374.8 259.1,375.2 261.3,375.5 263.5,375.9 265.6,376.3 267.8,376.7 270.0,377.1 272.1,377.6 274.3,378.0 276.5,378.4 278.6,378.8 280.8,379.2 283.0,379.6 285.1,380.0 287.3,380.4 289.5,380.8 291.7,381.2 293.8,381.5 296.0,381.9 298.2,382.3 300.4,382.7 302.5,383.2 304.6,383.7 306.8,384.3 308.9,384.9 311.0,385.6 313.1,386.2 315.2,386.9 317.3,387.5 319.4,388.3 321.4,389.1 323.4,390.1 325.3,391.2 327.1,392.4 328.7,393.9 329.4,395.8 329.5,398.0 329.5,404.4 28.1,404.4" fill="#93c3e2"/>
<polygon points="28.1,355.7 98.5,352.2 100.4,351.1 102.5,350.4 104.7,350.7 106.8,351.3 108.8,352.2 110.8,353.0 112.9,353.6 115.1,354.1 117.2,354.6 119.4,355.0 121.6,355.3 123.7,355.7 125.9,356.0 128.1,356.4 130.3,356.7 132.4,357.1 134.6,357.4 136.8,357.8 138.9,358.2 141.1,358.5 143.3,358.9 145.4,359.3 147.6,359.7 149.8,360.1 151.9,360.5 154.1,360.9 156.3,361.2 158.4,361.6 160.6,361.9 162.8,362.2 165.0,362.5 167.2,362.8 169.3,363.1 171.5,363.4 173.7,363.7 175.9,363.9 178.1,364.2 180.3,364.5 182.4,364.8 184.6,365.0 186.8,365.3 189.0,365.5 191.2,365.8 193.4,366.0 195.5,366.3 197.7,366.6 199.9,366.8 202.1,367.1 204.3,367.3 206.5,367.6 208.7,367.8 210.8,368.1 213.0,368.3 215.2,368.6 217.4,368.9 219.6,369.2 221.7,369.6 223.9,370.0 226.1,370.4 228.2,370.7 230.4,371.1 232.6,371.5 234.7,371.9 236.9,372.3 239.1,372.7 241.2,373.0 243.4,373.4 245.6,373.7 247.8,374.0 249.9,374.3 252.1,374.7 254.3,375.0 256.5,375.3 258.6,375.7 260.8,376.1 263.0,376.5 265.1,376.9 267.3,377.3 269.5,377.7 271.6,378.1 273.8,378.5 275.9,378.9 278.1,379.3 280.3,379.7 282.4,380.1 284.6,380.5 286.8,380.9 288.9,381.3 291.1,381.7 293.3,382.0 295.4,382.4 297.6,382.7 299.8,383.2 301.9,383.6 304.0,384.2 306.2,384.7 308.3,385.3 310.4,385.9 312.5,386.5 314.6,387.1 316.7,387.8 318.8,388.5 320.9,389.3 322.9,390.2 324.8,391.3 326.7,392.4 328.3,393.9 328.9,395.8 329.0,398.0 329.0,404.4 28.1,404.4" fill="#89bee0"/>
<polygon points="28.1,355.7 98.5,352.3 100.3,351.3 102.4,350.7 104.5,351.0 106.6,351.6 108.6,352.6 110.7,353.3 112.8,353.9 114.9,354.5 117.1,354.9 119.2,355.3 121.4,355.7 123.6,356.1 125.7,356.4 127.9,356.8 130.1,357.1 132.2,357.5 134.4,357.8 136.6,358.2 138.7,358.6 140.9,358.9 143.1,359.3 145.2,359.7 147.4,360.1 149.6,360.5 151.7,360.9 153.9,361.3 156.1,361.6 158.2,362.0 160.4,362.3 162.6,362.6 164.8,362.9 166.9,363.2 169.1,363.5 171.3,363.8 173.5,364.1 175.7,364.3 177.8,364.6 180.0,364.9 182.2,365.2 184.4,365.4 186.6,365.7 188.7,365.9 190.9,366.2 193.1,366.5 195.3,366.7 197.5,367.0 199.7,367.2 201.8,367.5 204.0,367.7 206.2,368.0 208.4,368.2 210.6,368.5 212.8,368.7 214.9,369.0 217.1,369.3 219.3,369.7 221.5,370.0 223.6,370.4 225.8,370.8 227.9,371.1 230.1,371.5 232.3,371.9 234.4,372.3 236.6,372.7 238.8,373.0 240.9,373.4 243.1,373.7 245.3,374.0 247.5,374.4 249.6,374.7 251.8,375.0 254.0,375.3 256.2,375.7 258.3,376.0 260.5,376.4 262.7,376.8 264.8,377.2 267.0,377.6 269.1,378.0 271.3,378.4 273.5,378.8 275.6,379.2 277.8,379.6 279.9,380.0 282.1,380.4 284.3,380.8 286.4,381.2 288.6,381.6 290.8,381.9 292.9,382.3 295.1,382.6 297.3,383.0 299.4,383.4 301.6,383.9 303.7,384.4 305.8,384.9 308.0,385.5 310.1,386.1 312.2,386.7 314.3,387.3 316.4,387.9 318.5,388.6 320.5,389.4 322.5,390.3 324.5,391.4 326.3,392.5 328.0,393.9 328.7,395.8 328.8,398.0 328.8,404.4 28.1,404.4" fill="#80b9dd"/>
<polygon points="28.1,355.7 98.5,352.3 100.3,351.5 102.3,351.0 104.4,351.3 106.5,352.0 108.5,352.9 110.5,353.6 112.7,354.3 114.8,354.8 116.9,355.3 119.1,355.7 121.2,356.1 123.4,356.5 125.6,356.8 127.7,357.2 129.9,357.5 132.1,357.9 134.2,358.2 136.4,358.6 138.6,359.0 140.7,359.3 142.9,359.7 145.0,360.1 147.2,360.5 149.4,360.9 151.5,361.3 153.7,361.6 155.9,362.0 158.0,362.4 160.2,362.7 162.4,363.0 164.5,363.3 166.7,363.6 168.9,363.9 171.1,364.2 173.2,364.4 175.4,364.7 177.6,365.0 179.8,365.3 182.0,365.6 184.1,365.8 186.3,366.1 188.5,366.3 190.7,366.6 192.9,366.9 195.0,367.1 197.2,367.4 199.4,367.7 201.6,367.9 203.8,368.2 205.9,368.4 208.1,368.7 210.3,368.9 212.5,369.2 214.7,369.5 216.8,369.7 219.0,370.1 221.2,370.4 223.3,370.8 225.5,371.2 227.7,371.5 229.8,371.9 232.0,372.3 234.1,372.7 236.3,373.1 238.5,373.4 240.6,373.8 242.8,374.1 245.0,374.4 247.2,374.7 249.3,375.0 251.5,375.4 253.7,375.7 255.8,376.0 258.0,376.4 260.2,376.7 262.3,377.1 264.5,377.5 266.7,377.9 268.8,378.3 271.0,378.7 273.1,379.1 275.3,379.5 277.5,379.9 279.6,380.3 281.8,380.7 283.9,381.1 286.1,381.5 288.3,381.8 290.4,382.2 292.6,382.6 294.8,382.9 296.9,383.2 299.1,383.6 301.2,384.1 303.4,384.6 305.5,385.2 307.6,385.7 309.7,386.3 311.8,386.9 314.0,387.5 316.1,388.1 318.2,388.7 320.2,389.5 322.2,390.4 324.1,391.4 326.0,392.5 327.7,393.9 328.4,395.8 328.5,398.0 328.5,404.4 28.1,404.4" fill="#7ab7d9"/>
<polygon points="28.1,355.7 98.5,352.4 100.2,351.7 102.1,351.3 104.3,351.7 106.4,352.3 108.3,353.3 110.4,354.0 112.5,354.6 114.6,355.2 116.8,355.7 118.9,356.1 121.0,356.5 123.2,356.9 125.4,357.2 127.5,357.6 129.7,357.9 131.9,358.3 134.0,358.6 136.2,359.0 138.4,359.4 140.5,359.7 142.7,360.1 144.8,360.5 147.0,360.9 149.2,361.3 151.3,361.7 153.5,362.0 155.6,362.4 157.8,362.7 160.0,363.1 162.1,363.4 164.3,363.7 166.5,364.0 168.7,364.3 170.8,364.6 173.0,364.8 175.2,365.1 177.4,365.4 179.5,365.7 181.7,366.0 183.9,366.2 186.1,366.5 188.2,366.8 190.4,367.0 192.6,367.3 194.8,367.5 197.0,367.8 199.1,368.1 201.3,368.3 203.5,368.6 205.7,368.8 207.9,369.1 210.0,369.3 212.2,369.6 214.4,369.9 216.6,370.2 218.7,370.5 220.9,370.8 223.1,371.2 225.2,371.6 227.4,371.9 229.5,372.3 231.7,372.7 233.9,373.1 236.0,373.4 238.2,373.8 240.4,374.1 242.5,374.4 244.7,374.8 246.9,375.1 249.0,375.4 251.2,375.7 253.4,376.0 255.5,376.4 257.7,376.7 259.9,377.1 262.0,377.5 264.2,377.8 266.3,378.2 268.5,378.6 270.7,379.0 272.8,379.4 275.0,379.8 277.1,380.2 279.3,380.6 281.4,381.0 283.6,381.4 285.8,381.7 287.9,382.1 290.1,382.5 292.3,382.8 294.4,383.1 296.6,383.5 298.7,383.9 300.9,384.3 303.0,384.8 305.2,385.4 307.3,385.9 309.4,386.5 311.5,387.0 313.6,387.6 315.7,388.2 317.8,388.9 319.9,389.6 321.9,390.5 323.8,391.5 325.7,392.6 327.4,394.0 328.1,395.9 328.3,398.0 328.3,404.4 28.1,404.4" fill="#7ab8d1"/>
<polygon points="28.1,355.7 98.5,352.5 100.1,351.9 102.0,351.6 104.1,352.0 106.2,352.6 108.2,353.6 110.3,354.3 112.4,354.9 114.5,355.5 116.6,356.0 118.7,356.5 120.9,356.9 123.0,357.3 125.2,357.6 127.4,358.0 129.5,358.3 131.7,358.7 133.8,359.0 136.0,359.4 138.2,359.8 140.3,360.1 142.5,360.5 144.6,360.9 146.8,361.3 149.0,361.7 151.1,362.1 153.3,362.4 155.4,362.8 157.6,363.1 159.8,363.5 161.9,363.8 164.1,364.1 166.3,364.4 168.4,364.7 170.6,365.0 172.8,365.2 175.0,365.5 177.1,365.8 179.3,366.1 181.5,366.4 183.7,366.6 185.8,366.9 188.0,367.2 190.2,367.4 192.4,367.7 194.5,368.0 196.7,368.2 198.9,368.5 201.1,368.7 203.2,369.0 205.4,369.2 207.6,369.5 209.8,369.7 211.9,370.0 214.1,370.3 216.3,370.6 218.4,370.9 220.6,371.2 222.8,371.6 224.9,372.0 227.1,372.3 229.2,372.7 231.4,373.1 233.6,373.5 235.7,373.8 237.9,374.2 240.1,374.5 242.2,374.8 244.4,375.1 246.6,375.4 248.7,375.7 250.9,376.1 253.1,376.4 255.2,376.7 257.4,377.1 259.6,377.4 261.7,377.8 263.9,378.2 266.0,378.5 268.2,378.9 270.3,379.3 272.5,379.7 274.7,380.1 276.8,380.5 279.0,380.9 281.1,381.2 283.3,381.6 285.4,382.0 287.6,382.4 289.8,382.7 291.9,383.1 294.1,383.4 296.3,383.7 298.4,384.1 300.6,384.6 302.7,385.1 304.8,385.6 306.9,386.1 309.0,386.7 311.2,387.2 313.3,387.8 315.4,388.4 317.5,389.0 319.5,389.7 321.5,390.6 323.5,391.6 325.4,392.6 327.1,394.0 327.8,395.9 328.1,398.0 328.1,404.4 28.1,404.4" fill="#7bbaca"/>
<polygon points="28.1,355.7 98.5,352.5 100.0,352.1 101.9,351.9 104.0,352.3 106.1,353.0 108.0,353.9 110.1,354.6 112.2,355.3 114.3,355.9 116.4,356.4 118.6,356.9 120.7,357.3 122.9,357.7 125.0,358.0 127.2,358.4 129.3,358.7 131.5,359.1 133.7,359.4 135.8,359.8 138.0,360.2 140.1,360.5 142.3,360.9 144.4,361.3 146.6,361.7 148.7,362.1 150.9,362.5 153.1,362.8 155.2,363.2 157.4,363.5 159.5,363.9 161.7,364.2 163.9,364.5 166.0,364.8 168.2,365.1 170.4,365.4 172.6,365.6 174.7,365.9 176.9,366.2 179.1,366.5 181.2,366.8 183.4,367.0 185.6,367.3 187.8,367.6 189.9,367.8 192.1,368.1 194.3,368.4 196.4,368.6 198.6,368.9 200.8,369.2 203.0,369.4 205.1,369.7 207.3,369.9 209.5,370.2 211.7,370.4 213.8,370.7 216.0,371.0 218.2,371.3 220.3,371.6 222.5,372.0 224.6,372.4 226.8,372.7 229.0,373.1 231.1,373.5 233.3,373.8 235.4,374.2 237.6,374.5 239.8,374.9 241.9,375.2 244.1,375.5 246.3,375.8 248.4,376.1 250.6,376.4 252.8,376.7 254.9,377.1 257.1,377.4 259.2,377.7 261.4,378.1 263.6,378.5 265.7,378.8 267.9,379.2 270.0,379.6 272.2,380.0 274.3,380.4 276.5,380.8 278.6,381.2 280.8,381.5 282.9,381.9 285.1,382.3 287.3,382.6 289.4,383.0 291.6,383.3 293.8,383.6 295.9,384.0 298.1,384.4 300.2,384.8 302.3,385.3 304.5,385.8 306.6,386.3 308.7,386.9 310.8,387.4 312.9,388.0 315.0,388.5 317.1,389.2 319.2,389.9 321.2,390.7 323.2,391.7 325.1,392.7 326.8,394.0 327.6,395.9 327.8,398.0 327.8,404.4 28.1,404.4" fill="#7bbbc2"/>
<polygon points="28.1,355.7 98.5,352.6 99.9,352.3 101.8,352.2 103.9,352.6 105.9,353.3 107.9,354.3 110.0,355.0 112.1,355.6 114.2,356.2 116.3,356.8 118.4,357.3 120.5,357.7 122.7,358.1 124.8,358.4 127.0,358.8 129.1,359.1 131.3,359.5 133.5,359.8 135.6,360.2 137.8,360.6 139.9,360.9 142.1,361.3 144.2,361.7 146.4,362.1 148.5,362.5 150.7,362.8 152.9,363.2 155.0,363.6 157.2,363.9 159.3,364.3 161.5,364.6 163.7,364.9 165.8,365.2 168.0,365.5 170.2,365.8 172.3,366.0 174.5,366.3 176.7,366.6 178.8,366.9 181.0,367.2 183.2,367.4 185.3,367.7 187.5,368.0 189.7,368.2 191.8,368.5 194.0,368.8 196.2,369.0 198.4,369.3 200.5,369.6 202.7,369.8 204.9,370.1 207.0,370.3 209.2,370.6 211.4,370.9 213.6,371.1 215.7,371.4 217.9,371.7 220.0,372.1 222.2,372.4 224.4,372.8 226.5,373.1 228.7,373.5 230.8,373.9 233.0,374.2 235.1,374.6 237.3,374.9 239.5,375.2 241.6,375.5 243.8,375.8 246.0,376.2 248.1,376.5 250.3,376.8 252.4,377.1 254.6,377.4 256.8,377.7 258.9,378.1 261.1,378.4 263.2,378.8 265.4,379.2 267.5,379.5 269.7,379.9 271.9,380.3 274.0,380.7 276.2,381.1 278.3,381.4 280.5,381.8 282.6,382.2 284.8,382.6 286.9,382.9 289.1,383.3 291.3,383.6 293.4,383.9 295.6,384.2 297.7,384.6 299.9,385.0 302.0,385.5 304.1,386.0 306.2,386.5 308.4,387.0 310.5,387.6 312.6,388.1 314.7,388.7 316.8,389.3 318.9,390.0 320.9,390.8 322.8,391.8 324.8,392.7 326.5,394.1 327.3,395.9 327.6,398.0 327.6,404.4 28.1,404.4" fill="#7bbdbb"/>
<polygon points="28.1,355.7 98.5,352.7 99.9,352.4 101.7,352.5 103.7,353.0 105.8,353.7 107.8,354.6 109.8,355.3 111.9,356.0 114.0,356.5 116.1,357.1 118.2,357.6 120.4,358.1 122.5,358.5 124.7,358.8 126.8,359.2 129.0,359.6 131.1,359.9 133.3,360.2 135.4,360.6 137.6,361.0 139.7,361.3 141.9,361.7 144.0,362.1 146.2,362.5 148.3,362.9 150.5,363.2 152.6,363.6 154.8,364.0 157.0,364.3 159.1,364.6 161.3,365.0 163.4,365.3 165.6,365.6 167.8,365.9 169.9,366.2 172.1,366.4 174.3,366.7 176.4,367.0 178.6,367.3 180.8,367.6 182.9,367.8 185.1,368.1 187.3,368.4 189.4,368.6 191.6,368.9 193.8,369.2 195.9,369.5 198.1,369.7 200.3,370.0 202.4,370.3 204.6,370.5 206.8,370.8 208.9,371.0 211.1,371.3 213.3,371.6 215.4,371.8 217.6,372.1 219.8,372.5 221.9,372.8 224.1,373.2 226.2,373.5 228.4,373.9 230.5,374.2 232.7,374.6 234.8,374.9 237.0,375.3 239.2,375.6 241.3,375.9 243.5,376.2 245.7,376.5 247.8,376.8 250.0,377.1 252.1,377.4 254.3,377.7 256.5,378.1 258.6,378.4 260.8,378.8 262.9,379.1 265.1,379.5 267.2,379.8 269.4,380.2 271.5,380.6 273.7,381.0 275.8,381.4 278.0,381.7 280.1,382.1 282.3,382.5 284.4,382.8 286.6,383.2 288.8,383.5 290.9,383.8 293.1,384.1 295.2,384.5 297.4,384.8 299.5,385.3 301.7,385.7 303.8,386.2 305.9,386.7 308.0,387.2 310.1,387.8 312.3,388.3 314.4,388.8 316.5,389.4 318.5,390.1 320.5,390.9 322.5,391.8 324.4,392.8 326.2,394.1 327.0,395.9 327.4,398.0 327.4,404.4 28.1,404.4" fill="#7cbeb3"/>
<polygon points="28.1,355.7 98.5,352.8 99.8,352.6 101.6,352.8 103.6,353.3 105.6,354.0 107.6,354.9 109.7,355.7 111.8,356.3 113.9,356.9 115.9,357.5 118.0,358.0 120.2,358.5 122.3,358.9 124.5,359.2 126.6,359.6 128.8,360.0 130.9,360.3 133.1,360.6 135.2,361.0 137.4,361.4 139.5,361.7 141.7,362.1 143.8,362.5 146.0,362.9 148.1,363.2 150.3,363.6 152.4,364.0 154.6,364.4 156.7,364.7 158.9,365.0 161.1,365.4 163.2,365.7 165.4,366.0 167.5,366.3 169.7,366.6 171.9,366.8 174.0,367.1 176.2,367.4 178.4,367.7 180.5,368.0 182.7,368.2 184.9,368.5 187.0,368.8 189.2,369.1 191.3,369.3 193.5,369.6 195.7,369.9 197.8,370.1 200.0,370.4 202.2,370.7 204.3,370.9 206.5,371.2 208.7,371.4 210.8,371.7 213.0,372.0 215.2,372.3 217.3,372.6 219.5,372.9 221.6,373.2 223.8,373.6 225.9,373.9 228.1,374.3 230.2,374.6 232.4,375.0 234.6,375.3 236.7,375.6 238.9,376.0 241.0,376.3 243.2,376.6 245.4,376.9 247.5,377.2 249.7,377.5 251.8,377.8 254.0,378.1 256.2,378.4 258.3,378.7 260.5,379.1 262.6,379.4 264.8,379.8 266.9,380.2 269.1,380.5 271.2,380.9 273.4,381.3 275.5,381.6 277.7,382.0 279.8,382.4 282.0,382.7 284.1,383.1 286.3,383.5 288.4,383.8 290.6,384.1 292.7,384.4 294.9,384.7 297.1,385.1 299.2,385.5 301.3,385.9 303.4,386.4 305.6,386.9 307.7,387.4 309.8,387.9 311.9,388.4 314.0,389.0 316.1,389.6 318.2,390.2 320.2,391.0 322.2,391.9 324.1,392.8 325.9,394.1 326.7,395.9 327.2,398.0 327.2,404.4 28.1,404.4" fill="#7cc0ab"/>
<polygon points="28.1,355.7 98.5,352.8 99.7,352.8 101.4,353.0 103.5,353.6 105.5,354.3 107.5,355.3 109.5,356.0 111.6,356.6 113.7,357.2 115.8,357.9 117.9,358.4 120.0,358.9 122.1,359.3 124.3,359.6 126.4,360.0 128.6,360.4 130.7,360.7 132.9,361.0 135.0,361.4 137.2,361.8 139.3,362.1 141.5,362.5 143.6,362.9 145.8,363.3 147.9,363.6 150.1,364.0 152.2,364.4 154.4,364.8 156.5,365.1 158.7,365.4 160.8,365.8 163.0,366.1 165.2,366.4 167.3,366.7 169.5,367.0 171.6,367.2 173.8,367.5 176.0,367.8 178.1,368.1 180.3,368.4 182.4,368.6 184.6,368.9 186.8,369.2 188.9,369.5 191.1,369.7 193.3,370.0 195.4,370.3 197.6,370.6 199.7,370.8 201.9,371.1 204.1,371.3 206.2,371.6 208.4,371.9 210.6,372.1 212.7,372.4 214.9,372.7 217.0,373.0 219.2,373.3 221.4,373.6 223.5,374.0 225.7,374.3 227.8,374.7 230.0,375.0 232.1,375.4 234.3,375.7 236.4,376.0 238.6,376.3 240.7,376.6 242.9,376.9 245.1,377.2 247.2,377.5 249.4,377.8 251.5,378.1 253.7,378.4 255.8,378.7 258.0,379.1 260.1,379.4 262.3,379.7 264.4,380.1 266.6,380.5 268.7,380.8 270.9,381.2 273.0,381.6 275.2,381.9 277.3,382.3 279.5,382.7 281.6,383.0 283.8,383.4 285.9,383.7 288.1,384.0 290.2,384.4 292.4,384.6 294.6,385.0 296.7,385.3 298.9,385.7 301.0,386.2 303.1,386.6 305.2,387.1 307.3,387.6 309.5,388.1 311.6,388.6 313.7,389.1 315.8,389.7 317.9,390.3 319.9,391.1 321.9,392.0 323.8,392.9 325.5,394.2 326.4,396.0 326.9,398.0 326.9,404.4 28.1,404.4" fill="#7cc1a4"/>
<polygon points="28.1,355.7 98.5,352.9 99.6,353.0 101.3,353.3 103.3,353.9 105.4,354.7 107.3,355.6 109.4,356.3 111.5,357.0 113.6,357.6 115.6,358.2 117.7,358.8 119.8,359.3 122.0,359.7 124.1,360.0 126.3,360.4 128.4,360.8 130.6,361.1 132.7,361.4 134.9,361.8 137.0,362.2 139.2,362.5 141.3,362.9 143.4,363.3 145.6,363.7 147.7,364.0 149.9,364.4 152.0,364.8 154.2,365.1 156.3,365.5 158.5,365.8 160.6,366.2 162.8,366.5 164.9,366.8 167.1,367.1 169.2,367.3 171.4,367.6 173.6,367.9 175.7,368.2 177.9,368.5 180.0,368.8 182.2,369.0 184.4,369.3 186.5,369.6 188.7,369.9 190.8,370.1 193.0,370.4 195.2,370.7 197.3,371.0 199.5,371.2 201.6,371.5 203.8,371.8 206.0,372.0 208.1,372.3 210.3,372.5 212.4,372.8 214.6,373.1 216.8,373.4 218.9,373.7 221.1,374.0 223.2,374.4 225.4,374.7 227.5,375.1 229.7,375.4 231.8,375.7 234.0,376.1 236.1,376.4 238.3,376.7 240.4,377.0 242.6,377.3 244.7,377.6 246.9,377.9 249.1,378.2 251.2,378.5 253.4,378.8 255.5,379.1 257.7,379.4 259.8,379.7 262.0,380.1 264.1,380.4 266.3,380.8 268.4,381.1 270.6,381.5 272.7,381.9 274.9,382.2 277.0,382.6 279.2,382.9 281.3,383.3 283.5,383.6 285.6,384.0 287.8,384.3 289.9,384.6 292.1,384.9 294.2,385.2 296.4,385.6 298.5,386.0 300.6,386.4 302.8,386.8 304.9,387.3 307.0,387.8 309.1,388.3 311.2,388.8 313.3,389.3 315.4,389.8 317.5,390.5 319.5,391.2 321.5,392.1 323.5,392.9 325.2,394.2 326.2,396.0 326.7,398.0 326.7,404.4 28.1,404.4" fill="#7dc39c"/>
<polygon points="28.1,355.7 98.5,353.0 99.6,353.2 101.2,353.6 103.2,354.3 105.2,355.0 107.2,355.9 109.2,356.7 111.3,357.3 113.4,357.9 115.5,358.6 117.5,359.2 119.7,359.7 121.8,360.1 123.9,360.4 126.1,360.8 128.2,361.2 130.4,361.5 132.5,361.8 134.7,362.2 136.8,362.6 139.0,362.9 141.1,363.3 143.2,363.7 145.4,364.0 147.5,364.4 149.7,364.8 151.8,365.2 154.0,365.5 156.1,365.9 158.3,366.2 160.4,366.5 162.6,366.9 164.7,367.2 166.9,367.5 169.0,367.7 171.2,368.0 173.3,368.3 175.5,368.6 177.6,368.9 179.8,369.2 182.0,369.4 184.1,369.7 186.3,370.0 188.4,370.3 190.6,370.6 192.7,370.8 194.9,371.1 197.1,371.4 199.2,371.7 201.4,371.9 203.5,372.2 205.7,372.4 207.9,372.7 210.0,373.0 212.2,373.2 214.3,373.5 216.5,373.8 218.6,374.1 220.8,374.4 222.9,374.8 225.1,375.1 227.2,375.4 229.4,375.8 231.5,376.1 233.7,376.4 235.8,376.8 238.0,377.1 240.1,377.4 242.3,377.7 244.4,377.9 246.6,378.2 248.8,378.5 250.9,378.8 253.1,379.1 255.2,379.4 257.4,379.7 259.5,380.1 261.7,380.4 263.8,380.7 266.0,381.1 268.1,381.4 270.3,381.8 272.4,382.2 274.5,382.5 276.7,382.9 278.8,383.2 281.0,383.6 283.1,383.9 285.3,384.3 287.4,384.6 289.6,384.9 291.7,385.2 293.9,385.5 296.0,385.8 298.2,386.2 300.3,386.6 302.4,387.1 304.5,387.5 306.7,388.0 308.8,388.5 310.9,388.9 313.0,389.4 315.1,390.0 317.2,390.6 319.2,391.3 321.2,392.2 323.2,393.0 324.9,394.2 325.9,396.0 326.5,398.0 326.5,404.4 28.1,404.4" fill="#7dc595"/>
<polygon points="28.1,355.7 98.5,353.0 99.5,353.4 101.1,353.9 103.1,354.6 105.1,355.4 107.1,356.3 109.1,357.0 111.2,357.6 113.2,358.3 115.3,359.0 117.4,359.6 119.5,360.0 121.6,360.5 123.8,360.8 125.9,361.2 128.0,361.6 130.2,361.9 132.3,362.2 134.5,362.6 136.6,362.9 138.8,363.3 140.9,363.7 143.0,364.1 145.2,364.4 147.3,364.8 149.5,365.2 151.6,365.6 153.7,365.9 155.9,366.3 158.0,366.6 160.2,366.9 162.3,367.3 164.5,367.6 166.6,367.9 168.8,368.1 170.9,368.4 173.1,368.7 175.3,369.0 177.4,369.3 179.6,369.6 181.7,369.8 183.9,370.1 186.0,370.4 188.2,370.7 190.3,371.0 192.5,371.2 194.6,371.5 196.8,371.8 199.0,372.1 201.1,372.3 203.3,372.6 205.4,372.9 207.6,373.1 209.7,373.4 211.9,373.7 214.1,373.9 216.2,374.2 218.4,374.5 220.5,374.8 222.7,375.2 224.8,375.5 226.9,375.8 229.1,376.2 231.2,376.5 233.4,376.8 235.5,377.1 237.7,377.4 239.8,377.7 242.0,378.0 244.1,378.3 246.3,378.6 248.5,378.9 250.6,379.2 252.8,379.4 254.9,379.7 257.1,380.1 259.2,380.4 261.4,380.7 263.5,381.0 265.6,381.4 267.8,381.7 269.9,382.1 272.1,382.5 274.2,382.8 276.4,383.2 278.5,383.5 280.6,383.9 282.8,384.2 284.9,384.5 287.1,384.8 289.2,385.1 291.4,385.4 293.5,385.7 295.7,386.0 297.8,386.4 300.0,386.8 302.1,387.3 304.2,387.7 306.3,388.2 308.4,388.6 310.6,389.1 312.7,389.6 314.8,390.1 316.8,390.7 318.9,391.4 320.9,392.2 322.9,393.0 324.6,394.2 325.6,396.0 326.2,398.0 326.2,404.4 28.1,404.4" fill="#7dc68d"/>
<polygon points="28.1,355.7 98.5,353.1 99.4,353.6 101.0,354.2 102.9,354.9 104.9,355.7 106.9,356.6 109.0,357.3 111.0,358.0 113.1,358.6 115.1,359.3 117.2,359.9 119.3,360.4 121.4,360.9 123.6,361.2 125.7,361.6 127.9,362.0 130.0,362.3 132.1,362.7 134.3,363.0 136.4,363.3 138.6,363.7 140.7,364.1 142.8,364.5 145.0,364.8 147.1,365.2 149.3,365.6 151.4,366.0 153.5,366.3 155.7,366.7 157.8,367.0 160.0,367.3 162.1,367.7 164.3,368.0 166.4,368.3 168.6,368.5 170.7,368.8 172.9,369.1 175.0,369.4 177.2,369.7 179.3,370.0 181.5,370.2 183.6,370.5 185.8,370.8 187.9,371.1 190.1,371.4 192.2,371.7 194.4,371.9 196.5,372.2 198.7,372.5 200.8,372.8 203.0,373.0 205.2,373.3 207.3,373.5 209.5,373.8 211.6,374.1 213.8,374.3 215.9,374.6 218.1,374.9 220.2,375.2 222.4,375.6 224.5,375.9 226.7,376.2 228.8,376.5 230.9,376.9 233.1,377.2 235.2,377.5 237.4,377.8 239.5,378.1 241.7,378.4 243.8,378.7 246.0,378.9 248.1,379.2 250.3,379.5 252.5,379.8 254.6,380.1 256.7,380.4 258.9,380.7 261.0,381.0 263.2,381.4 265.3,381.7 267.5,382.0 269.6,382.4 271.8,382.7 273.9,383.1 276.0,383.4 278.2,383.8 280.3,384.1 282.5,384.5 284.6,384.8 286.8,385.1 288.9,385.4 291.1,385.7 293.2,386.0 295.4,386.3 297.5,386.7 299.6,387.1 301.7,387.5 303.9,387.9 306.0,388.4 308.1,388.8 310.2,389.3 312.3,389.7 314.4,390.2 316.5,390.8 318.6,391.5 320.6,392.3 322.5,393.1 324.3,394.3 325.3,396.0 326.0,398.0 326.0,404.4 28.1,404.4" fill="#7ec886"/>
<polygon points="28.1,355.7 98.5,353.2 99.3,353.8 100.9,354.5 102.8,355.3 104.8,356.0 106.8,356.9 108.8,357.7 110.9,358.3 112.9,359.0 115.0,359.7 117.0,360.3 119.1,360.8 121.3,361.3 123.4,361.6 125.5,362.0 127.7,362.4 129.8,362.7 132.0,363.1 134.1,363.4 136.2,363.7 138.4,364.1 140.5,364.5 142.6,364.8 144.8,365.2 146.9,365.6 149.0,366.0 151.2,366.4 153.3,366.7 155.5,367.1 157.6,367.4 159.7,367.7 161.9,368.0 164.0,368.4 166.2,368.6 168.3,368.9 170.5,369.2 172.6,369.5 174.8,369.8 176.9,370.1 179.1,370.4 181.2,370.6 183.4,370.9 185.5,371.2 187.7,371.5 189.8,371.8 192.0,372.1 194.1,372.4 196.3,372.6 198.4,372.9 200.6,373.2 202.7,373.4 204.9,373.7 207.0,374.0 209.2,374.2 211.3,374.5 213.5,374.8 215.6,375.1 217.8,375.3 219.9,375.7 222.1,376.0 224.2,376.3 226.4,376.6 228.5,376.9 230.7,377.3 232.8,377.6 234.9,377.9 237.1,378.2 239.2,378.5 241.4,378.7 243.5,379.0 245.7,379.3 247.8,379.6 250.0,379.8 252.1,380.1 254.3,380.4 256.4,380.7 258.6,381.0 260.7,381.3 262.9,381.7 265.0,382.0 267.2,382.3 269.3,382.7 271.4,383.0 273.6,383.4 275.7,383.7 277.9,384.1 280.0,384.4 282.1,384.7 284.3,385.1 286.4,385.4 288.6,385.6 290.7,385.9 292.9,386.2 295.0,386.5 297.1,386.9 299.3,387.3 301.4,387.7 303.5,388.1 305.6,388.6 307.8,389.0 309.9,389.4 312.0,389.9 314.1,390.4 316.2,391.0 318.2,391.6 320.2,392.4 322.2,393.1 324.0,394.3 325.1,396.1 325.8,398.0 325.8,404.4 28.1,404.4" fill="#7ec97e"/>
<polygon points="28.1,355.7 98.5,353.2 99.3,354.0 100.7,354.8 102.7,355.6 104.7,356.4 106.6,357.3 108.7,358.0 110.7,358.7 112.8,359.3 114.8,360.1 116.9,360.7 119.0,361.2 121.1,361.7 123.2,362.0 125.3,362.4 127.5,362.8 129.6,363.1 131.8,363.5 133.9,363.8 136.0,364.1 138.2,364.5 140.3,364.9 142.4,365.2 144.6,365.6 146.7,366.0 148.8,366.4 151.0,366.7 153.1,367.1 155.3,367.5 157.4,367.8 159.5,368.1 161.7,368.4 163.8,368.7 166.0,369.0 168.1,369.3 170.3,369.6 172.4,369.9 174.6,370.2 176.7,370.5 178.8,370.8 181.0,371.0 183.1,371.3 185.3,371.6 187.4,371.9 189.6,372.2 191.7,372.5 193.9,372.8 196.0,373.1 198.2,373.3 200.3,373.6 202.5,373.9 204.6,374.1 206.8,374.4 208.9,374.6 211.1,374.9 213.2,375.2 215.4,375.5 217.5,375.8 219.7,376.1 221.8,376.4 223.9,376.7 226.1,377.0 228.2,377.3 230.4,377.6 232.5,377.9 234.7,378.2 236.8,378.5 238.9,378.8 241.1,379.1 243.2,379.4 245.4,379.6 247.5,379.9 249.7,380.2 251.8,380.5 254.0,380.8 256.1,381.0 258.3,381.4 260.4,381.7 262.6,382.0 264.7,382.3 266.8,382.7 269.0,383.0 271.1,383.3 273.2,383.7 275.4,384.0 277.5,384.4 279.7,384.7 281.8,385.0 283.9,385.3 286.1,385.6 288.2,385.9 290.4,386.2 292.5,386.4 294.7,386.8 296.8,387.1 298.9,387.5 301.1,387.9 303.2,388.3 305.3,388.7 307.4,389.2 309.5,389.6 311.7,390.0 313.8,390.5 315.8,391.1 317.9,391.7 319.9,392.5 321.9,393.2 323.7,394.3 324.8,396.1 325.5,398.0 325.5,404.4 28.1,404.4" fill="#82ca78"/>
<polygon points="28.1,355.7 98.5,353.3 99.2,354.2 100.6,355.1 102.5,355.9 104.5,356.7 106.5,357.6 108.5,358.4 110.6,359.0 112.6,359.7 114.6,360.4 116.7,361.1 118.8,361.6 120.9,362.1 123.0,362.5 125.2,362.8 127.3,363.2 129.4,363.5 131.6,363.9 133.7,364.2 135.8,364.5 138.0,364.9 140.1,365.3 142.2,365.6 144.4,366.0 146.5,366.4 148.6,366.8 150.8,367.1 152.9,367.5 155.0,367.8 157.2,368.2 159.3,368.5 161.5,368.8 163.6,369.1 165.7,369.4 167.9,369.7 170.0,370.0 172.2,370.3 174.3,370.6 176.5,370.9 178.6,371.2 180.8,371.4 182.9,371.7 185.0,372.0 187.2,372.3 189.3,372.6 191.5,372.9 193.6,373.2 195.8,373.5 197.9,373.8 200.1,374.0 202.2,374.3 204.3,374.6 206.5,374.8 208.6,375.1 210.8,375.3 212.9,375.6 215.1,375.9 217.2,376.2 219.4,376.5 221.5,376.8 223.7,377.1 225.8,377.4 227.9,377.7 230.1,378.0 232.2,378.3 234.4,378.6 236.5,378.9 238.6,379.2 240.8,379.5 242.9,379.7 245.1,380.0 247.2,380.3 249.4,380.5 251.5,380.8 253.7,381.1 255.8,381.4 258.0,381.7 260.1,382.0 262.2,382.3 264.4,382.6 266.5,383.0 268.6,383.3 270.8,383.6 272.9,384.0 275.1,384.3 277.2,384.6 279.3,385.0 281.5,385.3 283.6,385.6 285.8,385.9 287.9,386.2 290.1,386.4 292.2,386.7 294.3,387.0 296.5,387.4 298.6,387.7 300.7,388.1 302.8,388.5 305.0,388.9 307.1,389.3 309.2,389.7 311.3,390.2 313.4,390.6 315.5,391.2 317.6,391.8 319.6,392.6 321.6,393.3 323.4,394.4 324.5,396.1 325.3,398.0 325.3,404.4 28.1,404.4" fill="#8cc972"/>
<polygon points="28.1,355.7 98.5,353.4 99.1,354.4 100.5,355.4 102.4,356.2 104.4,357.1 106.3,358.0 108.4,358.7 110.4,359.3 112.5,360.0 114.5,360.8 116.5,361.5 118.6,362.0 120.7,362.5 122.9,362.9 125.0,363.2 127.1,363.6 129.2,363.9 131.4,364.3 133.5,364.6 135.7,364.9 137.8,365.3 139.9,365.7 142.0,366.0 144.2,366.4 146.3,366.8 148.4,367.2 150.6,367.5 152.7,367.9 154.8,368.2 157.0,368.6 159.1,368.9 161.2,369.2 163.4,369.5 165.5,369.8 167.7,370.1 169.8,370.4 171.9,370.7 174.1,371.0 176.2,371.3 178.4,371.6 180.5,371.8 182.7,372.1 184.8,372.4 186.9,372.7 189.1,373.0 191.2,373.3 193.4,373.6 195.5,373.9 197.6,374.2 199.8,374.4 201.9,374.7 204.1,375.0 206.2,375.2 208.4,375.5 210.5,375.8 212.7,376.0 214.8,376.3 216.9,376.6 219.1,376.9 221.2,377.2 223.4,377.5 225.5,377.8 227.6,378.1 229.8,378.4 231.9,378.7 234.1,379.0 236.2,379.3 238.4,379.5 240.5,379.8 242.6,380.1 244.8,380.4 246.9,380.6 249.1,380.9 251.2,381.2 253.4,381.4 255.5,381.7 257.6,382.0 259.8,382.3 261.9,382.6 264.1,382.9 266.2,383.3 268.3,383.6 270.5,383.9 272.6,384.3 274.7,384.6 276.9,384.9 279.0,385.2 281.1,385.6 283.3,385.9 285.4,386.1 287.6,386.4 289.7,386.7 291.9,386.9 294.0,387.2 296.1,387.6 298.3,387.9 300.4,388.3 302.5,388.7 304.6,389.1 306.7,389.5 308.9,389.9 311.0,390.3 313.1,390.8 315.2,391.3 317.2,391.9 319.2,392.6 321.3,393.3 323.1,394.4 324.2,396.1 325.1,398.0 325.1,404.4 28.1,404.4" fill="#95c86d"/>
<polygon points="28.1,355.7 98.5,353.4 99.0,354.6 100.4,355.6 102.3,356.6 104.2,357.4 106.2,358.3 108.2,359.0 110.3,359.7 112.3,360.4 114.3,361.2 116.4,361.9 118.4,362.4 120.6,362.9 122.7,363.3 124.8,363.6 126.9,364.0 129.1,364.3 131.2,364.7 133.3,365.0 135.5,365.3 137.6,365.7 139.7,366.1 141.8,366.4 144.0,366.8 146.1,367.2 148.2,367.6 150.4,367.9 152.5,368.3 154.6,368.6 156.7,369.0 158.9,369.3 161.0,369.6 163.1,369.9 165.3,370.2 167.4,370.5 169.6,370.8 171.7,371.1 173.8,371.4 176.0,371.7 178.1,372.0 180.3,372.2 182.4,372.5 184.5,372.8 186.7,373.1 188.8,373.4 191.0,373.7 193.1,374.0 195.2,374.3 197.4,374.6 199.5,374.9 201.7,375.1 203.8,375.4 206.0,375.7 208.1,375.9 210.2,376.2 212.4,376.4 214.5,376.7 216.7,377.0 218.8,377.3 220.9,377.6 223.1,377.9 225.2,378.2 227.4,378.5 229.5,378.8 231.6,379.1 233.8,379.4 235.9,379.6 238.1,379.9 240.2,380.2 242.3,380.5 244.5,380.7 246.6,381.0 248.8,381.2 250.9,381.5 253.0,381.8 255.2,382.0 257.3,382.3 259.5,382.6 261.6,382.9 263.7,383.2 265.9,383.6 268.0,383.9 270.1,384.2 272.3,384.5 274.4,384.9 276.5,385.2 278.7,385.5 280.8,385.8 283.0,386.1 285.1,386.4 287.2,386.7 289.4,386.9 291.5,387.2 293.7,387.5 295.8,387.8 297.9,388.2 300.0,388.5 302.2,388.9 304.3,389.3 306.4,389.7 308.5,390.1 310.6,390.5 312.7,390.9 314.8,391.4 316.9,392.0 318.9,392.7 321.0,393.4 322.8,394.4 324.0,396.1 324.8,398.0 324.8,404.4 28.1,404.4" fill="#9fc767"/>
<polygon points="28.1,355.7 98.5,353.5 99.0,354.8 100.3,355.9 102.1,356.9 104.1,357.7 106.1,358.6 108.1,359.4 110.1,360.0 112.2,360.7 114.2,361.5 116.2,362.3 118.3,362.8 120.4,363.3 122.5,363.7 124.6,364.0 126.7,364.4 128.9,364.7 131.0,365.1 133.1,365.4 135.3,365.7 137.4,366.1 139.5,366.5 141.6,366.8 143.8,367.2 145.9,367.6 148.0,367.9 150.1,368.3 152.3,368.7 154.4,369.0 156.5,369.4 158.7,369.7 160.8,370.0 162.9,370.3 165.1,370.6 167.2,370.9 169.3,371.2 171.5,371.5 173.6,371.8 175.8,372.1 177.9,372.4 180.0,372.6 182.2,372.9 184.3,373.2 186.4,373.5 188.6,373.8 190.7,374.1 192.8,374.4 195.0,374.7 197.1,375.0 199.3,375.3 201.4,375.6 203.5,375.8 205.7,376.1 207.8,376.3 210.0,376.6 212.1,376.9 214.2,377.1 216.4,377.4 218.5,377.7 220.7,378.0 222.8,378.3 224.9,378.6 227.1,378.9 229.2,379.2 231.3,379.4 233.5,379.7 235.6,380.0 237.8,380.3 239.9,380.5 242.0,380.8 244.2,381.1 246.3,381.3 248.5,381.6 250.6,381.8 252.7,382.1 254.9,382.4 257.0,382.7 259.2,382.9 261.3,383.2 263.4,383.5 265.6,383.9 267.7,384.2 269.8,384.5 272.0,384.8 274.1,385.2 276.2,385.5 278.3,385.8 280.5,386.1 282.6,386.4 284.8,386.7 286.9,386.9 289.0,387.2 291.2,387.4 293.3,387.7 295.4,388.1 297.6,388.4 299.7,388.8 301.8,389.1 303.9,389.5 306.1,389.9 308.2,390.2 310.3,390.6 312.4,391.1 314.5,391.6 316.6,392.2 318.6,392.8 320.6,393.4 322.5,394.5 323.7,396.1 324.6,398.0 324.6,404.4 28.1,404.4" fill="#a9c662"/>
<polygon points="28.1,355.7 98.5,353.6 98.9,354.9 100.2,356.2 102.0,357.2 104.0,358.1 105.9,359.0 107.9,359.7 110.0,360.4 112.0,361.1 114.0,361.9 116.0,362.6 118.1,363.2 120.2,363.7 122.3,364.1 124.4,364.4 126.6,364.8 128.7,365.1 130.8,365.5 132.9,365.8 135.1,366.1 137.2,366.5 139.3,366.8 141.4,367.2 143.6,367.6 145.7,368.0 147.8,368.3 149.9,368.7 152.1,369.1 154.2,369.4 156.3,369.8 158.4,370.1 160.6,370.4 162.7,370.7 164.8,371.0 167.0,371.3 169.1,371.6 171.2,371.9 173.4,372.2 175.5,372.5 177.7,372.8 179.8,373.0 181.9,373.3 184.1,373.6 186.2,373.9 188.3,374.2 190.5,374.5 192.6,374.8 194.7,375.1 196.9,375.4 199.0,375.7 201.1,376.0 203.3,376.2 205.4,376.5 207.5,376.8 209.7,377.0 211.8,377.3 214.0,377.5 216.1,377.8 218.2,378.1 220.4,378.4 222.5,378.7 224.6,379.0 226.8,379.2 228.9,379.5 231.0,379.8 233.2,380.1 235.3,380.4 237.5,380.6 239.6,380.9 241.7,381.2 243.9,381.4 246.0,381.7 248.2,381.9 250.3,382.2 252.4,382.4 254.6,382.7 256.7,383.0 258.8,383.3 261.0,383.6 263.1,383.9 265.2,384.2 267.4,384.5 269.5,384.8 271.6,385.1 273.8,385.4 275.9,385.8 278.0,386.1 280.2,386.4 282.3,386.7 284.4,386.9 286.6,387.2 288.7,387.4 290.8,387.7 293.0,388.0 295.1,388.3 297.2,388.6 299.4,389.0 301.5,389.3 303.6,389.7 305.7,390.0 307.8,390.4 310.0,390.8 312.1,391.2 314.2,391.7 316.2,392.3 318.3,392.9 320.3,393.5 322.2,394.5 323.4,396.2 324.4,398.0 324.4,404.4 28.1,404.4" fill="#b2c55c"/>
<polygon points="28.1,355.7 98.5,353.7 98.8,355.1 100.0,356.5 101.9,357.6 103.8,358.4 105.8,359.3 107.8,360.0 109.9,360.7 111.9,361.4 113.8,362.3 115.8,363.0 117.9,363.6 120.0,364.1 122.1,364.5 124.3,364.8 126.4,365.2 128.5,365.5 130.6,365.9 132.8,366.2 134.9,366.5 137.0,366.9 139.1,367.2 141.2,367.6 143.4,368.0 145.5,368.4 147.6,368.7 149.7,369.1 151.8,369.5 154.0,369.8 156.1,370.2 158.2,370.5 160.4,370.8 162.5,371.1 164.6,371.4 166.7,371.7 168.9,372.0 171.0,372.3 173.1,372.6 175.3,372.9 177.4,373.2 179.5,373.4 181.7,373.7 183.8,374.0 185.9,374.3 188.1,374.6 190.2,375.0 192.3,375.3 194.5,375.6 196.6,375.8 198.7,376.1 200.9,376.4 203.0,376.7 205.1,376.9 207.3,377.2 209.4,377.4 211.5,377.7 213.7,378.0 215.8,378.2 218.0,378.5 220.1,378.8 222.2,379.1 224.4,379.3 226.5,379.6 228.6,379.9 230.8,380.2 232.9,380.5 235.0,380.7 237.2,381.0 239.3,381.3 241.4,381.5 243.6,381.8 245.7,382.0 247.8,382.3 250.0,382.5 252.1,382.8 254.3,383.0 256.4,383.3 258.5,383.6 260.7,383.9 262.8,384.2 264.9,384.5 267.0,384.8 269.2,385.1 271.3,385.4 273.4,385.7 275.6,386.0 277.7,386.4 279.8,386.7 282.0,386.9 284.1,387.2 286.2,387.4 288.4,387.7 290.5,387.9 292.6,388.2 294.8,388.5 296.9,388.8 299.0,389.2 301.1,389.5 303.3,389.9 305.4,390.2 307.5,390.6 309.6,390.9 311.7,391.3 313.8,391.8 315.9,392.4 317.9,393.0 320.0,393.5 321.9,394.5 323.1,396.2 324.2,398.0 324.2,404.4 28.1,404.4" fill="#bcc557"/>
<polygon points="28.1,355.7 98.5,353.7 98.7,355.3 99.9,356.8 101.7,357.9 103.7,358.8 105.6,359.6 107.7,360.4 109.7,361.0 111.7,361.8 113.7,362.7 115.7,363.4 117.7,364.0 119.8,364.4 122.0,364.9 124.1,365.2 126.2,365.6 128.3,365.9 130.4,366.3 132.6,366.6 134.7,366.9 136.8,367.3 138.9,367.6 141.0,368.0 143.2,368.4 145.3,368.7 147.4,369.1 149.5,369.5 151.6,369.9 153.8,370.2 155.9,370.6 158.0,370.9 160.1,371.2 162.3,371.5 164.4,371.8 166.5,372.1 168.6,372.4 170.8,372.7 172.9,373.0 175.0,373.3 177.2,373.6 179.3,373.8 181.4,374.1 183.6,374.4 185.7,374.8 187.8,375.1 189.9,375.4 192.1,375.7 194.2,376.0 196.3,376.3 198.5,376.5 200.6,376.8 202.7,377.1 204.9,377.3 207.0,377.6 209.1,377.9 211.3,378.1 213.4,378.4 215.5,378.6 217.7,378.9 219.8,379.2 221.9,379.5 224.1,379.7 226.2,380.0 228.3,380.3 230.5,380.6 232.6,380.8 234.7,381.1 236.9,381.4 239.0,381.6 241.1,381.9 243.3,382.1 245.4,382.4 247.5,382.6 249.7,382.9 251.8,383.1 253.9,383.4 256.1,383.6 258.2,383.9 260.3,384.2 262.5,384.5 264.6,384.8 266.7,385.1 268.9,385.4 271.0,385.7 273.1,386.0 275.2,386.3 277.4,386.6 279.5,386.9 281.6,387.2 283.8,387.5 285.9,387.7 288.0,387.9 290.2,388.2 292.3,388.5 294.4,388.7 296.6,389.1 298.7,389.4 300.8,389.7 302.9,390.1 305.0,390.4 307.2,390.7 309.3,391.1 311.4,391.5 313.5,391.9 315.6,392.5 317.6,393.0 319.7,393.6 321.6,394.5 322.9,396.2 323.9,398.0 323.9,404.4 28.1,404.4" fill="#c6c451"/>
<polygon points="28.1,355.7 98.5,353.8 98.6,355.5 99.8,357.1 101.6,358.2 103.5,359.1 105.5,360.0 107.5,360.7 109.6,361.4 111.6,362.1 113.5,363.0 115.5,363.8 117.6,364.4 119.7,364.8 121.8,365.3 123.9,365.6 126.0,366.0 128.1,366.3 130.2,366.7 132.4,367.0 134.5,367.3 136.6,367.7 138.7,368.0 140.8,368.4 143.0,368.8 145.1,369.1 147.2,369.5 149.3,369.9 151.4,370.2 153.5,370.6 155.7,370.9 157.8,371.3 159.9,371.6 162.0,371.9 164.2,372.2 166.3,372.5 168.4,372.8 170.5,373.1 172.7,373.4 174.8,373.7 176.9,373.9 179.1,374.2 181.2,374.5 183.3,374.9 185.4,375.2 187.6,375.5 189.7,375.8 191.8,376.1 193.9,376.4 196.1,376.7 198.2,377.0 200.3,377.2 202.5,377.5 204.6,377.8 206.7,378.0 208.9,378.3 211.0,378.5 213.1,378.8 215.3,379.0 217.4,379.3 219.5,379.6 221.6,379.8 223.8,380.1 225.9,380.4 228.0,380.7 230.2,380.9 232.3,381.2 234.4,381.5 236.6,381.7 238.7,382.0 240.8,382.2 243.0,382.5 245.1,382.7 247.2,383.0 249.4,383.2 251.5,383.4 253.6,383.7 255.8,384.0 257.9,384.2 260.0,384.5 262.2,384.8 264.3,385.1 266.4,385.4 268.5,385.7 270.7,386.0 272.8,386.3 274.9,386.6 277.0,386.9 279.2,387.2 281.3,387.5 283.4,387.7 285.6,388.0 287.7,388.2 289.8,388.4 292.0,388.7 294.1,389.0 296.2,389.3 298.3,389.6 300.5,389.9 302.6,390.2 304.7,390.6 306.8,390.9 308.9,391.2 311.1,391.6 313.2,392.0 315.2,392.6 317.3,393.1 319.4,393.6 321.3,394.6 322.6,396.2 323.7,398.0 323.7,404.4 28.1,404.4" fill="#cfc34c"/>
<polygon points="28.1,355.7 98.5,353.9 98.6,355.7 99.7,357.4 101.5,358.5 103.4,359.4 105.4,360.3 107.4,361.0 109.4,361.7 111.4,362.5 113.3,363.4 115.3,364.2 117.4,364.8 119.5,365.2 121.6,365.7 123.7,366.0 125.8,366.4 127.9,366.7 130.1,367.1 132.2,367.4 134.3,367.7 136.4,368.1 138.5,368.4 140.6,368.8 142.8,369.2 144.9,369.5 147.0,369.9 149.1,370.3 151.2,370.6 153.3,371.0 155.5,371.3 157.6,371.7 159.7,372.0 161.8,372.3 163.9,372.6 166.1,372.9 168.2,373.2 170.3,373.5 172.4,373.8 174.6,374.1 176.7,374.3 178.8,374.6 180.9,374.9 183.1,375.3 185.2,375.6 187.3,375.9 189.4,376.2 191.6,376.5 193.7,376.8 195.8,377.1 197.9,377.4 200.1,377.7 202.2,377.9 204.3,378.2 206.5,378.4 208.6,378.7 210.7,378.9 212.8,379.2 215.0,379.5 217.1,379.7 219.2,380.0 221.4,380.2 223.5,380.5 225.6,380.8 227.7,381.1 229.9,381.3 232.0,381.6 234.1,381.8 236.3,382.1 238.4,382.4 240.5,382.6 242.7,382.8 244.8,383.1 246.9,383.3 249.1,383.5 251.2,383.8 253.3,384.0 255.5,384.3 257.6,384.5 259.7,384.8 261.8,385.1 264.0,385.4 266.1,385.7 268.2,386.0 270.3,386.3 272.5,386.6 274.6,386.9 276.7,387.2 278.8,387.5 281.0,387.7 283.1,388.0 285.2,388.2 287.4,388.4 289.5,388.7 291.6,388.9 293.7,389.2 295.9,389.5 298.0,389.8 300.1,390.1 302.2,390.4 304.4,390.7 306.5,391.0 308.6,391.4 310.7,391.7 312.8,392.2 314.9,392.7 317.0,393.2 319.1,393.7 320.9,394.6 322.3,396.2 323.5,398.0 323.5,404.4 28.1,404.4" fill="#d9c246"/>
<polygon points="28.1,355.7 98.5,353.9 98.5,355.9 99.6,357.7 101.3,358.9 103.2,359.8 105.2,360.6 107.2,361.4 109.3,362.0 111.3,362.8 113.2,363.8 115.2,364.6 117.2,365.2 119.3,365.6 121.4,366.1 123.5,366.4 125.6,366.8 127.8,367.1 129.9,367.5 132.0,367.8 134.1,368.1 136.2,368.5 138.3,368.8 140.4,369.2 142.6,369.6 144.7,369.9 146.8,370.3 148.9,370.7 151.0,371.0 153.1,371.4 155.2,371.7 157.4,372.1 159.5,372.4 161.6,372.7 163.7,373.0 165.8,373.3 168.0,373.6 170.1,373.9 172.2,374.2 174.3,374.5 176.5,374.7 178.6,375.0 180.7,375.4 182.8,375.7 184.9,376.0 187.1,376.3 189.2,376.6 191.3,376.9 193.4,377.2 195.5,377.5 197.7,377.8 199.8,378.1 201.9,378.3 204.0,378.6 206.2,378.9 208.3,379.1 210.4,379.4 212.6,379.6 214.7,379.9 216.8,380.1 218.9,380.4 221.1,380.6 223.2,380.9 225.3,381.2 227.5,381.4 229.6,381.7 231.7,382.0 233.8,382.2 236.0,382.5 238.1,382.7 240.2,383.0 242.4,383.2 244.5,383.4 246.6,383.7 248.7,383.9 250.9,384.1 253.0,384.4 255.1,384.6 257.3,384.9 259.4,385.1 261.5,385.4 263.6,385.7 265.8,386.0 267.9,386.3 270.0,386.6 272.1,386.9 274.3,387.2 276.4,387.5 278.5,387.7 280.6,388.0 282.8,388.2 284.9,388.5 287.0,388.7 289.2,388.9 291.3,389.2 293.4,389.4 295.5,389.7 297.7,390.0 299.8,390.3 301.9,390.6 304.0,390.9 306.1,391.2 308.3,391.5 310.4,391.9 312.5,392.3 314.6,392.8 316.6,393.3 318.7,393.7 320.6,394.6 322.0,396.2 323.2,398.0 323.2,404.4 28.1,404.4" fill="#e2c141"/>
<polygon points="28.1,355.7 98.5,354.0 98.4,356.1 99.5,358.0 101.2,359.2 103.1,360.1 105.1,361.0 107.1,361.7 109.1,362.4 111.1,363.2 113.0,364.1 115.0,364.9 117.1,365.6 119.1,366.0 121.2,366.5 123.3,366.8 125.5,367.2 127.6,367.5 129.7,367.9 131.8,368.2 133.9,368.5 136.0,368.9 138.1,369.2 140.2,369.6 142.4,370.0 144.5,370.3 146.6,370.7 148.7,371.1 150.8,371.4 152.9,371.8 155.0,372.1 157.1,372.5 159.3,372.8 161.4,373.1 163.5,373.4 165.6,373.7 167.7,374.0 169.9,374.3 172.0,374.6 174.1,374.9 176.2,375.1 178.3,375.4 180.5,375.8 182.6,376.1 184.7,376.4 186.8,376.7 188.9,377.0 191.0,377.3 193.2,377.6 195.3,377.9 197.4,378.2 199.5,378.5 201.7,378.8 203.8,379.0 205.9,379.3 208.0,379.5 210.2,379.8 212.3,380.0 214.4,380.3 216.5,380.5 218.7,380.8 220.8,381.0 222.9,381.3 225.0,381.6 227.2,381.8 229.3,382.1 231.4,382.3 233.5,382.6 235.7,382.8 237.8,383.1 239.9,383.3 242.1,383.5 244.2,383.8 246.3,384.0 248.4,384.2 250.6,384.5 252.7,384.7 254.8,384.9 257.0,385.2 259.1,385.4 261.2,385.7 263.3,386.0 265.4,386.3 267.6,386.6 269.7,386.9 271.8,387.2 273.9,387.5 276.0,387.7 278.2,388.0 280.3,388.3 282.4,388.5 284.6,388.7 286.7,388.9 288.8,389.2 290.9,389.4 293.1,389.7 295.2,390.0 297.3,390.2 299.4,390.5 301.6,390.8 303.7,391.1 305.8,391.4 307.9,391.7 310.0,392.0 312.1,392.4 314.2,392.9 316.3,393.4 318.4,393.8 320.3,394.7 321.7,396.3 323.0,398.0 323.0,404.4 28.1,404.4" fill="#ecc03c"/>
<polygon points="28.1,355.7 98.1,354.1 98.0,356.1 99.0,358.0 100.6,359.3 102.5,360.2 104.4,361.1 106.4,361.9 108.4,362.6 110.4,363.4 112.3,364.3 114.3,365.1 116.3,365.7 118.4,366.2 120.5,366.7 122.6,367.1 124.7,367.4 126.8,367.8 128.9,368.2 131.0,368.5 133.1,368.8 135.2,369.2 137.3,369.5 139.4,369.9 141.5,370.3 143.6,370.6 145.7,371.0 147.8,371.4 149.9,371.7 152.0,372.1 154.1,372.4 156.2,372.8 158.3,373.1 160.4,373.4 162.5,373.7 164.6,374.0 166.7,374.3 168.8,374.6 171.0,374.9 173.1,375.1 175.2,375.4 177.3,375.7 179.4,376.0 181.5,376.3 183.6,376.7 185.7,377.0 187.8,377.3 189.9,377.6 192.1,377.9 194.2,378.2 196.3,378.5 198.4,378.8 200.5,379.0 202.6,379.3 204.7,379.5 206.8,379.8 209.0,380.0 211.1,380.3 213.2,380.5 215.3,380.8 217.4,381.0 219.5,381.3 221.7,381.5 223.8,381.8 225.9,382.1 228.0,382.3 230.1,382.6 232.2,382.8 234.4,383.1 236.5,383.3 238.6,383.5 240.7,383.8 242.8,384.0 244.9,384.2 247.1,384.4 249.2,384.7 251.3,384.9 253.4,385.1 255.5,385.4 257.7,385.6 259.8,385.9 261.9,386.2 264.0,386.5 266.1,386.8 268.2,387.1 270.3,387.3 272.4,387.6 274.6,387.9 276.7,388.2 278.8,388.4 280.9,388.7 283.0,388.9 285.1,389.1 287.3,389.3 289.4,389.5 291.5,389.8 293.6,390.1 295.7,390.3 297.8,390.6 300.0,390.9 302.1,391.2 304.2,391.4 306.3,391.7 308.4,392.1 310.5,392.5 312.6,392.9 314.6,393.4 316.7,393.8 318.6,394.7 320.1,396.3 321.3,398.0 321.3,404.4 28.1,404.4" fill="#f4c037"/>
<polygon points="28.1,355.7 97.7,354.1 97.6,356.2 98.4,358.0 100.0,359.3 101.9,360.4 103.8,361.3 105.8,362.1 107.8,362.8 109.7,363.6 111.6,364.5 113.6,365.3 115.6,365.9 117.7,366.5 119.7,366.9 121.8,367.3 123.9,367.7 126.0,368.1 128.1,368.4 130.1,368.8 132.2,369.1 134.3,369.5 136.4,369.8 138.5,370.2 140.6,370.6 142.7,370.9 144.8,371.3 146.9,371.6 149.0,372.0 151.1,372.4 153.2,372.7 155.2,373.0 157.3,373.4 159.4,373.7 161.5,374.0 163.6,374.3 165.7,374.6 167.8,374.9 169.9,375.1 172.0,375.4 174.1,375.7 176.2,376.0 178.3,376.3 180.4,376.6 182.5,376.9 184.6,377.2 186.7,377.6 188.8,377.9 190.9,378.2 193.0,378.5 195.1,378.7 197.2,379.0 199.3,379.3 201.5,379.5 203.6,379.8 205.7,380.1 207.8,380.3 209.9,380.5 212.0,380.8 214.1,381.0 216.2,381.3 218.3,381.5 220.4,381.8 222.5,382.0 224.6,382.3 226.7,382.5 228.8,382.8 230.9,383.0 233.0,383.3 235.2,383.5 237.3,383.8 239.4,384.0 241.5,384.2 243.6,384.4 245.7,384.7 247.8,384.9 249.9,385.1 252.0,385.4 254.1,385.6 256.2,385.9 258.3,386.1 260.4,386.4 262.5,386.7 264.7,387.0 266.8,387.2 268.9,387.5 271.0,387.8 273.1,388.1 275.2,388.3 277.3,388.6 279.4,388.8 281.5,389.0 283.6,389.2 285.7,389.4 287.8,389.7 289.9,389.9 292.0,390.2 294.1,390.4 296.2,390.7 298.3,391.0 300.4,391.2 302.6,391.5 304.6,391.8 306.7,392.2 308.8,392.5 310.9,393.0 313.0,393.4 315.1,393.8 316.9,394.7 318.4,396.3 319.6,398.0 319.6,404.4 28.1,404.4" fill="#fbbf33"/>
<polygon points="28.1,355.7 97.4,354.1 97.2,356.2 97.9,358.1 99.5,359.4 101.3,360.5 103.2,361.4 105.1,362.2 107.1,362.9 109.0,363.8 110.9,364.7 112.9,365.5 114.9,366.1 116.9,366.7 119.0,367.1 121.0,367.5 123.1,368.0 125.2,368.4 127.2,368.7 129.3,369.1 131.4,369.4 133.5,369.8 135.6,370.1 137.7,370.5 139.7,370.9 141.8,371.2 143.9,371.6 146.0,371.9 148.1,372.3 150.1,372.6 152.2,373.0 154.3,373.3 156.4,373.6 158.5,374.0 160.6,374.3 162.7,374.6 164.7,374.9 166.8,375.1 168.9,375.4 171.0,375.7 173.1,376.0 175.2,376.3 177.3,376.6 179.4,376.9 181.5,377.2 183.6,377.5 185.6,377.8 187.7,378.1 189.8,378.4 191.9,378.7 194.0,379.0 196.1,379.3 198.2,379.5 200.3,379.8 202.4,380.1 204.5,380.3 206.6,380.6 208.7,380.8 210.8,381.1 212.9,381.3 215.0,381.6 217.1,381.8 219.2,382.0 221.3,382.3 223.3,382.5 225.4,382.8 227.5,383.0 229.6,383.3 231.7,383.5 233.8,383.7 235.9,384.0 238.0,384.2 240.1,384.4 242.2,384.7 244.3,384.9 246.4,385.1 248.5,385.3 250.6,385.6 252.7,385.8 254.8,386.1 256.9,386.3 259.0,386.6 261.1,386.9 263.2,387.1 265.3,387.4 267.4,387.7 269.5,388.0 271.6,388.2 273.7,388.5 275.8,388.7 277.9,388.9 280.0,389.1 282.1,389.3 284.2,389.6 286.3,389.8 288.4,390.0 290.5,390.3 292.5,390.5 294.6,390.8 296.7,391.0 298.8,391.3 300.9,391.6 303.0,391.9 305.1,392.2 307.2,392.6 309.2,393.0 311.3,393.5 313.4,393.8 315.3,394.8 316.7,396.3 317.9,398.0 317.9,404.4 28.1,404.4" fill="#fbb734"/>
<polygon points="28.1,355.7 97.0,354.2 96.7,356.2 97.4,358.1 98.9,359.5 100.7,360.6 102.5,361.5 104.4,362.4 106.4,363.1 108.3,364.0 110.2,364.9 112.1,365.7 114.1,366.3 116.2,366.9 118.2,367.3 120.3,367.8 122.3,368.2 124.4,368.6 126.4,369.0 128.5,369.4 130.6,369.7 132.6,370.1 134.7,370.4 136.8,370.8 138.9,371.2 140.9,371.5 143.0,371.9 145.1,372.2 147.1,372.6 149.2,372.9 151.3,373.3 153.4,373.6 155.4,373.9 157.5,374.2 159.6,374.6 161.7,374.9 163.7,375.1 165.8,375.4 167.9,375.7 170.0,376.0 172.1,376.3 174.2,376.6 176.2,376.9 178.3,377.2 180.4,377.5 182.5,377.8 184.6,378.1 186.6,378.4 188.7,378.7 190.8,379.0 192.9,379.3 195.0,379.5 197.0,379.8 199.1,380.1 201.2,380.3 203.3,380.6 205.4,380.8 207.5,381.1 209.6,381.3 211.6,381.6 213.7,381.8 215.8,382.1 217.9,382.3 220.0,382.5 222.1,382.8 224.2,383.0 226.3,383.3 228.3,383.5 230.4,383.7 232.5,384.0 234.6,384.2 236.7,384.4 238.8,384.7 240.9,384.9 243.0,385.1 245.0,385.3 247.1,385.6 249.2,385.8 251.3,386.0 253.4,386.3 255.5,386.5 257.6,386.8 259.7,387.1 261.7,387.3 263.8,387.6 265.9,387.9 268.0,388.1 270.1,388.4 272.2,388.6 274.2,388.9 276.3,389.1 278.4,389.3 280.5,389.5 282.6,389.7 284.7,389.9 286.8,390.1 288.9,390.4 291.0,390.6 293.0,390.9 295.1,391.1 297.2,391.4 299.3,391.6 301.4,391.9 303.4,392.3 305.5,392.7 307.6,393.1 309.6,393.5 311.7,393.9 313.6,394.8 315.0,396.3 316.2,398.0 316.2,404.4 28.1,404.4" fill="#fbb035"/>
<polygon points="28.1,355.7 96.6,354.2 96.3,356.3 96.9,358.2 98.3,359.6 100.1,360.7 101.9,361.7 103.8,362.5 105.7,363.3 107.6,364.2 109.5,365.1 111.4,365.9 113.4,366.5 115.4,367.1 117.5,367.5 119.5,368.0 121.5,368.5 123.6,368.9 125.6,369.3 127.7,369.7 129.7,370.0 131.8,370.4 133.9,370.7 135.9,371.1 138.0,371.5 140.0,371.8 142.1,372.2 144.2,372.5 146.2,372.9 148.3,373.2 150.3,373.6 152.4,373.9 154.5,374.2 156.5,374.5 158.6,374.8 160.7,375.1 162.8,375.4 164.8,375.7 166.9,376.0 169.0,376.3 171.0,376.6 173.1,376.9 175.2,377.2 177.2,377.5 179.3,377.8 181.4,378.1 183.5,378.4 185.5,378.7 187.6,378.9 189.7,379.2 191.7,379.5 193.8,379.8 195.9,380.1 198.0,380.3 200.0,380.6 202.1,380.8 204.2,381.1 206.3,381.3 208.3,381.6 210.4,381.8 212.5,382.1 214.6,382.3 216.6,382.6 218.7,382.8 220.8,383.0 222.9,383.3 225.0,383.5 227.0,383.7 229.1,384.0 231.2,384.2 233.3,384.4 235.4,384.7 237.4,384.9 239.5,385.1 241.6,385.3 243.7,385.6 245.7,385.8 247.8,386.0 249.9,386.3 252.0,386.5 254.1,386.7 256.1,387.0 258.2,387.3 260.3,387.5 262.4,387.8 264.4,388.0 266.5,388.3 268.6,388.5 270.7,388.8 272.7,389.0 274.8,389.2 276.9,389.4 279.0,389.6 281.1,389.8 283.1,390.0 285.2,390.2 287.3,390.5 289.4,390.7 291.4,390.9 293.5,391.2 295.6,391.4 297.7,391.7 299.7,392.0 301.8,392.4 303.9,392.8 305.9,393.1 308.0,393.5 310.0,393.9 311.9,394.8 313.3,396.3 314.6,398.0 314.6,404.4 28.1,404.4" fill="#fba836"/>
<polygon points="28.1,355.7 96.2,354.3 95.9,356.3 96.4,358.2 97.8,359.7 99.5,360.8 101.3,361.8 103.1,362.7 105.0,363.5 106.9,364.3 108.8,365.3 110.7,366.1 112.7,366.7 114.7,367.3 116.7,367.8 118.7,368.2 120.7,368.7 122.8,369.2 124.8,369.6 126.9,370.0 128.9,370.3 131.0,370.7 133.0,371.0 135.1,371.4 137.1,371.8 139.2,372.1 141.2,372.5 143.3,372.8 145.3,373.2 147.4,373.5 149.4,373.9 151.5,374.2 153.5,374.5 155.6,374.8 157.6,375.1 159.7,375.4 161.8,375.7 163.8,376.0 165.9,376.3 167.9,376.6 170.0,376.9 172.1,377.2 174.1,377.5 176.2,377.7 178.2,378.0 180.3,378.3 182.4,378.6 184.4,378.9 186.5,379.2 188.5,379.5 190.6,379.8 192.7,380.0 194.7,380.3 196.8,380.6 198.9,380.8 200.9,381.1 203.0,381.3 205.1,381.6 207.1,381.8 209.2,382.1 211.3,382.3 213.3,382.6 215.4,382.8 217.5,383.0 219.5,383.3 221.6,383.5 223.7,383.7 225.7,384.0 227.8,384.2 229.9,384.4 231.9,384.6 234.0,384.9 236.1,385.1 238.1,385.3 240.2,385.5 242.3,385.8 244.4,386.0 246.4,386.2 248.5,386.5 250.6,386.7 252.6,387.0 254.7,387.2 256.8,387.5 258.8,387.7 260.9,388.0 263.0,388.2 265.0,388.5 267.1,388.7 269.2,388.9 271.2,389.2 273.3,389.4 275.4,389.6 277.4,389.7 279.5,389.9 281.6,390.1 283.6,390.4 285.7,390.6 287.8,390.8 289.9,391.0 291.9,391.3 294.0,391.5 296.0,391.8 298.1,392.1 300.1,392.5 302.2,392.8 304.2,393.2 306.3,393.6 308.3,393.9 310.2,394.8 311.6,396.4 312.9,398.0 312.9,404.4 28.1,404.4" fill="#fba136"/>
<polygon points="28.1,355.7 95.8,354.4 95.5,356.3 95.9,358.2 97.2,359.7 98.8,360.9 100.6,362.0 102.5,362.9 104.4,363.7 106.2,364.5 108.1,365.5 110.0,366.2 112.0,366.9 114.0,367.5 116.0,368.0 118.0,368.5 120.0,369.0 122.0,369.5 124.0,369.9 126.0,370.3 128.1,370.6 130.1,371.0 132.1,371.3 134.2,371.7 136.2,372.1 138.3,372.4 140.3,372.8 142.3,373.1 144.4,373.5 146.4,373.8 148.5,374.1 150.5,374.5 152.6,374.8 154.6,375.1 156.7,375.4 158.7,375.7 160.8,376.0 162.8,376.3 164.9,376.6 166.9,376.9 169.0,377.2 171.0,377.4 173.1,377.7 175.1,378.0 177.2,378.3 179.2,378.6 181.3,378.9 183.3,379.2 185.4,379.5 187.4,379.8 189.5,380.0 191.5,380.3 193.6,380.6 195.6,380.8 197.7,381.1 199.7,381.4 201.8,381.6 203.9,381.9 205.9,382.1 208.0,382.3 210.0,382.6 212.1,382.8 214.1,383.1 216.2,383.3 218.3,383.5 220.3,383.7 222.4,384.0 224.4,384.2 226.5,384.4 228.6,384.6 230.6,384.9 232.7,385.1 234.7,385.3 236.8,385.5 238.8,385.8 240.9,386.0 243.0,386.2 245.0,386.4 247.1,386.7 249.1,386.9 251.2,387.2 253.3,387.4 255.3,387.7 257.4,387.9 259.4,388.1 261.5,388.4 263.5,388.6 265.6,388.9 267.6,389.1 269.7,389.3 271.8,389.5 273.8,389.7 275.9,389.9 278.0,390.1 280.0,390.3 282.1,390.5 284.1,390.7 286.2,390.9 288.3,391.1 290.3,391.3 292.4,391.6 294.4,391.8 296.5,392.1 298.5,392.5 300.5,392.9 302.6,393.2 304.6,393.6 306.6,394.0 308.5,394.9 309.9,396.4 311.2,398.0 311.2,404.4 28.1,404.4" fill="#fc9937"/>
<polygon points="28.1,355.7 95.5,354.4 95.1,356.4 95.4,358.3 96.6,359.8 98.2,361.0 100.0,362.1 101.8,363.0 103.7,363.9 105.5,364.7 107.4,365.6 109.3,366.4 111.2,367.1 113.2,367.7 115.2,368.2 117.2,368.7 119.2,369.3 121.2,369.7 123.2,370.2 125.2,370.6 127.2,370.9 129.3,371.3 131.3,371.6 133.3,372.0 135.3,372.4 137.4,372.7 139.4,373.1 141.4,373.4 143.5,373.8 145.5,374.1 147.5,374.4 149.6,374.8 151.6,375.1 153.6,375.4 155.7,375.7 157.7,376.0 159.8,376.3 161.8,376.6 163.8,376.9 165.9,377.2 167.9,377.4 170.0,377.7 172.0,378.0 174.1,378.3 176.1,378.6 178.1,378.9 180.2,379.2 182.2,379.5 184.3,379.7 186.3,380.0 188.3,380.3 190.4,380.6 192.4,380.8 194.5,381.1 196.5,381.4 198.6,381.6 200.6,381.9 202.7,382.1 204.7,382.4 206.7,382.6 208.8,382.8 210.8,383.1 212.9,383.3 214.9,383.5 217.0,383.8 219.0,384.0 221.1,384.2 223.1,384.4 225.2,384.6 227.2,384.9 229.3,385.1 231.3,385.3 233.4,385.5 235.4,385.8 237.5,386.0 239.5,386.2 241.6,386.4 243.6,386.7 245.7,386.9 247.7,387.1 249.8,387.4 251.8,387.6 253.9,387.8 255.9,388.1 258.0,388.3 260.0,388.6 262.0,388.8 264.1,389.0 266.1,389.3 268.2,389.5 270.2,389.7 272.3,389.8 274.4,390.0 276.4,390.2 278.5,390.4 280.5,390.6 282.6,390.8 284.6,391.0 286.7,391.2 288.7,391.4 290.8,391.6 292.8,391.9 294.8,392.2 296.9,392.6 298.9,393.0 300.9,393.3 302.9,393.6 305.0,394.0 306.8,394.9 308.2,396.4 309.5,398.0 309.5,404.4 28.1,404.4" fill="#fc9238"/>
<polygon points="28.1,355.7 95.1,354.4 94.6,356.4 94.9,358.3 96.1,359.9 97.6,361.2 99.4,362.2 101.1,363.2 103.0,364.1 104.8,364.9 106.7,365.8 108.6,366.6 110.5,367.3 112.5,367.9 114.5,368.4 116.4,368.9 118.4,369.5 120.4,370.0 122.4,370.5 124.4,370.9 126.4,371.2 128.4,371.6 130.4,371.9 132.5,372.3 134.5,372.7 136.5,373.0 138.5,373.4 140.5,373.7 142.6,374.0 144.6,374.4 146.6,374.7 148.6,375.0 150.7,375.4 152.7,375.7 154.7,376.0 156.7,376.3 158.8,376.6 160.8,376.9 162.8,377.2 164.9,377.4 166.9,377.7 168.9,378.0 171.0,378.3 173.0,378.6 175.0,378.9 177.0,379.2 179.1,379.4 181.1,379.7 183.1,380.0 185.2,380.3 187.2,380.6 189.2,380.8 191.3,381.1 193.3,381.4 195.3,381.6 197.4,381.9 199.4,382.1 201.5,382.4 203.5,382.6 205.5,382.9 207.6,383.1 209.6,383.3 211.6,383.6 213.7,383.8 215.7,384.0 217.8,384.2 219.8,384.4 221.8,384.7 223.9,384.9 225.9,385.1 228.0,385.3 230.0,385.5 232.0,385.8 234.1,386.0 236.1,386.2 238.1,386.4 240.2,386.7 242.2,386.9 244.3,387.1 246.3,387.3 248.3,387.6 250.4,387.8 252.4,388.0 254.4,388.3 256.5,388.5 258.5,388.7 260.6,389.0 262.6,389.2 264.6,389.4 266.7,389.6 268.7,389.8 270.8,390.0 272.8,390.2 274.9,390.3 276.9,390.5 278.9,390.7 281.0,390.9 283.0,391.1 285.1,391.3 287.1,391.5 289.1,391.7 291.2,392.0 293.2,392.3 295.2,392.7 297.2,393.1 299.2,393.4 301.3,393.7 303.3,394.0 305.1,394.9 306.5,396.4 307.8,398.0 307.8,404.4 28.1,404.4" fill="#fc8a39"/>
<polygon points="28.1,355.7 94.7,354.5 94.2,356.4 94.4,358.4 95.5,360.0 97.0,361.3 98.7,362.4 100.5,363.4 102.3,364.2 104.1,365.1 106.0,366.0 107.9,366.8 109.8,367.5 111.7,368.1 113.7,368.6 115.7,369.2 117.6,369.8 119.6,370.3 121.6,370.8 123.6,371.2 125.6,371.5 127.6,371.9 129.6,372.2 131.6,372.6 133.6,373.0 135.6,373.3 137.6,373.7 139.6,374.0 141.6,374.3 143.7,374.7 145.7,375.0 147.7,375.3 149.7,375.7 151.7,376.0 153.7,376.3 155.8,376.6 157.8,376.9 159.8,377.2 161.8,377.4 163.8,377.7 165.9,378.0 167.9,378.3 169.9,378.6 171.9,378.9 173.9,379.2 176.0,379.4 178.0,379.7 180.0,380.0 182.0,380.3 184.1,380.5 186.1,380.8 188.1,381.1 190.1,381.3 192.1,381.6 194.2,381.9 196.2,382.1 198.2,382.4 200.2,382.6 202.3,382.9 204.3,383.1 206.3,383.4 208.4,383.6 210.4,383.8 212.4,384.0 214.4,384.2 216.5,384.5 218.5,384.7 220.5,384.9 222.6,385.1 224.6,385.3 226.6,385.5 228.6,385.8 230.7,386.0 232.7,386.2 234.7,386.4 236.8,386.7 238.8,386.9 240.8,387.1 242.9,387.3 244.9,387.6 246.9,387.8 248.9,388.0 251.0,388.2 253.0,388.5 255.0,388.7 257.0,388.9 259.1,389.1 261.1,389.4 263.1,389.6 265.2,389.8 267.2,389.9 269.2,390.1 271.3,390.3 273.3,390.5 275.3,390.6 277.4,390.8 279.4,391.0 281.4,391.2 283.5,391.4 285.5,391.6 287.5,391.8 289.5,392.0 291.6,392.3 293.6,392.8 295.6,393.1 297.6,393.4 299.6,393.7 301.6,394.1 303.4,395.0 304.8,396.4 306.1,398.0 306.1,404.4 28.1,404.4" fill="#fc833a"/>
<polygon points="28.1,355.7 94.3,354.6 93.8,356.5 93.9,358.4 94.9,360.1 96.4,361.4 98.1,362.5 99.8,363.5 101.6,364.4 103.5,365.3 105.3,366.2 107.2,367.0 109.1,367.7 111.0,368.3 112.9,368.8 114.9,369.4 116.8,370.0 118.8,370.6 120.7,371.0 122.7,371.4 124.7,371.8 126.7,372.2 128.7,372.6 130.7,372.9 132.7,373.3 134.7,373.6 136.7,373.9 138.7,374.3 140.7,374.6 142.7,375.0 144.7,375.3 146.7,375.6 148.7,375.9 150.8,376.3 152.8,376.6 154.8,376.9 156.8,377.2 158.8,377.4 160.8,377.7 162.8,378.0 164.8,378.3 166.8,378.6 168.8,378.9 170.9,379.1 172.9,379.4 174.9,379.7 176.9,380.0 178.9,380.3 180.9,380.5 182.9,380.8 184.9,381.1 187.0,381.3 189.0,381.6 191.0,381.9 193.0,382.1 195.0,382.4 197.0,382.6 199.0,382.9 201.1,383.1 203.1,383.4 205.1,383.6 207.1,383.8 209.1,384.1 211.2,384.3 213.2,384.5 215.2,384.7 217.2,384.9 219.2,385.1 221.3,385.3 223.3,385.5 225.3,385.8 227.3,386.0 229.3,386.2 231.3,386.4 233.4,386.6 235.4,386.9 237.4,387.1 239.4,387.3 241.4,387.5 243.5,387.8 245.5,388.0 247.5,388.2 249.5,388.4 251.5,388.7 253.6,388.9 255.6,389.1 257.6,389.3 259.6,389.5 261.6,389.7 263.7,389.9 265.7,390.1 267.7,390.3 269.7,390.4 271.7,390.6 273.8,390.7 275.8,390.9 277.8,391.1 279.8,391.3 281.9,391.4 283.9,391.6 285.9,391.8 287.9,392.1 289.9,392.4 291.9,392.8 293.9,393.2 295.9,393.5 297.9,393.7 299.9,394.1 301.7,395.0 303.1,396.4 304.4,398.0 304.4,404.4 28.1,404.4" fill="#fc7b3b"/>
<polygon points="28.1,355.7 93.9,354.6 93.4,356.5 93.4,358.4 94.4,360.1 95.8,361.5 97.4,362.7 99.2,363.7 101.0,364.6 102.8,365.5 104.6,366.4 106.4,367.2 108.3,367.9 110.3,368.5 112.2,369.1 114.1,369.6 116.0,370.3 118.0,370.9 119.9,371.3 121.9,371.7 123.9,372.1 125.9,372.5 127.9,372.9 129.9,373.2 131.8,373.6 133.8,373.9 135.8,374.2 137.8,374.6 139.8,374.9 141.8,375.3 143.8,375.6 145.8,375.9 147.8,376.2 149.8,376.5 151.8,376.8 153.8,377.1 155.8,377.4 157.8,377.7 159.8,378.0 161.8,378.3 163.8,378.6 165.8,378.9 167.8,379.2 169.8,379.4 171.8,379.7 173.8,380.0 175.8,380.3 177.8,380.5 179.8,380.8 181.8,381.1 183.8,381.3 185.8,381.6 187.8,381.9 189.8,382.1 191.8,382.4 193.8,382.6 195.8,382.9 197.8,383.2 199.8,383.4 201.9,383.6 203.9,383.9 205.9,384.1 207.9,384.3 209.9,384.5 211.9,384.7 213.9,384.9 215.9,385.1 217.9,385.3 219.9,385.6 222.0,385.8 224.0,386.0 226.0,386.2 228.0,386.4 230.0,386.6 232.0,386.9 234.0,387.1 236.0,387.3 238.0,387.5 240.0,387.8 242.0,388.0 244.0,388.2 246.1,388.4 248.1,388.6 250.1,388.8 252.1,389.1 254.1,389.3 256.1,389.5 258.1,389.7 260.1,389.9 262.1,390.1 264.2,390.2 266.2,390.4 268.2,390.6 270.2,390.7 272.2,390.9 274.2,391.0 276.2,391.2 278.3,391.4 280.3,391.5 282.3,391.7 284.3,391.9 286.3,392.2 288.3,392.5 290.3,392.9 292.2,393.3 294.2,393.5 296.3,393.8 298.2,394.1 300.0,395.0 301.4,396.5 302.8,398.0 302.8,404.4 28.1,404.4" fill="#fc733b"/>
<polygon points="28.1,355.7 93.5,354.7 93.0,356.6 92.9,358.5 93.8,360.2 95.2,361.6 96.8,362.8 98.5,363.8 100.3,364.8 102.1,365.7 103.9,366.6 105.7,367.4 107.6,368.1 109.5,368.7 111.4,369.3 113.4,369.9 115.2,370.5 117.2,371.1 119.1,371.6 121.1,372.0 123.1,372.4 125.0,372.8 127.0,373.2 129.0,373.5 131.0,373.9 133.0,374.2 134.9,374.5 136.9,374.9 138.9,375.2 140.9,375.5 142.9,375.9 144.9,376.2 146.8,376.5 148.8,376.8 150.8,377.1 152.8,377.4 154.8,377.7 156.8,378.0 158.8,378.3 160.8,378.6 162.8,378.9 164.7,379.2 166.7,379.4 168.7,379.7 170.7,380.0 172.7,380.3 174.7,380.5 176.7,380.8 178.7,381.1 180.7,381.3 182.7,381.6 184.7,381.9 186.7,382.1 188.7,382.4 190.7,382.7 192.6,382.9 194.6,383.2 196.6,383.4 198.6,383.7 200.6,383.9 202.6,384.1 204.6,384.4 206.6,384.6 208.6,384.8 210.6,385.0 212.6,385.2 214.6,385.4 216.6,385.6 218.6,385.8 220.6,386.0 222.6,386.2 224.6,386.4 226.6,386.6 228.6,386.9 230.6,387.1 232.6,387.3 234.6,387.5 236.6,387.8 238.6,388.0 240.6,388.2 242.6,388.4 244.6,388.6 246.6,388.8 248.6,389.0 250.6,389.2 252.6,389.4 254.6,389.6 256.6,389.8 258.6,390.0 260.6,390.2 262.6,390.4 264.6,390.5 266.6,390.7 268.6,390.8 270.7,391.0 272.7,391.1 274.7,391.3 276.7,391.5 278.7,391.6 280.7,391.8 282.7,392.0 284.7,392.2 286.7,392.5 288.6,393.0 290.6,393.4 292.6,393.6 294.6,393.8 296.6,394.1 298.3,395.1 299.8,396.5 301.1,398.0 301.1,404.4 28.1,404.4" fill="#fc6c3c"/>
<polygon points="28.1,355.7 93.2,354.7 92.6,356.6 92.4,358.5 93.2,360.3 94.6,361.7 96.2,362.9 97.9,364.0 99.6,365.0 101.4,365.9 103.2,366.8 105.0,367.6 106.9,368.3 108.8,368.9 110.7,369.5 112.6,370.1 114.5,370.8 116.4,371.4 118.3,371.9 120.3,372.3 122.2,372.7 124.2,373.1 126.2,373.5 128.1,373.8 130.1,374.2 132.1,374.5 134.0,374.8 136.0,375.2 138.0,375.5 140.0,375.8 141.9,376.2 143.9,376.5 145.9,376.8 147.9,377.1 149.8,377.4 151.8,377.7 153.8,378.0 155.8,378.3 157.8,378.6 159.7,378.9 161.7,379.2 163.7,379.4 165.7,379.7 167.7,380.0 169.6,380.3 171.6,380.5 173.6,380.8 175.6,381.1 177.6,381.3 179.6,381.6 181.5,381.9 183.5,382.1 185.5,382.4 187.5,382.6 189.5,382.9 191.5,383.2 193.4,383.4 195.4,383.7 197.4,383.9 199.4,384.2 201.4,384.4 203.4,384.6 205.4,384.8 207.4,385.0 209.4,385.2 211.3,385.4 213.3,385.6 215.3,385.8 217.3,386.0 219.3,386.2 221.3,386.4 223.3,386.6 225.3,386.9 227.3,387.1 229.3,387.3 231.2,387.5 233.2,387.8 235.2,388.0 237.2,388.2 239.2,388.4 241.2,388.6 243.2,388.8 245.2,389.0 247.2,389.2 249.2,389.4 251.1,389.6 253.1,389.8 255.1,390.0 257.1,390.2 259.1,390.3 261.1,390.5 263.1,390.7 265.1,390.8 267.1,391.0 269.1,391.1 271.1,391.3 273.1,391.4 275.1,391.5 277.1,391.7 279.1,391.9 281.1,392.0 283.0,392.3 285.0,392.6 287.0,393.1 288.9,393.4 290.9,393.6 292.9,393.8 294.9,394.2 296.6,395.1 298.1,396.5 299.4,398.0 299.4,404.4 28.1,404.4" fill="#fc643d"/>
<polygon points="28.1,355.7 92.8,354.8 92.1,356.6 91.9,358.6 92.7,360.4 94.0,361.8 95.5,363.1 97.2,364.2 98.9,365.2 100.7,366.1 102.5,367.0 104.3,367.7 106.2,368.4 108.0,369.1 109.9,369.7 111.8,370.4 113.7,371.1 115.6,371.7 117.5,372.2 119.4,372.6 121.4,373.0 123.3,373.4 125.3,373.8 127.3,374.1 129.2,374.5 131.2,374.8 133.1,375.1 135.1,375.5 137.1,375.8 139.0,376.1 141.0,376.5 143.0,376.8 144.9,377.1 146.9,377.4 148.9,377.7 150.8,378.0 152.8,378.3 154.8,378.6 156.7,378.9 158.7,379.2 160.7,379.4 162.7,379.7 164.6,380.0 166.6,380.3 168.6,380.5 170.5,380.8 172.5,381.1 174.5,381.3 176.5,381.6 178.4,381.8 180.4,382.1 182.4,382.4 184.4,382.6 186.3,382.9 188.3,383.2 190.3,383.4 192.3,383.7 194.2,383.9 196.2,384.2 198.2,384.4 200.2,384.6 202.1,384.9 204.1,385.1 206.1,385.3 208.1,385.5 210.1,385.7 212.0,385.9 214.0,386.0 216.0,386.2 218.0,386.4 220.0,386.6 221.9,386.9 223.9,387.1 225.9,387.3 227.9,387.5 229.9,387.7 231.8,388.0 233.8,388.2 235.8,388.4 237.8,388.6 239.8,388.8 241.7,389.0 243.7,389.2 245.7,389.4 247.7,389.6 249.7,389.8 251.7,390.0 253.6,390.2 255.6,390.3 257.6,390.5 259.6,390.7 261.6,390.8 263.6,391.0 265.5,391.1 267.5,391.2 269.5,391.4 271.5,391.5 273.5,391.6 275.5,391.8 277.5,391.9 279.4,392.1 281.4,392.3 283.4,392.7 285.3,393.2 287.3,393.5 289.3,393.7 291.2,393.8 293.2,394.2 294.9,395.1 296.4,396.5 297.7,398.0 297.7,404.4 28.1,404.4" fill="#fd5d3e"/>
<polygon points="28.1,355.7 92.4,354.8 91.7,356.7 91.4,358.6 92.1,360.5 93.4,362.0 94.9,363.2 96.5,364.3 98.2,365.4 100.0,366.3 101.8,367.2 103.6,367.9 105.4,368.6 107.3,369.3 109.2,369.9 111.1,370.6 112.9,371.3 114.8,372.0 116.7,372.5 118.6,372.9 120.5,373.3 122.5,373.7 124.4,374.1 126.4,374.4 128.3,374.8 130.3,375.1 132.2,375.4 134.2,375.8 136.2,376.1 138.1,376.4 140.1,376.7 142.0,377.1 144.0,377.4 145.9,377.7 147.9,378.0 149.8,378.3 151.8,378.6 153.8,378.9 155.7,379.2 157.7,379.5 159.6,379.7 161.6,380.0 163.6,380.3 165.5,380.6 167.5,380.8 169.5,381.1 171.4,381.3 173.4,381.6 175.4,381.9 177.3,382.1 179.3,382.4 181.2,382.6 183.2,382.9 185.2,383.2 187.1,383.4 189.1,383.7 191.1,383.9 193.0,384.2 195.0,384.4 197.0,384.7 198.9,384.9 200.9,385.1 202.9,385.3 204.8,385.5 206.8,385.7 208.8,385.9 210.8,386.1 212.7,386.3 214.7,386.5 216.7,386.7 218.6,386.9 220.6,387.1 222.6,387.3 224.5,387.5 226.5,387.7 228.5,388.0 230.5,388.2 232.4,388.4 234.4,388.6 236.4,388.8 238.3,389.0 240.3,389.2 242.3,389.4 244.2,389.6 246.2,389.8 248.2,390.0 250.2,390.1 252.1,390.3 254.1,390.5 256.1,390.6 258.1,390.8 260.0,391.0 262.0,391.1 264.0,391.2 266.0,391.4 267.9,391.5 269.9,391.6 271.9,391.7 273.9,391.9 275.9,392.0 277.8,392.2 279.8,392.4 281.7,392.8 283.7,393.2 285.6,393.6 287.6,393.7 289.6,393.9 291.5,394.2 293.3,395.2 294.7,396.5 296.0,398.0 296.0,404.4 28.1,404.4" fill="#fd553f"/>
<polygon points="28.1,355.7 92.4,355.5 91.7,357.3 91.4,359.3 92.1,361.1 93.4,362.6 94.9,363.9 96.5,365.0 98.2,366.0 100.0,367.0 101.8,367.8 103.6,368.6 105.4,369.3 107.3,370.0 109.2,370.6 111.1,371.3 112.9,372.0 114.8,372.6 116.7,373.2 118.6,373.6 120.5,374.0 122.5,374.4 124.4,374.7 126.4,375.1 128.3,375.4 130.3,375.8 132.2,376.1 134.2,376.4 136.2,376.8 138.1,377.1 140.1,377.4 142.0,377.7 144.0,378.0 145.9,378.4 147.9,378.7 149.8,379.0 151.8,379.3 153.8,379.5 155.7,379.8 157.7,380.1 159.6,380.4 161.6,380.7 163.6,380.9 165.5,381.2 167.5,381.5 169.5,381.7 171.4,382.0 173.4,382.3 175.4,382.5 177.3,382.8 179.3,383.0 181.2,383.3 183.2,383.6 185.2,383.8 187.1,384.1 189.1,384.4 191.1,384.6 193.0,384.9 195.0,385.1 197.0,385.3 198.9,385.6 200.9,385.8 202.9,386.0 204.8,386.2 206.8,386.4 208.8,386.6 210.8,386.8 212.7,386.9 214.7,387.1 216.7,387.3 218.6,387.5 220.6,387.7 222.6,388.0 224.5,388.2 226.5,388.4 228.5,388.6 230.5,388.9 232.4,389.1 234.4,389.3 236.4,389.5 238.3,389.7 240.3,389.9 242.3,390.1 244.2,390.3 246.2,390.5 248.2,390.6 250.2,390.8 252.1,391.0 254.1,391.1 256.1,391.3 258.1,391.5 260.0,391.6 262.0,391.8 264.0,391.9 266.0,392.0 267.9,392.1 269.9,392.3 271.9,392.4 273.9,392.5 275.9,392.7 277.8,392.9 279.8,393.1 281.7,393.4 283.7,393.9 285.6,394.2 287.6,394.4 289.6,394.5 291.5,394.9 293.3,395.8 294.7,397.2 296.0,398.7 296.0,404.4 28.1,404.4" fill="#fd4e40"/>
<polygon points="28.1,355.7 92.4,356.1 91.7,358.0 91.4,359.9 92.1,361.8 93.4,363.3 94.9,364.5 96.5,365.7 98.2,366.7 100.0,367.6 101.8,368.5 103.6,369.3 105.4,370.0 107.3,370.6 109.2,371.3 111.1,371.9 112.9,372.7 114.8,373.3 116.7,373.8 118.6,374.3 120.5,374.7 122.5,375.0 124.4,375.4 126.4,375.7 128.3,376.1 130.3,376.4 132.2,376.8 134.2,377.1 136.2,377.4 138.1,377.8 140.1,378.1 142.0,378.4 144.0,378.7 145.9,379.0 147.9,379.3 149.8,379.6 151.8,379.9 153.8,380.2 155.7,380.5 157.7,380.8 159.6,381.1 161.6,381.3 163.6,381.6 165.5,381.9 167.5,382.1 169.5,382.4 171.4,382.7 173.4,382.9 175.4,383.2 177.3,383.4 179.3,383.7 181.2,384.0 183.2,384.2 185.2,384.5 187.1,384.8 189.1,385.0 191.1,385.3 193.0,385.5 195.0,385.8 197.0,386.0 198.9,386.2 200.9,386.5 202.9,386.7 204.8,386.9 206.8,387.0 208.8,387.2 210.8,387.4 212.7,387.6 214.7,387.8 216.7,388.0 218.6,388.2 220.6,388.4 222.6,388.6 224.5,388.9 226.5,389.1 228.5,389.3 230.5,389.5 232.4,389.7 234.4,390.0 236.4,390.2 238.3,390.4 240.3,390.6 242.3,390.8 244.2,390.9 246.2,391.1 248.2,391.3 250.2,391.5 252.1,391.6 254.1,391.8 256.1,392.0 258.1,392.1 260.0,392.3 262.0,392.4 264.0,392.6 266.0,392.7 267.9,392.8 269.9,392.9 271.9,393.1 273.9,393.2 275.9,393.3 277.8,393.5 279.8,393.7 281.7,394.1 283.7,394.6 285.6,394.9 287.6,395.1 289.6,395.2 291.5,395.6 293.3,396.5 294.7,397.9 296.0,399.3 296.0,404.4 28.1,404.4" fill="#fd4840"/>
<polygon points="28.1,355.7 92.4,356.8 91.7,358.7 91.4,360.6 92.1,362.5 93.4,364.0 94.9,365.2 96.5,366.3 98.2,367.4 100.0,368.3 101.8,369.2 103.6,369.9 105.4,370.6 107.3,371.3 109.2,371.9 111.1,372.6 112.9,373.3 114.8,374.0 116.7,374.5 118.6,374.9 120.5,375.3 122.5,375.7 124.4,376.1 126.4,376.4 128.3,376.8 130.3,377.1 132.2,377.4 134.2,377.8 136.2,378.1 138.1,378.4 140.1,378.7 142.0,379.1 144.0,379.4 145.9,379.7 147.9,380.0 149.8,380.3 151.8,380.6 153.8,380.9 155.7,381.2 157.7,381.5 159.6,381.7 161.6,382.0 163.6,382.3 165.5,382.6 167.5,382.8 169.5,383.1 171.4,383.3 173.4,383.6 175.4,383.9 177.3,384.1 179.3,384.4 181.2,384.6 183.2,384.9 185.2,385.2 187.1,385.4 189.1,385.7 191.1,385.9 193.0,386.2 195.0,386.4 197.0,386.7 198.9,386.9 200.9,387.1 202.9,387.3 204.8,387.5 206.8,387.7 208.8,387.9 210.8,388.1 212.7,388.3 214.7,388.5 216.7,388.7 218.6,388.9 220.6,389.1 222.6,389.3 224.5,389.5 226.5,389.7 228.5,390.0 230.5,390.2 232.4,390.4 234.4,390.6 236.4,390.8 238.3,391.0 240.3,391.2 242.3,391.4 244.2,391.6 246.2,391.8 248.2,392.0 250.2,392.1 252.1,392.3 254.1,392.5 256.1,392.6 258.1,392.8 260.0,393.0 262.0,393.1 264.0,393.2 266.0,393.4 267.9,393.5 269.9,393.6 271.9,393.7 273.9,393.9 275.9,394.0 277.8,394.2 279.8,394.4 281.7,394.8 283.7,395.2 285.6,395.6 287.6,395.7 289.6,395.9 291.5,396.2 293.3,397.2 294.7,398.5 296.0,400.0 296.0,404.4 28.1,404.4" fill="#fd4141"/>
</g>
<path d="M92.40,354.80 C92.25,355.25 91.62,356.68 91.50,357.50 C91.38,358.32 91.40,358.97 91.70,359.70 C92.00,360.43 92.45,361.10 93.30,361.90 C94.15,362.70 95.48,363.67 96.80,364.50 C98.12,365.33 99.73,366.20 101.20,366.90 C102.67,367.60 104.13,368.15 105.60,368.70 C107.07,369.25 107.93,369.52 110.00,370.20 C112.07,370.88 113.33,371.77 118.00,372.80 C122.67,373.83 131.33,375.28 138.00,376.40 C144.67,377.52 151.33,378.53 158.00,379.50 C164.67,380.47 171.33,381.32 178.00,382.20 C184.67,383.08 191.33,384.03 198.00,384.80 C204.67,385.57 211.33,386.10 218.00,386.80 C224.67,387.50 231.33,388.33 238.00,389.00 C244.67,389.67 251.33,390.27 258.00,390.80 C264.67,391.33 273.50,391.75 278.00,392.20 C282.50,392.65 282.67,393.13 285.00,393.50 C287.33,393.87 290.17,393.65 292.00,394.40 C293.83,395.15 295.33,397.40 296.00,398.00" fill="none" stroke="#000" stroke-opacity="0.78" stroke-width="1.05"/>
<path d="M98.50,354.00 C98.47,354.28 98.15,355.05 98.30,355.70 C98.45,356.35 98.92,357.32 99.40,357.90 C99.88,358.48 100.17,358.65 101.20,359.20 C102.23,359.75 104.13,360.62 105.60,361.20 C107.07,361.78 107.93,361.93 110.00,362.70 C112.07,363.47 113.33,364.72 118.00,365.80 C122.67,366.88 131.33,368.07 138.00,369.20 C144.67,370.33 151.33,371.57 158.00,372.60 C164.67,373.63 171.33,374.45 178.00,375.40 C184.67,376.35 191.33,377.42 198.00,378.30 C204.67,379.18 211.33,379.90 218.00,380.70 C224.67,381.50 231.33,382.33 238.00,383.10 C244.67,383.87 251.33,384.48 258.00,385.30 C264.67,386.12 272.67,387.33 278.00,388.00 C283.33,388.67 286.33,388.87 290.00,389.30 C293.67,389.73 296.67,390.15 300.00,390.60 C303.33,391.05 307.33,391.55 310.00,392.00 C312.67,392.45 314.33,392.90 316.00,393.30 C317.67,393.70 318.83,393.62 320.00,394.40 C321.17,395.18 322.50,397.40 323.00,398.00" fill="none" stroke="#000" stroke-opacity="0.78" stroke-width="1.05"/>
<path d="M110.00,352.70 C111.33,353.03 113.33,353.82 118.00,354.70 C122.67,355.58 131.33,356.87 138.00,358.00 C144.67,359.13 151.33,360.47 158.00,361.50 C164.67,362.53 171.33,363.35 178.00,364.20 C184.67,365.05 191.33,365.80 198.00,366.60 C204.67,367.40 211.33,368.02 218.00,369.00 C224.67,369.98 231.33,371.40 238.00,372.50 C244.67,373.60 251.33,374.47 258.00,375.60 C264.67,376.73 272.67,378.32 278.00,379.30 C283.33,380.28 286.33,380.85 290.00,381.50 C293.67,382.15 296.67,382.48 300.00,383.20 C303.33,383.92 306.67,384.85 310.00,385.80 C313.33,386.75 317.33,387.87 320.00,388.90 C322.67,389.93 324.67,391.20 326.00,392.00 C327.33,392.80 327.53,393.30 328.00,393.70 C328.47,394.10 328.63,393.68 328.80,394.40 C328.97,395.12 328.97,397.40 329.00,398.00" fill="none" stroke="#000" stroke-opacity="0.78" stroke-width="1.05"/>
<text x="223.6" y="367.3" font-size="9.6" text-anchor="middle" fill="#000" transform="rotate(8.5 223.6 367.3)" stroke="#000">1 g/L</text>
<text x="182.6" y="374.6" font-size="9.6" text-anchor="middle" fill="#000" transform="rotate(7.5 182.6 374.6)" stroke="#000">10 g/L</text>
<text x="158.0" y="390.0" font-size="9.6" text-anchor="middle" fill="#000" transform="rotate(8.0 158.0 390.0)" stroke="#000">30 g/L</text>
<text x="49.1" y="380.8" font-size="10" fill="#a50d0d" stroke="#a50d0d">Seawater</text>
<rect x="292.8" y="340.5" width="29.8" height="21.5" fill="#fff"/>
<rect x="334.8" y="346.5" width="29.8" height="21.5" fill="#fff"/>
<line x1="33.1" y1="352.6" x2="292.8" y2="352.6" stroke="#111" stroke-width="1.5" stroke-dasharray="4.3 2.2" stroke-dashoffset="-1.0"/>
<line x1="322.6" y1="352.6" x2="334.8" y2="352.6" stroke="#111" stroke-width="1.5" stroke-dasharray="4.3 2.2" stroke-dashoffset="-1.0"/>
<line x1="364.6" y1="352.6" x2="669.6" y2="352.6" stroke="#111" stroke-width="1.5" stroke-dasharray="4.3 2.2" stroke-dashoffset="-1.0"/>
<polyline points="33.1,355.7 60.0,355.4 86.6,355.1 91.0,354.3 94.7,352.9 99.4,352.7 100.6,352.4 104.0,349.8 108.7,348.7 116.4,347.1 125.2,343.1 131.7,342.0 146.0,342.0 200.0,340.6 230.0,339.2 252.0,336.9 280.0,334.5 300.0,332.2 372.0,330.3 424.0,328.8 460.0,326.4 540.3,321.0 612.6,319.2 636.4,317.7 669.6,315.1" fill="none" stroke="#111" stroke-width="1.2" stroke-linejoin="round"/>
<line x1="146.0" y1="342.0" x2="146.0" y2="353.6" stroke="#111" stroke-width="1.3"/>
<text x="147.3" y="326.2" font-size="9.0" text-anchor="middle" font-weight="bold" fill="#111"  stroke="#111">SIM 2</text>
<text x="147.3" y="337.1" font-size="9.0" text-anchor="middle" font-weight="normal" fill="#222"  stroke="#222">0.274 m</text>
<line x1="252.3" y1="336.9" x2="252.3" y2="373.6" stroke="#111" stroke-width="1.3"/>
<text x="253.3" y="319.2" font-size="9.0" text-anchor="middle" font-weight="bold" fill="#111"  stroke="#111">SIM 1</text>
<text x="253.3" y="330.1" font-size="9.0" text-anchor="middle" font-weight="normal" fill="#222"  stroke="#222">0.547 m</text>
<line x1="372.6" y1="330.3" x2="372.6" y2="376.4" stroke="#111" stroke-width="1.3"/>
<text x="373.5" y="314.3" font-size="9.0" text-anchor="middle" font-weight="bold" fill="#111"  stroke="#111">SIM 3</text>
<text x="373.5" y="325.2" font-size="9.0" text-anchor="middle" font-weight="normal" fill="#222"  stroke="#222">0.697 m</text>
<line x1="612.6" y1="319.2" x2="612.6" y2="394.4" stroke="#111" stroke-width="1.3"/>
<text x="612.9" y="302.7" font-size="9.0" text-anchor="middle" font-weight="bold" fill="#111"  stroke="#111">SIM 6</text>
<text x="612.9" y="313.6" font-size="9.0" text-anchor="middle" font-weight="normal" fill="#222"  stroke="#222">0.965 m</text>
<text x="294.3" y="348.9" font-size="9.6" text-anchor="start" font-weight="normal" fill="#222"  stroke="#222">30 g/L</text>
<text x="294.3" y="360.1" font-size="9.6" text-anchor="start" font-weight="normal" fill="#222"  stroke="#222">128 m</text>
<polygon points="283.3,393.2 285.3,386.4 289.7,390.1" fill="#111"/>
<line x1="308.4" y1="363.6" x2="287.0" y2="388.9" stroke="#111" stroke-width="1.7"/>
<text x="337.2" y="354.9" font-size="9.6" text-anchor="start" font-weight="normal" fill="#222"  stroke="#222">1 g/L</text>
<text x="337.2" y="366.1" font-size="9.6" text-anchor="start" font-weight="normal" fill="#222"  stroke="#222">158 m</text>
<polygon points="329.3,392.5 331.2,385.6 335.7,389.3" fill="#111"/>
<line x1="348.8" y1="368.9" x2="332.9" y2="388.1" stroke="#111" stroke-width="1.7"/>
<text x="65.2" y="339.0" font-size="9.6" text-anchor="start" font-weight="normal" fill="#111"  stroke="#111">SGD</text>
<polygon points="95.2,351.6 90.7,348.5 94.5,346.2" fill="#111"/>
<polyline points="67.0,342.0 89.4,342.0 93.0,348.0" fill="none" stroke="#111" stroke-width="1.1"/>
<polygon points="576.9,374.1 587.4,368.7 587.4,379.5" fill="#0b63c1"/>
<rect x="586.9" y="372.5" width="82.7" height="3.3" fill="#0b63c1"/>
<text x="618.0" y="390.1" font-size="9.5" text-anchor="start" font-weight="bold" fill="#0b63c1"  stroke="#0b63c1">2 ML/year</text>
<text x="526.9" y="388.9" font-size="9.6" text-anchor="start" font-weight="normal" fill="#26468c"  stroke="#26468c">Fresh water</text>
<rect x="620.5" y="328.40000000000003" width="39.2" height="37.2" rx="5" fill="#fff" fill-opacity="0.35"/>
<path d="M625.5,361.6 L625.5,332.40000000000003 A29.2,29.2 0 0 1 654.7,361.6 Z" fill="#fff" fill-opacity="0.5" stroke="#555" stroke-width="0.9"/>
<line x1="625.5" y1="361.6" x2="654.7" y2="361.6" stroke="#333" stroke-width="1.2"/>
<line x1="625.5" y1="361.6" x2="653.7" y2="354.0" stroke="#222" stroke-width="1"/>
<line x1="635.5" y1="361.6" x2="635.5" y2="358.9" stroke="#222" stroke-width="0.8"/>
<text x="629.2" y="351.2" font-size="9.6" text-anchor="start" font-weight="normal" fill="#1a1a1a"  stroke="#1a1a1a">15°</text>
</g>
<text x="39.5" y="295.1" font-size="9.8" fill="#111" stroke="#111"><tspan font-weight="bold">C.</tspan></text>
<text x="39.5" y="306.8" font-size="9.8" fill="#111" stroke="#111">K<tspan font-size="8.6" dy="2.2">x</tspan><tspan dy="-2.2" dx="0.7">/ K</tspan><tspan font-size="8.6" dy="2.2">y</tspan><tspan dy="-2.2" dx="1.0"> = 10</tspan></text>
<text x="39.5" y="320.0" font-size="9.8" fill="#111" stroke="#111">Angle = 15°</text>
<rect x="33.1" y="282.4" width="636.5" height="112.0" fill="none" stroke="#000" stroke-opacity="0.42" stroke-width="1.3"/>
<line x1="33.1" y1="394.4" x2="669.6" y2="394.4" stroke="#1a1a1a" stroke-width="1.3"/>
<path d="M33.1,380.8h3.0 M33.1,366.7h1.6 M33.1,352.6h3.0 M33.1,338.5h1.6 M33.1,324.4h3.0 M33.1,310.4h1.6 M33.1,296.3h3.0 M47.2,394.4v-1.6 M61.4,394.4v-1.6 M75.5,394.4v-1.6 M89.7,394.4v-1.6 M103.8,394.4v-3.0 M118.0,394.4v-1.6 M132.1,394.4v-1.6 M146.3,394.4v-1.6 M160.4,394.4v-1.6 M174.5,394.4v-3.0 M188.7,394.4v-1.6 M202.8,394.4v-1.6 M217.0,394.4v-1.6 M231.1,394.4v-1.6 M245.3,394.4v-3.0 M259.4,394.4v-1.6 M273.6,394.4v-1.6 M287.7,394.4v-1.6 M301.8,394.4v-1.6 M316.0,394.4v-3.0 M330.1,394.4v-1.6 M344.3,394.4v-1.6 M358.4,394.4v-1.6 M372.6,394.4v-1.6 M386.7,394.4v-3.0 M400.9,394.4v-1.6 M415.0,394.4v-1.6 M429.1,394.4v-1.6 M443.3,394.4v-1.6 M457.4,394.4v-3.0 M471.6,394.4v-1.6 M485.7,394.4v-1.6 M499.9,394.4v-1.6 M514.0,394.4v-1.6 M528.2,394.4v-3.0 M542.3,394.4v-1.6 M556.4,394.4v-1.6 M570.6,394.4v-1.6 M584.7,394.4v-1.6 M598.9,394.4v-3.0 M613.0,394.4v-1.6 M627.2,394.4v-1.6 M641.3,394.4v-1.6 M655.5,394.4v-1.6" stroke="#333" stroke-width="0.9" fill="none"/>
<text x="30.2" y="299.4" font-size="8.8" text-anchor="end" font-weight="normal" fill="#222"  stroke="#222">40</text>
<text x="30.2" y="327.6" font-size="8.8" text-anchor="end" font-weight="normal" fill="#222"  stroke="#222">20</text>
<text x="30.2" y="355.8" font-size="8.8" text-anchor="end" font-weight="normal" fill="#222"  stroke="#222">0</text>
<text x="30.2" y="383.9" font-size="8.8" text-anchor="end" font-weight="normal" fill="#222"  stroke="#222">−20</text>
<text x="33.1" y="403.6" font-size="8.8" text-anchor="middle" font-weight="normal" fill="#222"  stroke="#222">−50</text>
<text x="103.8" y="403.6" font-size="8.8" text-anchor="middle" font-weight="normal" fill="#222"  stroke="#222">0</text>
<text x="174.5" y="403.6" font-size="8.8" text-anchor="middle" font-weight="normal" fill="#222"  stroke="#222">50</text>
<text x="245.3" y="403.6" font-size="8.8" text-anchor="middle" font-weight="normal" fill="#222"  stroke="#222">100</text>
<text x="316.0" y="403.6" font-size="8.8" text-anchor="middle" font-weight="normal" fill="#222"  stroke="#222">150</text>
<text x="386.7" y="403.6" font-size="8.8" text-anchor="middle" font-weight="normal" fill="#222"  stroke="#222">200</text>
<text x="457.4" y="403.6" font-size="8.8" text-anchor="middle" font-weight="normal" fill="#222"  stroke="#222">250</text>
<text x="528.2" y="403.6" font-size="8.8" text-anchor="middle" font-weight="normal" fill="#222"  stroke="#222">300</text>
<text x="598.9" y="403.6" font-size="8.8" text-anchor="middle" font-weight="normal" fill="#222"  stroke="#222">350</text>
<text x="669.6" y="403.6" font-size="8.8" text-anchor="middle" font-weight="normal" fill="#222"  stroke="#222">400</text>
<text x="8.6" y="338.4" font-size="8.8" text-anchor="middle" fill="#222" transform="rotate(-90 8.6 338.4)" stroke="#222">Elevation (mASL)</text>
<clipPath id="axD"><rect x="33.1" y="409.7" width="636.5" height="112.5"/></clipPath>
<clipPath id="satD"><polygon points="28.1,485.0 33.1,485.0 60.0,484.2 86.6,483.3 92.0,482.3 96.2,481.2 97.7,481.2 674.6,481.2 674.6,527.2 28.1,527.2"/></clipPath>
<rect x="33.1" y="409.7" width="636.5" height="112.5" fill="#fcfcfc"/>
<g clip-path="url(#axD)"><g clip-path="url(#satD)">
<polygon points="28.1,484.5 98.0,480.0 100.3,480.0 102.5,480.0 104.8,480.0 107.1,480.0 109.4,480.0 111.7,480.0 113.9,480.0 116.2,480.0 118.5,480.0 120.8,480.0 123.0,480.0 125.3,480.0 127.6,480.0 129.9,480.0 132.1,480.0 134.4,480.0 136.7,480.0 139.0,480.0 141.2,480.0 143.5,480.0 145.8,480.1 148.1,480.1 150.3,480.1 152.6,480.1 154.9,480.1 157.1,480.1 159.4,480.1 161.7,480.2 164.0,480.2 166.2,480.2 168.5,480.2 170.8,480.3 173.1,480.3 175.3,480.4 177.6,480.4 179.9,480.5 182.2,480.6 184.4,480.7 186.7,480.9 189.0,481.1 191.2,481.4 193.5,481.8 195.6,482.5 197.7,483.3 199.9,484.0 202.1,484.6 204.3,485.3 206.4,486.1 208.6,486.9 210.7,487.6 212.9,488.2 215.1,488.8 217.3,489.3 219.5,489.8 221.8,490.2 224.0,490.6 226.2,491.0 228.5,491.4 230.7,491.7 233.0,492.1 235.2,492.4 237.5,492.8 239.7,493.1 242.0,493.5 244.2,493.8 246.5,494.1 248.7,494.5 251.0,494.8 253.2,495.2 255.5,495.6 257.7,496.0 259.9,496.3 262.2,496.7 264.4,497.1 266.7,497.5 268.9,497.9 271.1,498.4 273.4,498.8 275.6,499.2 277.8,499.6 280.1,500.0 282.3,500.5 284.5,500.9 286.8,501.4 289.0,501.8 291.2,502.2 293.5,502.7 295.7,503.1 297.9,503.6 300.2,504.1 302.4,504.5 304.6,505.0 306.8,505.6 309.0,506.2 311.2,506.9 313.3,507.7 315.4,508.6 317.5,509.5 319.5,510.6 321.5,511.7 323.5,512.8 325.4,513.9 327.4,515.1 329.2,516.4 330.9,517.9 332.3,519.8 333.3,521.8 334.2,523.9 335.0,526.0 335.0,532.2 28.1,532.2" fill="#fafafc"/>
<polygon points="28.1,484.5 98.1,480.0 100.3,479.9 102.6,479.9 104.8,479.9 107.1,480.0 109.3,480.0 111.6,480.1 113.9,480.1 116.1,480.2 118.4,480.2 120.7,480.2 122.9,480.3 125.2,480.3 127.5,480.3 129.7,480.4 132.0,480.4 134.3,480.4 136.5,480.5 138.8,480.5 141.1,480.5 143.3,480.6 145.6,480.6 147.9,480.6 150.1,480.7 152.4,480.7 154.7,480.8 156.9,480.8 159.2,480.8 161.5,480.9 163.7,480.9 166.0,481.0 168.3,481.0 170.5,481.1 172.8,481.2 175.1,481.2 177.3,481.3 179.6,481.4 181.8,481.5 184.1,481.7 186.4,481.8 188.6,482.0 190.9,482.3 193.1,482.8 195.3,483.4 197.4,484.2 199.6,484.8 201.8,485.4 203.9,486.0 206.1,486.8 208.2,487.5 210.4,488.2 212.5,488.9 214.7,489.4 217.0,489.9 219.2,490.3 221.4,490.8 223.6,491.2 225.9,491.5 228.1,491.9 230.4,492.3 232.6,492.6 234.8,493.0 237.1,493.3 239.3,493.7 241.6,494.0 243.8,494.4 246.1,494.7 248.3,495.0 250.5,495.4 252.8,495.7 255.0,496.1 257.3,496.5 259.5,496.9 261.7,497.3 264.0,497.7 266.2,498.1 268.4,498.5 270.7,498.9 272.9,499.3 275.1,499.7 277.3,500.1 279.6,500.6 281.8,501.0 284.0,501.4 286.3,501.9 288.5,502.3 290.7,502.7 292.9,503.2 295.2,503.6 297.4,504.1 299.6,504.5 301.8,505.0 304.0,505.5 306.2,506.0 308.4,506.6 310.6,507.3 312.7,508.1 314.8,508.9 316.9,509.9 318.9,510.9 320.9,512.0 322.9,513.0 324.9,514.1 326.8,515.3 328.7,516.6 330.4,518.0 331.8,519.8 332.9,521.8 333.7,523.9 334.5,526.0 334.5,532.2 28.1,532.2" fill="#f1f5fa"/>
<polygon points="28.1,484.5 98.1,480.1 100.3,479.9 102.6,479.8 104.8,479.8 107.1,479.9 109.3,480.1 111.6,480.2 113.8,480.2 116.1,480.3 118.3,480.4 120.6,480.5 122.8,480.5 125.1,480.6 127.3,480.6 129.6,480.7 131.9,480.8 134.1,480.8 136.4,480.9 138.6,481.0 140.9,481.0 143.1,481.1 145.4,481.1 147.7,481.2 149.9,481.3 152.2,481.3 154.4,481.4 156.7,481.5 159.0,481.5 161.2,481.6 163.5,481.7 165.7,481.8 168.0,481.8 170.2,481.9 172.5,482.0 174.8,482.1 177.0,482.2 179.3,482.3 181.5,482.5 183.8,482.6 186.0,482.8 188.3,483.0 190.5,483.3 192.8,483.7 194.9,484.3 197.0,485.1 199.2,485.7 201.4,486.2 203.6,486.8 205.7,487.5 207.9,488.2 210.0,488.9 212.2,489.5 214.4,490.0 216.6,490.5 218.8,490.9 221.1,491.3 223.3,491.7 225.5,492.1 227.8,492.4 230.0,492.8 232.2,493.2 234.5,493.5 236.7,493.9 238.9,494.2 241.2,494.6 243.4,494.9 245.6,495.3 247.9,495.6 250.1,495.9 252.3,496.3 254.6,496.7 256.8,497.0 259.0,497.4 261.3,497.8 263.5,498.2 265.7,498.6 267.9,499.0 270.2,499.4 272.4,499.8 274.6,500.2 276.8,500.6 279.1,501.1 281.3,501.5 283.5,501.9 285.7,502.4 287.9,502.8 290.2,503.2 292.4,503.7 294.6,504.1 296.8,504.5 299.0,505.0 301.3,505.4 303.5,505.9 305.7,506.5 307.8,507.0 310.0,507.7 312.1,508.4 314.2,509.3 316.3,510.2 318.3,511.2 320.3,512.2 322.3,513.3 324.3,514.3 326.3,515.5 328.2,516.7 329.9,518.1 331.3,519.9 332.5,521.8 333.3,523.9 334.0,526.0 334.0,532.2 28.1,532.2" fill="#e7f0f7"/>
<polygon points="28.1,484.5 98.2,480.1 100.4,479.8 102.6,479.6 104.8,479.7 107.1,479.9 109.3,480.1 111.5,480.2 113.7,480.4 116.0,480.5 118.2,480.6 120.5,480.7 122.7,480.8 125.0,480.9 127.2,480.9 129.5,481.0 131.7,481.1 134.0,481.2 136.2,481.3 138.5,481.4 140.7,481.5 143.0,481.6 145.2,481.7 147.5,481.8 149.7,481.9 152.0,482.0 154.2,482.1 156.5,482.2 158.7,482.2 161.0,482.3 163.2,482.4 165.5,482.5 167.7,482.6 170.0,482.7 172.2,482.8 174.5,483.0 176.7,483.1 179.0,483.2 181.2,483.4 183.5,483.5 185.7,483.7 188.0,483.9 190.2,484.2 192.4,484.6 194.6,485.2 196.7,485.9 198.9,486.5 201.1,487.0 203.2,487.6 205.4,488.3 207.5,488.9 209.7,489.5 211.9,490.1 214.1,490.6 216.3,491.0 218.5,491.5 220.7,491.9 222.9,492.2 225.2,492.6 227.4,493.0 229.6,493.3 231.8,493.7 234.1,494.1 236.3,494.4 238.5,494.8 240.7,495.1 243.0,495.5 245.2,495.8 247.4,496.2 249.7,496.5 251.9,496.8 254.1,497.2 256.3,497.5 258.6,497.9 260.8,498.3 263.0,498.7 265.2,499.1 267.5,499.5 269.7,499.9 271.9,500.3 274.1,500.7 276.3,501.1 278.5,501.6 280.8,502.0 283.0,502.4 285.2,502.8 287.4,503.3 289.6,503.7 291.8,504.1 294.0,504.6 296.3,505.0 298.5,505.4 300.7,505.9 302.9,506.4 305.1,506.9 307.3,507.5 309.4,508.1 311.6,508.8 313.7,509.6 315.7,510.5 317.8,511.5 319.8,512.5 321.8,513.5 323.8,514.5 325.7,515.6 327.6,516.9 329.4,518.3 330.9,519.9 332.0,521.8 332.8,523.9 333.5,526.0 333.5,532.2 28.1,532.2" fill="#deebf5"/>
<polygon points="28.1,484.5 98.3,480.1 100.4,479.7 102.6,479.5 104.8,479.6 107.1,479.8 109.2,480.1 111.5,480.3 113.7,480.5 115.9,480.6 118.2,480.8 120.4,480.9 122.6,481.0 124.9,481.1 127.1,481.3 129.4,481.4 131.6,481.5 133.8,481.6 136.1,481.7 138.3,481.9 140.6,482.0 142.8,482.1 145.0,482.2 147.3,482.4 149.5,482.5 151.8,482.6 154.0,482.7 156.2,482.8 158.5,483.0 160.7,483.1 163.0,483.2 165.2,483.3 167.4,483.4 169.7,483.6 171.9,483.7 174.2,483.8 176.4,484.0 178.7,484.1 180.9,484.3 183.1,484.5 185.4,484.7 187.6,484.9 189.8,485.2 192.1,485.6 194.2,486.2 196.4,486.8 198.5,487.3 200.7,487.8 202.9,488.4 205.0,489.0 207.2,489.6 209.4,490.2 211.5,490.7 213.7,491.2 215.9,491.6 218.1,492.0 220.4,492.4 222.6,492.8 224.8,493.1 227.0,493.5 229.2,493.9 231.5,494.3 233.7,494.6 235.9,495.0 238.1,495.3 240.3,495.7 242.6,496.0 244.8,496.4 247.0,496.7 249.2,497.0 251.5,497.4 253.7,497.7 255.9,498.1 258.1,498.4 260.3,498.8 262.6,499.2 264.8,499.6 267.0,500.0 269.2,500.4 271.4,500.8 273.6,501.2 275.8,501.7 278.0,502.1 280.2,502.5 282.4,502.9 284.7,503.3 286.9,503.8 289.1,504.2 291.3,504.6 293.5,505.0 295.7,505.5 297.9,505.9 300.1,506.3 302.3,506.8 304.5,507.3 306.7,507.9 308.8,508.5 311.0,509.2 313.1,510.0 315.1,510.9 317.2,511.8 319.2,512.8 321.2,513.7 323.2,514.7 325.2,515.8 327.1,517.0 328.9,518.4 330.4,520.0 331.6,521.8 332.4,523.9 333.0,526.0 333.0,532.2 28.1,532.2" fill="#d4e6f3"/>
<polygon points="28.1,484.5 98.3,480.1 100.4,479.6 102.6,479.4 104.8,479.5 107.0,479.7 109.2,480.1 111.4,480.4 113.6,480.6 115.9,480.8 118.1,480.9 120.3,481.1 122.5,481.3 124.8,481.4 127.0,481.6 129.2,481.7 131.5,481.9 133.7,482.0 135.9,482.2 138.2,482.3 140.4,482.5 142.6,482.6 144.8,482.8 147.1,482.9 149.3,483.1 151.5,483.2 153.8,483.4 156.0,483.5 158.2,483.7 160.5,483.8 162.7,483.9 164.9,484.1 167.2,484.2 169.4,484.4 171.6,484.5 173.9,484.7 176.1,484.9 178.3,485.0 180.6,485.2 182.8,485.4 185.0,485.6 187.3,485.9 189.5,486.2 191.7,486.5 193.9,487.1 196.0,487.7 198.2,488.2 200.4,488.6 202.6,489.1 204.7,489.7 206.9,490.3 209.0,490.8 211.2,491.3 213.4,491.8 215.6,492.2 217.8,492.6 220.0,492.9 222.2,493.3 224.4,493.7 226.7,494.1 228.9,494.4 231.1,494.8 233.3,495.2 235.5,495.5 237.7,495.9 239.9,496.2 242.1,496.6 244.4,496.9 246.6,497.3 248.8,497.6 251.0,497.9 253.2,498.3 255.4,498.6 257.7,499.0 259.9,499.3 262.1,499.7 264.3,500.1 266.5,500.5 268.7,500.9 270.9,501.3 273.1,501.7 275.3,502.2 277.5,502.6 279.7,503.0 281.9,503.4 284.1,503.8 286.3,504.3 288.5,504.7 290.7,505.1 292.9,505.5 295.1,505.9 297.3,506.4 299.5,506.8 301.7,507.2 303.9,507.8 306.1,508.3 308.3,508.9 310.4,509.6 312.5,510.4 314.6,511.2 316.6,512.1 318.6,513.0 320.7,514.0 322.7,515.0 324.7,516.0 326.6,517.2 328.4,518.5 329.9,520.0 331.2,521.8 331.9,523.9 332.5,526.0 332.5,532.2 28.1,532.2" fill="#cbe1f0"/>
<polygon points="28.1,484.5 98.4,480.1 100.4,479.5 102.6,479.2 104.8,479.4 107.0,479.7 109.2,480.1 111.4,480.5 113.6,480.7 115.8,480.9 118.0,481.1 120.2,481.3 122.4,481.5 124.7,481.7 126.9,481.9 129.1,482.1 131.3,482.2 133.5,482.4 135.8,482.6 138.0,482.8 140.2,483.0 142.4,483.1 144.7,483.3 146.9,483.5 149.1,483.7 151.3,483.8 153.6,484.0 155.8,484.2 158.0,484.4 160.2,484.5 162.5,484.7 164.7,484.9 166.9,485.0 169.1,485.2 171.4,485.4 173.6,485.6 175.8,485.7 178.0,485.9 180.3,486.1 182.5,486.3 184.7,486.6 186.9,486.8 189.1,487.1 191.3,487.5 193.5,488.0 195.7,488.5 197.8,489.0 200.0,489.4 202.2,489.9 204.4,490.4 206.5,491.0 208.7,491.5 210.9,491.9 213.1,492.3 215.3,492.7 217.5,493.1 219.7,493.5 221.9,493.8 224.1,494.2 226.3,494.6 228.5,495.0 230.7,495.3 232.9,495.7 235.1,496.1 237.3,496.4 239.5,496.8 241.7,497.1 243.9,497.5 246.1,497.8 248.4,498.1 250.6,498.5 252.8,498.8 255.0,499.1 257.2,499.5 259.4,499.9 261.6,500.2 263.8,500.6 266.0,501.0 268.2,501.4 270.4,501.8 272.6,502.3 274.8,502.7 277.0,503.1 279.2,503.5 281.4,503.9 283.6,504.3 285.8,504.8 288.0,505.2 290.2,505.6 292.4,506.0 294.6,506.4 296.8,506.8 299.0,507.2 301.2,507.7 303.3,508.2 305.5,508.7 307.7,509.3 309.8,510.0 311.9,510.7 314.0,511.6 316.0,512.4 318.1,513.3 320.1,514.2 322.1,515.2 324.1,516.2 326.0,517.3 327.8,518.6 329.5,520.1 330.8,521.8 331.5,523.8 332.0,526.0 332.0,532.2 28.1,532.2" fill="#c2dcee"/>
<polygon points="28.1,484.5 98.5,480.2 100.5,479.5 102.6,479.1 104.9,479.3 107.0,479.6 109.1,480.2 111.3,480.5 113.5,480.8 115.7,481.1 117.9,481.3 120.1,481.5 122.3,481.7 124.6,482.0 126.8,482.2 129.0,482.4 131.2,482.6 133.4,482.8 135.6,483.0 137.8,483.2 140.0,483.5 142.3,483.7 144.5,483.9 146.7,484.1 148.9,484.3 151.1,484.5 153.3,484.7 155.5,484.9 157.8,485.1 160.0,485.3 162.2,485.5 164.4,485.7 166.6,485.8 168.8,486.0 171.1,486.2 173.3,486.4 175.5,486.6 177.7,486.8 179.9,487.0 182.2,487.3 184.4,487.5 186.6,487.8 188.8,488.1 191.0,488.4 193.2,488.9 195.3,489.4 197.5,489.8 199.7,490.2 201.9,490.7 204.0,491.2 206.2,491.7 208.4,492.1 210.5,492.5 212.7,492.9 214.9,493.3 217.1,493.7 219.3,494.0 221.5,494.4 223.7,494.8 225.9,495.1 228.1,495.5 230.3,495.9 232.5,496.3 234.7,496.6 236.9,497.0 239.1,497.4 241.3,497.7 243.5,498.0 245.7,498.4 247.9,498.7 250.1,499.0 252.3,499.3 254.5,499.7 256.7,500.0 258.9,500.4 261.1,500.8 263.3,501.1 265.5,501.5 267.7,501.9 269.9,502.3 272.1,502.8 274.3,503.2 276.5,503.6 278.7,504.0 280.9,504.4 283.1,504.8 285.3,505.3 287.5,505.7 289.6,506.1 291.8,506.5 294.0,506.9 296.2,507.3 298.4,507.7 300.6,508.1 302.8,508.6 304.9,509.2 307.1,509.7 309.2,510.4 311.3,511.1 313.4,511.9 315.5,512.7 317.5,513.6 319.6,514.5 321.6,515.4 323.6,516.4 325.5,517.5 327.3,518.7 329.0,520.1 330.4,521.8 331.0,523.8 331.5,526.0 331.5,532.2 28.1,532.2" fill="#b8d7ec"/>
<polygon points="28.1,484.5 98.5,480.2 100.5,479.4 102.6,479.0 104.9,479.2 107.0,479.6 109.1,480.2 111.3,480.6 113.5,480.9 115.6,481.2 117.8,481.5 120.0,481.7 122.2,482.0 124.5,482.2 126.7,482.5 128.9,482.7 131.1,483.0 133.3,483.2 135.5,483.5 137.7,483.7 139.9,483.9 142.1,484.2 144.3,484.4 146.5,484.6 148.7,484.9 150.9,485.1 153.1,485.3 155.3,485.5 157.5,485.8 159.7,486.0 161.9,486.2 164.2,486.4 166.4,486.6 168.6,486.9 170.8,487.1 173.0,487.3 175.2,487.5 177.4,487.7 179.6,488.0 181.8,488.2 184.0,488.5 186.2,488.7 188.4,489.0 190.6,489.4 192.8,489.8 195.0,490.3 197.2,490.7 199.3,491.1 201.5,491.5 203.7,491.9 205.8,492.3 208.0,492.8 210.2,493.2 212.4,493.5 214.6,493.9 216.8,494.2 219.0,494.6 221.2,494.9 223.4,495.3 225.5,495.7 227.7,496.0 229.9,496.4 232.1,496.8 234.3,497.2 236.5,497.6 238.7,497.9 240.9,498.3 243.1,498.6 245.3,498.9 247.5,499.2 249.7,499.6 251.9,499.9 254.1,500.2 256.3,500.5 258.5,500.9 260.7,501.3 262.9,501.7 265.1,502.0 267.2,502.4 269.4,502.9 271.6,503.3 273.8,503.7 276.0,504.1 278.2,504.5 280.3,504.9 282.5,505.3 284.7,505.7 286.9,506.1 289.1,506.5 291.3,506.9 293.5,507.3 295.7,507.7 297.8,508.1 300.0,508.6 302.2,509.0 304.4,509.6 306.5,510.2 308.6,510.8 310.7,511.5 312.8,512.2 314.9,513.0 316.9,513.9 319.0,514.7 321.0,515.6 323.0,516.5 325.0,517.6 326.8,518.8 328.5,520.2 330.0,521.8 330.6,523.8 331.0,526.0 331.0,532.2 28.1,532.2" fill="#afd2e9"/>
<polygon points="28.1,484.5 98.6,480.2 100.5,479.3 102.7,478.8 104.9,479.0 107.0,479.5 109.1,480.2 111.2,480.7 113.4,481.0 115.6,481.4 117.8,481.7 120.0,482.0 122.2,482.2 124.3,482.5 126.5,482.8 128.7,483.1 130.9,483.4 133.1,483.6 135.3,483.9 137.5,484.2 139.7,484.4 141.9,484.7 144.1,485.0 146.3,485.2 148.5,485.5 150.7,485.7 152.9,486.0 155.1,486.2 157.3,486.5 159.5,486.7 161.7,487.0 163.9,487.2 166.1,487.4 168.3,487.7 170.5,487.9 172.7,488.2 174.9,488.4 177.1,488.6 179.3,488.9 181.5,489.1 183.7,489.4 185.9,489.7 188.1,490.0 190.3,490.3 192.5,490.7 194.6,491.1 196.8,491.5 199.0,491.9 201.2,492.2 203.3,492.6 205.5,493.0 207.7,493.4 209.9,493.8 212.0,494.1 214.2,494.4 216.4,494.8 218.6,495.1 220.8,495.5 223.0,495.8 225.2,496.2 227.4,496.6 229.5,497.0 231.7,497.4 233.9,497.7 236.1,498.1 238.3,498.5 240.5,498.8 242.7,499.1 244.9,499.5 247.1,499.8 249.3,500.1 251.4,500.4 253.6,500.7 255.8,501.1 258.0,501.4 260.2,501.8 262.4,502.2 264.6,502.6 266.8,503.0 268.9,503.4 271.1,503.8 273.3,504.2 275.5,504.6 277.6,505.0 279.8,505.4 282.0,505.8 284.2,506.2 286.4,506.6 288.5,507.0 290.7,507.4 292.9,507.8 295.1,508.2 297.3,508.6 299.5,509.0 301.6,509.5 303.8,510.0 305.9,510.6 308.0,511.2 310.2,511.8 312.3,512.6 314.3,513.3 316.4,514.1 318.4,514.9 320.5,515.8 322.5,516.7 324.4,517.8 326.3,518.9 328.0,520.3 329.5,521.8 330.1,523.8 330.5,526.0 330.5,532.2 28.1,532.2" fill="#a6cde7"/>
<polygon points="28.1,484.5 98.7,480.2 100.6,479.2 102.7,478.7 104.9,478.9 107.0,479.5 109.0,480.2 111.2,480.7 113.3,481.2 115.5,481.5 117.7,481.8 119.9,482.2 122.1,482.5 124.2,482.8 126.4,483.1 128.6,483.4 130.8,483.7 133.0,484.0 135.2,484.3 137.4,484.6 139.5,484.9 141.7,485.2 143.9,485.5 146.1,485.8 148.3,486.1 150.5,486.4 152.7,486.6 154.9,486.9 157.1,487.2 159.2,487.4 161.4,487.7 163.6,488.0 165.8,488.2 168.0,488.5 170.2,488.8 172.4,489.0 174.6,489.3 176.8,489.5 179.0,489.8 181.2,490.1 183.4,490.4 185.6,490.6 187.7,490.9 189.9,491.2 192.1,491.6 194.3,492.0 196.5,492.3 198.6,492.7 200.8,493.0 203.0,493.4 205.2,493.7 207.3,494.1 209.5,494.4 211.7,494.7 213.9,495.0 216.1,495.3 218.3,495.7 220.5,496.0 222.6,496.4 224.8,496.7 227.0,497.1 229.2,497.5 231.3,497.9 233.5,498.3 235.7,498.7 237.9,499.0 240.1,499.4 242.2,499.7 244.4,500.0 246.6,500.3 248.8,500.6 251.0,501.0 253.2,501.3 255.4,501.6 257.6,501.9 259.7,502.3 261.9,502.7 264.1,503.1 266.3,503.5 268.4,503.9 270.6,504.3 272.8,504.7 275.0,505.1 277.1,505.5 279.3,505.9 281.5,506.3 283.6,506.7 285.8,507.1 288.0,507.5 290.2,507.9 292.4,508.3 294.5,508.7 296.7,509.0 298.9,509.5 301.0,509.9 303.2,510.4 305.3,511.0 307.5,511.6 309.6,512.2 311.7,512.9 313.8,513.6 315.8,514.4 317.9,515.2 319.9,516.0 321.9,516.9 323.9,517.9 325.8,519.0 327.6,520.3 329.1,521.8 329.7,523.8 330.0,526.0 330.0,532.2 28.1,532.2" fill="#9cc8e5"/>
<polygon points="28.1,484.5 98.7,480.3 100.6,479.2 102.7,478.6 104.9,478.8 107.0,479.4 109.0,480.2 111.1,480.8 113.3,481.3 115.4,481.7 117.6,482.0 119.8,482.4 122.0,482.7 124.1,483.1 126.3,483.4 128.5,483.8 130.7,484.1 132.8,484.4 135.0,484.8 137.2,485.1 139.4,485.4 141.5,485.7 143.7,486.0 145.9,486.4 148.1,486.7 150.3,487.0 152.4,487.3 154.6,487.6 156.8,487.9 159.0,488.2 161.2,488.5 163.4,488.8 165.5,489.0 167.7,489.3 169.9,489.6 172.1,489.9 174.3,490.2 176.5,490.4 178.7,490.7 180.8,491.0 183.0,491.3 185.2,491.6 187.4,491.9 189.6,492.2 191.8,492.5 193.9,492.9 196.1,493.2 198.3,493.5 200.5,493.8 202.6,494.1 204.8,494.4 207.0,494.7 209.2,495.0 211.4,495.3 213.6,495.6 215.7,495.9 217.9,496.2 220.1,496.5 222.3,496.9 224.4,497.3 226.6,497.7 228.8,498.1 231.0,498.5 233.1,498.8 235.3,499.2 237.5,499.6 239.6,499.9 241.8,500.3 244.0,500.6 246.2,500.9 248.4,501.2 250.6,501.5 252.7,501.8 254.9,502.1 257.1,502.5 259.3,502.8 261.4,503.2 263.6,503.6 265.8,504.0 267.9,504.4 270.1,504.8 272.3,505.2 274.4,505.6 276.6,506.0 278.8,506.4 280.9,506.8 283.1,507.2 285.3,507.6 287.5,508.0 289.6,508.4 291.8,508.7 294.0,509.1 296.1,509.5 298.3,509.9 300.5,510.3 302.6,510.8 304.8,511.4 306.9,511.9 309.0,512.6 311.1,513.2 313.2,513.9 315.3,514.7 317.3,515.4 319.4,516.2 321.4,517.1 323.4,518.1 325.3,519.2 327.1,520.4 328.7,521.8 329.3,523.8 329.5,526.0 329.5,532.2 28.1,532.2" fill="#93c3e2"/>
<polygon points="28.1,484.5 98.8,480.3 100.6,479.1 102.7,478.4 104.9,478.7 107.0,479.4 109.0,480.3 111.1,480.9 113.2,481.4 115.4,481.8 117.5,482.2 119.7,482.6 121.9,483.0 124.0,483.4 126.2,483.7 128.4,484.1 130.5,484.5 132.7,484.8 134.9,485.2 137.0,485.5 139.2,485.9 141.4,486.2 143.5,486.6 145.7,486.9 147.9,487.3 150.1,487.6 152.2,487.9 154.4,488.3 156.6,488.6 158.8,488.9 160.9,489.2 163.1,489.5 165.3,489.8 167.5,490.1 169.6,490.5 171.8,490.8 174.0,491.0 176.2,491.3 178.3,491.6 180.5,491.9 182.7,492.2 184.9,492.5 187.1,492.8 189.2,493.1 191.4,493.4 193.6,493.7 195.8,494.0 197.9,494.3 200.1,494.6 202.3,494.8 204.5,495.1 206.7,495.3 208.9,495.6 211.0,495.9 213.2,496.1 215.4,496.4 217.6,496.7 219.7,497.1 221.9,497.4 224.1,497.8 226.2,498.2 228.4,498.6 230.6,499.0 232.7,499.4 234.9,499.8 237.1,500.1 239.2,500.5 241.4,500.8 243.6,501.1 245.8,501.4 247.9,501.7 250.1,502.0 252.3,502.3 254.5,502.6 256.6,503.0 258.8,503.3 261.0,503.7 263.1,504.1 265.3,504.5 267.5,504.9 269.6,505.3 271.8,505.7 273.9,506.1 276.1,506.5 278.2,506.9 280.4,507.3 282.6,507.7 284.7,508.1 286.9,508.5 289.1,508.8 291.2,509.2 293.4,509.6 295.6,509.9 297.7,510.3 299.9,510.8 302.0,511.3 304.2,511.8 306.3,512.3 308.4,512.9 310.5,513.6 312.6,514.2 314.7,514.9 316.8,515.7 318.8,516.4 320.9,517.3 322.8,518.2 324.8,519.3 326.6,520.4 328.3,521.8 328.8,523.8 329.0,526.0 329.0,532.2 28.1,532.2" fill="#89bee0"/>
<polygon points="28.1,484.5 98.8,480.3 100.5,479.2 102.6,478.7 104.7,479.0 106.8,479.7 108.8,480.6 110.9,481.2 113.0,481.7 115.2,482.2 117.3,482.6 119.5,483.0 121.7,483.4 123.8,483.8 126.0,484.1 128.1,484.5 130.3,484.9 132.5,485.2 134.6,485.6 136.8,486.0 139.0,486.3 141.1,486.7 143.3,487.0 145.5,487.3 147.7,487.7 149.8,488.0 152.0,488.4 154.2,488.7 156.3,489.0 158.5,489.3 160.7,489.7 162.9,490.0 165.0,490.3 167.2,490.6 169.4,490.9 171.6,491.2 173.7,491.5 175.9,491.8 178.1,492.1 180.3,492.4 182.4,492.7 184.6,493.0 186.8,493.3 189.0,493.6 191.1,493.8 193.3,494.1 195.5,494.4 197.7,494.7 199.8,495.0 202.0,495.3 204.2,495.5 206.4,495.8 208.6,496.0 210.7,496.3 212.9,496.6 215.1,496.9 217.3,497.2 219.4,497.5 221.6,497.8 223.8,498.2 225.9,498.6 228.1,499.0 230.3,499.4 232.4,499.8 234.6,500.2 236.7,500.5 238.9,500.9 241.1,501.2 243.3,501.5 245.4,501.8 247.6,502.1 249.8,502.4 252.0,502.7 254.1,503.0 256.3,503.3 258.5,503.7 260.6,504.0 262.8,504.4 265.0,504.8 267.1,505.2 269.3,505.6 271.4,506.0 273.6,506.4 275.8,506.8 277.9,507.2 280.1,507.6 282.2,508.0 284.4,508.4 286.6,508.8 288.7,509.1 290.9,509.5 293.1,509.9 295.2,510.2 297.4,510.6 299.5,511.0 301.7,511.5 303.8,512.0 306.0,512.6 308.1,513.1 310.2,513.8 312.3,514.4 314.4,515.1 316.4,515.8 318.5,516.6 320.5,517.4 322.5,518.3 324.4,519.4 326.3,520.5 328.0,521.9 328.5,523.8 328.8,526.0 328.8,532.2 28.1,532.2" fill="#80b9dd"/>
<polygon points="28.1,484.5 98.8,480.4 100.4,479.4 102.4,479.0 104.6,479.3 106.6,480.0 108.6,480.9 110.7,481.6 112.9,482.1 115.0,482.5 117.1,483.0 119.3,483.4 121.5,483.8 123.6,484.2 125.8,484.5 127.9,484.9 130.1,485.3 132.3,485.6 134.4,486.0 136.6,486.4 138.8,486.7 140.9,487.1 143.1,487.4 145.3,487.8 147.4,488.1 149.6,488.4 151.8,488.8 153.9,489.1 156.1,489.4 158.3,489.8 160.4,490.1 162.6,490.4 164.8,490.7 167.0,491.0 169.1,491.3 171.3,491.6 173.5,491.9 175.6,492.2 177.8,492.5 180.0,492.8 182.2,493.1 184.3,493.4 186.5,493.7 188.7,494.0 190.9,494.3 193.0,494.6 195.2,494.8 197.4,495.1 199.6,495.4 201.7,495.7 203.9,495.9 206.1,496.2 208.3,496.5 210.5,496.7 212.6,497.0 214.8,497.3 217.0,497.6 219.2,497.9 221.3,498.3 223.5,498.6 225.6,499.0 227.8,499.4 230.0,499.8 232.1,500.2 234.3,500.5 236.4,500.9 238.6,501.2 240.8,501.6 243.0,501.9 245.1,502.2 247.3,502.5 249.5,502.7 251.7,503.0 253.8,503.4 256.0,503.7 258.2,504.0 260.3,504.4 262.5,504.8 264.6,505.1 266.8,505.5 269.0,505.9 271.1,506.3 273.3,506.7 275.4,507.1 277.6,507.5 279.7,507.9 281.9,508.3 284.1,508.7 286.2,509.0 288.4,509.4 290.6,509.8 292.7,510.1 294.9,510.5 297.0,510.9 299.2,511.3 301.3,511.8 303.5,512.3 305.6,512.8 307.7,513.4 309.8,514.0 311.9,514.6 314.0,515.3 316.1,516.0 318.2,516.7 320.2,517.5 322.2,518.4 324.1,519.4 326.0,520.5 327.7,521.9 328.3,523.8 328.5,526.0 328.5,532.2 28.1,532.2" fill="#7ab7d9"/>
<polygon points="28.1,484.5 98.8,480.4 100.4,479.6 102.3,479.2 104.4,479.6 106.5,480.3 108.5,481.2 110.5,481.9 112.7,482.4 114.8,482.9 116.9,483.3 119.1,483.8 121.2,484.2 123.4,484.6 125.6,485.0 127.7,485.3 129.9,485.7 132.0,486.1 134.2,486.4 136.4,486.8 138.5,487.1 140.7,487.5 142.9,487.8 145.0,488.2 147.2,488.5 149.4,488.9 151.5,489.2 153.7,489.5 155.9,489.9 158.0,490.2 160.2,490.5 162.4,490.8 164.5,491.1 166.7,491.4 168.9,491.7 171.0,492.0 173.2,492.3 175.4,492.6 177.6,492.9 179.7,493.2 181.9,493.5 184.1,493.8 186.2,494.1 188.4,494.4 190.6,494.7 192.8,495.0 194.9,495.3 197.1,495.6 199.3,495.8 201.5,496.1 203.6,496.4 205.8,496.6 208.0,496.9 210.2,497.1 212.3,497.4 214.5,497.7 216.7,498.0 218.9,498.3 221.0,498.7 223.2,499.0 225.3,499.4 227.5,499.8 229.7,500.2 231.8,500.6 234.0,500.9 236.1,501.3 238.3,501.6 240.5,501.9 242.6,502.2 244.8,502.5 247.0,502.8 249.2,503.1 251.3,503.4 253.5,503.7 255.7,504.0 257.8,504.4 260.0,504.7 262.2,505.1 264.3,505.5 266.5,505.9 268.6,506.2 270.8,506.6 272.9,507.1 275.1,507.5 277.3,507.8 279.4,508.2 281.6,508.6 283.7,509.0 285.9,509.3 288.1,509.7 290.2,510.1 292.4,510.4 294.5,510.8 296.7,511.1 298.9,511.5 301.0,512.0 303.1,512.5 305.3,513.0 307.4,513.6 309.5,514.2 311.6,514.8 313.7,515.5 315.7,516.1 317.8,516.9 319.9,517.6 321.9,518.5 323.8,519.5 325.7,520.6 327.4,521.9 328.0,523.9 328.3,526.0 328.3,532.2 28.1,532.2" fill="#7ab8d1"/>
<polygon points="28.1,484.5 98.8,480.5 100.3,479.7 102.1,479.5 104.2,480.0 106.3,480.7 108.3,481.6 110.4,482.2 112.5,482.8 114.6,483.2 116.8,483.7 118.9,484.2 121.0,484.6 123.2,485.0 125.3,485.4 127.5,485.7 129.7,486.1 131.8,486.5 134.0,486.8 136.1,487.2 138.3,487.5 140.5,487.9 142.6,488.2 144.8,488.6 147.0,488.9 149.1,489.3 151.3,489.6 153.4,490.0 155.6,490.3 157.8,490.6 159.9,490.9 162.1,491.3 164.3,491.6 166.4,491.9 168.6,492.2 170.8,492.5 173.0,492.8 175.1,493.1 177.3,493.3 179.5,493.6 181.6,493.9 183.8,494.2 186.0,494.5 188.2,494.8 190.3,495.1 192.5,495.4 194.7,495.7 196.8,496.0 199.0,496.3 201.2,496.5 203.4,496.8 205.5,497.0 207.7,497.3 209.9,497.6 212.1,497.8 214.2,498.1 216.4,498.4 218.6,498.8 220.7,499.1 222.9,499.5 225.0,499.8 227.2,500.2 229.4,500.6 231.5,501.0 233.7,501.3 235.8,501.7 238.0,502.0 240.2,502.3 242.3,502.6 244.5,502.9 246.7,503.2 248.8,503.5 251.0,503.8 253.2,504.1 255.4,504.4 257.5,504.7 259.7,505.0 261.8,505.4 264.0,505.8 266.2,506.2 268.3,506.6 270.5,507.0 272.6,507.4 274.8,507.8 276.9,508.1 279.1,508.5 281.2,508.9 283.4,509.3 285.6,509.6 287.7,510.0 289.9,510.3 292.0,510.7 294.2,511.0 296.4,511.4 298.5,511.8 300.7,512.2 302.8,512.7 304.9,513.2 307.0,513.8 309.1,514.4 311.2,515.0 313.3,515.6 315.4,516.3 317.5,517.0 319.5,517.8 321.5,518.6 323.5,519.6 325.4,520.6 327.1,521.9 327.7,523.9 328.1,526.0 328.1,532.2 28.1,532.2" fill="#7bbaca"/>
<polygon points="28.1,484.5 98.8,480.5 100.2,479.9 102.0,479.8 104.1,480.3 106.1,481.0 108.1,481.9 110.2,482.6 112.3,483.1 114.4,483.6 116.6,484.1 118.7,484.5 120.8,485.0 123.0,485.4 125.1,485.8 127.3,486.1 129.5,486.5 131.6,486.9 133.8,487.2 135.9,487.6 138.1,488.0 140.2,488.3 142.4,488.7 144.6,489.0 146.7,489.4 148.9,489.7 151.0,490.0 153.2,490.4 155.4,490.7 157.5,491.0 159.7,491.4 161.9,491.7 164.0,492.0 166.2,492.3 168.4,492.6 170.5,492.9 172.7,493.2 174.9,493.5 177.0,493.8 179.2,494.1 181.4,494.4 183.5,494.6 185.7,494.9 187.9,495.2 190.0,495.5 192.2,495.8 194.4,496.1 196.6,496.4 198.7,496.7 200.9,496.9 203.1,497.2 205.2,497.5 207.4,497.7 209.6,498.0 211.8,498.3 213.9,498.5 216.1,498.8 218.3,499.2 220.4,499.5 222.6,499.9 224.7,500.2 226.9,500.6 229.1,501.0 231.2,501.3 233.4,501.7 235.5,502.0 237.7,502.4 239.9,502.7 242.0,503.0 244.2,503.3 246.4,503.5 248.5,503.8 250.7,504.1 252.9,504.4 255.0,504.7 257.2,505.0 259.4,505.4 261.5,505.7 263.7,506.1 265.8,506.5 268.0,506.9 270.1,507.3 272.3,507.7 274.4,508.1 276.6,508.4 278.7,508.8 280.9,509.2 283.1,509.6 285.2,509.9 287.4,510.3 289.5,510.6 291.7,511.0 293.9,511.3 296.0,511.7 298.2,512.1 300.3,512.5 302.4,513.0 304.6,513.5 306.7,514.0 308.8,514.6 310.9,515.2 313.0,515.8 315.1,516.5 317.1,517.2 319.2,517.9 321.2,518.7 323.2,519.7 325.1,520.7 326.8,522.0 327.5,523.9 327.8,526.0 327.8,532.2 28.1,532.2" fill="#7bbbc2"/>
<polygon points="28.1,484.5 98.8,480.5 100.1,480.1 101.9,480.0 103.9,480.6 106.0,481.3 107.9,482.2 110.0,482.9 112.1,483.4 114.2,484.0 116.4,484.5 118.5,484.9 120.6,485.4 122.8,485.8 124.9,486.2 127.1,486.6 129.2,486.9 131.4,487.3 133.5,487.7 135.7,488.0 137.9,488.4 140.0,488.7 142.2,489.1 144.3,489.4 146.5,489.8 148.7,490.1 150.8,490.5 153.0,490.8 155.1,491.1 157.3,491.5 159.5,491.8 161.6,492.1 163.8,492.4 165.9,492.7 168.1,493.0 170.3,493.3 172.4,493.6 174.6,493.9 176.8,494.2 178.9,494.5 181.1,494.8 183.3,495.1 185.4,495.4 187.6,495.7 189.8,496.0 191.9,496.2 194.1,496.5 196.3,496.8 198.4,497.1 200.6,497.4 202.8,497.6 205.0,497.9 207.1,498.1 209.3,498.4 211.5,498.7 213.6,499.0 215.8,499.3 218.0,499.6 220.1,499.9 222.3,500.3 224.4,500.6 226.6,501.0 228.7,501.4 230.9,501.7 233.1,502.1 235.2,502.4 237.4,502.7 239.5,503.0 241.7,503.3 243.9,503.6 246.0,503.9 248.2,504.2 250.4,504.5 252.6,504.8 254.7,505.1 256.9,505.4 259.0,505.7 261.2,506.1 263.3,506.4 265.5,506.8 267.7,507.2 269.8,507.6 272.0,508.0 274.1,508.4 276.3,508.7 278.4,509.1 280.6,509.5 282.7,509.8 284.9,510.2 287.0,510.6 289.2,510.9 291.4,511.2 293.5,511.6 295.7,511.9 297.8,512.3 300.0,512.7 302.1,513.2 304.2,513.7 306.3,514.2 308.5,514.8 310.6,515.4 312.6,516.0 314.7,516.6 316.8,517.3 318.9,518.0 320.9,518.9 322.8,519.8 324.8,520.7 326.5,522.0 327.2,523.9 327.6,526.0 327.6,532.2 28.1,532.2" fill="#7bbdbb"/>
<polygon points="28.1,484.5 98.8,480.6 100.0,480.2 101.7,480.3 103.8,480.9 105.8,481.6 107.8,482.6 109.8,483.2 111.9,483.8 114.1,484.3 116.2,484.8 118.3,485.3 120.4,485.8 122.6,486.2 124.7,486.6 126.9,487.0 129.0,487.3 131.2,487.7 133.3,488.1 135.5,488.4 137.6,488.8 139.8,489.1 141.9,489.5 144.1,489.8 146.3,490.2 148.4,490.5 150.6,490.9 152.7,491.2 154.9,491.6 157.0,491.9 159.2,492.2 161.4,492.5 163.5,492.9 165.7,493.2 167.9,493.5 170.0,493.8 172.2,494.0 174.4,494.3 176.5,494.6 178.7,494.9 180.8,495.2 183.0,495.5 185.2,495.8 187.3,496.1 189.5,496.4 191.7,496.7 193.8,497.0 196.0,497.2 198.2,497.5 200.3,497.8 202.5,498.0 204.7,498.3 206.8,498.6 209.0,498.8 211.2,499.1 213.3,499.4 215.5,499.7 217.7,500.0 219.8,500.3 222.0,500.7 224.1,501.0 226.3,501.4 228.4,501.8 230.6,502.1 232.8,502.5 234.9,502.8 237.1,503.1 239.2,503.4 241.4,503.7 243.6,504.0 245.7,504.3 247.9,504.5 250.1,504.8 252.2,505.1 254.4,505.4 256.6,505.7 258.7,506.0 260.9,506.4 263.0,506.7 265.2,507.1 267.3,507.5 269.5,507.9 271.6,508.3 273.8,508.7 275.9,509.0 278.1,509.4 280.2,509.8 282.4,510.1 284.5,510.5 286.7,510.8 288.9,511.2 291.0,511.5 293.2,511.8 295.3,512.2 297.5,512.6 299.6,513.0 301.8,513.4 303.9,513.9 306.0,514.4 308.1,515.0 310.2,515.6 312.3,516.2 314.4,516.8 316.5,517.4 318.5,518.2 320.5,519.0 322.5,519.8 324.5,520.8 326.2,522.0 326.9,523.9 327.4,526.0 327.4,532.2 28.1,532.2" fill="#7cbeb3"/>
<polygon points="28.1,484.5 98.8,480.6 99.9,480.4 101.6,480.6 103.6,481.2 105.6,482.0 107.6,482.9 109.7,483.5 111.8,484.1 113.9,484.7 116.0,485.2 118.1,485.7 120.2,486.2 122.4,486.6 124.5,487.0 126.7,487.4 128.8,487.7 131.0,488.1 133.1,488.5 135.3,488.8 137.4,489.2 139.6,489.5 141.7,489.9 143.9,490.2 146.0,490.6 148.2,491.0 150.3,491.3 152.5,491.6 154.6,492.0 156.8,492.3 159.0,492.6 161.1,493.0 163.3,493.3 165.4,493.6 167.6,493.9 169.8,494.2 171.9,494.5 174.1,494.8 176.3,495.0 178.4,495.3 180.6,495.6 182.7,495.9 184.9,496.2 187.1,496.5 189.2,496.8 191.4,497.1 193.6,497.4 195.7,497.7 197.9,497.9 200.1,498.2 202.2,498.5 204.4,498.7 206.6,499.0 208.7,499.3 210.9,499.5 213.1,499.8 215.2,500.1 217.4,500.4 219.5,500.8 221.7,501.1 223.8,501.4 226.0,501.8 228.1,502.2 230.3,502.5 232.5,502.8 234.6,503.2 236.8,503.5 238.9,503.8 241.1,504.1 243.3,504.4 245.4,504.6 247.6,504.9 249.8,505.2 251.9,505.5 254.1,505.8 256.2,506.1 258.4,506.4 260.5,506.7 262.7,507.1 264.9,507.4 267.0,507.8 269.2,508.2 271.3,508.6 273.4,509.0 275.6,509.3 277.7,509.7 279.9,510.1 282.1,510.4 284.2,510.8 286.4,511.1 288.5,511.5 290.7,511.8 292.8,512.1 295.0,512.4 297.1,512.8 299.3,513.2 301.4,513.7 303.5,514.1 305.7,514.7 307.8,515.2 309.9,515.7 312.0,516.3 314.1,517.0 316.1,517.6 318.2,518.3 320.2,519.1 322.2,519.9 324.1,520.8 325.9,522.1 326.6,523.9 327.2,526.0 327.2,532.2 28.1,532.2" fill="#7cc0ab"/>
<polygon points="28.1,484.5 98.8,480.6 99.8,480.6 101.5,480.8 103.4,481.5 105.4,482.3 107.4,483.2 109.5,483.9 111.6,484.5 113.7,485.0 115.8,485.6 117.9,486.1 120.0,486.6 122.2,487.0 124.3,487.4 126.4,487.8 128.6,488.2 130.7,488.5 132.9,488.9 135.0,489.2 137.2,489.6 139.3,490.0 141.5,490.3 143.6,490.7 145.8,491.0 147.9,491.4 150.1,491.7 152.3,492.1 154.4,492.4 156.6,492.7 158.7,493.1 160.9,493.4 163.0,493.7 165.2,494.0 167.4,494.3 169.5,494.6 171.7,494.9 173.8,495.2 176.0,495.5 178.2,495.8 180.3,496.0 182.5,496.3 184.6,496.6 186.8,496.9 189.0,497.2 191.1,497.5 193.3,497.8 195.4,498.1 197.6,498.4 199.8,498.6 201.9,498.9 204.1,499.2 206.3,499.4 208.4,499.7 210.6,500.0 212.8,500.2 214.9,500.5 217.1,500.8 219.2,501.2 221.4,501.5 223.5,501.9 225.7,502.2 227.8,502.6 230.0,502.9 232.1,503.2 234.3,503.6 236.5,503.9 238.6,504.2 240.8,504.5 242.9,504.7 245.1,505.0 247.3,505.3 249.4,505.5 251.6,505.8 253.8,506.1 255.9,506.4 258.1,506.7 260.2,507.0 262.4,507.4 264.5,507.8 266.7,508.1 268.8,508.5 271.0,508.9 273.1,509.3 275.3,509.6 277.4,510.0 279.6,510.4 281.7,510.7 283.9,511.1 286.0,511.4 288.2,511.7 290.3,512.1 292.5,512.4 294.6,512.7 296.8,513.1 298.9,513.5 301.1,513.9 303.2,514.4 305.3,514.9 307.4,515.4 309.5,515.9 311.6,516.5 313.7,517.1 315.8,517.7 317.9,518.4 319.9,519.2 321.9,520.0 323.8,520.8 325.6,522.1 326.4,524.0 326.9,526.0 326.9,532.2 28.1,532.2" fill="#7cc1a4"/>
<polygon points="28.1,484.5 98.8,480.7 99.7,480.7 101.3,481.1 103.3,481.8 105.3,482.6 107.2,483.6 109.3,484.2 111.4,484.8 113.5,485.4 115.6,486.0 117.7,486.5 119.8,487.0 121.9,487.4 124.1,487.8 126.2,488.2 128.4,488.6 130.5,488.9 132.7,489.3 134.8,489.7 137.0,490.0 139.1,490.4 141.3,490.7 143.4,491.1 145.6,491.4 147.7,491.8 149.9,492.1 152.0,492.5 154.2,492.8 156.3,493.2 158.5,493.5 160.6,493.8 162.8,494.1 164.9,494.4 167.1,494.7 169.3,495.0 171.4,495.3 173.6,495.6 175.7,495.9 177.9,496.2 180.1,496.5 182.2,496.8 184.4,497.0 186.5,497.3 188.7,497.6 190.9,497.9 193.0,498.2 195.2,498.5 197.3,498.8 199.5,499.1 201.7,499.3 203.8,499.6 206.0,499.8 208.1,500.1 210.3,500.4 212.5,500.7 214.6,501.0 216.8,501.3 218.9,501.6 221.1,501.9 223.2,502.3 225.4,502.6 227.5,502.9 229.7,503.3 231.8,503.6 234.0,503.9 236.2,504.2 238.3,504.5 240.5,504.8 242.6,505.1 244.8,505.4 247.0,505.6 249.1,505.9 251.3,506.2 253.4,506.4 255.6,506.7 257.8,507.1 259.9,507.4 262.1,507.7 264.2,508.1 266.4,508.4 268.5,508.8 270.6,509.2 272.8,509.6 274.9,509.9 277.1,510.3 279.2,510.7 281.4,511.0 283.5,511.4 285.7,511.7 287.8,512.0 290.0,512.3 292.1,512.6 294.3,513.0 296.4,513.3 298.6,513.7 300.7,514.2 302.8,514.6 305.0,515.1 307.1,515.6 309.2,516.1 311.3,516.7 313.4,517.3 315.5,517.9 317.5,518.5 319.6,519.3 321.6,520.1 323.5,520.9 325.3,522.1 326.1,524.0 326.7,526.0 326.7,532.2 28.1,532.2" fill="#7dc39c"/>
<polygon points="28.1,484.5 98.8,480.7 99.6,480.9 101.2,481.4 103.1,482.1 105.1,482.9 107.1,483.9 109.1,484.5 111.2,485.2 113.3,485.8 115.4,486.3 117.5,486.9 119.6,487.4 121.7,487.8 123.9,488.2 126.0,488.6 128.2,489.0 130.3,489.3 132.4,489.7 134.6,490.1 136.7,490.4 138.9,490.8 141.0,491.1 143.2,491.5 145.3,491.9 147.5,492.2 149.6,492.6 151.8,492.9 153.9,493.3 156.1,493.6 158.2,493.9 160.4,494.3 162.5,494.6 164.7,494.9 166.8,495.2 169.0,495.5 171.2,495.8 173.3,496.0 175.5,496.3 177.6,496.6 179.8,496.9 181.9,497.2 184.1,497.5 186.3,497.8 188.4,498.1 190.6,498.3 192.7,498.6 194.9,498.9 197.1,499.2 199.2,499.5 201.4,499.7 203.5,500.0 205.7,500.3 207.9,500.5 210.0,500.8 212.2,501.1 214.3,501.4 216.5,501.7 218.6,502.0 220.8,502.3 222.9,502.7 225.1,503.0 227.2,503.3 229.4,503.7 231.5,504.0 233.7,504.3 235.8,504.6 238.0,504.9 240.2,505.2 242.3,505.5 244.5,505.7 246.6,506.0 248.8,506.3 251.0,506.5 253.1,506.8 255.3,507.1 257.4,507.4 259.6,507.7 261.7,508.0 263.9,508.4 266.0,508.7 268.2,509.1 270.3,509.5 272.5,509.9 274.6,510.2 276.7,510.6 278.9,511.0 281.0,511.3 283.2,511.7 285.3,512.0 287.5,512.3 289.7,512.6 291.8,512.9 294.0,513.2 296.1,513.6 298.2,514.0 300.4,514.4 302.5,514.8 304.6,515.3 306.7,515.8 308.8,516.3 310.9,516.9 313.0,517.4 315.1,518.0 317.2,518.7 319.2,519.4 321.2,520.2 323.2,520.9 325.0,522.1 325.8,524.0 326.5,526.0 326.5,532.2 28.1,532.2" fill="#7dc595"/>
<polygon points="28.1,484.5 98.8,480.8 99.6,481.1 101.0,481.6 103.0,482.4 104.9,483.3 106.9,484.2 109.0,484.9 111.0,485.5 113.1,486.1 115.2,486.7 117.3,487.3 119.4,487.7 121.5,488.2 123.7,488.6 125.8,489.0 127.9,489.4 130.1,489.8 132.2,490.1 134.4,490.5 136.5,490.8 138.7,491.2 140.8,491.5 143.0,491.9 145.1,492.3 147.2,492.6 149.4,493.0 151.5,493.3 153.7,493.7 155.8,494.0 158.0,494.4 160.1,494.7 162.3,495.0 164.4,495.3 166.6,495.6 168.7,495.9 170.9,496.2 173.1,496.5 175.2,496.7 177.4,497.0 179.5,497.3 181.7,497.6 183.8,497.9 186.0,498.2 188.1,498.5 190.3,498.8 192.5,499.1 194.6,499.3 196.8,499.6 198.9,499.9 201.1,500.2 203.2,500.4 205.4,500.7 207.6,501.0 209.7,501.2 211.9,501.5 214.0,501.8 216.2,502.1 218.3,502.4 220.5,502.7 222.6,503.1 224.8,503.4 226.9,503.7 229.1,504.1 231.2,504.4 233.4,504.7 235.5,505.0 237.7,505.3 239.9,505.6 242.0,505.8 244.2,506.1 246.3,506.3 248.5,506.6 250.6,506.9 252.8,507.1 255.0,507.4 257.1,507.7 259.3,508.0 261.4,508.4 263.6,508.7 265.7,509.1 267.8,509.4 270.0,509.8 272.1,510.2 274.3,510.5 276.4,510.9 278.6,511.3 280.7,511.6 282.9,511.9 285.0,512.3 287.2,512.6 289.3,512.9 291.5,513.2 293.6,513.5 295.8,513.8 297.9,514.2 300.0,514.6 302.2,515.1 304.3,515.5 306.4,516.0 308.5,516.5 310.6,517.0 312.7,517.6 314.8,518.2 316.9,518.8 318.9,519.5 320.9,520.2 322.9,521.0 324.7,522.2 325.6,524.0 326.2,526.0 326.2,532.2 28.1,532.2" fill="#7dc68d"/>
<polygon points="28.1,484.5 98.8,480.8 99.5,481.2 100.9,481.9 102.8,482.7 104.8,483.6 106.7,484.5 108.8,485.2 110.9,485.8 112.9,486.5 115.0,487.1 117.1,487.6 119.2,488.1 121.3,488.6 123.5,489.0 125.6,489.4 127.7,489.8 129.9,490.2 132.0,490.5 134.2,490.9 136.3,491.2 138.4,491.6 140.6,492.0 142.7,492.3 144.9,492.7 147.0,493.0 149.2,493.4 151.3,493.8 153.4,494.1 155.6,494.5 157.7,494.8 159.9,495.1 162.0,495.4 164.2,495.7 166.3,496.0 168.5,496.3 170.6,496.6 172.8,496.9 175.0,497.2 177.1,497.4 179.3,497.7 181.4,498.0 183.6,498.3 185.7,498.6 187.9,498.9 190.0,499.2 192.2,499.5 194.3,499.8 196.5,500.0 198.6,500.3 200.8,500.6 203.0,500.9 205.1,501.1 207.3,501.4 209.4,501.7 211.6,501.9 213.7,502.2 215.9,502.5 218.0,502.8 220.2,503.2 222.3,503.5 224.5,503.8 226.6,504.1 228.8,504.5 230.9,504.8 233.1,505.1 235.2,505.4 237.4,505.7 239.5,505.9 241.7,506.2 243.9,506.5 246.0,506.7 248.2,507.0 250.3,507.2 252.5,507.5 254.6,507.8 256.8,508.1 258.9,508.4 261.1,508.7 263.2,509.0 265.4,509.4 267.5,509.7 269.7,510.1 271.8,510.5 273.9,510.8 276.1,511.2 278.2,511.6 280.4,511.9 282.5,512.2 284.7,512.6 286.8,512.9 289.0,513.2 291.1,513.4 293.3,513.8 295.4,514.1 297.6,514.5 299.7,514.9 301.8,515.3 303.9,515.7 306.1,516.2 308.2,516.7 310.3,517.2 312.4,517.8 314.4,518.3 316.5,518.9 318.6,519.6 320.6,520.3 322.6,521.0 324.4,522.2 325.3,524.0 326.0,526.0 326.0,532.2 28.1,532.2" fill="#7ec886"/>
<polygon points="28.1,484.5 98.8,480.8 99.4,481.4 100.8,482.2 102.6,483.0 104.6,483.9 106.5,484.9 108.6,485.5 110.7,486.2 112.7,486.8 114.8,487.5 116.9,488.0 119.0,488.5 121.1,489.0 123.2,489.4 125.4,489.8 127.5,490.2 129.7,490.6 131.8,490.9 133.9,491.3 136.1,491.7 138.2,492.0 140.4,492.4 142.5,492.7 144.6,493.1 146.8,493.5 148.9,493.8 151.1,494.2 153.2,494.5 155.3,494.9 157.5,495.2 159.6,495.5 161.8,495.9 163.9,496.2 166.1,496.5 168.2,496.8 170.4,497.0 172.5,497.3 174.7,497.6 176.8,497.9 179.0,498.2 181.2,498.4 183.3,498.7 185.5,499.0 187.6,499.3 189.8,499.6 191.9,499.9 194.1,500.2 196.2,500.5 198.4,500.7 200.5,501.0 202.7,501.3 204.8,501.5 207.0,501.8 209.1,502.1 211.3,502.4 213.4,502.6 215.6,502.9 217.7,503.3 219.9,503.6 222.0,503.9 224.2,504.2 226.3,504.5 228.5,504.8 230.6,505.2 232.8,505.5 234.9,505.7 237.1,506.0 239.2,506.3 241.4,506.6 243.5,506.8 245.7,507.1 247.9,507.3 250.0,507.6 252.2,507.8 254.3,508.1 256.5,508.4 258.6,508.7 260.8,509.0 262.9,509.3 265.0,509.7 267.2,510.0 269.3,510.4 271.5,510.8 273.6,511.1 275.7,511.5 277.9,511.8 280.0,512.2 282.2,512.5 284.3,512.8 286.5,513.2 288.6,513.4 290.8,513.7 292.9,514.0 295.1,514.3 297.2,514.7 299.3,515.1 301.5,515.5 303.6,515.9 305.7,516.4 307.8,516.9 309.9,517.4 312.0,517.9 314.1,518.5 316.2,519.1 318.2,519.7 320.3,520.4 322.3,521.1 324.1,522.2 325.0,524.0 325.8,526.0 325.8,532.2 28.1,532.2" fill="#7ec97e"/>
<polygon points="28.1,484.5 98.8,480.9 99.3,481.5 100.6,482.4 102.5,483.3 104.4,484.2 106.4,485.2 108.4,485.9 110.5,486.5 112.5,487.2 114.6,487.8 116.7,488.4 118.8,488.9 120.9,489.4 123.0,489.8 125.2,490.2 127.3,490.6 129.4,491.0 131.6,491.4 133.7,491.7 135.9,492.1 138.0,492.4 140.1,492.8 142.3,493.2 144.4,493.5 146.5,493.9 148.7,494.2 150.8,494.6 153.0,495.0 155.1,495.3 157.2,495.6 159.4,496.0 161.5,496.3 163.7,496.6 165.8,496.9 168.0,497.2 170.1,497.5 172.3,497.7 174.4,498.0 176.6,498.3 178.7,498.6 180.9,498.9 183.0,499.2 185.2,499.4 187.3,499.7 189.5,500.0 191.6,500.3 193.8,500.6 195.9,500.9 198.1,501.2 200.2,501.4 202.4,501.7 204.5,502.0 206.7,502.2 208.8,502.5 211.0,502.8 213.1,503.1 215.3,503.4 217.4,503.7 219.6,504.0 221.7,504.3 223.9,504.6 226.0,504.9 228.2,505.2 230.3,505.5 232.5,505.8 234.6,506.1 236.8,506.4 238.9,506.7 241.1,506.9 243.2,507.2 245.4,507.4 247.5,507.7 249.7,507.9 251.8,508.2 254.0,508.4 256.1,508.7 258.3,509.0 260.4,509.3 262.6,509.7 264.7,510.0 266.9,510.3 269.0,510.7 271.1,511.1 273.3,511.4 275.4,511.8 277.6,512.1 279.7,512.5 281.8,512.8 284.0,513.1 286.1,513.4 288.3,513.7 290.4,514.0 292.6,514.3 294.7,514.6 296.9,515.0 299.0,515.3 301.1,515.7 303.2,516.2 305.4,516.6 307.5,517.1 309.6,517.6 311.7,518.1 313.8,518.6 315.9,519.2 317.9,519.8 319.9,520.5 322.0,521.1 323.8,522.3 324.8,524.0 325.5,526.0 325.5,532.2 28.1,532.2" fill="#82ca78"/>
<polygon points="28.1,484.5 98.8,480.9 99.2,481.7 100.5,482.7 102.3,483.7 104.3,484.6 106.2,485.5 108.2,486.2 110.3,486.9 112.4,487.5 114.4,488.2 116.5,488.8 118.6,489.3 120.7,489.8 122.8,490.2 124.9,490.6 127.1,491.0 129.2,491.4 131.4,491.8 133.5,492.1 135.6,492.5 137.8,492.8 139.9,493.2 142.0,493.6 144.2,493.9 146.3,494.3 148.4,494.7 150.6,495.0 152.7,495.4 154.9,495.7 157.0,496.1 159.1,496.4 161.3,496.7 163.4,497.0 165.6,497.3 167.7,497.6 169.9,497.9 172.0,498.2 174.2,498.4 176.3,498.7 178.5,499.0 180.6,499.3 182.8,499.6 184.9,499.9 187.1,500.2 189.2,500.4 191.4,500.7 193.5,501.0 195.7,501.3 197.8,501.6 200.0,501.9 202.1,502.1 204.3,502.4 206.4,502.7 208.6,502.9 210.7,503.2 212.9,503.5 215.0,503.8 217.1,504.1 219.3,504.4 221.4,504.7 223.6,505.0 225.7,505.3 227.9,505.6 230.0,505.9 232.2,506.2 234.3,506.5 236.5,506.8 238.6,507.0 240.8,507.3 242.9,507.5 245.1,507.8 247.2,508.0 249.4,508.3 251.5,508.5 253.7,508.8 255.8,509.1 258.0,509.3 260.1,509.6 262.3,510.0 264.4,510.3 266.5,510.7 268.7,511.0 270.8,511.4 272.9,511.7 275.1,512.1 277.2,512.4 279.4,512.8 281.5,513.1 283.6,513.4 285.8,513.7 287.9,514.0 290.1,514.3 292.2,514.5 294.4,514.9 296.5,515.2 298.7,515.6 300.8,516.0 302.9,516.4 305.0,516.8 307.1,517.3 309.2,517.7 311.3,518.2 313.4,518.8 315.5,519.3 317.6,519.9 319.6,520.6 321.7,521.2 323.5,522.3 324.5,524.1 325.3,526.0 325.3,532.2 28.1,532.2" fill="#8cc972"/>
<polygon points="28.1,484.5 98.8,481.0 99.1,481.9 100.3,482.9 102.1,484.0 104.1,484.9 106.0,485.9 108.1,486.5 110.1,487.2 112.2,487.9 114.2,488.6 116.3,489.2 118.4,489.7 120.5,490.2 122.6,490.6 124.7,491.0 126.9,491.4 129.0,491.8 131.1,492.2 133.3,492.5 135.4,492.9 137.5,493.3 139.7,493.6 141.8,494.0 143.9,494.4 146.1,494.7 148.2,495.1 150.3,495.4 152.5,495.8 154.6,496.2 156.8,496.5 158.9,496.8 161.0,497.1 163.2,497.5 165.3,497.8 167.5,498.0 169.6,498.3 171.8,498.6 173.9,498.9 176.1,499.1 178.2,499.4 180.4,499.7 182.5,500.0 184.6,500.3 186.8,500.6 188.9,500.9 191.1,501.2 193.2,501.4 195.4,501.7 197.5,502.0 199.7,502.3 201.8,502.5 204.0,502.8 206.1,503.1 208.3,503.4 210.4,503.6 212.6,503.9 214.7,504.2 216.8,504.5 219.0,504.8 221.1,505.1 223.3,505.4 225.4,505.7 227.6,506.0 229.7,506.3 231.9,506.6 234.0,506.9 236.1,507.1 238.3,507.4 240.4,507.7 242.6,507.9 244.8,508.2 246.9,508.4 249.1,508.6 251.2,508.9 253.4,509.1 255.5,509.4 257.6,509.7 259.8,510.0 261.9,510.3 264.1,510.6 266.2,511.0 268.3,511.3 270.5,511.7 272.6,512.0 274.8,512.4 276.9,512.7 279.0,513.1 281.2,513.4 283.3,513.7 285.5,514.0 287.6,514.3 289.8,514.5 291.9,514.8 294.0,515.1 296.2,515.5 298.3,515.8 300.4,516.2 302.6,516.6 304.7,517.0 306.8,517.5 308.9,517.9 311.0,518.4 313.1,518.9 315.2,519.4 317.3,520.0 319.3,520.6 321.3,521.2 323.2,522.3 324.2,524.1 325.1,526.0 325.1,532.2 28.1,532.2" fill="#95c86d"/>
<polygon points="28.1,484.5 98.8,481.0 99.0,482.0 100.2,483.2 102.0,484.3 103.9,485.2 105.8,486.2 107.9,486.9 109.9,487.6 112.0,488.3 114.0,488.9 116.1,489.6 118.2,490.1 120.3,490.6 122.4,491.1 124.5,491.5 126.7,491.8 128.8,492.2 130.9,492.6 133.0,492.9 135.2,493.3 137.3,493.7 139.4,494.0 141.6,494.4 143.7,494.8 145.8,495.1 148.0,495.5 150.1,495.9 152.2,496.2 154.4,496.6 156.5,496.9 158.6,497.3 160.8,497.6 162.9,497.9 165.1,498.2 167.2,498.5 169.4,498.7 171.5,499.0 173.7,499.3 175.8,499.6 177.9,499.8 180.1,500.1 182.2,500.4 184.4,500.7 186.5,501.0 188.7,501.3 190.8,501.6 193.0,501.9 195.1,502.1 197.2,502.4 199.4,502.7 201.5,503.0 203.7,503.2 205.8,503.5 208.0,503.8 210.1,504.1 212.3,504.3 214.4,504.6 216.6,504.9 218.7,505.2 220.8,505.5 223.0,505.8 225.1,506.1 227.3,506.4 229.4,506.7 231.5,507.0 233.7,507.2 235.8,507.5 238.0,507.8 240.1,508.0 242.3,508.3 244.4,508.5 246.6,508.7 248.7,509.0 250.9,509.2 253.0,509.5 255.2,509.7 257.3,510.0 259.5,510.3 261.6,510.6 263.7,510.9 265.9,511.3 268.0,511.6 270.1,512.0 272.3,512.3 274.4,512.7 276.6,513.0 278.7,513.4 280.8,513.7 283.0,514.0 285.1,514.3 287.3,514.5 289.4,514.8 291.6,515.1 293.7,515.4 295.8,515.7 298.0,516.0 300.1,516.4 302.2,516.8 304.3,517.2 306.4,517.6 308.6,518.1 310.7,518.6 312.8,519.0 314.9,519.6 316.9,520.1 319.0,520.7 321.0,521.3 322.9,522.3 324.0,524.1 324.8,526.0 324.8,532.2 28.1,532.2" fill="#9fc767"/>
<polygon points="28.1,484.5 98.8,481.0 98.9,482.2 100.1,483.5 101.8,484.6 103.7,485.6 105.7,486.5 107.7,487.2 109.8,487.9 111.8,488.6 113.8,489.3 115.9,490.0 118.0,490.5 120.1,491.0 122.2,491.5 124.3,491.9 126.4,492.3 128.6,492.6 130.7,493.0 132.8,493.4 135.0,493.7 137.1,494.1 139.2,494.4 141.3,494.8 143.5,495.2 145.6,495.6 147.7,495.9 149.9,496.3 152.0,496.7 154.1,497.0 156.3,497.4 158.4,497.7 160.5,498.0 162.7,498.3 164.8,498.6 167.0,498.9 169.1,499.2 171.2,499.4 173.4,499.7 175.5,500.0 177.7,500.3 179.8,500.5 182.0,500.8 184.1,501.1 186.2,501.4 188.4,501.7 190.5,502.0 192.7,502.3 194.8,502.6 197.0,502.8 199.1,503.1 201.2,503.4 203.4,503.7 205.5,503.9 207.7,504.2 209.8,504.5 212.0,504.8 214.1,505.0 216.3,505.3 218.4,505.6 220.5,505.9 222.7,506.2 224.8,506.5 227.0,506.8 229.1,507.1 231.2,507.4 233.4,507.6 235.5,507.9 237.7,508.1 239.8,508.4 242.0,508.6 244.1,508.9 246.3,509.1 248.4,509.3 250.6,509.6 252.7,509.8 254.9,510.1 257.0,510.3 259.1,510.6 261.3,510.9 263.4,511.2 265.6,511.6 267.7,511.9 269.8,512.3 272.0,512.6 274.1,513.0 276.2,513.3 278.4,513.7 280.5,514.0 282.6,514.3 284.8,514.6 286.9,514.8 289.1,515.1 291.2,515.3 293.3,515.6 295.5,515.9 297.6,516.3 299.7,516.6 301.9,517.0 304.0,517.4 306.1,517.8 308.2,518.3 310.3,518.7 312.4,519.2 314.5,519.7 316.6,520.2 318.7,520.8 320.7,521.3 322.6,522.4 323.7,524.1 324.6,526.0 324.6,532.2 28.1,532.2" fill="#a9c662"/>
<polygon points="28.1,484.5 98.8,481.1 98.8,482.4 99.9,483.7 101.7,484.9 103.6,485.9 105.5,486.8 107.5,487.5 109.6,488.2 111.6,489.0 113.6,489.7 115.7,490.4 117.8,490.9 119.9,491.4 122.0,491.9 124.1,492.3 126.2,492.7 128.3,493.0 130.5,493.4 132.6,493.8 134.7,494.1 136.9,494.5 139.0,494.9 141.1,495.2 143.2,495.6 145.4,496.0 147.5,496.3 149.6,496.7 151.8,497.1 153.9,497.4 156.0,497.8 158.2,498.1 160.3,498.4 162.4,498.7 164.6,499.0 166.7,499.3 168.8,499.6 171.0,499.9 173.1,500.1 175.3,500.4 177.4,500.7 179.6,501.0 181.7,501.3 183.8,501.5 186.0,501.8 188.1,502.1 190.3,502.4 192.4,502.7 194.5,503.0 196.7,503.3 198.8,503.5 201.0,503.8 203.1,504.1 205.2,504.4 207.4,504.6 209.5,504.9 211.7,505.2 213.8,505.5 216.0,505.7 218.1,506.0 220.2,506.3 222.4,506.6 224.5,506.9 226.7,507.2 228.8,507.5 230.9,507.7 233.1,508.0 235.2,508.3 237.4,508.5 239.5,508.8 241.7,509.0 243.8,509.2 246.0,509.5 248.1,509.7 250.2,509.9 252.4,510.1 254.5,510.4 256.7,510.7 258.8,510.9 261.0,511.2 263.1,511.6 265.2,511.9 267.4,512.2 269.5,512.6 271.6,512.9 273.8,513.3 275.9,513.6 278.0,514.0 280.2,514.3 282.3,514.6 284.4,514.8 286.6,515.1 288.7,515.3 290.9,515.6 293.0,515.9 295.1,516.2 297.3,516.5 299.4,516.9 301.5,517.2 303.6,517.6 305.8,518.0 307.9,518.5 310.0,518.9 312.1,519.3 314.2,519.8 316.3,520.3 318.3,520.9 320.4,521.4 322.3,522.4 323.4,524.1 324.4,526.0 324.4,532.2 28.1,532.2" fill="#b2c55c"/>
<polygon points="28.1,484.5 98.8,481.1 98.8,482.5 99.8,484.0 101.5,485.2 103.4,486.2 105.3,487.2 107.4,487.9 109.4,488.6 111.4,489.3 113.4,490.1 115.5,490.7 117.6,491.3 119.7,491.8 121.8,492.3 123.9,492.7 126.0,493.1 128.1,493.5 130.3,493.8 132.4,494.2 134.5,494.5 136.6,494.9 138.8,495.3 140.9,495.6 143.0,496.0 145.1,496.4 147.3,496.8 149.4,497.1 151.5,497.5 153.6,497.9 155.8,498.2 157.9,498.5 160.0,498.9 162.2,499.2 164.3,499.5 166.4,499.8 168.6,500.0 170.7,500.3 172.9,500.6 175.0,500.8 177.2,501.1 179.3,501.4 181.4,501.7 183.6,502.0 185.7,502.3 187.8,502.5 190.0,502.8 192.1,503.1 194.3,503.4 196.4,503.7 198.5,504.0 200.7,504.2 202.8,504.5 205.0,504.8 207.1,505.1 209.2,505.3 211.4,505.6 213.5,505.9 215.7,506.2 217.8,506.4 219.9,506.7 222.1,507.0 224.2,507.3 226.4,507.6 228.5,507.8 230.6,508.1 232.8,508.4 234.9,508.6 237.1,508.9 239.2,509.1 241.3,509.4 243.5,509.6 245.6,509.8 247.8,510.0 249.9,510.3 252.1,510.5 254.2,510.7 256.4,511.0 258.5,511.3 260.6,511.6 262.8,511.9 264.9,512.2 267.0,512.5 269.2,512.9 271.3,513.2 273.4,513.6 275.5,513.9 277.7,514.2 279.8,514.6 282.0,514.9 284.1,515.1 286.2,515.4 288.4,515.6 290.5,515.9 292.7,516.1 294.8,516.4 296.9,516.8 299.1,517.1 301.2,517.4 303.3,517.8 305.4,518.2 307.5,518.6 309.6,519.0 311.8,519.5 313.9,519.9 315.9,520.4 318.0,521.0 320.1,521.4 321.9,522.4 323.1,524.1 324.2,526.0 324.2,532.2 28.1,532.2" fill="#bcc557"/>
<polygon points="28.1,484.5 98.8,481.1 98.7,482.7 99.7,484.3 101.3,485.5 103.2,486.5 105.2,487.5 107.2,488.2 109.2,488.9 111.2,489.7 113.2,490.4 115.3,491.1 117.4,491.7 119.4,492.2 121.6,492.7 123.7,493.1 125.8,493.5 127.9,493.9 130.0,494.2 132.2,494.6 134.3,495.0 136.4,495.3 138.5,495.7 140.7,496.1 142.8,496.4 144.9,496.8 147.0,497.2 149.1,497.6 151.3,497.9 153.4,498.3 155.5,498.6 157.7,499.0 159.8,499.3 161.9,499.6 164.1,499.9 166.2,500.2 168.3,500.5 170.5,500.7 172.6,501.0 174.7,501.3 176.9,501.5 179.0,501.8 181.2,502.1 183.3,502.4 185.4,502.7 187.6,503.0 189.7,503.3 191.8,503.5 194.0,503.8 196.1,504.1 198.3,504.4 200.4,504.7 202.5,504.9 204.7,505.2 206.8,505.5 208.9,505.8 211.1,506.0 213.2,506.3 215.4,506.6 217.5,506.9 219.6,507.1 221.8,507.4 223.9,507.7 226.0,508.0 228.2,508.2 230.3,508.5 232.5,508.7 234.6,509.0 236.7,509.3 238.9,509.5 241.0,509.7 243.2,510.0 245.3,510.2 247.5,510.4 249.6,510.6 251.8,510.8 253.9,511.1 256.0,511.3 258.2,511.6 260.3,511.9 262.4,512.2 264.6,512.5 266.7,512.8 268.8,513.2 271.0,513.5 273.1,513.9 275.2,514.2 277.3,514.5 279.5,514.9 281.6,515.1 283.8,515.4 285.9,515.6 288.0,515.9 290.2,516.1 292.3,516.4 294.4,516.7 296.6,517.0 298.7,517.3 300.8,517.7 303.0,518.0 305.1,518.4 307.2,518.8 309.3,519.2 311.4,519.6 313.5,520.1 315.6,520.5 317.7,521.0 319.8,521.5 321.6,522.4 322.9,524.2 323.9,526.0 323.9,532.2 28.1,532.2" fill="#c6c451"/>
<polygon points="28.1,484.5 98.8,481.2 98.6,482.9 99.5,484.5 101.2,485.8 103.1,486.9 105.0,487.8 107.0,488.5 109.0,489.3 111.0,490.1 113.0,490.8 115.1,491.5 117.1,492.1 119.2,492.6 121.3,493.1 123.5,493.5 125.6,493.9 127.7,494.3 129.8,494.6 131.9,495.0 134.1,495.4 136.2,495.7 138.3,496.1 140.4,496.5 142.5,496.9 144.7,497.2 146.8,497.6 148.9,498.0 151.0,498.4 153.2,498.7 155.3,499.1 157.4,499.4 159.5,499.7 161.7,500.0 163.8,500.3 165.9,500.6 168.1,500.9 170.2,501.1 172.3,501.4 174.5,501.7 176.6,502.0 178.8,502.2 180.9,502.5 183.0,502.8 185.2,503.1 187.3,503.4 189.4,503.7 191.6,504.0 193.7,504.3 195.8,504.5 198.0,504.8 200.1,505.1 202.2,505.4 204.4,505.6 206.5,505.9 208.7,506.2 210.8,506.4 212.9,506.7 215.1,507.0 217.2,507.3 219.3,507.5 221.5,507.8 223.6,508.1 225.7,508.3 227.9,508.6 230.0,508.9 232.2,509.1 234.3,509.4 236.4,509.6 238.6,509.9 240.7,510.1 242.9,510.3 245.0,510.5 247.1,510.7 249.3,510.9 251.4,511.2 253.6,511.4 255.7,511.6 257.8,511.9 260.0,512.2 262.1,512.5 264.2,512.8 266.4,513.1 268.5,513.5 270.6,513.8 272.8,514.2 274.9,514.5 277.0,514.8 279.1,515.1 281.3,515.4 283.4,515.7 285.6,515.9 287.7,516.1 289.8,516.4 292.0,516.6 294.1,516.9 296.2,517.2 298.4,517.5 300.5,517.9 302.6,518.2 304.7,518.6 306.9,519.0 309.0,519.4 311.1,519.8 313.2,520.2 315.3,520.6 317.4,521.1 319.5,521.5 321.3,522.5 322.6,524.2 323.7,526.0 323.7,532.2 28.1,532.2" fill="#cfc34c"/>
<polygon points="28.1,484.5 98.8,481.2 98.5,483.0 99.4,484.8 101.0,486.1 102.9,487.2 104.8,488.2 106.8,488.9 108.9,489.6 110.8,490.4 112.9,491.2 114.9,491.9 116.9,492.5 119.0,493.0 121.1,493.5 123.2,493.9 125.4,494.3 127.5,494.7 129.6,495.0 131.7,495.4 133.8,495.8 136.0,496.1 138.1,496.5 140.2,496.9 142.3,497.3 144.4,497.6 146.6,498.0 148.7,498.4 150.8,498.8 152.9,499.1 155.0,499.5 157.2,499.8 159.3,500.2 161.4,500.5 163.5,500.8 165.7,501.0 167.8,501.3 170.0,501.6 172.1,501.8 174.2,502.1 176.4,502.4 178.5,502.7 180.6,502.9 182.8,503.2 184.9,503.5 187.0,503.8 189.2,504.1 191.3,504.4 193.4,504.7 195.6,505.0 197.7,505.2 199.8,505.5 202.0,505.8 204.1,506.1 206.2,506.3 208.4,506.6 210.5,506.9 212.6,507.1 214.8,507.4 216.9,507.7 219.0,507.9 221.2,508.2 223.3,508.5 225.4,508.7 227.6,509.0 229.7,509.2 231.9,509.5 234.0,509.7 236.1,510.0 238.3,510.2 240.4,510.5 242.5,510.7 244.7,510.9 246.8,511.1 249.0,511.3 251.1,511.5 253.3,511.7 255.4,512.0 257.5,512.2 259.7,512.5 261.8,512.8 263.9,513.1 266.0,513.4 268.2,513.8 270.3,514.1 272.4,514.5 274.5,514.8 276.7,515.1 278.8,515.4 280.9,515.7 283.1,516.0 285.2,516.2 287.4,516.4 289.5,516.6 291.6,516.9 293.8,517.2 295.9,517.5 298.0,517.8 300.1,518.1 302.3,518.4 304.4,518.8 306.5,519.2 308.6,519.5 310.7,519.9 312.8,520.3 315.0,520.8 317.0,521.2 319.2,521.5 321.0,522.5 322.3,524.2 323.5,526.0 323.5,532.2 28.1,532.2" fill="#d9c246"/>
<polygon points="28.1,484.5 98.8,481.3 98.4,483.2 99.2,485.1 100.9,486.4 102.7,487.5 104.6,488.5 106.7,489.2 108.7,489.9 110.7,490.8 112.7,491.6 114.7,492.3 116.7,492.9 118.8,493.4 120.9,493.9 123.0,494.3 125.1,494.7 127.3,495.1 129.4,495.5 131.5,495.8 133.6,496.2 135.7,496.5 137.9,496.9 140.0,497.3 142.1,497.7 144.2,498.1 146.3,498.5 148.4,498.8 150.6,499.2 152.7,499.6 154.8,499.9 156.9,500.3 159.0,500.6 161.2,500.9 163.3,501.2 165.4,501.5 167.6,501.7 169.7,502.0 171.8,502.3 174.0,502.5 176.1,502.8 178.2,503.1 180.4,503.4 182.5,503.6 184.6,503.9 186.7,504.2 188.9,504.5 191.0,504.8 193.1,505.1 195.3,505.4 197.4,505.7 199.5,505.9 201.7,506.2 203.8,506.5 205.9,506.8 208.1,507.0 210.2,507.3 212.3,507.6 214.5,507.8 216.6,508.1 218.7,508.3 220.9,508.6 223.0,508.9 225.1,509.1 227.3,509.4 229.4,509.6 231.5,509.9 233.7,510.1 235.8,510.4 238.0,510.6 240.1,510.8 242.2,511.0 244.4,511.2 246.5,511.4 248.7,511.6 250.8,511.8 252.9,512.1 255.1,512.3 257.2,512.5 259.3,512.8 261.5,513.1 263.6,513.4 265.7,513.8 267.8,514.1 270.0,514.4 272.1,514.8 274.2,515.1 276.3,515.4 278.5,515.7 280.6,516.0 282.7,516.2 284.9,516.5 287.0,516.7 289.1,516.9 291.3,517.2 293.4,517.4 295.5,517.7 297.7,518.0 299.8,518.3 301.9,518.6 304.0,519.0 306.2,519.3 308.3,519.7 310.4,520.1 312.5,520.5 314.6,520.9 316.7,521.3 318.8,521.6 320.7,522.5 322.1,524.2 323.2,526.0 323.2,532.2 28.1,532.2" fill="#e2c141"/>
<polygon points="28.1,484.5 98.8,481.3 98.3,483.4 99.1,485.3 100.7,486.7 102.6,487.8 104.5,488.8 106.5,489.5 108.5,490.3 110.5,491.1 112.5,491.9 114.5,492.7 116.5,493.3 118.6,493.8 120.7,494.3 122.8,494.7 124.9,495.1 127.0,495.5 129.2,495.9 131.3,496.2 133.4,496.6 135.5,497.0 137.6,497.3 139.7,497.7 141.9,498.1 144.0,498.5 146.1,498.9 148.2,499.3 150.3,499.6 152.4,500.0 154.5,500.3 156.7,500.7 158.8,501.0 160.9,501.3 163.0,501.6 165.2,501.9 167.3,502.2 169.4,502.4 171.6,502.7 173.7,503.0 175.8,503.2 178.0,503.5 180.1,503.8 182.2,504.1 184.3,504.4 186.5,504.6 188.6,504.9 190.7,505.2 192.9,505.5 195.0,505.8 197.1,506.1 199.3,506.4 201.4,506.6 203.5,506.9 205.6,507.2 207.8,507.4 209.9,507.7 212.0,508.0 214.2,508.2 216.3,508.5 218.4,508.8 220.6,509.0 222.7,509.3 224.8,509.5 227.0,509.8 229.1,510.0 231.2,510.3 233.4,510.5 235.5,510.7 237.6,511.0 239.8,511.2 241.9,511.4 244.1,511.6 246.2,511.8 248.3,512.0 250.5,512.2 252.6,512.4 254.7,512.6 256.9,512.9 259.0,513.1 261.1,513.4 263.3,513.7 265.4,514.1 267.5,514.4 269.6,514.7 271.8,515.1 273.9,515.4 276.0,515.7 278.1,516.0 280.3,516.3 282.4,516.5 284.5,516.7 286.7,517.0 288.8,517.2 290.9,517.4 293.1,517.7 295.2,517.9 297.3,518.2 299.5,518.5 301.6,518.8 303.7,519.2 305.8,519.5 307.9,519.9 310.1,520.2 312.2,520.6 314.3,521.0 316.4,521.4 318.5,521.6 320.4,522.6 321.8,524.2 323.0,526.0 323.0,532.2 28.1,532.2" fill="#ecc03c"/>
<polygon points="28.1,484.5 98.4,481.3 97.9,483.4 98.6,485.3 100.1,486.8 101.9,487.9 103.8,488.9 105.8,489.7 107.8,490.5 109.7,491.3 111.7,492.1 113.7,492.8 115.8,493.5 117.8,494.0 119.9,494.5 122.0,494.9 124.1,495.4 126.2,495.7 128.3,496.1 130.4,496.5 132.5,496.9 134.6,497.2 136.7,497.6 138.8,498.0 140.9,498.4 143.1,498.7 145.2,499.1 147.3,499.5 149.4,499.9 151.5,500.2 153.6,500.6 155.7,500.9 157.8,501.3 159.9,501.6 162.0,501.9 164.2,502.2 166.3,502.4 168.4,502.7 170.5,503.0 172.6,503.2 174.8,503.5 176.9,503.8 179.0,504.1 181.1,504.3 183.2,504.6 185.4,504.9 187.5,505.2 189.6,505.5 191.7,505.8 193.8,506.1 196.0,506.4 198.1,506.6 200.2,506.9 202.3,507.2 204.4,507.4 206.6,507.7 208.7,508.0 210.8,508.2 212.9,508.5 215.1,508.7 217.2,509.0 219.3,509.2 221.4,509.5 223.6,509.7 225.7,510.0 227.8,510.2 229.9,510.5 232.1,510.7 234.2,510.9 236.3,511.2 238.4,511.4 240.6,511.6 242.7,511.8 244.8,512.0 246.9,512.2 249.1,512.4 251.2,512.6 253.3,512.8 255.5,513.1 257.6,513.4 259.7,513.6 261.8,513.9 263.9,514.3 266.0,514.6 268.2,514.9 270.3,515.2 272.4,515.6 274.5,515.9 276.6,516.2 278.7,516.4 280.9,516.7 283.0,516.9 285.1,517.1 287.2,517.3 289.4,517.5 291.5,517.8 293.6,518.0 295.7,518.3 297.9,518.6 300.0,518.9 302.1,519.2 304.2,519.6 306.3,519.9 308.4,520.3 310.5,520.6 312.6,521.0 314.7,521.4 316.9,521.7 318.7,522.6 320.1,524.2 321.3,526.0 321.3,532.2 28.1,532.2" fill="#f4c037"/>
<polygon points="28.1,484.5 98.0,481.3 97.5,483.4 98.1,485.3 99.6,486.8 101.3,488.0 103.1,489.0 105.1,489.8 107.1,490.6 109.0,491.5 111.0,492.3 113.0,493.0 115.0,493.7 117.1,494.2 119.1,494.7 121.2,495.2 123.3,495.6 125.4,496.0 127.5,496.4 129.6,496.8 131.7,497.1 133.8,497.5 135.8,497.9 137.9,498.2 140.0,498.6 142.1,499.0 144.2,499.4 146.3,499.8 148.4,500.1 150.5,500.5 152.6,500.8 154.7,501.2 156.8,501.5 158.9,501.8 161.0,502.1 163.1,502.4 165.3,502.7 167.4,503.0 169.5,503.2 171.6,503.5 173.7,503.8 175.8,504.1 177.9,504.3 180.0,504.6 182.1,504.9 184.2,505.2 186.4,505.5 188.5,505.8 190.6,506.1 192.7,506.3 194.8,506.6 196.9,506.9 199.0,507.2 201.1,507.4 203.2,507.7 205.4,508.0 207.5,508.2 209.6,508.5 211.7,508.7 213.8,509.0 215.9,509.2 218.0,509.5 220.2,509.7 222.3,510.0 224.4,510.2 226.5,510.5 228.6,510.7 230.7,510.9 232.8,511.2 235.0,511.4 237.1,511.6 239.2,511.8 241.3,512.0 243.4,512.2 245.6,512.4 247.7,512.6 249.8,512.8 251.9,513.1 254.0,513.3 256.1,513.6 258.3,513.9 260.4,514.2 262.5,514.5 264.6,514.8 266.7,515.1 268.8,515.4 270.9,515.7 273.0,516.0 275.1,516.3 277.2,516.6 279.3,516.8 281.4,517.0 283.6,517.2 285.7,517.4 287.8,517.7 289.9,517.9 292.0,518.2 294.1,518.4 296.3,518.7 298.4,519.0 300.5,519.3 302.6,519.6 304.7,520.0 306.8,520.3 308.9,520.7 311.0,521.0 313.1,521.4 315.2,521.7 317.1,522.6 318.4,524.3 319.6,526.0 319.6,532.2 28.1,532.2" fill="#fbbf33"/>
<polygon points="28.1,484.5 97.6,481.3 97.1,483.4 97.6,485.3 99.0,486.8 100.7,488.1 102.5,489.1 104.4,490.0 106.3,490.8 108.3,491.6 110.2,492.4 112.2,493.2 114.2,493.8 116.3,494.4 118.3,494.9 120.4,495.4 122.5,495.8 124.5,496.2 126.6,496.6 128.7,497.0 130.8,497.4 132.9,497.8 135.0,498.1 137.0,498.5 139.1,498.9 141.2,499.3 143.3,499.6 145.4,500.0 147.5,500.4 149.6,500.7 151.7,501.1 153.7,501.4 155.8,501.8 157.9,502.1 160.0,502.4 162.1,502.7 164.2,503.0 166.3,503.2 168.4,503.5 170.5,503.8 172.6,504.1 174.7,504.3 176.8,504.6 178.9,504.9 181.0,505.2 183.1,505.5 185.2,505.8 187.3,506.1 189.4,506.3 191.5,506.6 193.6,506.9 195.7,507.2 197.8,507.4 199.9,507.7 202.0,508.0 204.2,508.2 206.3,508.5 208.4,508.7 210.5,509.0 212.6,509.2 214.7,509.5 216.8,509.7 218.9,510.0 221.0,510.2 223.1,510.4 225.2,510.7 227.3,510.9 229.4,511.1 231.5,511.4 233.6,511.6 235.7,511.8 237.8,512.0 240.0,512.2 242.1,512.4 244.2,512.6 246.3,512.8 248.4,513.1 250.5,513.3 252.6,513.5 254.7,513.8 256.8,514.1 258.9,514.4 261.0,514.7 263.1,515.0 265.2,515.3 267.3,515.6 269.4,515.9 271.5,516.2 273.6,516.5 275.7,516.7 277.8,517.0 279.9,517.2 282.0,517.4 284.1,517.6 286.2,517.8 288.3,518.0 290.4,518.3 292.5,518.5 294.6,518.8 296.7,519.1 298.8,519.4 300.9,519.7 303.0,520.0 305.1,520.4 307.2,520.7 309.3,521.1 311.4,521.4 313.5,521.7 315.4,522.7 316.7,524.3 317.9,526.0 317.9,532.2 28.1,532.2" fill="#fbb734"/>
<polygon points="28.1,484.5 97.2,481.4 96.7,483.3 97.1,485.3 98.5,486.8 100.1,488.1 101.8,489.3 103.7,490.1 105.6,490.9 107.5,491.8 109.5,492.6 111.5,493.4 113.5,494.0 115.5,494.6 117.5,495.1 119.6,495.6 121.6,496.0 123.7,496.5 125.8,496.9 127.8,497.3 129.9,497.7 132.0,498.0 134.1,498.4 136.1,498.8 138.2,499.1 140.3,499.5 142.4,499.9 144.5,500.3 146.5,500.6 148.6,501.0 150.7,501.3 152.8,501.7 154.9,502.0 156.9,502.3 159.0,502.6 161.1,502.9 163.2,503.2 165.3,503.5 167.4,503.8 169.5,504.1 171.6,504.3 173.7,504.6 175.8,504.9 177.8,505.2 179.9,505.5 182.0,505.8 184.1,506.0 186.2,506.3 188.3,506.6 190.4,506.9 192.5,507.2 194.6,507.4 196.7,507.7 198.8,508.0 200.9,508.2 202.9,508.5 205.0,508.7 207.1,509.0 209.2,509.2 211.3,509.5 213.4,509.7 215.5,510.0 217.6,510.2 219.7,510.4 221.8,510.7 223.9,510.9 226.0,511.1 228.1,511.4 230.2,511.6 232.3,511.8 234.4,512.0 236.5,512.2 238.6,512.4 240.7,512.6 242.8,512.9 244.9,513.1 247.0,513.3 249.1,513.5 251.2,513.8 253.3,514.0 255.4,514.3 257.5,514.6 259.5,514.9 261.6,515.2 263.7,515.5 265.8,515.8 267.9,516.1 270.0,516.4 272.1,516.6 274.2,516.9 276.3,517.1 278.4,517.3 280.5,517.5 282.6,517.7 284.7,517.9 286.8,518.1 288.9,518.4 291.0,518.6 293.0,518.9 295.1,519.2 297.2,519.4 299.3,519.8 301.4,520.1 303.5,520.4 305.6,520.8 307.6,521.1 309.7,521.4 311.8,521.7 313.7,522.7 315.0,524.3 316.2,526.0 316.2,532.2 28.1,532.2" fill="#fbb035"/>
<polygon points="28.1,484.5 96.9,481.4 96.3,483.3 96.7,485.3 97.9,486.9 99.4,488.2 101.1,489.4 103.0,490.3 104.9,491.1 106.8,492.0 108.7,492.8 110.7,493.5 112.7,494.2 114.7,494.8 116.7,495.3 118.8,495.8 120.8,496.3 122.9,496.7 124.9,497.1 127.0,497.5 129.1,497.9 131.1,498.3 133.2,498.7 135.3,499.0 137.3,499.4 139.4,499.8 141.5,500.1 143.5,500.5 145.6,500.9 147.7,501.2 149.7,501.6 151.8,501.9 153.9,502.3 155.9,502.6 158.0,502.9 160.1,503.2 162.2,503.5 164.3,503.8 166.3,504.1 168.4,504.3 170.5,504.6 172.6,504.9 174.7,505.2 176.7,505.5 178.8,505.8 180.9,506.0 183.0,506.3 185.1,506.6 187.2,506.9 189.2,507.2 191.3,507.4 193.4,507.7 195.5,508.0 197.6,508.2 199.7,508.5 201.7,508.7 203.8,509.0 205.9,509.2 208.0,509.5 210.1,509.7 212.2,510.0 214.3,510.2 216.3,510.4 218.4,510.7 220.5,510.9 222.6,511.1 224.7,511.3 226.8,511.6 228.9,511.8 231.0,512.0 233.0,512.2 235.1,512.4 237.2,512.7 239.3,512.9 241.4,513.1 243.5,513.3 245.6,513.5 247.7,513.7 249.8,514.0 251.8,514.2 253.9,514.5 256.0,514.8 258.1,515.1 260.2,515.4 262.2,515.7 264.3,515.9 266.4,516.2 268.5,516.5 270.6,516.8 272.6,517.0 274.7,517.2 276.8,517.4 278.9,517.6 281.0,517.8 283.1,518.0 285.2,518.3 287.3,518.5 289.4,518.7 291.4,519.0 293.5,519.2 295.6,519.5 297.7,519.8 299.8,520.1 301.8,520.5 303.9,520.8 306.0,521.1 308.0,521.5 310.1,521.8 312.0,522.7 313.3,524.3 314.6,526.0 314.6,532.2 28.1,532.2" fill="#fba836"/>
<polygon points="28.1,484.5 96.5,481.4 95.9,483.3 96.2,485.3 97.3,486.9 98.8,488.3 100.4,489.5 102.3,490.4 104.2,491.3 106.1,492.1 108.0,492.9 110.0,493.7 111.9,494.4 113.9,495.0 116.0,495.5 118.0,496.0 120.0,496.5 122.0,497.0 124.1,497.4 126.1,497.8 128.2,498.2 130.2,498.6 132.3,498.9 134.4,499.3 136.4,499.7 138.5,500.0 140.5,500.4 142.6,500.8 144.6,501.1 146.7,501.5 148.8,501.8 150.8,502.2 152.9,502.5 155.0,502.8 157.0,503.2 159.1,503.5 161.2,503.8 163.2,504.1 165.3,504.3 167.4,504.6 169.4,504.9 171.5,505.2 173.6,505.5 175.7,505.8 177.7,506.0 179.8,506.3 181.9,506.6 183.9,506.9 186.0,507.2 188.1,507.4 190.2,507.7 192.2,508.0 194.3,508.2 196.4,508.5 198.5,508.7 200.5,509.0 202.6,509.2 204.7,509.5 206.8,509.7 208.8,510.0 210.9,510.2 213.0,510.4 215.1,510.7 217.1,510.9 219.2,511.1 221.3,511.3 223.4,511.6 225.5,511.8 227.5,512.0 229.6,512.2 231.7,512.4 233.8,512.7 235.9,512.9 237.9,513.1 240.0,513.3 242.1,513.5 244.2,513.7 246.2,514.0 248.3,514.2 250.4,514.5 252.5,514.7 254.5,515.0 256.6,515.3 258.7,515.6 260.8,515.8 262.8,516.1 264.9,516.4 267.0,516.7 269.0,516.9 271.1,517.2 273.2,517.4 275.3,517.6 277.4,517.8 279.4,517.9 281.5,518.2 283.6,518.4 285.7,518.6 287.8,518.8 289.8,519.1 291.9,519.3 294.0,519.6 296.1,519.9 298.1,520.2 300.2,520.5 302.2,520.9 304.3,521.2 306.4,521.5 308.4,521.8 310.3,522.7 311.6,524.3 312.9,526.0 312.9,532.2 28.1,532.2" fill="#fba136"/>
<polygon points="28.1,484.5 96.1,481.4 95.4,483.3 95.7,485.3 96.8,486.9 98.2,488.3 99.8,489.6 101.6,490.5 103.5,491.4 105.3,492.3 107.3,493.1 109.2,493.9 111.2,494.5 113.2,495.1 115.2,495.7 117.2,496.2 119.2,496.7 121.2,497.2 123.2,497.6 125.3,498.1 127.3,498.4 129.4,498.8 131.4,499.2 133.5,499.6 135.5,499.9 137.6,500.3 139.6,500.7 141.7,501.0 143.7,501.4 145.8,501.7 147.8,502.1 149.9,502.4 151.9,502.8 154.0,503.1 156.0,503.4 158.1,503.7 160.1,504.0 162.2,504.3 164.3,504.6 166.3,504.9 168.4,505.2 170.4,505.5 172.5,505.8 174.6,506.0 176.6,506.3 178.7,506.6 180.7,506.9 182.8,507.2 184.9,507.4 186.9,507.7 189.0,508.0 191.1,508.2 193.1,508.5 195.2,508.7 197.3,509.0 199.3,509.2 201.4,509.5 203.5,509.7 205.5,510.0 207.6,510.2 209.7,510.5 211.7,510.7 213.8,510.9 215.9,511.1 217.9,511.3 220.0,511.6 222.1,511.8 224.1,512.0 226.2,512.2 228.3,512.4 230.3,512.6 232.4,512.9 234.5,513.1 236.6,513.3 238.6,513.5 240.7,513.7 242.8,514.0 244.8,514.2 246.9,514.4 249.0,514.7 251.0,514.9 253.1,515.2 255.2,515.5 257.2,515.8 259.3,516.0 261.3,516.3 263.4,516.6 265.5,516.8 267.5,517.1 269.6,517.3 271.7,517.5 273.7,517.7 275.8,517.9 277.9,518.1 280.0,518.3 282.0,518.5 284.1,518.7 286.2,518.9 288.2,519.2 290.3,519.4 292.4,519.7 294.4,519.9 296.5,520.2 298.5,520.6 300.6,520.9 302.6,521.2 304.7,521.5 306.8,521.8 308.6,522.8 309.9,524.3 311.2,526.0 311.2,532.2 28.1,532.2" fill="#fc9937"/>
<polygon points="28.1,484.5 95.7,481.4 95.0,483.3 95.2,485.3 96.2,487.0 97.5,488.4 99.1,489.7 100.9,490.7 102.7,491.6 104.6,492.5 106.5,493.3 108.4,494.0 110.4,494.7 112.4,495.3 114.4,495.9 116.4,496.4 118.4,497.0 120.4,497.5 122.4,497.9 124.4,498.3 126.4,498.7 128.5,499.1 130.5,499.5 132.6,499.8 134.6,500.2 136.6,500.5 138.7,500.9 140.7,501.3 142.8,501.6 144.8,502.0 146.8,502.3 148.9,502.7 150.9,503.0 153.0,503.3 155.0,503.7 157.1,504.0 159.1,504.3 161.2,504.6 163.2,504.9 165.3,505.2 167.3,505.5 169.4,505.8 171.4,506.0 173.5,506.3 175.5,506.6 177.6,506.9 179.6,507.2 181.7,507.4 183.7,507.7 185.8,508.0 187.8,508.2 189.9,508.5 191.9,508.7 194.0,509.0 196.1,509.3 198.1,509.5 200.2,509.7 202.2,510.0 204.3,510.2 206.3,510.5 208.4,510.7 210.5,510.9 212.5,511.1 214.6,511.4 216.6,511.6 218.7,511.8 220.8,512.0 222.8,512.2 224.9,512.4 226.9,512.6 229.0,512.9 231.1,513.1 233.1,513.3 235.2,513.5 237.2,513.7 239.3,514.0 241.4,514.2 243.4,514.4 245.5,514.7 247.5,514.9 249.6,515.2 251.6,515.4 253.7,515.7 255.7,516.0 257.8,516.2 259.9,516.5 261.9,516.7 264.0,517.0 266.0,517.2 268.1,517.5 270.1,517.7 272.2,517.8 274.3,518.0 276.3,518.2 278.4,518.4 280.5,518.6 282.5,518.8 284.6,519.0 286.6,519.2 288.7,519.5 290.7,519.7 292.8,520.0 294.8,520.3 296.9,520.7 298.9,521.0 301.0,521.2 303.0,521.5 305.1,521.9 306.9,522.8 308.3,524.3 309.5,526.0 309.5,532.2 28.1,532.2" fill="#fc9238"/>
<polygon points="28.1,484.5 95.3,481.4 94.6,483.3 94.7,485.3 95.6,487.0 96.9,488.5 98.4,489.8 100.2,490.8 102.0,491.7 103.9,492.6 105.8,493.5 107.7,494.2 109.6,494.9 111.6,495.5 113.6,496.1 115.5,496.7 117.5,497.2 119.5,497.7 121.5,498.2 123.6,498.6 125.6,499.0 127.6,499.3 129.6,499.7 131.7,500.1 133.7,500.4 135.7,500.8 137.8,501.2 139.8,501.5 141.8,501.9 143.8,502.2 145.9,502.6 147.9,502.9 149.9,503.3 152.0,503.6 154.0,503.9 156.0,504.2 158.1,504.6 160.1,504.9 162.2,505.2 164.2,505.5 166.2,505.8 168.3,506.0 170.3,506.3 172.4,506.6 174.4,506.9 176.5,507.2 178.5,507.4 180.5,507.7 182.6,508.0 184.6,508.2 186.7,508.5 188.7,508.8 190.8,509.0 192.8,509.3 194.9,509.5 196.9,509.8 199.0,510.0 201.0,510.2 203.1,510.5 205.1,510.7 207.1,510.9 209.2,511.2 211.2,511.4 213.3,511.6 215.3,511.8 217.4,512.0 219.5,512.2 221.5,512.4 223.6,512.6 225.6,512.8 227.7,513.1 229.7,513.3 231.8,513.5 233.8,513.7 235.9,513.9 237.9,514.2 240.0,514.4 242.0,514.6 244.0,514.9 246.1,515.1 248.1,515.4 250.2,515.6 252.2,515.9 254.3,516.1 256.3,516.4 258.4,516.7 260.4,516.9 262.5,517.2 264.5,517.4 266.6,517.6 268.6,517.8 270.7,518.0 272.7,518.2 274.8,518.3 276.8,518.5 278.9,518.7 280.9,518.9 283.0,519.1 285.0,519.3 287.1,519.6 289.1,519.8 291.2,520.1 293.2,520.4 295.2,520.7 297.3,521.0 299.3,521.3 301.4,521.5 303.4,521.9 305.2,522.8 306.6,524.4 307.8,526.0 307.8,532.2 28.1,532.2" fill="#fc8a39"/>
<polygon points="28.1,484.5 94.9,481.4 94.2,483.3 94.2,485.3 95.1,487.0 96.3,488.6 97.8,489.9 99.5,491.0 101.3,491.9 103.2,492.8 105.0,493.6 106.9,494.4 108.9,495.1 110.8,495.7 112.8,496.3 114.7,496.9 116.7,497.4 118.7,497.9 120.7,498.4 122.7,498.8 124.7,499.2 126.7,499.6 128.7,500.0 130.8,500.3 132.8,500.7 134.8,501.1 136.8,501.4 138.8,501.8 140.9,502.1 142.9,502.5 144.9,502.8 146.9,503.2 149.0,503.5 151.0,503.9 153.0,504.2 155.0,504.5 157.1,504.8 159.1,505.1 161.1,505.4 163.1,505.7 165.2,506.0 167.2,506.3 169.2,506.6 171.3,506.9 173.3,507.2 175.3,507.4 177.4,507.7 179.4,508.0 181.4,508.2 183.5,508.5 185.5,508.8 187.6,509.0 189.6,509.3 191.6,509.5 193.7,509.8 195.7,510.0 197.7,510.3 199.8,510.5 201.8,510.7 203.9,511.0 205.9,511.2 207.9,511.4 210.0,511.6 212.0,511.8 214.1,512.0 216.1,512.2 218.1,512.4 220.2,512.6 222.2,512.8 224.3,513.1 226.3,513.3 228.3,513.5 230.4,513.7 232.4,513.9 234.5,514.2 236.5,514.4 238.5,514.6 240.6,514.9 242.6,515.1 244.7,515.4 246.7,515.6 248.7,515.8 250.8,516.1 252.8,516.3 254.8,516.6 256.9,516.8 258.9,517.1 261.0,517.3 263.0,517.5 265.0,517.7 267.1,517.9 269.1,518.1 271.2,518.3 273.2,518.5 275.3,518.7 277.3,518.8 279.3,519.0 281.4,519.2 283.4,519.4 285.5,519.6 287.5,519.9 289.5,520.1 291.6,520.4 293.6,520.8 295.6,521.1 297.7,521.3 299.7,521.6 301.7,521.9 303.5,522.9 304.9,524.4 306.1,526.0 306.1,532.2 28.1,532.2" fill="#fc833a"/>
<polygon points="28.1,484.5 94.5,481.4 93.8,483.3 93.7,485.3 94.5,487.0 95.7,488.6 97.1,490.0 98.8,491.1 100.6,492.1 102.4,493.0 104.3,493.8 106.2,494.5 108.1,495.2 110.0,495.9 112.0,496.5 113.9,497.1 115.9,497.7 117.9,498.2 119.8,498.7 121.8,499.1 123.8,499.5 125.8,499.9 127.9,500.2 129.9,500.6 131.9,501.0 133.9,501.3 135.9,501.7 137.9,502.0 139.9,502.4 141.9,502.7 144.0,503.1 146.0,503.4 148.0,503.8 150.0,504.1 152.0,504.4 154.0,504.8 156.0,505.1 158.1,505.4 160.1,505.7 162.1,506.0 164.1,506.3 166.1,506.6 168.2,506.9 170.2,507.2 172.2,507.4 174.2,507.7 176.3,508.0 178.3,508.2 180.3,508.5 182.3,508.8 184.4,509.0 186.4,509.3 188.4,509.5 190.4,509.8 192.5,510.0 194.5,510.3 196.5,510.5 198.6,510.7 200.6,511.0 202.6,511.2 204.6,511.4 206.7,511.6 208.7,511.9 210.7,512.1 212.8,512.3 214.8,512.5 216.8,512.7 218.9,512.9 220.9,513.1 222.9,513.3 225.0,513.5 227.0,513.7 229.0,513.9 231.1,514.1 233.1,514.4 235.1,514.6 237.1,514.9 239.2,515.1 241.2,515.3 243.2,515.6 245.3,515.8 247.3,516.1 249.3,516.3 251.3,516.5 253.4,516.8 255.4,517.0 257.4,517.2 259.4,517.5 261.5,517.7 263.5,517.9 265.5,518.1 267.6,518.3 269.6,518.4 271.7,518.6 273.7,518.8 275.7,519.0 277.8,519.1 279.8,519.3 281.8,519.5 283.9,519.7 285.9,519.9 287.9,520.2 289.9,520.5 291.9,520.8 294.0,521.1 296.0,521.3 298.0,521.6 300.0,521.9 301.8,522.9 303.2,524.4 304.4,526.0 304.4,532.2 28.1,532.2" fill="#fc7b3b"/>
<polygon points="28.1,484.5 94.1,481.4 93.4,483.3 93.3,485.3 93.9,487.1 95.0,488.7 96.4,490.1 98.1,491.3 99.9,492.2 101.7,493.1 103.5,494.0 105.4,494.7 107.3,495.4 109.3,496.1 111.2,496.7 113.1,497.3 115.1,497.9 117.0,498.4 119.0,498.9 121.0,499.4 123.0,499.8 125.0,500.1 127.0,500.5 129.0,500.9 131.0,501.2 133.0,501.6 135.0,501.9 137.0,502.3 139.0,502.6 141.0,503.0 143.0,503.3 145.0,503.7 147.0,504.0 149.0,504.4 151.0,504.7 153.0,505.0 155.0,505.4 157.0,505.7 159.0,506.0 161.0,506.3 163.0,506.6 165.1,506.9 167.1,507.2 169.1,507.5 171.1,507.7 173.1,508.0 175.1,508.3 177.1,508.5 179.2,508.8 181.2,509.0 183.2,509.3 185.2,509.6 187.2,509.8 189.2,510.0 191.3,510.3 193.3,510.5 195.3,510.8 197.3,511.0 199.3,511.2 201.4,511.4 203.4,511.7 205.4,511.9 207.4,512.1 209.5,512.3 211.5,512.5 213.5,512.7 215.5,512.9 217.5,513.1 219.6,513.3 221.6,513.5 223.6,513.7 225.6,513.9 227.7,514.1 229.7,514.4 231.7,514.6 233.7,514.8 235.7,515.1 237.8,515.3 239.8,515.6 241.8,515.8 243.8,516.0 245.8,516.3 247.8,516.5 249.9,516.7 251.9,517.0 253.9,517.2 255.9,517.4 257.9,517.6 260.0,517.8 262.0,518.0 264.0,518.2 266.0,518.4 268.1,518.6 270.1,518.7 272.1,518.9 274.1,519.1 276.2,519.2 278.2,519.4 280.2,519.6 282.2,519.8 284.3,520.0 286.3,520.2 288.3,520.5 290.3,520.9 292.3,521.2 294.3,521.4 296.3,521.6 298.3,522.0 300.1,522.9 301.5,524.4 302.8,526.0 302.8,532.2 28.1,532.2" fill="#fc733b"/>
<polygon points="28.1,484.5 93.8,481.5 93.0,483.3 92.8,485.3 93.4,487.1 94.4,488.8 95.8,490.2 97.4,491.4 99.2,492.4 101.0,493.3 102.8,494.1 104.7,494.9 106.6,495.6 108.5,496.3 110.4,496.9 112.3,497.5 114.2,498.1 116.2,498.7 118.1,499.2 120.1,499.6 122.1,500.0 124.1,500.4 126.1,500.8 128.1,501.1 130.1,501.5 132.1,501.8 134.0,502.2 136.0,502.5 138.0,502.9 140.0,503.2 142.0,503.6 144.0,503.9 146.0,504.3 148.0,504.6 150.0,505.0 152.0,505.3 154.0,505.6 156.0,505.9 158.0,506.3 160.0,506.6 162.0,506.9 164.0,507.2 166.0,507.5 168.0,507.7 170.0,508.0 172.0,508.3 174.0,508.5 176.0,508.8 178.0,509.1 180.0,509.3 182.0,509.6 184.0,509.8 186.1,510.1 188.1,510.3 190.1,510.5 192.1,510.8 194.1,511.0 196.1,511.2 198.1,511.5 200.1,511.7 202.1,511.9 204.1,512.1 206.2,512.3 208.2,512.5 210.2,512.7 212.2,512.9 214.2,513.1 216.2,513.3 218.2,513.5 220.3,513.7 222.3,513.9 224.3,514.1 226.3,514.3 228.3,514.6 230.3,514.8 232.3,515.1 234.3,515.3 236.3,515.5 238.3,515.8 240.4,516.0 242.4,516.3 244.4,516.5 246.4,516.7 248.4,516.9 250.4,517.2 252.4,517.4 254.4,517.6 256.4,517.8 258.5,518.0 260.5,518.2 262.5,518.4 264.5,518.5 266.5,518.7 268.5,518.9 270.5,519.0 272.6,519.2 274.6,519.4 276.6,519.5 278.6,519.7 280.6,519.9 282.6,520.1 284.6,520.3 286.7,520.6 288.6,520.9 290.6,521.2 292.7,521.4 294.7,521.6 296.7,522.0 298.4,523.0 299.8,524.4 301.1,526.0 301.1,532.2 28.1,532.2" fill="#fc6c3c"/>
<polygon points="28.1,484.5 93.4,481.5 92.6,483.3 92.3,485.2 92.8,487.1 93.8,488.8 95.1,490.3 96.7,491.5 98.4,492.5 100.2,493.5 102.1,494.3 103.9,495.1 105.8,495.8 107.7,496.4 109.6,497.1 111.5,497.7 113.4,498.3 115.4,498.9 117.3,499.4 119.3,499.9 121.2,500.3 123.2,500.7 125.2,501.0 127.2,501.4 129.2,501.7 131.1,502.1 133.1,502.4 135.1,502.8 137.1,503.1 139.1,503.5 141.1,503.8 143.0,504.2 145.0,504.5 147.0,504.9 149.0,505.2 151.0,505.6 153.0,505.9 154.9,506.2 156.9,506.5 158.9,506.9 160.9,507.2 162.9,507.5 164.9,507.7 166.9,508.0 168.9,508.3 170.9,508.6 172.9,508.8 174.9,509.1 176.9,509.3 178.9,509.6 180.9,509.8 182.9,510.1 184.9,510.3 186.9,510.6 188.9,510.8 190.9,511.0 192.9,511.3 194.9,511.5 196.9,511.7 198.9,511.9 200.9,512.2 202.9,512.4 204.9,512.6 206.9,512.8 208.9,512.9 210.9,513.1 212.9,513.3 214.9,513.5 216.9,513.7 218.9,513.9 220.9,514.1 222.9,514.3 224.9,514.6 226.9,514.8 228.9,515.0 230.9,515.3 232.9,515.5 234.9,515.8 236.9,516.0 238.9,516.2 240.9,516.5 242.9,516.7 244.9,516.9 246.9,517.1 248.9,517.3 250.9,517.5 252.9,517.8 254.9,517.9 256.9,518.1 258.9,518.3 261.0,518.5 263.0,518.7 265.0,518.8 267.0,519.0 269.0,519.1 271.0,519.3 273.0,519.5 275.0,519.6 277.0,519.8 279.0,520.0 281.0,520.1 283.0,520.4 285.0,520.6 287.0,521.0 289.0,521.3 291.0,521.4 293.0,521.6 295.0,522.0 296.7,523.0 298.1,524.4 299.4,526.0 299.4,532.2 28.1,532.2" fill="#fc643d"/>
<polygon points="28.1,484.5 93.0,481.5 92.2,483.3 91.8,485.2 92.3,487.2 93.2,488.9 94.4,490.5 96.0,491.7 97.7,492.7 99.5,493.6 101.3,494.5 103.2,495.2 105.0,495.9 106.9,496.6 108.8,497.3 110.7,497.9 112.6,498.6 114.5,499.2 116.5,499.7 118.4,500.1 120.4,500.6 122.3,500.9 124.3,501.3 126.3,501.7 128.2,502.0 130.2,502.3 132.2,502.7 134.2,503.0 136.1,503.4 138.1,503.7 140.1,504.1 142.1,504.4 144.0,504.8 146.0,505.1 148.0,505.5 150.0,505.8 151.9,506.2 153.9,506.5 155.9,506.8 157.9,507.1 159.9,507.4 161.8,507.7 163.8,508.0 165.8,508.3 167.8,508.6 169.8,508.8 171.8,509.1 173.7,509.3 175.7,509.6 177.7,509.9 179.7,510.1 181.7,510.3 183.7,510.6 185.7,510.8 187.7,511.1 189.7,511.3 191.7,511.5 193.6,511.7 195.6,512.0 197.6,512.2 199.6,512.4 201.6,512.6 203.6,512.8 205.6,513.0 207.6,513.2 209.6,513.3 211.6,513.5 213.6,513.7 215.6,513.9 217.6,514.1 219.6,514.3 221.6,514.5 223.6,514.8 225.5,515.0 227.5,515.2 229.5,515.5 231.5,515.7 233.5,516.0 235.5,516.2 237.5,516.5 239.5,516.7 241.5,516.9 243.5,517.1 245.5,517.3 247.4,517.5 249.4,517.7 251.4,517.9 253.4,518.1 255.4,518.3 257.4,518.5 259.4,518.6 261.4,518.8 263.4,519.0 265.4,519.1 267.4,519.3 269.4,519.4 271.4,519.6 273.4,519.7 275.4,519.9 277.4,520.0 279.4,520.2 281.4,520.4 283.4,520.7 285.4,521.0 287.3,521.3 289.3,521.5 291.3,521.6 293.3,522.0 295.0,523.0 296.4,524.5 297.7,526.0 297.7,532.2 28.1,532.2" fill="#fd5d3e"/>
<polygon points="28.1,484.5 92.6,481.5 91.8,483.3 91.3,485.2 91.7,487.2 92.5,489.0 93.8,490.6 95.3,491.8 97.0,492.9 98.8,493.8 100.6,494.6 102.4,495.4 104.3,496.1 106.1,496.8 108.0,497.5 109.9,498.2 111.8,498.8 113.7,499.4 115.6,499.9 117.5,500.4 119.5,500.8 121.5,501.2 123.4,501.6 125.4,501.9 127.3,502.3 129.3,502.6 131.3,502.9 133.2,503.3 135.2,503.6 137.2,504.0 139.1,504.3 141.1,504.7 143.1,505.0 145.0,505.4 147.0,505.7 148.9,506.1 150.9,506.4 152.9,506.8 154.8,507.1 156.8,507.4 158.8,507.7 160.8,508.0 162.7,508.3 164.7,508.6 166.7,508.8 168.7,509.1 170.6,509.4 172.6,509.6 174.6,509.9 176.6,510.1 178.6,510.4 180.5,510.6 182.5,510.9 184.5,511.1 186.5,511.3 188.5,511.6 190.4,511.8 192.4,512.0 194.4,512.2 196.4,512.4 198.4,512.6 200.4,512.8 202.3,513.0 204.3,513.2 206.3,513.4 208.3,513.6 210.3,513.7 212.3,513.9 214.3,514.1 216.2,514.3 218.2,514.5 220.2,514.7 222.2,515.0 224.2,515.2 226.1,515.5 228.1,515.7 230.1,516.0 232.1,516.2 234.1,516.5 236.0,516.7 238.0,516.9 240.0,517.1 242.0,517.3 244.0,517.5 246.0,517.7 248.0,517.9 249.9,518.1 251.9,518.3 253.9,518.4 255.9,518.6 257.9,518.8 259.9,519.0 261.9,519.1 263.9,519.3 265.8,519.4 267.8,519.5 269.8,519.7 271.8,519.8 273.8,520.0 275.8,520.1 277.8,520.3 279.8,520.5 281.7,520.7 283.7,521.1 285.7,521.4 287.7,521.5 289.7,521.7 291.6,522.1 293.3,523.1 294.7,524.5 296.0,526.0 296.0,532.2 28.1,532.2" fill="#fd553f"/>
<polygon points="28.1,484.5 92.6,482.2 91.8,484.0 91.3,485.9 91.7,487.8 92.5,489.7 93.8,491.2 95.3,492.5 97.0,493.5 98.8,494.4 100.6,495.3 102.4,496.1 104.3,496.8 106.1,497.5 108.0,498.1 109.9,498.8 111.8,499.5 113.7,500.1 115.6,500.6 117.5,501.1 119.5,501.5 121.5,501.9 123.4,502.2 125.4,502.6 127.3,502.9 129.3,503.3 131.3,503.6 133.2,503.9 135.2,504.3 137.2,504.6 139.1,505.0 141.1,505.3 143.1,505.7 145.0,506.0 147.0,506.4 148.9,506.7 150.9,507.1 152.9,507.4 154.8,507.8 156.8,508.1 158.8,508.4 160.8,508.7 162.7,509.0 164.7,509.2 166.7,509.5 168.7,509.8 170.6,510.0 172.6,510.3 174.6,510.5 176.6,510.8 178.6,511.0 180.5,511.3 182.5,511.5 184.5,511.8 186.5,512.0 188.5,512.2 190.4,512.4 192.4,512.7 194.4,512.9 196.4,513.1 198.4,513.3 200.4,513.5 202.3,513.7 204.3,513.9 206.3,514.1 208.3,514.2 210.3,514.4 212.3,514.6 214.3,514.8 216.2,515.0 218.2,515.2 220.2,515.4 222.2,515.6 224.2,515.9 226.1,516.1 228.1,516.4 230.1,516.6 232.1,516.9 234.1,517.1 236.0,517.3 238.0,517.6 240.0,517.8 242.0,518.0 244.0,518.2 246.0,518.4 248.0,518.6 249.9,518.8 251.9,518.9 253.9,519.1 255.9,519.3 257.9,519.5 259.9,519.6 261.9,519.8 263.9,519.9 265.8,520.1 267.8,520.2 269.8,520.3 271.8,520.5 273.8,520.6 275.8,520.8 277.8,520.9 279.8,521.1 281.7,521.4 283.7,521.8 285.7,522.0 287.7,522.2 289.7,522.3 291.6,522.7 293.3,523.7 294.7,525.1 296.0,526.7 296.0,532.2 28.1,532.2" fill="#fd4e40"/>
<polygon points="28.1,484.5 92.6,482.8 91.8,484.6 91.3,486.6 91.7,488.5 92.5,490.3 93.8,491.9 95.3,493.2 97.0,494.2 98.8,495.1 100.6,496.0 102.4,496.7 104.3,497.5 106.1,498.1 108.0,498.8 109.9,499.5 111.8,500.1 113.7,500.7 115.6,501.3 117.5,501.7 119.5,502.1 121.5,502.5 123.4,502.9 125.4,503.3 127.3,503.6 129.3,503.9 131.3,504.3 133.2,504.6 135.2,504.9 137.2,505.3 139.1,505.6 141.1,506.0 143.1,506.3 145.0,506.7 147.0,507.1 148.9,507.4 150.9,507.8 152.9,508.1 154.8,508.4 156.8,508.7 158.8,509.1 160.8,509.3 162.7,509.6 164.7,509.9 166.7,510.2 168.7,510.4 170.6,510.7 172.6,511.0 174.6,511.2 176.6,511.5 178.6,511.7 180.5,511.9 182.5,512.2 184.5,512.4 186.5,512.7 188.5,512.9 190.4,513.1 192.4,513.3 194.4,513.5 196.4,513.8 198.4,514.0 200.4,514.2 202.3,514.4 204.3,514.5 206.3,514.7 208.3,514.9 210.3,515.1 212.3,515.3 214.3,515.5 216.2,515.7 218.2,515.9 220.2,516.1 222.2,516.3 224.2,516.6 226.1,516.8 228.1,517.0 230.1,517.3 232.1,517.5 234.1,517.8 236.0,518.0 238.0,518.2 240.0,518.4 242.0,518.7 244.0,518.9 246.0,519.0 248.0,519.2 249.9,519.4 251.9,519.6 253.9,519.8 255.9,520.0 257.9,520.1 259.9,520.3 261.9,520.4 263.9,520.6 265.8,520.7 267.8,520.9 269.8,521.0 271.8,521.2 273.8,521.3 275.8,521.4 277.8,521.6 279.8,521.8 281.7,522.1 283.7,522.4 285.7,522.7 287.7,522.8 289.7,523.0 291.6,523.4 293.3,524.4 294.7,525.8 296.0,527.3 296.0,532.2 28.1,532.2" fill="#fd4840"/>
<polygon points="28.1,484.5 92.6,483.5 91.8,485.3 91.3,487.2 91.7,489.2 92.5,491.0 93.8,492.6 95.3,493.8 97.0,494.9 98.8,495.8 100.6,496.6 102.4,497.4 104.3,498.1 106.1,498.8 108.0,499.5 109.9,500.2 111.8,500.8 113.7,501.4 115.6,501.9 117.5,502.4 119.5,502.8 121.5,503.2 123.4,503.6 125.4,503.9 127.3,504.3 129.3,504.6 131.3,504.9 133.2,505.3 135.2,505.6 137.2,506.0 139.1,506.3 141.1,506.7 143.1,507.0 145.0,507.4 147.0,507.7 148.9,508.1 150.9,508.4 152.9,508.8 154.8,509.1 156.8,509.4 158.8,509.7 160.8,510.0 162.7,510.3 164.7,510.6 166.7,510.8 168.7,511.1 170.6,511.4 172.6,511.6 174.6,511.9 176.6,512.1 178.6,512.4 180.5,512.6 182.5,512.9 184.5,513.1 186.5,513.3 188.5,513.6 190.4,513.8 192.4,514.0 194.4,514.2 196.4,514.4 198.4,514.6 200.4,514.8 202.3,515.0 204.3,515.2 206.3,515.4 208.3,515.6 210.3,515.7 212.3,515.9 214.3,516.1 216.2,516.3 218.2,516.5 220.2,516.7 222.2,517.0 224.2,517.2 226.1,517.5 228.1,517.7 230.1,518.0 232.1,518.2 234.1,518.5 236.0,518.7 238.0,518.9 240.0,519.1 242.0,519.3 244.0,519.5 246.0,519.7 248.0,519.9 249.9,520.1 251.9,520.3 253.9,520.4 255.9,520.6 257.9,520.8 259.9,521.0 261.9,521.1 263.9,521.3 265.8,521.4 267.8,521.5 269.8,521.7 271.8,521.8 273.8,522.0 275.8,522.1 277.8,522.3 279.8,522.5 281.7,522.7 283.7,523.1 285.7,523.4 287.7,523.5 289.7,523.7 291.6,524.1 293.3,525.1 294.7,526.5 296.0,528.0 296.0,532.2 28.1,532.2" fill="#fd4141"/>
</g>
<path d="M92.60,481.50 C92.38,482.17 91.15,484.03 91.30,485.50 C91.45,486.97 92.25,488.92 93.50,490.30 C94.75,491.68 96.47,492.63 98.80,493.80 C101.13,494.97 104.30,496.18 107.50,497.30 C110.70,498.42 112.92,499.37 118.00,500.50 C123.08,501.63 131.33,502.92 138.00,504.10 C144.67,505.28 151.33,506.57 158.00,507.60 C164.67,508.63 171.33,509.47 178.00,510.30 C184.67,511.13 191.33,511.90 198.00,512.60 C204.67,513.30 211.33,513.78 218.00,514.50 C224.67,515.22 231.33,516.18 238.00,516.90 C244.67,517.62 251.33,518.23 258.00,518.80 C264.67,519.37 273.50,519.88 278.00,520.30 C282.50,520.72 282.67,520.98 285.00,521.30 C287.33,521.62 290.17,521.42 292.00,522.20 C293.83,522.98 295.33,525.37 296.00,526.00" fill="none" stroke="#000" stroke-opacity="0.78" stroke-width="1.05"/>
<path d="M98.80,481.30 C98.72,481.63 98.17,482.53 98.30,483.30 C98.43,484.07 98.65,485.02 99.60,485.90 C100.55,486.78 102.68,487.93 104.00,488.60 C105.32,489.27 105.17,489.05 107.50,489.90 C109.83,490.75 112.92,492.45 118.00,493.70 C123.08,494.95 131.33,496.20 138.00,497.40 C144.67,498.60 151.33,499.88 158.00,500.90 C164.67,501.92 171.33,502.62 178.00,503.50 C184.67,504.38 191.33,505.33 198.00,506.20 C204.67,507.07 211.33,507.90 218.00,508.70 C224.67,509.50 231.33,510.28 238.00,511.00 C244.67,511.72 251.33,512.17 258.00,513.00 C264.67,513.83 272.67,515.28 278.00,516.00 C283.33,516.72 286.33,516.87 290.00,517.30 C293.67,517.73 296.67,518.12 300.00,518.60 C303.33,519.08 307.33,519.75 310.00,520.20 C312.67,520.65 314.33,520.97 316.00,521.30 C317.67,521.63 318.83,521.42 320.00,522.20 C321.17,522.98 322.50,525.37 323.00,526.00" fill="none" stroke="#000" stroke-opacity="0.78" stroke-width="1.05"/>
<path d="M110.00,480.60 C111.33,480.88 113.33,481.45 118.00,482.30 C122.67,483.15 131.33,484.62 138.00,485.70 C144.67,486.78 151.33,487.82 158.00,488.80 C164.67,489.78 171.33,490.68 178.00,491.60 C184.67,492.52 191.33,493.43 198.00,494.30 C204.67,495.17 211.33,495.80 218.00,496.80 C224.67,497.80 231.33,499.23 238.00,500.30 C244.67,501.37 251.33,502.10 258.00,503.20 C264.67,504.30 272.67,505.93 278.00,506.90 C283.33,507.87 286.33,508.35 290.00,509.00 C293.67,509.65 296.67,510.07 300.00,510.80 C303.33,511.53 306.67,512.38 310.00,513.40 C313.33,514.42 317.33,515.80 320.00,516.90 C322.67,518.00 324.67,519.20 326.00,520.00 C327.33,520.80 327.57,521.33 328.00,521.70 C328.43,522.07 328.43,521.48 328.60,522.20 C328.77,522.92 328.93,525.37 329.00,526.00" fill="none" stroke="#000" stroke-opacity="0.78" stroke-width="1.05"/>
<text x="179.8" y="500.4" font-size="9.6" text-anchor="middle" fill="#000" transform="rotate(14.0 179.8 500.4)" stroke="#000">1 g/L</text>
<text x="131.6" y="518.4" font-size="9.6" text-anchor="middle" fill="#000" transform="rotate(12.0 131.6 518.4)" stroke="#000">30 g/L</text>
<text x="49.1" y="508.2" font-size="10" fill="#a50d0d" stroke="#a50d0d">Seawater</text>
<rect x="218.2" y="473.5" width="30.6" height="24.0" fill="#fff"/>
<rect x="258.5" y="476.0" width="29.5" height="22.0" fill="#fff"/>
<line x1="33.1" y1="480.5" x2="218.2" y2="480.5" stroke="#111" stroke-width="1.5" stroke-dasharray="4.3 2.2" stroke-dashoffset="-1.0"/>
<line x1="248.8" y1="480.5" x2="258.5" y2="480.5" stroke="#111" stroke-width="1.5" stroke-dasharray="4.3 2.2" stroke-dashoffset="-1.0"/>
<line x1="288.0" y1="480.5" x2="669.6" y2="480.5" stroke="#111" stroke-width="1.5" stroke-dasharray="4.3 2.2" stroke-dashoffset="-1.0"/>
<polyline points="33.1,484.5 60.0,483.7 86.6,482.8 92.0,481.8 96.2,480.7 103.2,480.5 105.8,477.5 116.3,475.8 125.1,471.4 131.2,469.9 146.1,469.6 158.5,469.2 200.0,466.5 250.0,462.6 287.3,460.2 372.0,457.5 423.4,456.3 540.1,448.1 612.8,447.3 633.6,445.9 669.6,442.4" fill="none" stroke="#111" stroke-width="1.2" stroke-linejoin="round"/>
<line x1="145.8" y1="469.6" x2="145.8" y2="482.0" stroke="#111" stroke-width="1.3"/>
<text x="147.3" y="454.4" font-size="9.0" text-anchor="middle" font-weight="bold" fill="#111"  stroke="#111">SIM 2</text>
<text x="147.3" y="465.5" font-size="9.0" text-anchor="middle" font-weight="normal" fill="#222"  stroke="#222">0.379 m</text>
<line x1="251.8" y1="462.5" x2="251.8" y2="501.2" stroke="#111" stroke-width="1.3"/>
<text x="253.5" y="447.3" font-size="9.0" text-anchor="middle" font-weight="bold" fill="#111"  stroke="#111">SIM 1</text>
<text x="253.5" y="458.4" font-size="9.0" text-anchor="middle" font-weight="normal" fill="#222"  stroke="#222">0.684 m</text>
<line x1="372.2" y1="457.5" x2="372.2" y2="503.5" stroke="#111" stroke-width="1.3"/>
<text x="373.3" y="442.1" font-size="9.0" text-anchor="middle" font-weight="bold" fill="#111"  stroke="#111">SIM 3</text>
<text x="373.3" y="453.2" font-size="9.0" text-anchor="middle" font-weight="normal" fill="#222"  stroke="#222">0.889 m</text>
<line x1="612.8" y1="447.3" x2="612.8" y2="522.2" stroke="#111" stroke-width="1.3"/>
<text x="613.2" y="426.3" font-size="9.0" text-anchor="middle" font-weight="bold" fill="#111"  stroke="#111">SIM 6</text>
<text x="613.2" y="437.4" font-size="9.0" text-anchor="middle" font-weight="normal" fill="#222"  stroke="#222">1.321 m</text>
<text x="220.3" y="482.0" font-size="9.6" text-anchor="start" font-weight="normal" fill="#222"  stroke="#222">30 g/L</text>
<text x="220.3" y="493.2" font-size="9.6" text-anchor="start" font-weight="normal" fill="#222"  stroke="#222">78 m</text>
<polygon points="213.3,520.8 215.6,514.1 219.8,518.0" fill="#111"/>
<line x1="234.0" y1="498.5" x2="217.2" y2="516.6" stroke="#111" stroke-width="1.7"/>
<text x="262.6" y="485.1" font-size="9.6" text-anchor="start" font-weight="normal" fill="#222"  stroke="#222">1 g/L</text>
<text x="262.6" y="496.3" font-size="9.6" text-anchor="start" font-weight="normal" fill="#222"  stroke="#222">92 m</text>
<polygon points="237.5,520.3 241.8,514.7 244.6,519.8" fill="#111"/>
<line x1="273.4" y1="500.9" x2="242.5" y2="517.6" stroke="#111" stroke-width="1.7"/>
<text x="68.8" y="466.1" font-size="9.6" text-anchor="start" font-weight="normal" fill="#111"  stroke="#111">SGD</text>
<polygon points="98.6,478.4 93.6,476.3 96.8,473.3" fill="#111"/>
<polyline points="73.4,468.4 89.2,468.4 95.7,475.3" fill="none" stroke="#111" stroke-width="1.1"/>
<polygon points="576.8,499.9 587.3,494.5 587.3,505.3" fill="#0b63c1"/>
<rect x="586.8" y="498.2" width="82.8" height="3.3" fill="#0b63c1"/>
<text x="618.3" y="515.8" font-size="9.5" text-anchor="start" font-weight="bold" fill="#0b63c1"  stroke="#0b63c1">2 ML/year</text>
<text x="527.3" y="515.6" font-size="9.6" text-anchor="start" font-weight="normal" fill="#26468c"  stroke="#26468c">Fresh water</text>
<rect x="621.5" y="454.8" width="39.5" height="37.5" rx="5" fill="#fff" fill-opacity="0.35"/>
<path d="M626.5,488.3 L626.5,458.8 A29.5,29.5 0 0 1 656.0,488.3 Z" fill="#fff" fill-opacity="0.5" stroke="#555" stroke-width="0.9"/>
<line x1="626.5" y1="488.3" x2="656.0" y2="488.3" stroke="#333" stroke-width="1.2"/>
<line x1="626.5" y1="488.3" x2="653.2" y2="475.8" stroke="#222" stroke-width="1"/>
<line x1="636.5" y1="488.3" x2="636.5" y2="483.6" stroke="#222" stroke-width="0.8"/>
<text x="629.2" y="477.9" font-size="9.6" text-anchor="start" font-weight="normal" fill="#1a1a1a"  stroke="#1a1a1a">25°</text>
</g>
<text x="40.8" y="423.6" font-size="9.8" fill="#111" stroke="#111"><tspan font-weight="bold">D.</tspan></text>
<text x="40.8" y="434.9" font-size="9.8" fill="#111" stroke="#111">K<tspan font-size="8.6" dy="2.2">x</tspan><tspan dy="-2.2" dx="0.7">/ K</tspan><tspan font-size="8.6" dy="2.2">y</tspan><tspan dy="-2.2" dx="1.0"> = 10</tspan></text>
<text x="40.8" y="448.5" font-size="9.8" fill="#111" stroke="#111">Angle = 25°</text>
<rect x="33.1" y="409.7" width="636.5" height="112.5" fill="none" stroke="#000" stroke-opacity="0.42" stroke-width="1.3"/>
<line x1="33.1" y1="522.2" x2="669.6" y2="522.2" stroke="#1a1a1a" stroke-width="1.3"/>
<path d="M33.1,508.7h3.0 M33.1,494.6h1.6 M33.1,480.5h3.0 M33.1,466.4h1.6 M33.1,452.3h3.0 M33.1,438.2h1.6 M33.1,424.1h3.0 M47.2,522.2v-1.6 M61.4,522.2v-1.6 M75.5,522.2v-1.6 M89.7,522.2v-1.6 M103.8,522.2v-3.0 M118.0,522.2v-1.6 M132.1,522.2v-1.6 M146.3,522.2v-1.6 M160.4,522.2v-1.6 M174.5,522.2v-3.0 M188.7,522.2v-1.6 M202.8,522.2v-1.6 M217.0,522.2v-1.6 M231.1,522.2v-1.6 M245.3,522.2v-3.0 M259.4,522.2v-1.6 M273.6,522.2v-1.6 M287.7,522.2v-1.6 M301.8,522.2v-1.6 M316.0,522.2v-3.0 M330.1,522.2v-1.6 M344.3,522.2v-1.6 M358.4,522.2v-1.6 M372.6,522.2v-1.6 M386.7,522.2v-3.0 M400.9,522.2v-1.6 M415.0,522.2v-1.6 M429.1,522.2v-1.6 M443.3,522.2v-1.6 M457.4,522.2v-3.0 M471.6,522.2v-1.6 M485.7,522.2v-1.6 M499.9,522.2v-1.6 M514.0,522.2v-1.6 M528.2,522.2v-3.0 M542.3,522.2v-1.6 M556.4,522.2v-1.6 M570.6,522.2v-1.6 M584.7,522.2v-1.6 M598.9,522.2v-3.0 M613.0,522.2v-1.6 M627.2,522.2v-1.6 M641.3,522.2v-1.6 M655.5,522.2v-1.6" stroke="#333" stroke-width="0.9" fill="none"/>
<text x="30.2" y="427.3" font-size="8.8" text-anchor="end" font-weight="normal" fill="#222"  stroke="#222">40</text>
<text x="30.2" y="455.5" font-size="8.8" text-anchor="end" font-weight="normal" fill="#222"  stroke="#222">20</text>
<text x="30.2" y="483.7" font-size="8.8" text-anchor="end" font-weight="normal" fill="#222"  stroke="#222">0</text>
<text x="30.2" y="511.9" font-size="8.8" text-anchor="end" font-weight="normal" fill="#222"  stroke="#222">−20</text>
<text x="33.1" y="531.6" font-size="8.8" text-anchor="middle" font-weight="normal" fill="#222"  stroke="#222">−50</text>
<text x="103.8" y="531.6" font-size="8.8" text-anchor="middle" font-weight="normal" fill="#222"  stroke="#222">0</text>
<text x="174.5" y="531.6" font-size="8.8" text-anchor="middle" font-weight="normal" fill="#222"  stroke="#222">50</text>
<text x="245.3" y="531.6" font-size="8.8" text-anchor="middle" font-weight="normal" fill="#222"  stroke="#222">100</text>
<text x="316.0" y="531.6" font-size="8.8" text-anchor="middle" font-weight="normal" fill="#222"  stroke="#222">150</text>
<text x="386.7" y="531.6" font-size="8.8" text-anchor="middle" font-weight="normal" fill="#222"  stroke="#222">200</text>
<text x="457.4" y="531.6" font-size="8.8" text-anchor="middle" font-weight="normal" fill="#222"  stroke="#222">250</text>
<text x="528.2" y="531.6" font-size="8.8" text-anchor="middle" font-weight="normal" fill="#222"  stroke="#222">300</text>
<text x="598.9" y="531.6" font-size="8.8" text-anchor="middle" font-weight="normal" fill="#222"  stroke="#222">350</text>
<text x="669.6" y="531.6" font-size="8.8" text-anchor="middle" font-weight="normal" fill="#222"  stroke="#222">400</text>
<text x="8.6" y="466.0" font-size="8.8" text-anchor="middle" fill="#222" transform="rotate(-90 8.6 466.0)" stroke="#222">Elevation (mASL)</text>
<text x="351.0" y="543.0" font-size="9.0" text-anchor="middle" font-weight="normal" fill="#222"  stroke="#222">Distance (m)</text>
<defs><linearGradient id="cbg" x1="0" x2="1" y1="0" y2="0"><stop offset="0.000" stop-color="#fafafc"/><stop offset="0.025" stop-color="#edf3f9"/><stop offset="0.050" stop-color="#e0ecf6"/><stop offset="0.075" stop-color="#d4e6f2"/><stop offset="0.100" stop-color="#c7dfef"/><stop offset="0.125" stop-color="#bad8ec"/><stop offset="0.150" stop-color="#add1e9"/><stop offset="0.175" stop-color="#a0cae6"/><stop offset="0.200" stop-color="#94c4e2"/><stop offset="0.225" stop-color="#87bddf"/><stop offset="0.250" stop-color="#7ab6dc"/><stop offset="0.275" stop-color="#7ab8d2"/><stop offset="0.300" stop-color="#7bbac8"/><stop offset="0.325" stop-color="#7bbcbf"/><stop offset="0.350" stop-color="#7cbeb5"/><stop offset="0.375" stop-color="#7cc0ab"/><stop offset="0.400" stop-color="#7cc2a1"/><stop offset="0.425" stop-color="#7dc497"/><stop offset="0.450" stop-color="#7dc68e"/><stop offset="0.475" stop-color="#7ec884"/><stop offset="0.500" stop-color="#7eca7a"/><stop offset="0.525" stop-color="#8ac973"/><stop offset="0.550" stop-color="#97c86c"/><stop offset="0.575" stop-color="#a3c765"/><stop offset="0.600" stop-color="#b0c65e"/><stop offset="0.625" stop-color="#bcc456"/><stop offset="0.650" stop-color="#c9c34f"/><stop offset="0.675" stop-color="#d6c248"/><stop offset="0.700" stop-color="#e2c141"/><stop offset="0.725" stop-color="#eec03a"/><stop offset="0.750" stop-color="#fbbf33"/><stop offset="0.775" stop-color="#fbb234"/><stop offset="0.800" stop-color="#fba636"/><stop offset="0.825" stop-color="#fc9937"/><stop offset="0.850" stop-color="#fc8d39"/><stop offset="0.875" stop-color="#fc803a"/><stop offset="0.900" stop-color="#fc733b"/><stop offset="0.925" stop-color="#fc673d"/><stop offset="0.950" stop-color="#fd5a3e"/><stop offset="0.975" stop-color="#fd4e40"/><stop offset="1.000" stop-color="#fd4141"/></linearGradient></defs>
<rect x="33.0" y="551.6" width="636.8" height="11.8" fill="url(#cbg)" stroke="#6a6a6a" stroke-width="1.1"/>
<line x1="33.0" y1="563.4" x2="33.0" y2="566.4" stroke="#333" stroke-width="0.9"/>
<text x="33.0" y="576.4" font-size="9.2" text-anchor="middle" font-weight="normal" fill="#222"  stroke="#222">360</text>
<line x1="192.2" y1="563.4" x2="192.2" y2="566.4" stroke="#333" stroke-width="0.9"/>
<text x="192.2" y="576.4" font-size="9.2" text-anchor="middle" font-weight="normal" fill="#222"  stroke="#222">1139</text>
<line x1="351.4" y1="563.4" x2="351.4" y2="566.4" stroke="#333" stroke-width="0.9"/>
<text x="351.4" y="576.4" font-size="9.2" text-anchor="middle" font-weight="normal" fill="#222"  stroke="#222">3600</text>
<line x1="510.6" y1="563.4" x2="510.6" y2="566.4" stroke="#333" stroke-width="0.9"/>
<text x="510.6" y="576.4" font-size="9.2" text-anchor="middle" font-weight="normal" fill="#222"  stroke="#222">11385</text>
<line x1="669.8" y1="563.4" x2="669.8" y2="566.4" stroke="#333" stroke-width="0.9"/>
<text x="669.8" y="576.4" font-size="9.2" text-anchor="middle" font-weight="normal" fill="#222"  stroke="#222">36000</text>
<text x="351.2" y="589.0" font-size="9.7" text-anchor="middle" font-weight="normal" fill="#222"  stroke="#222">Mass Concentration [mg/l]</text>
</svg></body></html>
